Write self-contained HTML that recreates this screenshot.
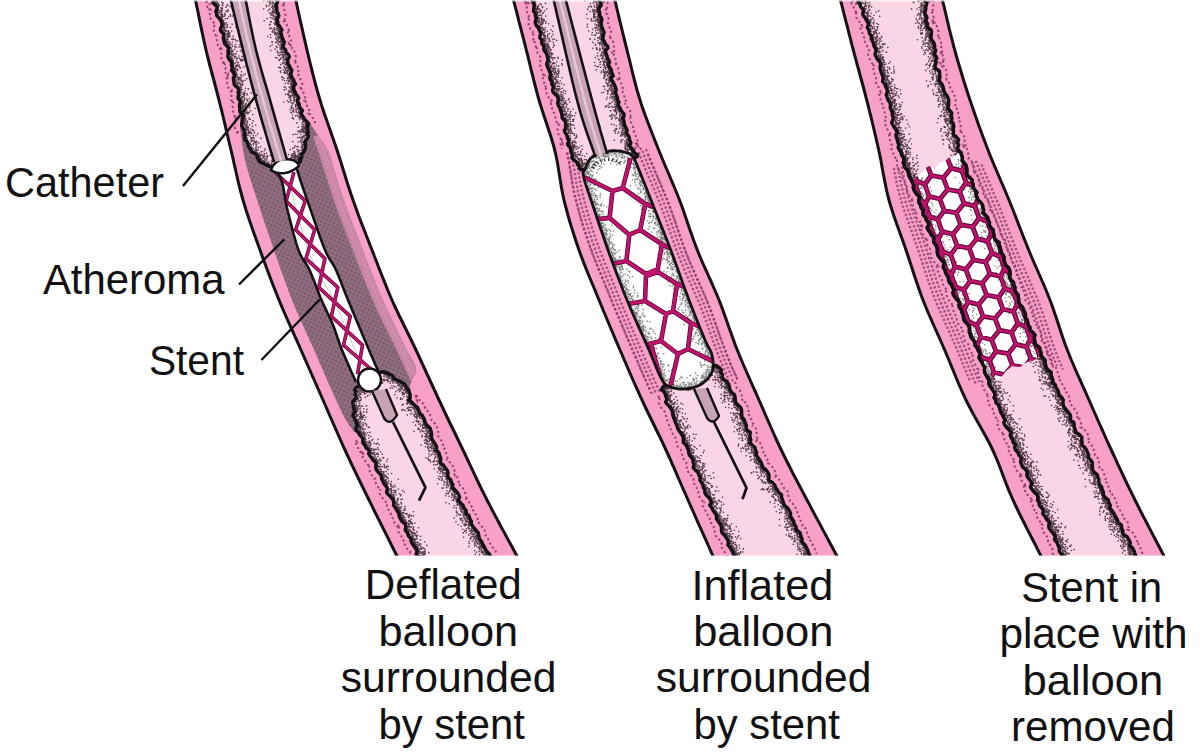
<!DOCTYPE html>
<html><head><meta charset="utf-8"><style>
html,body{margin:0;padding:0;background:#fff;width:1200px;height:754px;overflow:hidden}
svg{display:block}
text{font-family:"Liberation Sans",sans-serif;font-size:42.5px;fill:#111}
</style></head><body>
<svg width="1200" height="754" viewBox="0 0 1200 754">
<defs><clipPath id="tube0"><path d="M194.8,-3.0 194.8,-2.9 194.8,-3.2 194.7,-3.6 194.6,-4.1 194.5,-4.4 194.5,-4.6 194.6,-4.4 194.7,-3.6 195.0,-2.2 195.5,0.0 196.1,3.1 196.9,7.0 197.9,11.5 198.9,16.6 200.0,22.1 201.1,27.7 202.4,33.5 203.6,39.2 204.8,44.8 206.0,50.0 207.2,55.0 208.5,60.0 209.7,65.0 211.1,70.0 212.4,75.0 213.8,80.0 215.1,85.0 216.4,90.0 217.7,95.0 219.0,100.0 220.2,105.0 221.5,110.0 222.7,115.0 223.9,120.0 225.1,125.0 226.2,130.0 227.4,135.0 228.6,140.0 229.8,145.0 231.0,150.0 232.2,155.0 233.3,160.0 234.4,165.0 235.6,170.0 236.7,175.0 237.8,180.0 239.0,185.0 240.3,190.0 241.6,195.0 243.0,200.0 244.5,205.0 246.0,210.0 247.7,215.0 249.3,220.0 251.1,225.0 252.8,230.0 254.6,235.0 256.4,240.0 258.2,245.0 260.0,250.0 261.8,255.0 263.6,260.0 265.5,265.0 267.3,270.0 269.2,275.0 271.1,280.0 273.0,285.0 275.0,290.0 277.0,295.0 279.0,300.0 281.1,305.0 283.2,310.0 285.4,315.0 287.6,320.0 289.8,325.0 292.1,330.0 294.3,335.0 296.6,340.0 298.8,345.0 301.0,350.0 303.2,355.0 305.4,360.0 307.6,365.0 309.8,370.0 312.0,375.0 314.2,380.0 316.4,385.0 318.6,390.0 320.8,395.0 323.0,400.0 325.2,405.0 327.4,410.0 329.5,415.0 331.7,420.0 333.9,425.0 336.1,430.0 338.3,435.0 340.5,440.0 342.7,445.0 345.0,450.0 347.3,455.0 349.6,459.9 351.9,464.8 354.2,469.7 356.6,474.6 359.0,479.5 361.4,484.5 363.9,489.6 366.4,494.7 369.0,500.0 371.7,505.4 374.4,511.0 377.2,516.6 380.1,522.3 383.0,528.1 385.9,533.9 388.8,539.7 391.7,545.5 394.6,551.3 397.5,557.0 L517.5,557.0 514.4,551.3 511.3,545.5 508.1,539.7 505.0,533.9 501.8,528.1 498.7,522.3 495.7,516.6 492.7,511.0 489.8,505.4 487.0,500.0 484.3,494.7 481.8,489.6 479.3,484.5 476.9,479.5 474.6,474.6 472.3,469.7 470.0,464.8 467.7,459.9 465.4,455.0 463.0,450.0 460.6,445.0 458.2,440.0 455.8,435.0 453.4,430.0 450.9,425.0 448.5,420.0 446.1,415.0 443.7,410.0 441.4,405.0 439.0,400.0 436.7,395.0 434.4,390.0 432.1,385.0 429.8,380.0 427.5,375.0 425.2,370.0 422.9,365.0 420.6,360.0 418.3,355.0 416.0,350.0 413.6,345.0 411.2,340.0 408.7,335.0 406.3,330.0 403.8,325.0 401.4,320.0 398.9,315.0 396.6,310.0 394.2,305.0 392.0,300.0 389.8,295.0 387.7,290.0 385.7,285.0 383.7,280.0 381.7,275.0 379.7,270.0 377.8,265.0 375.9,260.0 373.9,255.0 372.0,250.0 370.0,245.0 368.1,240.0 366.1,235.0 364.2,230.0 362.2,225.0 360.3,220.0 358.4,215.0 356.6,210.0 354.8,205.0 353.0,200.0 351.3,195.0 349.6,190.0 348.0,185.0 346.4,180.0 344.9,175.0 343.3,170.0 341.8,165.0 340.2,160.0 338.6,155.0 337.0,150.0 335.3,145.0 333.6,140.0 331.8,135.0 330.1,130.0 328.3,125.0 326.6,120.0 324.8,115.0 323.2,110.0 321.5,105.0 320.0,100.0 318.5,95.0 317.1,90.0 315.7,85.0 314.4,80.0 313.1,75.0 311.9,70.0 310.6,65.0 309.4,60.0 308.2,55.0 307.0,50.0 305.8,44.8 304.5,39.2 303.2,33.5 301.9,27.7 300.6,22.1 299.4,16.6 298.3,11.5 297.3,7.0 296.5,3.1 295.8,0.0 295.3,-2.2 295.0,-3.6 294.8,-4.4 294.7,-4.6 294.7,-4.4 294.8,-4.1 294.9,-3.6 295.0,-3.2 295.0,-2.9 295.0,-3.0Z"/></clipPath>
<clipPath id="tube1"><path d="M512.8,-3.0 512.8,-2.9 512.7,-3.2 512.6,-3.6 512.5,-4.1 512.4,-4.4 512.3,-4.6 512.4,-4.4 512.6,-3.6 512.9,-2.2 513.5,0.0 514.3,3.1 515.3,7.0 516.5,11.5 517.8,16.6 519.1,22.1 520.6,27.7 522.1,33.5 523.6,39.2 525.0,44.8 526.3,50.0 527.6,55.0 528.8,60.0 530.0,65.0 531.2,70.0 532.5,75.0 533.7,80.0 535.0,85.0 536.3,90.0 537.6,95.0 539.0,100.0 540.5,105.0 542.1,110.0 543.7,115.0 545.4,120.0 547.1,125.0 548.7,130.0 550.4,135.0 551.9,140.0 553.4,145.0 554.7,150.0 555.9,155.0 556.9,160.0 557.8,165.0 558.6,170.0 559.4,175.0 560.2,180.0 561.0,185.0 561.9,190.0 562.9,195.0 564.0,200.0 565.2,205.0 566.6,210.0 567.9,215.0 569.3,220.0 570.8,225.0 572.4,230.0 574.0,235.0 575.6,240.0 577.3,245.0 579.0,250.0 580.8,255.0 582.7,260.0 584.6,265.0 586.6,270.0 588.6,275.0 590.7,280.0 592.8,285.0 594.9,290.0 596.9,295.0 599.0,300.0 601.1,305.0 603.1,310.0 605.2,315.0 607.3,320.0 609.4,325.0 611.5,330.0 613.6,335.0 615.7,340.0 617.9,345.0 620.0,350.0 622.2,355.0 624.3,360.0 626.5,365.0 628.6,370.0 630.8,375.0 633.0,380.0 635.2,385.0 637.5,390.0 639.7,395.0 642.0,400.0 644.3,405.0 646.7,410.0 649.1,415.0 651.6,420.0 654.0,425.0 656.4,430.0 658.9,435.0 661.3,440.0 663.7,445.0 666.0,450.0 668.3,455.0 670.5,459.9 672.6,464.8 674.8,469.7 676.9,474.6 679.0,479.5 681.2,484.5 683.4,489.6 685.7,494.7 688.0,500.0 690.4,505.4 692.9,511.0 695.4,516.6 697.9,522.3 700.5,528.1 703.1,533.9 705.7,539.7 708.3,545.5 710.9,551.3 713.5,557.0 L837.5,557.0 834.4,551.3 831.3,545.5 828.2,539.7 825.1,533.9 822.0,528.1 818.9,522.3 815.8,516.6 812.8,511.0 809.9,505.4 807.0,500.0 804.2,494.7 801.5,489.6 798.8,484.5 796.2,479.5 793.6,474.6 791.1,469.7 788.6,464.8 786.1,459.9 783.7,455.0 781.3,450.0 778.9,445.0 776.6,440.0 774.3,435.0 772.1,430.0 769.9,425.0 767.7,420.0 765.5,415.0 763.4,410.0 761.2,405.0 759.0,400.0 756.8,395.0 754.6,390.0 752.3,385.0 750.1,380.0 747.9,375.0 745.7,370.0 743.5,365.0 741.4,360.0 739.3,355.0 737.3,350.0 735.3,345.0 733.5,340.0 731.7,335.0 729.9,330.0 728.1,325.0 726.4,320.0 724.6,315.0 722.8,310.0 721.0,305.0 719.0,300.0 717.0,295.0 714.8,290.0 712.6,285.0 710.4,280.0 708.1,275.0 705.9,270.0 703.6,265.0 701.4,260.0 699.3,255.0 697.3,250.0 695.4,245.0 693.5,240.0 691.8,235.0 690.0,230.0 688.3,225.0 686.6,220.0 684.9,215.0 683.2,210.0 681.4,205.0 679.5,200.0 677.5,195.0 675.5,190.0 673.4,185.0 671.3,180.0 669.2,175.0 667.0,170.0 664.9,165.0 662.8,160.0 660.7,155.0 658.7,150.0 656.7,145.0 654.7,140.0 652.8,135.0 650.8,130.0 648.9,125.0 647.0,120.0 645.1,115.0 643.3,110.0 641.6,105.0 640.0,100.0 638.5,95.0 637.0,90.0 635.7,85.0 634.4,80.0 633.1,75.0 631.9,70.0 630.7,65.0 629.5,60.0 628.2,55.0 627.0,50.0 625.7,44.8 624.3,39.2 622.9,33.5 621.5,27.7 620.1,22.1 618.8,16.6 617.6,11.5 616.5,7.0 615.6,3.1 614.8,0.0 614.2,-2.2 613.9,-3.6 613.7,-4.4 613.6,-4.6 613.6,-4.4 613.7,-4.1 613.7,-3.6 613.8,-3.2 613.8,-2.9 613.8,-3.0Z"/></clipPath>
<clipPath id="tube2"><path d="M839.8,-3.0 839.8,-2.9 839.7,-3.2 839.6,-3.6 839.5,-4.1 839.4,-4.4 839.3,-4.6 839.4,-4.4 839.6,-3.6 839.9,-2.2 840.5,0.0 841.3,3.1 842.3,7.0 843.4,11.5 844.7,16.6 846.1,22.1 847.6,27.7 849.0,33.5 850.5,39.2 851.9,44.8 853.3,50.0 854.6,55.0 856.0,60.0 857.3,65.0 858.7,70.0 860.0,75.0 861.4,80.0 862.8,85.0 864.1,90.0 865.4,95.0 866.7,100.0 868.0,105.0 869.2,110.0 870.5,115.0 871.7,120.0 872.9,125.0 874.1,130.0 875.3,135.0 876.4,140.0 877.6,145.0 878.7,150.0 879.8,155.0 880.8,160.0 881.7,165.0 882.6,170.0 883.5,175.0 884.5,180.0 885.5,185.0 886.5,190.0 887.7,195.0 889.0,200.0 890.4,205.0 892.0,210.0 893.6,215.0 895.3,220.0 897.1,225.0 898.9,230.0 900.7,235.0 902.5,240.0 904.3,245.0 906.0,250.0 907.7,255.0 909.3,260.0 911.0,265.0 912.6,270.0 914.2,275.0 915.9,280.0 917.6,285.0 919.3,290.0 921.1,295.0 923.0,300.0 925.0,305.0 927.0,310.0 929.2,315.0 931.4,320.0 933.6,325.0 935.8,330.0 938.1,335.0 940.3,340.0 942.5,345.0 944.7,350.0 946.8,355.0 948.9,360.0 950.9,365.0 953.0,370.0 955.0,375.0 957.1,380.0 959.2,385.0 961.4,390.0 963.7,395.0 966.0,400.0 968.5,405.0 971.1,410.0 973.8,415.0 976.6,420.0 979.4,425.0 982.2,430.0 985.0,435.0 987.7,440.0 990.3,445.0 992.7,450.0 995.0,455.0 997.0,459.9 999.0,464.8 1000.9,469.7 1002.7,474.6 1004.6,479.5 1006.5,484.5 1008.5,489.6 1010.7,494.7 1013.0,500.0 1015.5,505.4 1018.2,511.0 1020.9,516.6 1023.8,522.3 1026.7,528.1 1029.7,533.9 1032.7,539.7 1035.7,545.5 1038.6,551.3 1041.5,557.0 L1164.5,557.0 1161.5,551.3 1158.5,545.5 1155.5,539.7 1152.4,533.9 1149.4,528.1 1146.4,522.3 1143.4,516.6 1140.5,511.0 1137.7,505.4 1135.0,500.0 1132.4,494.7 1129.9,489.6 1127.4,484.5 1125.0,479.5 1122.7,474.6 1120.4,469.7 1118.1,464.8 1115.9,459.9 1113.6,455.0 1111.3,450.0 1109.0,445.0 1106.7,440.0 1104.5,435.0 1102.3,430.0 1100.0,425.0 1097.8,420.0 1095.6,415.0 1093.4,410.0 1091.2,405.0 1089.0,400.0 1086.8,395.0 1084.6,390.0 1082.3,385.0 1080.1,380.0 1077.8,375.0 1075.6,370.0 1073.5,365.0 1071.3,360.0 1069.3,355.0 1067.3,350.0 1065.4,345.0 1063.6,340.0 1061.9,335.0 1060.3,330.0 1058.6,325.0 1057.0,320.0 1055.3,315.0 1053.6,310.0 1051.9,305.0 1050.0,300.0 1048.0,295.0 1046.0,290.0 1043.9,285.0 1041.7,280.0 1039.5,275.0 1037.3,270.0 1035.1,265.0 1032.9,260.0 1030.8,255.0 1028.7,250.0 1026.7,245.0 1024.7,240.0 1022.7,235.0 1020.8,230.0 1018.8,225.0 1016.9,220.0 1015.0,215.0 1013.0,210.0 1011.0,205.0 1009.0,200.0 1006.9,195.0 1004.8,190.0 1002.7,185.0 1000.5,180.0 998.4,175.0 996.2,170.0 994.1,165.0 992.0,160.0 990.0,155.0 988.0,150.0 986.1,145.0 984.2,140.0 982.3,135.0 980.5,130.0 978.6,125.0 976.9,120.0 975.1,115.0 973.4,110.0 971.7,105.0 970.0,100.0 968.3,95.0 966.7,90.0 965.1,85.0 963.5,80.0 962.0,75.0 960.5,70.0 959.0,65.0 957.5,60.0 956.1,55.0 954.7,50.0 953.3,44.8 951.9,39.2 950.4,33.5 949.0,27.7 947.7,22.1 946.4,16.6 945.2,11.5 944.2,7.0 943.2,3.1 942.5,0.0 942.0,-2.2 941.6,-3.6 941.4,-4.4 941.4,-4.6 941.4,-4.4 941.5,-4.1 941.6,-3.6 941.8,-3.2 941.8,-2.9 941.8,-3.0Z"/></clipPath>
<filter id="bl2" x="-20%" y="-20%" width="140%" height="140%"><feGaussianBlur stdDeviation="2"/></filter>
<filter id="bl3" x="-20%" y="-20%" width="140%" height="140%"><feGaussianBlur stdDeviation="3"/></filter>
<filter id="bl4" x="-20%" y="-20%" width="140%" height="140%"><feGaussianBlur stdDeviation="4"/></filter>
<pattern id="athp" width="4" height="4" patternUnits="userSpaceOnUse" patternTransform="rotate(25)"><rect width="4" height="4" fill="#8f6e80"/><circle cx="1" cy="1" r="0.8" fill="#5c3a4c"/></pattern>
<clipPath id="lum7"><path d="M212.3,-3.0 212.3,-2.8 212.3,-2.7 212.3,-2.6 212.3,-2.6 212.3,-2.6 212.3,-2.4 212.3,-2.1 212.5,-1.7 212.7,-1.0 213.0,0.0 213.4,1.3 214.0,2.9 214.6,4.8 215.3,6.8 216.1,8.9 216.9,11.2 217.7,13.5 218.4,15.7 219.1,17.9 219.7,20.0 220.2,22.0 220.7,24.0 221.2,26.0 221.6,28.0 222.1,30.0 222.5,32.0 222.9,34.0 223.3,36.0 223.8,38.0 224.3,40.0 224.8,42.0 225.4,44.0 226.0,46.0 226.6,48.0 227.2,50.0 227.7,52.0 228.3,54.0 228.9,56.0 229.5,58.0 230.0,60.0 230.5,62.0 231.0,64.0 231.5,66.0 231.9,68.0 232.4,70.0 232.8,72.0 233.3,74.0 233.7,76.0 234.1,78.0 234.6,80.0 235.1,82.0 235.5,84.0 236.0,86.0 236.5,88.0 237.0,90.0 237.5,92.0 238.0,94.0 238.4,96.0 238.8,98.0 239.2,100.0 239.5,102.0 239.9,104.0 240.1,106.0 240.4,108.0 240.7,110.0 240.9,112.0 241.2,114.0 241.4,116.0 241.7,118.0 242.0,120.0 242.3,122.0 242.6,124.1 242.8,126.1 243.1,128.2 243.4,130.2 243.7,132.3 244.1,134.3 244.5,136.3 245.1,138.2 245.7,140.0 246.5,141.8 247.3,143.6 248.3,145.3 249.4,147.0 250.5,148.7 251.6,150.3 252.7,151.8 253.9,153.3 255.0,154.7 256.0,156.0 257.0,157.2 257.9,158.3 258.8,159.3 259.6,160.3 260.5,161.2 261.4,162.0 262.4,162.8 263.5,163.6 264.7,164.3 266.0,165.0 267.5,165.7 269.1,166.3 270.8,166.8 272.6,167.3 274.5,167.8 276.4,168.2 278.3,168.6 280.3,169.1 282.2,169.5 284.0,170.0 L284.0,170.0 285.3,169.3 286.7,168.6 288.2,167.9 289.6,167.2 291.0,166.4 292.4,165.7 293.7,165.0 294.9,164.3 296.0,163.7 297.0,163.0 297.8,162.4 298.5,161.9 299.1,161.4 299.6,161.0 300.1,160.5 300.5,160.0 300.8,159.4 301.2,158.8 301.6,158.0 302.0,157.0 302.4,155.9 302.9,154.5 303.3,153.1 303.7,151.5 304.1,149.9 304.5,148.2 304.9,146.6 305.3,145.0 305.7,143.4 306.0,142.0 306.4,140.7 306.7,139.4 307.1,138.1 307.5,136.9 307.9,135.7 308.2,134.5 308.5,133.4 308.7,132.2 308.8,131.1 308.8,130.0 308.7,129.0 308.5,128.0 308.3,127.2 307.9,126.3 307.5,125.5 307.1,124.6 306.6,123.7 306.1,122.6 305.6,121.4 305.0,120.0 304.4,118.4 303.7,116.6 303.0,114.7 302.2,112.7 301.4,110.6 300.6,108.5 299.8,106.3 299.0,104.2 298.3,102.0 297.7,100.0 297.1,98.0 296.6,96.0 296.1,94.0 295.6,92.0 295.2,90.0 294.7,88.0 294.3,86.0 293.9,84.0 293.5,82.0 293.0,80.0 292.5,78.0 292.1,76.0 291.6,74.0 291.2,72.0 290.8,70.0 290.3,68.0 289.9,66.0 289.4,64.0 288.9,62.0 288.4,60.0 287.9,58.0 287.3,56.0 286.8,54.0 286.2,52.0 285.6,50.0 285.0,48.0 284.4,46.0 283.9,44.0 283.3,42.0 282.8,40.0 282.3,38.0 281.8,36.0 281.3,34.0 280.8,32.0 280.3,30.0 279.8,28.0 279.4,26.0 278.9,24.0 278.5,22.0 278.2,20.0 277.9,17.9 277.6,15.7 277.4,13.5 277.2,11.2 277.0,8.9 276.8,6.8 276.7,4.8 276.5,2.9 276.4,1.3 276.3,0.0 276.2,-1.0 276.1,-1.7 276.0,-2.1 276.0,-2.4 276.0,-2.6 275.9,-2.6 275.9,-2.6 275.9,-2.7 275.8,-2.8 275.8,-3.0Z"/></clipPath>
<clipPath id="lum8"><path d="M369.0,380.0 367.8,380.8 366.5,381.5 365.1,382.3 363.8,383.0 362.4,383.8 361.2,384.5 359.9,385.3 358.8,386.1 357.8,387.0 357.0,388.0 356.3,389.0 355.8,390.0 355.3,391.1 355.0,392.1 354.7,393.2 354.5,394.4 354.3,395.7 354.2,397.0 354.1,398.5 354.0,400.0 353.9,401.7 353.8,403.5 353.8,405.4 353.8,407.4 353.9,409.5 354.0,411.6 354.1,413.7 354.4,415.9 354.6,418.0 355.0,420.0 355.5,422.0 356.0,424.1 356.7,426.3 357.4,428.4 358.1,430.5 358.9,432.6 359.7,434.6 360.5,436.5 361.3,438.3 362.0,440.0 362.7,441.5 363.3,442.7 364.0,443.8 364.6,444.8 365.2,445.8 365.9,446.8 366.6,447.8 367.3,449.0 368.1,450.4 369.0,452.0 369.9,453.8 370.9,455.9 372.0,458.0 373.1,460.3 374.2,462.7 375.3,465.1 376.5,467.6 377.7,470.1 378.8,472.6 380.0,475.0 381.2,477.4 382.3,479.8 383.5,482.3 384.7,484.8 385.9,487.2 387.1,489.8 388.3,492.3 389.5,494.8 390.8,497.4 392.0,500.0 393.3,502.6 394.5,505.2 395.8,507.9 397.1,510.5 398.4,513.2 399.7,515.9 401.0,518.6 402.3,521.4 403.7,524.2 405.0,527.0 406.4,529.9 407.7,532.8 409.1,535.8 410.5,538.8 411.9,541.8 413.4,544.9 414.8,547.9 416.2,551.0 417.6,554.0 419.0,557.0 L490.0,557.0 488.4,554.0 486.8,551.0 485.1,547.9 483.5,544.9 481.9,541.8 480.3,538.8 478.7,535.8 477.1,532.8 475.5,529.9 474.0,527.0 472.5,524.2 471.0,521.4 469.6,518.6 468.2,515.9 466.8,513.2 465.4,510.5 464.0,507.9 462.6,505.2 461.3,502.6 460.0,500.0 458.7,497.4 457.5,494.9 456.2,492.4 455.0,489.9 453.8,487.4 452.6,484.9 451.5,482.4 450.3,480.0 449.2,477.5 448.0,475.0 446.9,472.5 445.8,470.1 444.7,467.7 443.6,465.2 442.5,462.8 441.4,460.4 440.3,457.9 439.2,455.3 438.1,452.7 437.0,450.0 435.8,447.2 434.7,444.2 433.5,441.1 432.4,437.9 431.2,434.7 430.0,431.5 428.8,428.4 427.5,425.4 426.3,422.6 425.0,420.0 423.6,417.6 422.2,415.3 420.7,413.1 419.1,411.0 417.6,409.0 416.0,407.1 414.6,405.2 413.3,403.5 412.0,401.7 411.0,400.0 410.2,398.3 409.5,396.7 409.1,395.2 408.7,393.7 408.4,392.2 408.1,390.9 407.7,389.6 407.3,388.3 406.7,387.1 406.0,386.0 405.1,384.9 404.0,384.0 402.9,383.1 401.7,382.3 400.4,381.5 399.1,380.8 397.7,380.1 396.4,379.4 395.2,378.7 394.0,378.0 392.9,377.3 391.8,376.4 390.7,375.6 389.7,374.8 388.6,374.0 387.6,373.3 386.5,372.7 385.4,372.3 384.2,372.0 383.0,372.0 381.7,372.2 380.4,372.7 379.0,373.4 377.6,374.2 376.2,375.1 374.7,376.1 373.3,377.2 371.8,378.2 370.4,379.1 369.0,380.0Z"/></clipPath>
<clipPath id="lum9"><path d="M531.5,-3.0 531.6,-2.8 531.6,-2.7 531.6,-2.6 531.7,-2.6 531.7,-2.6 531.8,-2.4 531.8,-2.1 532.0,-1.7 532.1,-1.0 532.3,0.0 532.5,1.3 532.8,2.9 533.1,4.8 533.5,6.8 533.8,8.9 534.2,11.2 534.7,13.5 535.1,15.7 535.5,17.9 536.0,20.0 536.5,22.0 537.0,24.0 537.5,26.0 538.1,28.0 538.7,30.0 539.3,32.0 539.9,34.0 540.5,36.0 541.0,38.0 541.6,40.0 542.2,42.0 542.7,44.0 543.3,46.0 543.9,48.0 544.5,50.0 545.0,52.0 545.6,54.0 546.1,56.0 546.6,58.0 547.1,60.0 547.5,62.0 547.9,64.0 548.3,66.0 548.6,68.0 548.9,70.0 549.2,72.0 549.5,74.0 549.9,76.0 550.3,78.0 550.8,80.0 551.3,82.0 551.9,84.0 552.5,86.0 553.2,88.0 553.9,90.0 554.6,92.0 555.3,94.0 556.0,96.0 556.6,98.0 557.3,100.0 558.0,102.0 558.6,104.0 559.3,106.0 560.0,108.0 560.7,110.0 561.4,112.0 562.0,114.0 562.7,116.0 563.3,118.0 563.8,120.0 564.3,122.0 564.7,124.1 565.2,126.3 565.5,128.4 565.9,130.5 566.2,132.6 566.6,134.6 566.9,136.5 567.2,138.3 567.6,140.0 567.9,141.5 568.2,142.8 568.4,144.0 568.6,145.1 568.8,146.1 569.0,147.2 569.4,148.2 569.8,149.3 570.3,150.6 571.0,152.0 571.8,153.7 572.8,155.7 573.8,158.0 574.9,160.4 576.1,162.7 577.4,164.9 578.8,166.8 580.1,168.4 581.6,169.5 583.0,170.0 584.5,169.8 586.1,169.1 587.7,167.9 589.4,166.4 591.2,164.6 593.0,162.6 594.7,160.5 596.5,158.5 598.3,156.6 600.0,155.0 L600.0,155.0 603.6,155.3 607.4,155.8 611.3,156.2 615.3,156.7 619.2,157.2 622.9,157.6 626.4,157.9 629.4,158.1 632.0,158.1 634.0,158.0 635.3,157.7 636.1,157.1 636.4,156.5 636.3,155.7 635.9,154.8 635.3,153.9 634.6,152.9 634.0,151.9 633.4,150.9 633.0,150.0 632.7,149.1 632.4,148.3 632.0,147.5 631.6,146.6 631.1,145.8 630.7,144.8 630.2,143.8 629.7,142.7 629.3,141.4 628.8,140.0 628.4,138.4 627.9,136.6 627.5,134.7 627.1,132.7 626.6,130.6 626.2,128.5 625.7,126.3 625.2,124.2 624.7,122.0 624.2,120.0 623.6,118.0 623.0,116.0 622.3,114.0 621.7,112.0 621.0,110.0 620.3,108.0 619.6,106.0 618.9,104.0 618.3,102.0 617.7,100.0 617.2,98.0 616.6,96.0 616.2,94.0 615.7,92.0 615.2,90.0 614.8,88.0 614.3,86.0 613.9,84.0 613.5,82.0 613.0,80.0 612.5,78.0 612.1,76.0 611.6,74.0 611.1,72.0 610.6,70.0 610.2,68.0 609.7,66.0 609.3,64.0 608.8,62.0 608.4,60.0 608.0,58.0 607.6,56.0 607.2,54.0 606.9,52.0 606.5,50.0 606.1,48.0 605.8,46.0 605.4,44.0 605.1,42.0 604.7,40.0 604.3,38.0 603.9,36.0 603.5,34.0 603.1,32.0 602.7,30.0 602.4,28.0 602.0,26.0 601.6,24.0 601.3,22.0 601.0,20.0 600.7,17.9 600.5,15.7 600.2,13.5 600.0,11.2 599.8,8.9 599.7,6.8 599.5,4.8 599.3,2.9 599.2,1.3 599.1,0.0 599.0,-1.0 598.9,-1.7 598.9,-2.1 598.9,-2.4 598.9,-2.6 598.8,-2.6 598.8,-2.6 598.8,-2.7 598.8,-2.8 598.8,-3.0Z"/></clipPath>
<clipPath id="lum10"><path d="M690.0,389.0 687.3,388.6 684.3,388.1 681.3,387.6 678.2,387.0 675.2,386.4 672.3,386.0 669.7,385.7 667.3,385.5 665.4,385.6 664.0,386.0 663.1,386.7 662.6,387.5 662.5,388.6 662.8,389.8 663.2,391.2 663.9,392.8 664.7,394.5 665.5,396.2 666.3,398.1 667.0,400.0 667.7,402.1 668.5,404.3 669.5,406.7 670.4,409.2 671.5,411.8 672.6,414.5 673.7,417.2 674.8,419.8 675.9,422.5 677.0,425.0 678.1,427.5 679.2,430.0 680.3,432.5 681.4,435.0 682.5,437.5 683.6,440.0 684.7,442.5 685.8,445.0 686.9,447.5 688.0,450.0 689.0,452.5 690.0,455.0 691.0,457.5 692.0,460.0 693.0,462.5 694.0,465.0 695.0,467.5 696.0,470.0 697.0,472.5 698.0,475.0 699.1,477.5 700.1,480.0 701.2,482.4 702.3,484.9 703.4,487.4 704.5,489.9 705.6,492.4 706.7,494.9 707.9,497.4 709.0,500.0 710.2,502.6 711.3,505.2 712.5,507.9 713.6,510.5 714.8,513.2 716.0,515.9 717.2,518.6 718.5,521.4 719.7,524.2 721.0,527.0 722.3,529.9 723.7,532.8 725.1,535.8 726.5,538.8 727.9,541.8 729.3,544.9 730.7,547.9 732.2,551.0 733.6,554.0 735.0,557.0 L811.0,557.0 809.5,554.0 808.0,551.0 806.4,547.9 804.9,544.9 803.4,541.8 801.9,538.8 800.4,535.8 798.9,532.8 797.4,529.9 796.0,527.0 794.6,524.2 793.3,521.4 792.0,518.6 790.8,515.9 789.5,513.2 788.2,510.5 787.0,507.9 785.7,505.2 784.4,502.6 783.0,500.0 781.6,497.4 780.1,494.9 778.6,492.4 777.1,489.9 775.5,487.4 774.0,484.9 772.4,482.4 770.9,480.0 769.4,477.5 768.0,475.0 766.6,472.5 765.2,470.0 763.7,467.5 762.3,465.0 761.0,462.5 759.6,460.0 758.3,457.5 757.0,455.0 755.8,452.5 754.7,450.0 753.6,447.5 752.7,445.0 751.8,442.5 751.0,440.0 750.1,437.5 749.4,435.0 748.6,432.5 747.7,430.0 746.9,427.5 746.0,425.0 745.1,422.5 744.1,420.0 743.2,417.5 742.3,415.0 741.3,412.5 740.4,410.0 739.3,407.5 738.3,405.0 737.2,402.5 736.0,400.0 734.7,397.4 733.4,394.7 731.9,392.0 730.4,389.2 728.9,386.5 727.4,383.8 725.9,381.3 724.5,379.0 723.2,376.9 722.0,375.0 721.0,373.3 720.3,371.7 719.7,370.1 719.1,368.7 718.6,367.5 718.1,366.5 717.4,365.8 716.5,365.5 715.4,365.5 714.0,366.0 712.2,367.0 710.2,368.6 708.0,370.5 705.6,372.9 703.0,375.5 700.4,378.3 697.7,381.1 695.1,383.9 692.5,386.6 690.0,389.0Z"/></clipPath>
<clipPath id="balc"><path d="M583.0,173.0 584.4,170.2 585.7,167.3 586.9,164.4 588.3,161.6 590.0,159.1 592.0,157.0 594.5,155.3 597.5,154.0 600.7,152.9 604.0,152.1 607.1,151.5 610.0,151.0 612.6,150.7 615.1,150.7 617.6,150.8 619.9,151.1 622.0,151.5 624.0,152.0 625.8,152.5 627.4,152.9 628.9,153.4 630.3,154.2 631.6,155.4 633.0,157.0 634.4,159.2 635.7,161.8 636.9,164.8 638.2,168.0 639.6,171.4 641.0,175.0 642.4,178.5 643.8,181.9 645.3,185.5 646.9,189.6 648.7,194.3 651.0,200.0 653.7,206.9 656.9,214.8 660.3,223.4 663.9,232.4 667.4,241.4 670.7,250.0 673.9,258.4 677.0,267.0 680.1,275.6 683.1,284.1 686.1,292.2 689.0,300.0 691.9,307.5 694.8,315.0 697.7,322.2 700.4,328.9 702.9,334.9 705.0,340.0 706.8,343.9 708.3,346.8 709.5,348.9 710.5,350.8 711.3,352.7 712.0,355.0 712.5,357.8 713.0,360.7 713.2,363.6 713.1,366.6 712.8,369.4 712.0,372.0 710.8,374.5 709.1,377.0 707.1,379.3 704.9,381.5 702.5,383.4 700.0,385.0 697.3,386.3 694.3,387.3 691.1,388.0 687.9,388.5 684.8,388.8 682.0,389.0 679.4,389.0 676.8,388.7 674.3,388.2 672.0,387.6 669.9,386.9 668.0,386.0 666.5,385.2 665.3,384.4 664.4,383.6 663.4,382.3 662.4,380.5 661.0,378.0 659.4,374.7 657.7,371.0 655.9,366.6 653.9,361.7 651.6,356.2 649.0,350.0 645.9,342.9 642.3,335.0 638.4,326.4 634.5,317.5 630.6,308.6 627.0,300.0 623.6,291.7 620.4,283.3 617.2,275.0 614.1,266.7 611.0,258.3 608.0,250.0 604.9,241.3 601.8,232.1 598.7,223.0 595.8,214.3 593.2,206.5 591.0,200.0 589.3,195.0 588.0,191.3 587.1,188.4 586.3,186.1 585.6,184.1 585.0,182.0 584.4,180.0 584.0,178.3 583.8,176.9 583.5,175.7 583.3,174.4 583.0,173.0Z"/></clipPath>
<clipPath id="lum12"><path d="M857.5,-3.0 857.6,-2.8 857.6,-2.7 857.6,-2.6 857.6,-2.6 857.6,-2.6 857.6,-2.4 857.7,-2.1 857.9,-1.7 858.1,-1.0 858.5,0.0 859.0,1.3 859.6,2.8 860.2,4.4 860.9,6.3 861.7,8.3 862.6,10.5 863.4,12.7 864.3,15.1 865.1,17.5 866.0,20.0 866.8,22.5 867.7,25.0 868.5,27.6 869.4,30.3 870.3,33.1 871.2,36.1 872.2,39.2 873.1,42.6 874.2,46.1 875.3,50.0 876.5,54.2 877.8,58.7 879.1,63.5 880.5,68.6 881.9,73.8 883.3,79.0 884.7,84.4 886.1,89.7 887.4,94.9 888.7,100.0 889.9,105.0 891.0,110.0 892.0,115.0 893.0,120.0 894.0,125.0 895.0,130.0 896.1,135.0 897.3,140.0 898.6,145.0 900.0,150.0 901.6,155.0 903.3,160.0 905.2,165.0 907.1,170.0 909.1,175.0 911.1,180.0 913.1,185.0 915.1,190.0 917.1,195.0 919.0,200.0 920.9,205.0 922.7,210.0 924.5,215.0 926.3,220.0 928.1,225.0 929.9,230.0 931.7,235.0 933.6,240.0 935.4,245.0 937.3,250.0 939.2,255.0 941.1,260.0 943.1,265.0 945.1,270.0 947.0,275.0 949.0,280.0 951.0,285.0 953.0,290.0 955.0,295.0 957.0,300.0 959.0,305.0 961.0,310.0 963.1,315.0 965.2,320.0 967.2,325.0 969.3,330.0 971.3,335.0 973.3,340.0 975.3,345.0 977.3,350.0 979.2,355.0 981.1,360.0 983.0,365.0 984.8,370.0 986.6,375.0 988.5,380.0 990.3,385.0 992.2,390.0 994.1,395.0 996.0,400.0 998.0,405.0 1000.0,410.0 1002.0,415.0 1004.1,420.0 1006.2,425.0 1008.3,430.0 1010.4,435.0 1012.5,440.0 1014.6,445.0 1016.7,450.0 1018.8,455.0 1020.9,459.9 1022.9,464.8 1025.0,469.7 1027.1,474.6 1029.2,479.5 1031.3,484.5 1033.5,489.6 1035.7,494.7 1038.0,500.0 1040.4,505.4 1042.8,511.0 1045.2,516.6 1047.7,522.3 1050.3,528.1 1052.8,533.9 1055.4,539.7 1057.9,545.5 1060.5,551.3 1063.0,557.0 L1137.0,557.0 1134.0,551.3 1130.9,545.5 1127.7,539.7 1124.6,533.9 1121.4,528.1 1118.4,522.3 1115.3,516.6 1112.4,511.0 1109.6,505.4 1107.0,500.0 1104.5,494.7 1102.3,489.6 1100.1,484.5 1098.1,479.5 1096.1,474.6 1094.2,469.7 1092.2,464.8 1090.2,459.9 1088.2,455.0 1086.0,450.0 1083.7,445.0 1081.4,440.0 1079.0,435.0 1076.6,430.0 1074.1,425.0 1071.7,420.0 1069.2,415.0 1066.8,410.0 1064.4,405.0 1062.0,400.0 1059.7,395.0 1057.3,390.0 1055.0,385.0 1052.7,380.0 1050.4,375.0 1048.1,370.0 1045.9,365.0 1043.7,360.0 1041.5,355.0 1039.3,350.0 1037.2,345.0 1035.1,340.0 1033.0,335.0 1030.9,330.0 1028.9,325.0 1026.9,320.0 1024.9,315.0 1022.9,310.0 1020.9,305.0 1019.0,300.0 1017.1,295.0 1015.3,290.0 1013.5,285.0 1011.7,280.0 1009.9,275.0 1008.2,270.0 1006.4,265.0 1004.5,260.0 1002.7,255.0 1000.7,250.0 998.7,245.0 996.5,240.0 994.4,235.0 992.2,230.0 989.9,225.0 987.7,220.0 985.5,215.0 983.3,210.0 981.1,205.0 979.0,200.0 976.9,195.0 974.8,190.0 972.7,185.0 970.6,180.0 968.5,175.0 966.5,170.0 964.6,165.0 962.7,160.0 960.9,155.0 959.3,150.0 957.8,144.9 956.4,139.6 955.0,134.2 953.8,128.8 952.6,123.4 951.5,118.2 950.4,113.2 949.4,108.4 948.3,104.0 947.3,100.0 946.3,96.4 945.2,93.2 944.2,90.3 943.2,87.7 942.3,85.3 941.4,83.1 940.6,81.0 939.8,79.0 939.1,77.0 938.5,75.0 938.0,73.1 937.6,71.4 937.3,69.9 937.1,68.5 936.9,67.2 936.7,65.9 936.6,64.6 936.4,63.2 936.2,61.7 936.0,60.0 935.7,58.2 935.5,56.3 935.2,54.4 935.0,52.4 934.8,50.3 934.5,48.2 934.2,46.2 933.8,44.1 933.4,42.0 933.0,40.0 932.5,38.0 931.8,36.0 931.1,34.0 930.4,32.0 929.6,30.0 928.9,28.0 928.2,26.0 927.5,24.0 926.9,22.0 926.5,20.0 926.2,17.9 925.9,15.7 925.8,13.5 925.7,11.2 925.6,8.9 925.6,6.8 925.6,4.8 925.6,2.9 925.5,1.3 925.5,0.0 925.4,-1.0 925.4,-1.7 925.4,-2.1 925.4,-2.4 925.3,-2.6 925.3,-2.6 925.3,-2.6 925.3,-2.7 925.3,-2.8 925.3,-3.0Z"/></clipPath>
<clipPath id="st3c"><path d="M913.0,182.0 917.0,176.0 922.0,173.0 925.0,168.0 930.0,166.0 935.0,169.0 939.0,163.0 945.0,161.0 950.0,157.0 955.0,156.0 958.0,153.0 962.0,157.0 970.0,178.0 979.0,200.0 1000.7,250.0 1019.0,300.0 1039.0,350.0 1040.0,356.0 1034.0,360.0 1027.0,362.0 1020.0,367.0 1012.0,366.0 1006.0,371.0 999.0,380.0 993.0,377.0 987.0,373.0 983.0,366.0 977.3,350.0 957.0,300.0 937.3,250.0 919.0,200.0Z"/></clipPath></defs>
<rect width="1200" height="754" fill="#fff"/>
<path d="M194.8,-3.0 194.8,-2.9 194.8,-3.2 194.7,-3.6 194.6,-4.1 194.5,-4.4 194.5,-4.6 194.6,-4.4 194.7,-3.6 195.0,-2.2 195.5,0.0 196.1,3.1 196.9,7.0 197.9,11.5 198.9,16.6 200.0,22.1 201.1,27.7 202.4,33.5 203.6,39.2 204.8,44.8 206.0,50.0 207.2,55.0 208.5,60.0 209.7,65.0 211.1,70.0 212.4,75.0 213.8,80.0 215.1,85.0 216.4,90.0 217.7,95.0 219.0,100.0 220.2,105.0 221.5,110.0 222.7,115.0 223.9,120.0 225.1,125.0 226.2,130.0 227.4,135.0 228.6,140.0 229.8,145.0 231.0,150.0 232.2,155.0 233.3,160.0 234.4,165.0 235.6,170.0 236.7,175.0 237.8,180.0 239.0,185.0 240.3,190.0 241.6,195.0 243.0,200.0 244.5,205.0 246.0,210.0 247.7,215.0 249.3,220.0 251.1,225.0 252.8,230.0 254.6,235.0 256.4,240.0 258.2,245.0 260.0,250.0 261.8,255.0 263.6,260.0 265.5,265.0 267.3,270.0 269.2,275.0 271.1,280.0 273.0,285.0 275.0,290.0 277.0,295.0 279.0,300.0 281.1,305.0 283.2,310.0 285.4,315.0 287.6,320.0 289.8,325.0 292.1,330.0 294.3,335.0 296.6,340.0 298.8,345.0 301.0,350.0 303.2,355.0 305.4,360.0 307.6,365.0 309.8,370.0 312.0,375.0 314.2,380.0 316.4,385.0 318.6,390.0 320.8,395.0 323.0,400.0 325.2,405.0 327.4,410.0 329.5,415.0 331.7,420.0 333.9,425.0 336.1,430.0 338.3,435.0 340.5,440.0 342.7,445.0 345.0,450.0 347.3,455.0 349.6,459.9 351.9,464.8 354.2,469.7 356.6,474.6 359.0,479.5 361.4,484.5 363.9,489.6 366.4,494.7 369.0,500.0 371.7,505.4 374.4,511.0 377.2,516.6 380.1,522.3 383.0,528.1 385.9,533.9 388.8,539.7 391.7,545.5 394.6,551.3 397.5,557.0 L517.5,557.0 514.4,551.3 511.3,545.5 508.1,539.7 505.0,533.9 501.8,528.1 498.7,522.3 495.7,516.6 492.7,511.0 489.8,505.4 487.0,500.0 484.3,494.7 481.8,489.6 479.3,484.5 476.9,479.5 474.6,474.6 472.3,469.7 470.0,464.8 467.7,459.9 465.4,455.0 463.0,450.0 460.6,445.0 458.2,440.0 455.8,435.0 453.4,430.0 450.9,425.0 448.5,420.0 446.1,415.0 443.7,410.0 441.4,405.0 439.0,400.0 436.7,395.0 434.4,390.0 432.1,385.0 429.8,380.0 427.5,375.0 425.2,370.0 422.9,365.0 420.6,360.0 418.3,355.0 416.0,350.0 413.6,345.0 411.2,340.0 408.7,335.0 406.3,330.0 403.8,325.0 401.4,320.0 398.9,315.0 396.6,310.0 394.2,305.0 392.0,300.0 389.8,295.0 387.7,290.0 385.7,285.0 383.7,280.0 381.7,275.0 379.7,270.0 377.8,265.0 375.9,260.0 373.9,255.0 372.0,250.0 370.0,245.0 368.1,240.0 366.1,235.0 364.2,230.0 362.2,225.0 360.3,220.0 358.4,215.0 356.6,210.0 354.8,205.0 353.0,200.0 351.3,195.0 349.6,190.0 348.0,185.0 346.4,180.0 344.9,175.0 343.3,170.0 341.8,165.0 340.2,160.0 338.6,155.0 337.0,150.0 335.3,145.0 333.6,140.0 331.8,135.0 330.1,130.0 328.3,125.0 326.6,120.0 324.8,115.0 323.2,110.0 321.5,105.0 320.0,100.0 318.5,95.0 317.1,90.0 315.7,85.0 314.4,80.0 313.1,75.0 311.9,70.0 310.6,65.0 309.4,60.0 308.2,55.0 307.0,50.0 305.8,44.8 304.5,39.2 303.2,33.5 301.9,27.7 300.6,22.1 299.4,16.6 298.3,11.5 297.3,7.0 296.5,3.1 295.8,0.0 295.3,-2.2 295.0,-3.6 294.8,-4.4 294.7,-4.6 294.7,-4.4 294.8,-4.1 294.9,-3.6 295.0,-3.2 295.0,-2.9 295.0,-3.0Z" fill="#f9a0c9"/>
<path d="M512.8,-3.0 512.8,-2.9 512.7,-3.2 512.6,-3.6 512.5,-4.1 512.4,-4.4 512.3,-4.6 512.4,-4.4 512.6,-3.6 512.9,-2.2 513.5,0.0 514.3,3.1 515.3,7.0 516.5,11.5 517.8,16.6 519.1,22.1 520.6,27.7 522.1,33.5 523.6,39.2 525.0,44.8 526.3,50.0 527.6,55.0 528.8,60.0 530.0,65.0 531.2,70.0 532.5,75.0 533.7,80.0 535.0,85.0 536.3,90.0 537.6,95.0 539.0,100.0 540.5,105.0 542.1,110.0 543.7,115.0 545.4,120.0 547.1,125.0 548.7,130.0 550.4,135.0 551.9,140.0 553.4,145.0 554.7,150.0 555.9,155.0 556.9,160.0 557.8,165.0 558.6,170.0 559.4,175.0 560.2,180.0 561.0,185.0 561.9,190.0 562.9,195.0 564.0,200.0 565.2,205.0 566.6,210.0 567.9,215.0 569.3,220.0 570.8,225.0 572.4,230.0 574.0,235.0 575.6,240.0 577.3,245.0 579.0,250.0 580.8,255.0 582.7,260.0 584.6,265.0 586.6,270.0 588.6,275.0 590.7,280.0 592.8,285.0 594.9,290.0 596.9,295.0 599.0,300.0 601.1,305.0 603.1,310.0 605.2,315.0 607.3,320.0 609.4,325.0 611.5,330.0 613.6,335.0 615.7,340.0 617.9,345.0 620.0,350.0 622.2,355.0 624.3,360.0 626.5,365.0 628.6,370.0 630.8,375.0 633.0,380.0 635.2,385.0 637.5,390.0 639.7,395.0 642.0,400.0 644.3,405.0 646.7,410.0 649.1,415.0 651.6,420.0 654.0,425.0 656.4,430.0 658.9,435.0 661.3,440.0 663.7,445.0 666.0,450.0 668.3,455.0 670.5,459.9 672.6,464.8 674.8,469.7 676.9,474.6 679.0,479.5 681.2,484.5 683.4,489.6 685.7,494.7 688.0,500.0 690.4,505.4 692.9,511.0 695.4,516.6 697.9,522.3 700.5,528.1 703.1,533.9 705.7,539.7 708.3,545.5 710.9,551.3 713.5,557.0 L837.5,557.0 834.4,551.3 831.3,545.5 828.2,539.7 825.1,533.9 822.0,528.1 818.9,522.3 815.8,516.6 812.8,511.0 809.9,505.4 807.0,500.0 804.2,494.7 801.5,489.6 798.8,484.5 796.2,479.5 793.6,474.6 791.1,469.7 788.6,464.8 786.1,459.9 783.7,455.0 781.3,450.0 778.9,445.0 776.6,440.0 774.3,435.0 772.1,430.0 769.9,425.0 767.7,420.0 765.5,415.0 763.4,410.0 761.2,405.0 759.0,400.0 756.8,395.0 754.6,390.0 752.3,385.0 750.1,380.0 747.9,375.0 745.7,370.0 743.5,365.0 741.4,360.0 739.3,355.0 737.3,350.0 735.3,345.0 733.5,340.0 731.7,335.0 729.9,330.0 728.1,325.0 726.4,320.0 724.6,315.0 722.8,310.0 721.0,305.0 719.0,300.0 717.0,295.0 714.8,290.0 712.6,285.0 710.4,280.0 708.1,275.0 705.9,270.0 703.6,265.0 701.4,260.0 699.3,255.0 697.3,250.0 695.4,245.0 693.5,240.0 691.8,235.0 690.0,230.0 688.3,225.0 686.6,220.0 684.9,215.0 683.2,210.0 681.4,205.0 679.5,200.0 677.5,195.0 675.5,190.0 673.4,185.0 671.3,180.0 669.2,175.0 667.0,170.0 664.9,165.0 662.8,160.0 660.7,155.0 658.7,150.0 656.7,145.0 654.7,140.0 652.8,135.0 650.8,130.0 648.9,125.0 647.0,120.0 645.1,115.0 643.3,110.0 641.6,105.0 640.0,100.0 638.5,95.0 637.0,90.0 635.7,85.0 634.4,80.0 633.1,75.0 631.9,70.0 630.7,65.0 629.5,60.0 628.2,55.0 627.0,50.0 625.7,44.8 624.3,39.2 622.9,33.5 621.5,27.7 620.1,22.1 618.8,16.6 617.6,11.5 616.5,7.0 615.6,3.1 614.8,0.0 614.2,-2.2 613.9,-3.6 613.7,-4.4 613.6,-4.6 613.6,-4.4 613.7,-4.1 613.7,-3.6 613.8,-3.2 613.8,-2.9 613.8,-3.0Z" fill="#f9a0c9"/>
<path d="M567.1,152.6 568.2,157.8 569.1,163.0 570.0,168.2 570.8,173.2 571.5,178.2 572.3,183.1 573.2,187.9 574.1,192.6 575.2,197.3 576.4,202.2 577.7,207.0 579.0,211.9 580.4,216.8 581.8,221.7 583.3,226.6 584.9,231.5 586.5,236.4 588.2,241.3 589.8,246.2 591.6,251.0 593.4,255.9 595.3,260.8 597.3,265.7 599.3,270.6 601.3,275.6 603.4,280.6 605.5,285.6 607.6,290.6 609.6,295.6 611.7,300.6 613.7,305.6 615.8,310.6 617.9,315.6 620.0,320.5 622.1,325.5 624.2,330.5 626.3,335.5 628.4,340.5 630.6,345.5 632.7,350.5 634.9,355.4 637.0,360.4 639.2,365.4 641.3,370.4 643.5,375.4 645.7,380.3 647.9,385.3 650.2,390.2 652.4,395.2" fill="none" stroke="#8a3a66" stroke-width="2" stroke-dasharray="2.2 2.6" opacity="0.9"/>
<path d="M567.1,152.6 568.2,157.8 569.1,163.0 570.0,168.2 570.8,173.2 571.5,178.2 572.3,183.1 573.2,187.9 574.1,192.6 575.2,197.3 576.4,202.2 577.7,207.0 579.0,211.9 580.4,216.8 581.8,221.7 583.3,226.6 584.9,231.5 586.5,236.4 588.2,241.3 589.8,246.2 591.6,251.0 593.4,255.9 595.3,260.8 597.3,265.7 599.3,270.6 601.3,275.6 603.4,280.6 605.5,285.6 607.6,290.6 609.6,295.6 611.7,300.6 613.7,305.6 615.8,310.6 617.9,315.6 620.0,320.5 622.1,325.5 624.2,330.5 626.3,335.5 628.4,340.5 630.6,345.5 632.7,350.5 634.9,355.4 637.0,360.4 639.2,365.4 641.3,370.4 643.5,375.4 645.7,380.3 647.9,385.3 650.2,390.2" fill="none" stroke="#8a3a66" stroke-width="2.4" stroke-dasharray="2.4 1.9" opacity="0.75"/>
<path d="M571.0,151.7 572.1,157.1 573.1,162.4 573.9,167.5 574.7,172.6 575.5,177.6 576.3,182.4 577.1,187.1 578.0,191.8 579.1,196.4 580.3,201.2 581.5,206.0 582.9,210.8 584.2,215.7 585.7,220.5 587.2,225.4 588.7,230.2 590.3,235.1 591.9,240.0 593.6,244.9 595.3,249.7 597.1,254.5 599.0,259.3 601.0,264.2 603.0,269.1 605.0,274.1 607.1,279.0 609.2,284.0 611.3,289.1 613.3,294.1 615.4,299.1 617.4,304.1 619.5,309.0 621.6,314.0 623.7,319.0 625.8,324.0 627.9,328.9 630.0,333.9 632.1,338.9 634.2,343.9 636.4,348.9 638.5,353.9 640.7,358.8 642.8,363.8 645.0,368.8 647.2,373.7 649.4,378.7 651.6,383.6 653.8,388.6 656.1,393.5" fill="none" stroke="#8a3a66" stroke-width="2.4" stroke-dasharray="2.4 1.9" opacity="0.75"/>
<path d="M574.9,150.8 576.0,156.3 577.0,161.7 577.9,166.9 578.7,172.0 579.4,176.9 580.2,181.7 581.0,186.4 581.9,191.0 583.0,195.5 584.1,200.2 585.4,205.0 586.7,209.8 588.1,214.6 589.5,219.4 591.0,224.2 592.5,229.0 594.1,233.9 595.7,238.7 597.4,243.5 599.1,248.3 600.9,253.1 602.8,257.9 604.7,262.7 606.7,267.6 608.7,272.5 610.8,277.5 612.9,282.5 615.0,287.5 617.0,292.6 619.1,297.6 621.1,302.5 623.2,307.5 625.3,312.5 627.4,317.4 629.4,322.4 631.5,327.4 633.7,332.4 635.8,337.3 637.9,342.3 640.1,347.3 642.2,352.3 644.4,357.3 646.5,362.2 648.7,367.2 650.9,372.1 653.0,377.1 655.2,382.0 657.5,386.9 659.7,391.8" fill="none" stroke="#8a3a66" stroke-width="2.4" stroke-dasharray="2.4 1.9" opacity="0.75"/>
<path d="M646.0,149.2 648.0,154.3 650.1,159.3 652.2,164.4 654.3,169.5 656.4,174.5 658.6,179.5 660.7,184.5 662.8,189.5 664.9,194.4 666.9,199.3 668.8,204.1 670.6,209.0 672.4,213.9 674.1,218.8 675.8,223.7 677.5,228.7 679.2,233.7 680.9,238.8 682.7,243.9 684.6,249.0 686.6,254.2 688.7,259.4 690.9,264.5 693.1,269.6 695.4,274.7 697.6,279.7 699.9,284.7 702.1,289.7 704.3,294.6 706.3,299.4 708.3,304.3 710.2,309.1 712.0,314.0 713.8,318.9 715.6,323.8 717.3,328.8 719.0,333.8 720.8,338.9 722.7,344.0 724.6,349.1 726.6,354.3 728.7,359.4 730.8,364.5 733.0,369.5 735.2,374.6 737.4,379.6" fill="none" stroke="#8a3a66" stroke-width="2" stroke-dasharray="2.2 2.6" opacity="0.9"/>
<path d="M648.0,154.3 650.1,159.3 652.2,164.4 654.3,169.5 656.4,174.5 658.6,179.5 660.7,184.5 662.8,189.5 664.9,194.4 666.9,199.3 668.8,204.1 670.6,209.0 672.4,213.9 674.1,218.8 675.8,223.7 677.5,228.7 679.2,233.7 680.9,238.8 682.7,243.9 684.6,249.0 686.6,254.2 688.7,259.4 690.9,264.5 693.1,269.6 695.4,274.7 697.6,279.7 699.9,284.7 702.1,289.7 704.3,294.6 706.3,299.4 708.3,304.3 710.2,309.1 712.0,314.0 713.8,318.9 715.6,323.8 717.3,328.8 719.0,333.8 720.8,338.9 722.7,344.0 724.6,349.1 726.6,354.3 728.7,359.4 730.8,364.5 733.0,369.5 735.2,374.6 737.4,379.6" fill="none" stroke="#8a3a66" stroke-width="2.4" stroke-dasharray="2.4 1.9" opacity="0.75"/>
<path d="M642.3,150.7 644.3,155.7 646.4,160.8 648.5,166.0 650.6,171.0 652.8,176.1 654.9,181.1 657.0,186.1 659.1,191.0 661.2,195.9 663.1,200.8 665.0,205.6 666.8,210.4 668.6,215.2 670.3,220.1 672.0,225.0 673.7,230.0 675.4,235.0 677.1,240.1 679.0,245.3 680.9,250.5 682.9,255.7 685.0,260.9 687.2,266.1 689.5,271.3 691.7,276.3 694.0,281.4 696.2,286.4 698.4,291.3 700.6,296.2 702.7,301.0 704.6,305.8 706.5,310.5 708.3,315.4 710.0,320.2 711.8,325.1 713.5,330.1 715.3,335.1 717.1,340.2 718.9,345.4 720.9,350.5 722.9,355.7 725.0,360.9 727.1,366.0 729.3,371.1 731.5,376.2" fill="none" stroke="#8a3a66" stroke-width="2.4" stroke-dasharray="2.4 1.9" opacity="0.75"/>
<path d="M638.6,152.2 640.6,157.2 642.6,162.4 644.8,167.5 646.9,172.6 649.1,177.7 651.2,182.7 653.4,187.6 655.4,192.6 657.5,197.4 659.4,202.2 661.3,207.0 663.1,211.7 664.8,216.5 666.5,221.4 668.2,226.3 669.9,231.3 671.6,236.3 673.4,241.4 675.2,246.6 677.1,251.9 679.2,257.2 681.3,262.5 683.5,267.7 685.8,272.9 688.1,278.0 690.3,283.0 692.6,288.0 694.8,292.9 696.9,297.8 699.0,302.5 700.9,307.2 702.7,312.0 704.5,316.7 706.3,321.6 708.0,326.5 709.7,331.4 711.5,336.5 713.3,341.6 715.2,346.7 717.1,352.0 719.2,357.2 721.3,362.4 723.4,367.6 725.6,372.7 727.8,377.8" fill="none" stroke="#8a3a66" stroke-width="2.4" stroke-dasharray="2.4 1.9" opacity="0.75"/>
<path d="M839.8,-3.0 839.8,-2.9 839.7,-3.2 839.6,-3.6 839.5,-4.1 839.4,-4.4 839.3,-4.6 839.4,-4.4 839.6,-3.6 839.9,-2.2 840.5,0.0 841.3,3.1 842.3,7.0 843.4,11.5 844.7,16.6 846.1,22.1 847.6,27.7 849.0,33.5 850.5,39.2 851.9,44.8 853.3,50.0 854.6,55.0 856.0,60.0 857.3,65.0 858.7,70.0 860.0,75.0 861.4,80.0 862.8,85.0 864.1,90.0 865.4,95.0 866.7,100.0 868.0,105.0 869.2,110.0 870.5,115.0 871.7,120.0 872.9,125.0 874.1,130.0 875.3,135.0 876.4,140.0 877.6,145.0 878.7,150.0 879.8,155.0 880.8,160.0 881.7,165.0 882.6,170.0 883.5,175.0 884.5,180.0 885.5,185.0 886.5,190.0 887.7,195.0 889.0,200.0 890.4,205.0 892.0,210.0 893.6,215.0 895.3,220.0 897.1,225.0 898.9,230.0 900.7,235.0 902.5,240.0 904.3,245.0 906.0,250.0 907.7,255.0 909.3,260.0 911.0,265.0 912.6,270.0 914.2,275.0 915.9,280.0 917.6,285.0 919.3,290.0 921.1,295.0 923.0,300.0 925.0,305.0 927.0,310.0 929.2,315.0 931.4,320.0 933.6,325.0 935.8,330.0 938.1,335.0 940.3,340.0 942.5,345.0 944.7,350.0 946.8,355.0 948.9,360.0 950.9,365.0 953.0,370.0 955.0,375.0 957.1,380.0 959.2,385.0 961.4,390.0 963.7,395.0 966.0,400.0 968.5,405.0 971.1,410.0 973.8,415.0 976.6,420.0 979.4,425.0 982.2,430.0 985.0,435.0 987.7,440.0 990.3,445.0 992.7,450.0 995.0,455.0 997.0,459.9 999.0,464.8 1000.9,469.7 1002.7,474.6 1004.6,479.5 1006.5,484.5 1008.5,489.6 1010.7,494.7 1013.0,500.0 1015.5,505.4 1018.2,511.0 1020.9,516.6 1023.8,522.3 1026.7,528.1 1029.7,533.9 1032.7,539.7 1035.7,545.5 1038.6,551.3 1041.5,557.0 L1164.5,557.0 1161.5,551.3 1158.5,545.5 1155.5,539.7 1152.4,533.9 1149.4,528.1 1146.4,522.3 1143.4,516.6 1140.5,511.0 1137.7,505.4 1135.0,500.0 1132.4,494.7 1129.9,489.6 1127.4,484.5 1125.0,479.5 1122.7,474.6 1120.4,469.7 1118.1,464.8 1115.9,459.9 1113.6,455.0 1111.3,450.0 1109.0,445.0 1106.7,440.0 1104.5,435.0 1102.3,430.0 1100.0,425.0 1097.8,420.0 1095.6,415.0 1093.4,410.0 1091.2,405.0 1089.0,400.0 1086.8,395.0 1084.6,390.0 1082.3,385.0 1080.1,380.0 1077.8,375.0 1075.6,370.0 1073.5,365.0 1071.3,360.0 1069.3,355.0 1067.3,350.0 1065.4,345.0 1063.6,340.0 1061.9,335.0 1060.3,330.0 1058.6,325.0 1057.0,320.0 1055.3,315.0 1053.6,310.0 1051.9,305.0 1050.0,300.0 1048.0,295.0 1046.0,290.0 1043.9,285.0 1041.7,280.0 1039.5,275.0 1037.3,270.0 1035.1,265.0 1032.9,260.0 1030.8,255.0 1028.7,250.0 1026.7,245.0 1024.7,240.0 1022.7,235.0 1020.8,230.0 1018.8,225.0 1016.9,220.0 1015.0,215.0 1013.0,210.0 1011.0,205.0 1009.0,200.0 1006.9,195.0 1004.8,190.0 1002.7,185.0 1000.5,180.0 998.4,175.0 996.2,170.0 994.1,165.0 992.0,160.0 990.0,155.0 988.0,150.0 986.1,145.0 984.2,140.0 982.3,135.0 980.5,130.0 978.6,125.0 976.9,120.0 975.1,115.0 973.4,110.0 971.7,105.0 970.0,100.0 968.3,95.0 966.7,90.0 965.1,85.0 963.5,80.0 962.0,75.0 960.5,70.0 959.0,65.0 957.5,60.0 956.1,55.0 954.7,50.0 953.3,44.8 951.9,39.2 950.4,33.5 949.0,27.7 947.7,22.1 946.4,16.6 945.2,11.5 944.2,7.0 943.2,3.1 942.5,0.0 942.0,-2.2 941.6,-3.6 941.4,-4.4 941.4,-4.6 941.4,-4.4 941.5,-4.1 941.6,-3.6 941.8,-3.2 941.8,-2.9 941.8,-3.0Z" fill="#f9a0c9"/>
<path d="M893.9,167.9 894.8,172.9 895.8,177.8 896.7,182.7 897.8,187.5 898.9,192.3 900.1,197.0 901.5,201.7 902.9,206.5 904.5,211.4 906.2,216.2 907.9,221.1 909.7,226.1 911.5,231.1 913.3,236.1 915.1,241.2 916.9,246.3 918.6,251.4 920.3,256.4 921.9,261.4 923.5,266.4 925.1,271.4 926.8,276.3 928.4,281.3 930.1,286.1 931.9,291.0 933.7,295.8 935.6,300.7 937.7,305.6 939.7,310.4 941.9,315.4 944.1,320.3 946.3,325.3 948.6,330.3 950.8,335.3 953.1,340.4 955.3,345.5 957.4,350.5 959.5,355.6 961.6,360.6 963.6,365.6 965.7,370.6 967.7,375.6 969.8,380.5" fill="none" stroke="#8a3a66" stroke-width="2.4" stroke-dasharray="2.4 1.9" opacity="0.75"/>
<path d="M897.9,167.2 898.8,172.2 899.7,177.1 900.7,181.9 901.7,186.6 902.8,191.3 904.0,195.9 905.3,200.6 906.7,205.3 908.3,210.1 910.0,214.9 911.7,219.8 913.5,224.7 915.3,229.7 917.1,234.8 918.9,239.9 920.7,245.0 922.4,250.1 924.1,255.2 925.7,260.2 927.3,265.2 928.9,270.2 930.6,275.1 932.2,280.0 933.9,284.8 935.6,289.6 937.5,294.4 939.4,299.2 941.3,304.0 943.4,308.9 945.5,313.8 947.7,318.7 950.0,323.7 952.2,328.7 954.5,333.7 956.7,338.8 958.9,343.9 961.1,349.0 963.2,354.1 965.3,359.1 967.3,364.1 969.4,369.1 971.4,374.0 973.5,378.9 975.6,383.7" fill="none" stroke="#8a3a66" stroke-width="2.4" stroke-dasharray="2.4 1.9" opacity="0.75"/>
<path d="M901.8,166.5 902.7,171.4 903.6,176.3 904.6,181.1 905.6,185.7 906.6,190.3 907.8,194.9 909.1,199.4 910.6,204.1 912.1,208.8 913.7,213.6 915.5,218.5 917.2,223.4 919.0,228.4 920.9,233.4 922.7,238.5 924.5,243.7 926.2,248.8 927.9,253.9 929.5,259.0 931.1,264.0 932.7,268.9 934.4,273.8 936.0,278.7 937.7,283.5 939.4,288.2 941.2,293.0 943.1,297.7 945.0,302.5 947.1,307.3 949.2,312.1 951.4,317.1 953.6,322.0 955.9,327.0 958.1,332.1 960.4,337.2 962.6,342.3 964.8,347.5 966.9,352.6 969.0,357.6 971.0,362.6 973.1,367.6 975.1,372.5 977.1,377.3 979.2,382.1" fill="none" stroke="#8a3a66" stroke-width="2.4" stroke-dasharray="2.4 1.9" opacity="0.75"/>
<path d="M981.4,164.4 983.5,169.5 985.7,174.5 987.8,179.5 990.0,184.5 992.1,189.5 994.2,194.5 996.3,199.4 998.4,204.3 1000.3,209.3 1002.3,214.2 1004.2,219.2 1006.2,224.2 1008.1,229.2 1010.0,234.2 1012.0,239.2 1014.0,244.2 1016.0,249.3 1018.1,254.4 1020.2,259.5 1022.4,264.6 1024.6,269.6 1026.8,274.6 1029.0,279.6 1031.1,284.6 1033.3,289.5 1035.4,294.4 1037.4,299.3 1039.3,304.1 1041.1,308.9 1042.8,313.8 1044.4,318.7 1046.1,323.6 1047.7,328.6 1049.3,333.6 1051.0,338.7 1052.8,343.8 1054.6,349.0 1056.6,354.2 1058.6,359.3 1060.7,364.4 1062.9,369.5" fill="none" stroke="#8a3a66" stroke-width="2.4" stroke-dasharray="2.4 1.9" opacity="0.75"/>
<path d="M975.6,160.8 977.7,165.9 979.8,171.0 982.0,176.1 984.2,181.1 986.3,186.1 988.5,191.1 990.6,196.0 992.6,201.0 994.6,205.9 996.6,210.8 998.6,215.7 1000.5,220.6 1002.4,225.6 1004.4,230.6 1006.3,235.6 1008.3,240.6 1010.3,245.7 1012.3,250.8 1014.4,255.9 1016.5,261.0 1018.7,266.1 1020.9,271.2 1023.1,276.2 1025.3,281.2 1027.5,286.2 1029.6,291.1 1031.7,296.0 1033.6,300.8 1035.5,305.6 1037.3,310.3 1039.0,315.1 1040.6,319.9 1042.3,324.8 1043.9,329.8 1045.5,334.8 1047.2,339.9 1049.0,345.1 1050.9,350.3 1052.8,355.6 1054.9,360.8 1057.0,366.0" fill="none" stroke="#8a3a66" stroke-width="2.4" stroke-dasharray="2.4 1.9" opacity="0.75"/>
<path d="M971.9,162.3 974.0,167.5 976.2,172.6 978.3,177.7 980.5,182.7 982.6,187.7 984.8,192.7 986.9,197.6 988.9,202.5 990.9,207.4 992.9,212.2 994.9,217.1 996.8,222.1 998.7,227.0 1000.6,232.0 1002.6,237.1 1004.6,242.1 1006.5,247.2 1008.6,252.3 1010.7,257.4 1012.8,262.6 1015.0,267.7 1017.2,272.8 1019.4,277.9 1021.6,282.8 1023.8,287.8 1025.9,292.7 1028.0,297.5 1029.9,302.3 1031.8,307.0 1033.6,311.7 1035.2,316.4 1036.9,321.2 1038.5,326.1 1040.1,331.0 1041.7,336.1 1043.4,341.2 1045.2,346.4 1047.1,351.7 1049.1,357.1 1051.2,362.3 1053.4,367.5" fill="none" stroke="#8a3a66" stroke-width="2.4" stroke-dasharray="2.4 1.9" opacity="0.75"/>
<path d="M240.0,128.0 240.5,131.2 240.9,134.3 241.3,137.3 241.7,140.4 242.1,143.5 242.5,146.6 243.0,149.8 243.6,153.1 244.2,156.5 245.0,160.0 245.9,163.6 246.9,167.3 247.9,171.1 249.1,174.9 250.2,178.9 251.5,182.9 252.8,187.0 254.2,191.2 255.6,195.6 257.0,200.0 258.5,204.6 260.1,209.4 261.7,214.3 263.4,219.3 265.1,224.4 266.9,229.5 268.7,234.7 270.5,239.8 272.2,245.0 274.0,250.0 275.7,255.0 277.5,260.0 279.2,265.0 280.9,270.0 282.7,275.0 284.5,280.0 286.3,285.0 288.1,290.0 290.0,295.0 292.0,300.0 294.0,305.0 296.1,310.0 298.3,315.0 300.5,320.0 302.8,325.0 305.0,330.0 307.3,335.0 309.5,340.0 311.8,345.0 314.0,350.0 316.3,355.1 318.6,360.5 321.0,365.9 323.4,371.4 325.8,376.9 328.1,382.2 330.3,387.2 332.4,391.9 334.3,396.2 336.0,400.0 337.5,403.3 338.8,406.0 339.9,408.5 341.0,410.5 341.9,412.4 342.7,414.0 343.5,415.5 344.3,417.0 345.1,418.5 346.0,420.0 346.9,421.5 347.7,422.9 348.5,424.2 349.3,425.4 350.1,426.5 350.9,427.6 351.7,428.7 352.4,429.7 353.2,430.8 354.0,432.0 L395.0,420.0 396.6,417.4 398.2,414.8 400.0,412.0 401.7,409.3 403.4,406.6 405.1,403.9 406.6,401.4 408.0,399.0 409.1,396.9 410.0,395.0 410.6,393.4 410.9,392.1 410.9,391.1 410.8,390.2 410.5,389.4 410.3,388.6 410.0,387.9 409.8,387.1 409.8,386.1 410.0,385.0 410.4,383.7 411.1,382.4 411.9,381.0 412.8,379.6 413.7,378.1 414.5,376.6 415.3,375.0 415.9,373.4 416.2,371.7 416.2,370.0 415.9,368.2 415.4,366.3 414.6,364.4 413.7,362.4 412.6,360.3 411.5,358.2 410.3,356.2 409.1,354.1 408.0,352.0 407.0,350.0 406.0,348.0 405.1,346.0 404.1,344.0 403.1,342.0 402.2,340.0 401.2,338.0 400.2,336.0 399.2,334.0 398.3,332.0 397.3,330.0 396.3,328.0 395.3,326.0 394.3,324.0 393.3,322.0 392.4,320.0 391.4,318.0 390.4,316.0 389.4,314.0 388.5,312.0 387.6,310.0 386.6,308.0 385.7,306.0 384.8,304.0 383.9,302.0 383.0,300.0 382.2,298.0 381.3,296.0 380.4,294.0 379.6,292.0 378.7,290.0 377.9,288.0 377.1,286.0 376.3,284.0 375.5,282.0 374.7,280.0 373.9,278.0 373.1,276.0 372.3,274.0 371.5,272.0 370.7,270.0 370.0,268.0 369.2,266.0 368.4,264.0 367.6,262.0 366.9,260.0 366.1,258.0 365.3,256.0 364.5,254.0 363.8,252.0 363.0,250.0 362.2,248.0 361.4,246.0 360.7,244.0 359.9,242.0 359.1,240.0 358.3,238.0 357.5,236.0 356.7,234.0 356.0,232.0 355.2,230.0 354.4,228.0 353.6,226.0 352.9,224.0 352.1,222.0 351.3,220.0 350.6,218.0 349.8,216.0 349.1,214.0 348.3,212.0 347.6,210.0 346.9,208.0 346.1,206.0 345.4,204.0 344.7,202.0 344.0,200.0 343.3,198.0 342.6,196.0 342.0,194.0 341.3,192.0 340.6,190.0 340.0,188.0 339.3,186.0 338.7,184.0 338.1,182.0 337.4,180.0 336.8,178.0 336.2,176.0 335.6,174.0 335.0,172.0 334.3,170.0 333.7,168.0 333.1,165.9 332.5,163.8 332.0,161.8 331.4,159.7 330.8,157.6 330.2,155.6 329.5,153.7 328.8,151.8 328.0,150.0 327.1,148.3 326.2,146.6 325.2,145.1 324.2,143.5 323.2,142.1 322.1,140.6 321.0,139.2 320.0,137.8 319.0,136.4 318.0,135.0 317.1,133.6 316.1,132.3 315.2,131.0 314.3,129.7 313.4,128.4 312.6,127.1 311.7,125.8 310.8,124.6 309.9,123.3 309.0,122.0Z" fill="url(#athp)"/>
<g clip-path="url(#tube0)"><path d="M317.8,135.0 319.6,140.0 321.3,145.0 323.0,150.0 324.6,155.0 326.2,160.0 327.8,165.0 329.3,170.0 330.9,175.0 332.4,180.0 334.0,185.0 335.6,190.0 337.3,195.0 339.0,200.0 340.8,205.0 342.6,210.0 344.4,215.0 346.3,220.0 348.2,225.0 350.2,230.0 352.1,235.0 354.1,240.0 356.0,245.0 358.0,250.0 359.9,255.0 361.9,260.0 363.8,265.0 365.7,270.0 367.7,275.0 369.7,280.0 371.7,285.0 373.7,290.0 375.8,295.0 378.0,300.0 380.2,305.0 382.6,310.0 384.9,315.0 387.4,320.0 389.8,325.0 392.3,330.0 394.7,335.0 397.2,340.0 399.6,345.0 402.0,350.0 404.3,355.0 406.6,360.0 408.9,365.0 411.2,370.0 413.5,375.0 415.8,380.0 418.1,385.0" fill="none" stroke="#f9a0c9" stroke-width="10" opacity="0.5"/><path d="M317.8,135.0 319.6,140.0 321.3,145.0 323.0,150.0 324.6,155.0 326.2,160.0 327.8,165.0 329.3,170.0 330.9,175.0 332.4,180.0 334.0,185.0 335.6,190.0 337.3,195.0 339.0,200.0 340.8,205.0 342.6,210.0 344.4,215.0 346.3,220.0 348.2,225.0 350.2,230.0 352.1,235.0 354.1,240.0 356.0,245.0 358.0,250.0 359.9,255.0 361.9,260.0 363.8,265.0 365.7,270.0 367.7,275.0 369.7,280.0 371.7,285.0 373.7,290.0 375.8,295.0 378.0,300.0 380.2,305.0 382.6,310.0 384.9,315.0 387.4,320.0 389.8,325.0 392.3,330.0 394.7,335.0 397.2,340.0 399.6,345.0 402.0,350.0 404.3,355.0 406.6,360.0 408.9,365.0 411.2,370.0 413.5,375.0 415.8,380.0 418.1,385.0" fill="none" stroke="#f9a0c9" stroke-width="6" opacity="0.3" filter="url(#bl2)"/></g>
<path d="M212.3,-3.0 212.3,-2.8 212.3,-2.7 212.3,-2.6 212.3,-2.6 212.3,-2.6 212.3,-2.4 212.3,-2.1 212.5,-1.7 212.7,-1.0 213.0,0.0 213.4,1.3 214.0,2.9 214.6,4.8 215.3,6.8 216.1,8.9 216.9,11.2 217.7,13.5 218.4,15.7 219.1,17.9 219.7,20.0 220.2,22.0 220.7,24.0 221.2,26.0 221.6,28.0 222.1,30.0 222.5,32.0 222.9,34.0 223.3,36.0 223.8,38.0 224.3,40.0 224.8,42.0 225.4,44.0 226.0,46.0 226.6,48.0 227.2,50.0 227.7,52.0 228.3,54.0 228.9,56.0 229.5,58.0 230.0,60.0 230.5,62.0 231.0,64.0 231.5,66.0 231.9,68.0 232.4,70.0 232.8,72.0 233.3,74.0 233.7,76.0 234.1,78.0 234.6,80.0 235.1,82.0 235.5,84.0 236.0,86.0 236.5,88.0 237.0,90.0 237.5,92.0 238.0,94.0 238.4,96.0 238.8,98.0 239.2,100.0 239.5,102.0 239.9,104.0 240.1,106.0 240.4,108.0 240.7,110.0 240.9,112.0 241.2,114.0 241.4,116.0 241.7,118.0 242.0,120.0 242.3,122.0 242.6,124.1 242.8,126.1 243.1,128.2 243.4,130.2 243.7,132.3 244.1,134.3 244.5,136.3 245.1,138.2 245.7,140.0 246.5,141.8 247.3,143.6 248.3,145.3 249.4,147.0 250.5,148.7 251.6,150.3 252.7,151.8 253.9,153.3 255.0,154.7 256.0,156.0 257.0,157.2 257.9,158.3 258.8,159.3 259.6,160.3 260.5,161.2 261.4,162.0 262.4,162.8 263.5,163.6 264.7,164.3 266.0,165.0 267.5,165.7 269.1,166.3 270.8,166.8 272.6,167.3 274.5,167.8 276.4,168.2 278.3,168.6 280.3,169.1 282.2,169.5 284.0,170.0 L284.0,170.0 285.3,169.3 286.7,168.6 288.2,167.9 289.6,167.2 291.0,166.4 292.4,165.7 293.7,165.0 294.9,164.3 296.0,163.7 297.0,163.0 297.8,162.4 298.5,161.9 299.1,161.4 299.6,161.0 300.1,160.5 300.5,160.0 300.8,159.4 301.2,158.8 301.6,158.0 302.0,157.0 302.4,155.9 302.9,154.5 303.3,153.1 303.7,151.5 304.1,149.9 304.5,148.2 304.9,146.6 305.3,145.0 305.7,143.4 306.0,142.0 306.4,140.7 306.7,139.4 307.1,138.1 307.5,136.9 307.9,135.7 308.2,134.5 308.5,133.4 308.7,132.2 308.8,131.1 308.8,130.0 308.7,129.0 308.5,128.0 308.3,127.2 307.9,126.3 307.5,125.5 307.1,124.6 306.6,123.7 306.1,122.6 305.6,121.4 305.0,120.0 304.4,118.4 303.7,116.6 303.0,114.7 302.2,112.7 301.4,110.6 300.6,108.5 299.8,106.3 299.0,104.2 298.3,102.0 297.7,100.0 297.1,98.0 296.6,96.0 296.1,94.0 295.6,92.0 295.2,90.0 294.7,88.0 294.3,86.0 293.9,84.0 293.5,82.0 293.0,80.0 292.5,78.0 292.1,76.0 291.6,74.0 291.2,72.0 290.8,70.0 290.3,68.0 289.9,66.0 289.4,64.0 288.9,62.0 288.4,60.0 287.9,58.0 287.3,56.0 286.8,54.0 286.2,52.0 285.6,50.0 285.0,48.0 284.4,46.0 283.9,44.0 283.3,42.0 282.8,40.0 282.3,38.0 281.8,36.0 281.3,34.0 280.8,32.0 280.3,30.0 279.8,28.0 279.4,26.0 278.9,24.0 278.5,22.0 278.2,20.0 277.9,17.9 277.6,15.7 277.4,13.5 277.2,11.2 277.0,8.9 276.8,6.8 276.7,4.8 276.5,2.9 276.4,1.3 276.3,0.0 276.2,-1.0 276.1,-1.7 276.0,-2.1 276.0,-2.4 276.0,-2.6 275.9,-2.6 275.9,-2.6 275.9,-2.7 275.8,-2.8 275.8,-3.0Z" fill="#fad5e5"/>
<g clip-path="url(#lum7)"><path d="M217.1 -4.4h.1M216.2 -3.9h.1M213.7 -3.3h.1M213.6 -3.3h.1M213.6 -3.8h.1M214.0 -3.3h.1M217.1 -2.9h.1M216.6 -3.5h.1M214.2 -2.9h.1M214.8 -1.9h.1M214.2 -2.3h.1M217.2 -2.1h.1M216.4 -2.6h.1M216.3 0.9h.1M214.1 -0.8h.1M215.0 -0.5h.1M217.2 2.2h.1M215.3 -0.2h.1M217.4 0.3h.1M213.7 -1.8h.1M215.9 -3.0h.1M217.4 -2.1h.1M216.5 -2.0h.1M214.8 -2.3h.1M216.7 -2.4h.1M223.7 -4.5h.1M217.2 -3.8h.1M217.8 -3.2h.1M215.3 -2.7h.1M213.6 -2.5h.1M214.0 -3.1h.1M213.8 -2.2h.1M213.9 -2.9h.1M213.9 -2.2h.1M216.5 -2.4h.1M219.7 -3.3h.1M214.7 -2.4h.1M214.4 -1.9h.1M214.7 -1.6h.1M216.8 -2.6h.1M215.7 -0.8h.1M224.7 -3.6h.1M216.7 -1.0h.1M217.8 -2.1h.1M221.8 -1.1h.1M216.2 0.2h.1M215.0 1.0h.1M214.6 0.4h.1M215.2 0.3h.1M215.0 2.1h.1M215.4 2.2h.1M215.4 2.9h.1M218.2 1.0h.1M216.1 2.0h.1M222.4 2.7h.1M217.9 3.6h.1M215.9 3.8h.1M217.1 3.6h.1M221.6 1.9h.1M218.5 4.1h.1M218.6 3.9h.1M218.9 5.0h.1M223.0 3.2h.1M217.2 6.5h.1M219.2 5.8h.1M217.7 5.6h.1M222.3 4.9h.1M222.7 5.7h.1M217.7 7.2h.1M218.2 6.4h.1M216.9 7.2h.1M218.0 7.3h.1M226.8 5.8h.1M227.7 4.7h.1M218.0 7.9h.1M217.9 7.9h.1M220.7 7.8h.1M221.3 8.8h.1M218.0 9.7h.1M225.9 7.2h.1M222.3 8.0h.1M218.4 9.8h.1M230.1 6.5h.1M219.9 10.7h.1M222.3 8.9h.1M218.3 10.2h.1M219.1 12.1h.1M222.0 10.5h.1M221.0 10.6h.1M218.6 12.5h.1M228.0 9.9h.1M225.9 11.1h.1M219.5 12.5h.1M219.9 12.4h.1M221.7 11.8h.1M227.3 11.4h.1M221.3 13.6h.1M227.2 11.5h.1M227.7 11.4h.1M221.8 13.4h.1M220.1 14.6h.1M224.9 13.2h.1M221.8 14.9h.1M222.3 14.3h.1M225.0 14.4h.1M222.6 15.3h.1M221.1 16.4h.1M222.3 15.8h.1M224.9 15.4h.1M222.7 16.8h.1M224.3 16.3h.1M222.9 16.7h.1M230.1 14.8h.1M221.6 18.4h.1M230.6 16.1h.1M220.9 18.0h.1M222.4 17.5h.1M221.4 17.9h.1M228.6 17.0h.1M225.3 18.6h.1M221.5 20.0h.1M232.6 16.0h.1M223.6 20.6h.1M227.2 18.6h.1M223.1 20.2h.1M222.5 19.9h.1M222.5 20.6h.1M223.3 20.6h.1M222.8 21.5h.1M223.8 20.5h.1M222.0 22.3h.1M221.9 23.0h.1M222.6 22.0h.1M223.7 22.7h.1M222.6 24.1h.1M224.9 23.2h.1M222.1 23.1h.1M226.0 22.7h.1M222.3 24.2h.1M222.5 25.1h.1M222.5 25.1h.1M224.2 24.1h.1M225.1 24.6h.1M224.9 24.8h.1M222.7 25.2h.1M222.5 25.3h.1M223.6 25.2h.1M227.3 24.4h.1M224.0 25.8h.1M223.5 26.0h.1M227.2 25.8h.1M223.3 26.6h.1M232.1 24.2h.1M225.3 27.6h.1M224.6 27.4h.1M227.0 27.4h.1M224.4 27.8h.1M227.2 27.0h.1M223.1 28.3h.1M223.3 29.0h.1M224.0 28.1h.1M223.4 29.1h.1M230.3 27.4h.1M224.4 29.4h.1M223.8 29.6h.1M224.4 30.1h.1M235.9 27.1h.1M224.3 30.1h.1M223.4 30.6h.1M225.7 30.3h.1M224.2 30.6h.1M223.4 30.5h.1M223.8 30.6h.1M224.9 31.2h.1M226.8 31.1h.1M228.6 30.9h.1M228.2 31.3h.1M225.4 31.2h.1M228.4 32.0h.1M224.1 33.1h.1M231.7 31.2h.1M228.6 32.1h.1M224.4 32.7h.1M229.9 32.9h.1M227.3 33.5h.1M228.2 33.1h.1M224.9 33.0h.1M224.8 35.1h.1M227.2 34.3h.1M227.8 34.2h.1M226.5 33.6h.1M227.0 35.2h.1M228.2 34.4h.1M229.1 34.4h.1M224.7 35.4h.1M229.0 34.4h.1M227.1 36.0h.1M227.1 36.4h.1M229.9 35.7h.1M228.2 35.4h.1M229.7 36.4h.1M227.8 36.4h.1M225.1 37.4h.1M228.9 37.0h.1M227.7 38.0h.1M227.3 37.7h.1M233.0 36.4h.1M238.7 35.9h.1M225.3 38.6h.1M227.5 38.9h.1M226.4 40.0h.1M226.3 39.6h.1M226.0 39.6h.1M231.7 39.1h.1M233.4 38.9h.1M226.8 40.9h.1M227.9 39.5h.1M225.7 40.7h.1M226.5 41.4h.1M227.4 41.7h.1M226.1 42.0h.1M232.2 39.5h.1M235.1 39.5h.1M227.8 42.1h.1M229.3 41.7h.1M228.1 41.9h.1M226.3 42.2h.1M236.0 40.7h.1M227.6 43.4h.1M227.2 43.3h.1M237.5 41.0h.1M232.4 42.2h.1M229.7 44.1h.1M227.1 44.9h.1M229.0 44.4h.1M230.3 43.4h.1M227.1 45.1h.1M228.5 45.0h.1M231.9 44.9h.1M228.2 45.5h.1M228.4 45.4h.1M227.9 46.1h.1M235.6 44.2h.1M228.4 46.9h.1M229.4 45.6h.1M229.0 46.8h.1M228.6 47.1h.1M230.7 47.2h.1M232.5 46.1h.1M229.6 47.1h.1M228.1 48.3h.1M239.7 44.7h.1M230.5 48.1h.1M234.8 46.3h.1M229.0 48.0h.1M239.0 46.9h.1M235.3 47.0h.1M228.5 49.9h.1M236.1 47.3h.1M231.2 48.2h.1M234.7 49.3h.1M240.9 46.7h.1M228.9 50.1h.1M231.2 50.1h.1M232.6 50.9h.1M231.0 51.1h.1M229.1 51.9h.1M230.0 51.9h.1M232.4 50.4h.1M232.8 51.9h.1M229.5 52.0h.1M231.8 52.0h.1M230.8 51.8h.1M230.7 53.3h.1M240.6 50.6h.1M236.9 51.5h.1M230.3 53.1h.1M240.7 50.6h.1M232.2 54.2h.1M231.6 53.8h.1M233.7 54.1h.1M230.5 53.9h.1M231.2 54.2h.1M235.7 54.4h.1M232.4 54.6h.1M242.1 52.0h.1M235.9 53.7h.1M231.0 55.7h.1M232.6 55.7h.1M231.2 56.3h.1M234.3 56.1h.1M230.9 56.4h.1M231.0 57.0h.1M230.8 57.5h.1M238.7 56.0h.1M235.4 57.0h.1M231.7 59.0h.1M235.5 56.9h.1M234.7 57.5h.1M232.5 58.1h.1M231.4 57.9h.1M241.9 56.5h.1M242.7 56.4h.1M232.8 59.7h.1M237.2 58.1h.1M231.3 59.6h.1M232.1 60.4h.1M239.2 58.2h.1M233.4 60.6h.1M236.4 58.9h.1M240.4 59.2h.1M236.6 61.0h.1M233.1 61.1h.1M242.8 59.1h.1M232.8 61.7h.1M232.0 63.0h.1M240.6 60.8h.1M241.8 59.7h.1M232.8 62.5h.1M243.0 60.6h.1M234.1 63.2h.1M241.3 61.1h.1M237.9 62.6h.1M238.3 62.6h.1M235.4 62.7h.1M237.6 63.0h.1M233.2 64.8h.1M233.3 64.0h.1M232.5 64.8h.1M233.9 65.0h.1M233.6 65.0h.1M233.0 65.6h.1M237.0 64.7h.1M233.5 65.4h.1M237.8 66.0h.1M236.6 65.4h.1M239.3 65.0h.1M235.8 65.9h.1M237.5 65.3h.1M233.8 68.1h.1M236.1 66.8h.1M235.0 67.9h.1M235.5 66.9h.1M238.9 66.6h.1M235.7 68.6h.1M239.9 67.8h.1M233.4 68.5h.1M233.7 68.3h.1M246.0 66.0h.1M240.6 68.1h.1M234.7 69.8h.1M243.7 67.0h.1M236.8 69.2h.1M234.4 69.4h.1M234.8 70.6h.1M237.4 69.6h.1M233.8 70.5h.1M237.7 69.5h.1M235.0 70.1h.1M234.1 71.2h.1M235.8 71.4h.1M237.5 70.5h.1M234.7 71.8h.1M235.8 71.1h.1M235.5 72.5h.1M235.7 72.3h.1M241.4 71.8h.1M235.7 72.0h.1M234.6 74.2h.1M236.4 73.7h.1M236.4 73.8h.1M236.5 72.9h.1M234.5 73.8h.1M235.0 74.8h.1M236.3 74.4h.1M235.1 74.4h.1M237.3 74.7h.1M240.7 75.0h.1M235.5 75.1h.1M245.1 74.1h.1M237.1 74.7h.1M243.4 75.0h.1M241.1 75.0h.1M240.4 75.2h.1M237.0 76.7h.1M241.2 75.0h.1M237.8 77.0h.1M235.7 77.3h.1M240.0 77.2h.1M235.5 77.8h.1M241.8 76.8h.1M238.8 78.1h.1M239.0 77.7h.1M237.5 78.4h.1M237.5 78.5h.1M235.9 79.9h.1M238.1 78.9h.1M240.9 78.9h.1M237.8 78.9h.1M237.9 78.8h.1M236.3 80.6h.1M238.4 79.6h.1M239.4 79.4h.1M240.7 80.0h.1M238.7 81.0h.1M246.7 78.8h.1M243.2 80.7h.1M240.9 81.0h.1M237.1 82.1h.1M245.1 80.2h.1M242.0 81.9h.1M236.7 82.5h.1M241.3 81.1h.1M242.5 81.9h.1M239.3 83.6h.1M237.5 83.2h.1M239.1 82.9h.1M236.8 83.3h.1M241.1 84.2h.1M237.7 84.9h.1M237.4 84.6h.1M240.5 83.7h.1M240.3 85.4h.1M237.7 86.2h.1M240.6 84.7h.1M242.7 84.1h.1M242.5 85.4h.1M238.2 86.8h.1M237.7 87.0h.1M238.5 86.6h.1M238.9 86.8h.1M237.7 87.3h.1M241.0 86.8h.1M240.3 87.6h.1M238.1 87.3h.1M237.9 88.5h.1M238.3 88.5h.1M238.8 88.6h.1M241.0 87.6h.1M241.3 87.9h.1M239.1 89.1h.1M238.6 89.8h.1M245.4 88.3h.1M239.9 89.0h.1M241.3 89.9h.1M242.0 89.8h.1M248.2 88.7h.1M239.5 91.0h.1M240.4 91.0h.1M238.9 92.0h.1M238.7 91.8h.1M248.5 89.0h.1M241.4 92.3h.1M244.7 91.0h.1M240.1 92.2h.1M239.2 93.1h.1M239.2 94.1h.1M243.9 92.6h.1M243.9 92.6h.1M239.9 93.1h.1M239.9 93.0h.1M243.6 94.2h.1M243.7 93.5h.1M242.2 94.0h.1M244.8 93.6h.1M251.3 92.9h.1M246.9 93.6h.1M240.6 95.2h.1M244.5 95.2h.1M247.2 95.0h.1M240.8 97.0h.1M243.3 96.2h.1M243.8 96.5h.1M242.1 96.7h.1M242.1 97.6h.1M242.9 96.9h.1M240.9 97.7h.1M240.4 98.2h.1M240.7 99.2h.1M241.6 98.1h.1M240.2 98.2h.1M244.4 98.1h.1M244.5 98.2h.1M242.0 99.9h.1M246.5 99.1h.1M240.7 100.2h.1M249.2 98.7h.1M240.9 100.2h.1M247.3 100.0h.1M244.2 100.6h.1M244.1 99.9h.1M240.8 100.3h.1M242.1 101.5h.1M240.8 101.5h.1M242.0 101.9h.1M242.3 101.3h.1M252.5 99.9h.1M241.0 102.7h.1M243.0 102.8h.1M242.4 102.8h.1M243.6 102.1h.1M247.9 101.2h.1M241.0 103.5h.1M246.2 103.6h.1M241.1 103.8h.1M243.5 103.8h.1M241.8 103.7h.1M242.3 105.2h.1M242.3 104.3h.1M245.5 104.2h.1M241.6 104.9h.1M245.6 105.6h.1M244.8 105.2h.1M243.1 105.5h.1M249.2 104.3h.1M242.3 106.5h.1M249.7 105.8h.1M243.2 107.1h.1M242.4 106.7h.1M244.2 106.8h.1M243.1 107.4h.1M242.3 108.2h.1M245.5 107.6h.1M242.3 107.7h.1M246.9 107.3h.1M249.4 107.6h.1M242.5 108.5h.1M246.1 108.7h.1M242.3 108.4h.1M244.4 109.1h.1M243.2 109.3h.1M255.1 108.5h.1M242.3 110.4h.1M242.2 109.7h.1M246.7 110.2h.1M242.8 110.9h.1M242.3 110.5h.1M243.7 110.1h.1M243.8 111.0h.1M245.7 111.4h.1M242.7 111.9h.1M244.0 111.9h.1M250.6 110.7h.1M245.2 111.8h.1M246.8 112.7h.1M247.6 112.4h.1M249.1 112.2h.1M245.9 112.3h.1M243.6 112.8h.1M247.8 113.4h.1M245.8 113.1h.1M244.3 113.5h.1M245.8 113.3h.1M243.2 114.9h.1M247.8 114.0h.1M244.9 115.1h.1M242.6 114.9h.1M252.7 114.5h.1M243.0 115.9h.1M245.4 115.7h.1M245.2 115.7h.1M244.7 117.1h.1M243.6 116.9h.1M244.6 116.9h.1M243.3 117.3h.1M244.2 116.1h.1M242.9 117.7h.1M244.9 117.8h.1M244.4 117.3h.1M243.8 118.0h.1M244.0 119.0h.1M244.7 118.2h.1M243.6 119.1h.1M249.0 118.1h.1M245.3 118.5h.1M244.8 119.7h.1M249.3 119.3h.1M245.4 119.2h.1M245.9 118.9h.1M250.1 119.5h.1M245.0 120.3h.1M245.3 120.2h.1M243.4 121.1h.1M244.5 120.4h.1M245.5 121.7h.1M247.3 121.1h.1M253.0 120.9h.1M243.8 122.2h.1M244.2 123.2h.1M247.1 121.8h.1M243.7 123.4h.1M247.4 122.1h.1M244.0 122.4h.1M245.2 123.3h.1M252.2 123.2h.1M244.5 124.3h.1M247.2 123.8h.1M249.5 124.7h.1M244.7 125.1h.1M246.6 124.9h.1M246.0 125.1h.1M244.9 125.4h.1M246.4 125.1h.1M246.2 125.3h.1M246.4 125.7h.1M246.9 126.1h.1M246.4 126.8h.1M248.1 126.9h.1M245.8 126.7h.1M255.6 125.0h.1M244.4 128.2h.1M248.5 128.0h.1M245.8 128.4h.1M246.8 127.7h.1M252.3 126.4h.1M246.0 129.3h.1M246.1 128.8h.1M247.1 129.0h.1M245.3 128.9h.1M246.4 128.9h.1M250.8 129.0h.1M247.0 129.4h.1M247.2 130.3h.1M248.4 129.9h.1M246.0 129.6h.1M248.4 130.9h.1M244.9 131.3h.1M252.4 129.9h.1M244.9 130.8h.1M253.9 130.7h.1M248.7 131.8h.1M253.4 130.7h.1M248.3 131.6h.1M249.0 132.0h.1M249.0 132.3h.1M250.1 131.6h.1M245.7 132.4h.1M250.4 132.6h.1M251.4 133.1h.1M248.1 133.2h.1M246.5 133.7h.1M246.6 133.7h.1M249.0 133.8h.1M245.5 134.5h.1M251.3 133.8h.1M254.3 132.9h.1M245.5 134.9h.1M247.9 135.3h.1M246.1 136.0h.1M246.4 135.3h.1M250.0 136.1h.1M257.7 133.7h.1M253.1 135.2h.1M246.3 138.0h.1M247.2 137.8h.1M251.9 137.9h.1M253.4 137.3h.1M247.2 139.6h.1M250.9 137.9h.1M255.8 135.8h.1M247.3 140.7h.1M251.2 140.1h.1M247.7 141.0h.1M251.7 139.0h.1M254.0 138.3h.1M251.1 141.5h.1M251.8 140.7h.1M253.4 140.2h.1M251.8 141.4h.1M254.4 142.4h.1M254.2 142.0h.1M250.2 143.6h.1M260.9 138.4h.1M254.7 141.4h.1M255.4 142.3h.1M250.9 144.8h.1M256.5 141.3h.1M253.5 143.5h.1M251.1 145.2h.1M251.2 145.7h.1M253.2 145.0h.1M256.7 141.7h.1M256.0 143.2h.1M252.6 147.7h.1M256.5 144.9h.1M258.6 142.9h.1M251.7 147.9h.1M256.0 144.5h.1M253.4 149.1h.1M255.8 147.2h.1M253.1 148.9h.1M256.8 147.0h.1M258.6 147.8h.1M254.5 150.6h.1M260.5 146.6h.1M255.8 149.5h.1M256.0 148.9h.1M258.1 149.8h.1M257.1 150.6h.1M256.6 150.6h.1M255.3 152.9h.1M255.8 151.2h.1M256.4 153.7h.1M257.1 153.0h.1M255.6 153.5h.1M259.1 153.1h.1M261.1 151.8h.1M265.3 148.9h.1M262.1 151.8h.1M257.4 154.2h.1M257.8 155.8h.1M260.5 154.9h.1M260.0 155.5h.1M264.3 150.6h.1M260.4 154.3h.1M259.7 156.9h.1M262.0 155.6h.1M261.8 154.9h.1M260.2 155.9h.1M260.0 157.5h.1M260.4 157.7h.1M266.3 153.4h.1M264.2 153.8h.1M264.0 155.1h.1M260.4 159.0h.1M264.5 156.4h.1M263.3 156.5h.1M263.1 157.5h.1M261.8 159.2h.1M262.7 158.3h.1M261.7 159.3h.1M263.7 157.0h.1M262.7 161.3h.1M263.2 160.8h.1M267.3 155.9h.1M262.5 160.7h.1M262.8 161.2h.1M264.3 160.0h.1M266.9 156.9h.1M264.9 158.8h.1M263.3 160.8h.1M265.9 158.3h.1M264.7 161.6h.1M264.3 161.9h.1M267.6 156.9h.1M264.5 162.0h.1M266.0 163.2h.1M265.8 163.3h.1M266.9 159.6h.1M266.2 161.1h.1M267.8 162.7h.1M270.2 155.3h.1M267.5 163.0h.1M266.9 163.8h.1M268.3 164.6h.1M268.1 163.0h.1M268.3 164.7h.1M268.6 161.9h.1M269.8 164.3h.1M269.3 164.5h.1M271.4 160.2h.1M269.2 164.2h.1M271.6 163.2h.1M271.5 164.9h.1M272.7 161.5h.1M271.7 162.5h.1M273.7 164.4h.1M273.3 166.0h.1M273.7 164.8h.1M274.7 159.2h.1M275.8 164.4h.1M274.7 165.4h.1M276.1 160.3h.1M274.8 165.9h.1M277.2 164.4h.1M276.8 164.4h.1M278.1 162.7h.1M278.1 159.9h.1M277.5 162.6h.1M280.8 160.3h.1M279.2 165.1h.1M279.3 164.8h.1M279.2 167.5h.1M278.4 166.5h.1M281.4 161.8h.1M280.9 167.6h.1M280.2 167.0h.1M281.4 164.7h.1M283.0 168.1h.1M283.0 163.8h.1M282.6 167.9h.1M282.8 165.9h.1M284.5 168.4h.1M285.7 161.9h.1M285.4 166.0h.1M284.8 168.3h.1M272.8 -2.0h.1M272.0 -2.4h.1M264.7 -0.5h.1M273.1 -2.8h.1M273.2 -2.6h.1M266.2 -0.1h.1M268.0 -1.5h.1M272.3 -1.4h.1M265.1 -0.5h.1M272.8 -1.9h.1M274.5 -2.2h.1M272.2 -1.7h.1M274.5 -1.5h.1M270.1 0.5h.1M269.8 4.0h.1M275.1 -1.6h.1M274.4 -0.9h.1M274.3 -0.9h.1M274.2 -1.2h.1M273.7 -0.2h.1M273.9 -1.3h.1M271.7 0.1h.1M272.8 0.5h.1M272.7 -1.4h.1M274.1 -2.4h.1M274.3 -2.2h.1M273.0 -1.8h.1M273.7 -2.3h.1M271.5 -1.4h.1M271.0 -1.8h.1M270.4 -1.3h.1M272.1 -1.5h.1M273.8 -2.2h.1M272.3 -1.7h.1M271.6 -2.1h.1M273.4 -1.3h.1M273.9 -1.8h.1M273.7 -1.1h.1M274.2 -2.0h.1M267.6 -0.7h.1M274.7 -1.6h.1M274.6 -1.1h.1M263.6 0.7h.1M274.4 -1.0h.1M273.5 -0.5h.1M268.9 0.8h.1M270.3 0.9h.1M270.0 0.6h.1M269.6 0.9h.1M267.8 1.4h.1M270.0 2.0h.1M272.8 2.2h.1M272.2 1.6h.1M269.8 2.3h.1M273.2 3.1h.1M270.7 3.1h.1M273.6 3.2h.1M273.6 2.9h.1M269.8 3.8h.1M274.7 4.7h.1M274.9 5.0h.1M272.3 4.6h.1M266.4 5.3h.1M268.9 5.7h.1M273.6 6.5h.1M275.5 5.3h.1M272.6 6.1h.1M266.5 6.8h.1M272.8 6.6h.1M271.5 7.0h.1M274.1 7.1h.1M274.1 7.5h.1M271.6 7.2h.1M275.2 6.7h.1M272.7 8.6h.1M263.7 8.8h.1M273.6 8.3h.1M269.7 9.1h.1M274.5 9.7h.1M269.5 9.5h.1M275.4 9.5h.1M268.0 10.7h.1M275.3 10.0h.1M273.3 10.4h.1M272.4 11.7h.1M274.5 12.0h.1M272.3 11.1h.1M274.1 11.8h.1M274.7 11.6h.1M269.5 13.1h.1M272.1 12.4h.1M273.6 12.7h.1M275.0 12.7h.1M273.1 13.8h.1M275.7 13.2h.1M271.0 13.6h.1M275.8 13.2h.1M273.0 15.4h.1M276.0 14.2h.1M271.0 15.1h.1M271.8 15.0h.1M276.1 16.4h.1M273.3 16.0h.1M274.3 16.0h.1M276.3 16.4h.1M273.4 16.8h.1M275.5 16.6h.1M267.1 18.6h.1M275.3 17.6h.1M270.5 17.5h.1M274.3 18.9h.1M275.7 18.1h.1M272.1 18.4h.1M275.4 18.7h.1M275.8 18.9h.1M275.2 19.0h.1M264.1 20.8h.1M273.9 19.1h.1M275.1 20.0h.1M276.6 20.7h.1M275.4 20.1h.1M276.2 20.1h.1M276.0 19.8h.1M276.6 21.6h.1M276.8 21.0h.1M270.7 21.9h.1M275.2 22.0h.1M271.3 21.8h.1M275.8 23.1h.1M276.6 22.9h.1M274.8 22.3h.1M275.2 22.2h.1M269.5 24.9h.1M275.9 23.2h.1M274.2 23.5h.1M270.2 24.2h.1M275.0 23.8h.1M276.1 24.8h.1M274.8 24.6h.1M275.9 24.1h.1M277.1 24.8h.1M277.6 25.4h.1M276.4 25.6h.1M276.6 25.0h.1M276.6 25.2h.1M277.0 26.4h.1M269.8 28.4h.1M270.7 28.3h.1M277.6 26.1h.1M274.5 27.9h.1M276.6 27.9h.1M274.1 27.9h.1M271.8 28.6h.1M278.3 28.8h.1M274.0 29.6h.1M278.4 27.8h.1M277.9 28.1h.1M277.3 28.4h.1M275.2 29.7h.1M272.5 30.9h.1M274.4 30.0h.1M276.9 30.0h.1M272.9 32.1h.1M277.8 30.0h.1M272.4 32.0h.1M278.9 30.0h.1M278.8 30.7h.1M274.4 32.0h.1M275.2 32.2h.1M274.6 32.8h.1M278.1 31.1h.1M270.3 34.8h.1M275.0 33.8h.1M276.1 33.1h.1M279.5 32.6h.1M277.6 32.8h.1M274.7 34.0h.1M275.7 34.7h.1M278.8 33.6h.1M267.7 36.5h.1M277.0 33.7h.1M278.2 34.4h.1M278.7 34.2h.1M275.9 35.6h.1M279.1 34.2h.1M270.7 37.6h.1M279.2 36.1h.1M279.8 35.5h.1M279.0 36.0h.1M277.7 36.3h.1M277.4 37.1h.1M275.6 38.0h.1M280.1 36.2h.1M279.0 36.4h.1M280.2 37.7h.1M278.7 37.4h.1M279.5 37.6h.1M279.2 37.3h.1M276.2 39.1h.1M276.9 40.0h.1M278.1 38.6h.1M278.8 38.8h.1M281.5 39.8h.1M277.8 40.4h.1M271.9 41.9h.1M280.3 39.3h.1M276.6 42.0h.1M280.3 40.3h.1M278.2 41.6h.1M272.4 42.3h.1M276.4 42.1h.1M281.3 41.9h.1M280.5 41.5h.1M279.1 41.9h.1M275.6 42.6h.1M281.8 41.4h.1M278.0 43.9h.1M272.1 45.0h.1M279.7 42.6h.1M281.0 42.7h.1M281.8 43.4h.1M270.2 46.2h.1M282.3 43.3h.1M281.8 43.8h.1M276.1 46.5h.1M280.7 44.6h.1M279.0 45.4h.1M280.8 44.7h.1M277.1 47.5h.1M282.3 45.3h.1M281.0 46.0h.1M281.4 45.4h.1M281.3 47.5h.1M275.1 49.1h.1M270.8 50.5h.1M280.0 47.6h.1M280.3 48.0h.1M280.8 48.7h.1M281.4 48.2h.1M282.3 47.5h.1M283.2 48.8h.1M281.7 48.5h.1M280.1 49.3h.1M280.8 49.1h.1M281.3 49.2h.1M283.6 50.0h.1M281.3 49.7h.1M277.2 51.1h.1M283.8 49.5h.1M283.2 49.6h.1M281.4 50.7h.1M282.0 51.2h.1M284.1 50.3h.1M284.2 50.3h.1M277.6 52.4h.1M284.5 52.0h.1M280.2 52.2h.1M278.6 53.0h.1M284.2 52.1h.1M282.0 52.5h.1M284.7 52.1h.1M283.3 52.2h.1M281.8 52.9h.1M283.9 52.9h.1M282.1 54.7h.1M282.6 54.6h.1M278.1 55.0h.1M280.5 54.5h.1M279.4 55.6h.1M284.1 55.1h.1M275.4 57.5h.1M285.5 54.5h.1M285.3 54.5h.1M277.0 58.1h.1M284.8 55.3h.1M284.0 56.3h.1M282.7 55.7h.1M285.7 54.9h.1M283.3 56.9h.1M282.1 57.3h.1M285.8 56.9h.1M283.6 57.3h.1M280.6 58.4h.1M285.9 57.5h.1M279.4 59.6h.1M286.2 57.0h.1M280.6 59.1h.1M286.2 58.9h.1M285.1 59.2h.1M283.3 58.7h.1M285.2 58.4h.1M278.9 60.5h.1M285.4 59.7h.1M283.9 60.0h.1M285.3 59.1h.1M283.9 59.9h.1M287.0 59.9h.1M283.3 61.0h.1M286.1 60.6h.1M285.0 62.5h.1M287.4 61.4h.1M282.4 63.0h.1M284.2 63.0h.1M286.7 62.9h.1M280.7 64.6h.1M283.7 63.0h.1M282.8 63.8h.1M286.5 63.7h.1M286.0 63.2h.1M286.5 63.4h.1M287.2 64.2h.1M286.6 64.2h.1M288.3 64.7h.1M286.1 64.7h.1M285.2 64.7h.1M287.1 65.3h.1M283.9 66.4h.1M278.7 67.4h.1M279.6 67.5h.1M288.1 65.0h.1M287.2 66.9h.1M286.8 67.2h.1M288.4 66.3h.1M280.6 67.9h.1M288.2 67.1h.1M284.6 67.9h.1M287.0 67.3h.1M285.8 68.4h.1M285.2 67.7h.1M285.8 68.5h.1M283.4 70.0h.1M287.6 68.2h.1M288.4 68.5h.1M280.3 70.9h.1M288.0 69.9h.1M285.7 70.0h.1M285.3 70.0h.1M289.1 69.2h.1M288.2 70.6h.1M286.3 70.7h.1M287.3 70.2h.1M280.5 72.4h.1M286.5 72.3h.1M288.3 71.1h.1M289.1 71.0h.1M284.6 71.9h.1M283.9 72.5h.1M287.1 72.0h.1M286.8 72.8h.1M285.2 73.0h.1M285.7 73.5h.1M284.7 73.2h.1M288.1 73.5h.1M287.8 74.4h.1M289.6 72.8h.1M288.0 73.9h.1M289.6 74.8h.1M290.0 73.8h.1M289.9 73.9h.1M288.0 74.9h.1M289.0 75.2h.1M290.1 75.7h.1M281.7 76.9h.1M290.7 75.6h.1M288.5 77.0h.1M289.5 76.9h.1M288.7 76.5h.1M282.6 77.6h.1M287.5 78.0h.1M284.0 78.3h.1M288.2 77.8h.1M282.4 79.8h.1M287.6 77.7h.1M289.3 78.4h.1M290.6 78.8h.1M287.7 78.9h.1M290.5 78.5h.1M284.4 80.6h.1M286.8 80.8h.1M290.4 79.3h.1M289.4 80.3h.1M288.6 80.9h.1M288.9 81.4h.1M291.1 80.9h.1M290.3 81.0h.1M285.2 83.4h.1M290.7 81.0h.1M291.8 81.9h.1M292.1 81.8h.1M291.5 81.7h.1M288.1 82.7h.1M290.9 83.1h.1M288.0 83.7h.1M292.1 82.0h.1M292.4 83.3h.1M291.6 83.4h.1M292.0 82.8h.1M291.3 84.0h.1M292.2 84.3h.1M292.1 84.6h.1M292.2 84.7h.1M290.2 84.3h.1M284.1 87.0h.1M292.2 86.0h.1M285.4 87.1h.1M291.7 85.1h.1M293.0 86.3h.1M291.3 86.7h.1M291.4 86.0h.1M289.1 87.3h.1M290.4 86.9h.1M286.1 89.1h.1M291.5 87.4h.1M291.6 88.2h.1M291.6 87.5h.1M293.6 88.4h.1M284.3 89.9h.1M290.2 88.8h.1M292.5 88.1h.1M288.5 90.9h.1M293.7 89.5h.1M292.4 89.7h.1M290.9 89.6h.1M289.3 91.7h.1M291.5 90.9h.1M293.1 90.6h.1M289.2 91.2h.1M289.6 91.1h.1M290.2 91.9h.1M290.8 92.1h.1M293.4 91.6h.1M293.3 92.0h.1M292.0 92.0h.1M293.5 92.0h.1M285.3 94.4h.1M291.9 92.9h.1M288.5 93.3h.1M293.9 92.8h.1M288.6 95.2h.1M287.5 94.4h.1M293.1 94.1h.1M288.6 94.2h.1M294.5 94.2h.1M289.2 95.7h.1M292.7 94.3h.1M293.3 95.3h.1M290.8 95.2h.1M290.1 96.1h.1M291.2 96.1h.1M292.5 95.6h.1M293.5 95.5h.1M294.7 96.6h.1M295.1 96.0h.1M290.9 97.2h.1M294.0 96.3h.1M289.0 97.4h.1M294.9 97.4h.1M290.3 98.9h.1M293.9 97.2h.1M293.6 97.7h.1M294.2 99.0h.1M290.1 99.7h.1M294.3 98.9h.1M286.9 100.5h.1M283.7 102.0h.1M294.7 99.2h.1M291.3 100.6h.1M293.7 100.1h.1M288.3 101.9h.1M294.4 100.9h.1M290.2 102.1h.1M294.5 101.5h.1M294.5 100.9h.1M293.1 102.9h.1M294.9 101.4h.1M293.0 102.7h.1M291.9 103.3h.1M297.0 102.9h.1M296.7 102.1h.1M292.4 104.0h.1M297.1 102.7h.1M297.4 103.8h.1M295.7 104.2h.1M291.9 105.8h.1M297.0 103.5h.1M296.7 104.7h.1M296.5 104.7h.1M291.3 106.9h.1M295.4 105.3h.1M291.6 108.4h.1M291.6 107.7h.1M297.4 105.4h.1M295.6 106.4h.1M295.7 107.6h.1M293.1 108.3h.1M290.2 109.8h.1M298.4 106.6h.1M296.1 107.5h.1M298.1 108.5h.1M298.0 108.5h.1M293.6 109.9h.1M297.2 109.0h.1M297.2 109.0h.1M295.8 109.7h.1M292.6 110.9h.1M296.3 109.7h.1M290.9 112.2h.1M296.2 111.6h.1M298.6 110.1h.1M293.6 111.9h.1M291.3 112.8h.1M299.4 109.7h.1M298.5 111.9h.1M299.5 111.9h.1M296.2 112.1h.1M300.2 111.3h.1M299.4 112.2h.1M297.7 113.0h.1M297.8 112.8h.1M292.4 115.0h.1M295.9 115.8h.1M299.2 113.3h.1M299.5 113.9h.1M300.3 113.5h.1M300.7 113.2h.1M297.5 115.2h.1M295.4 116.0h.1M293.1 118.0h.1M292.1 117.8h.1M300.3 114.4h.1M292.8 118.2h.1M299.8 116.4h.1M298.8 116.4h.1M301.4 114.9h.1M301.0 116.0h.1M293.4 119.0h.1M299.4 117.8h.1M301.0 117.2h.1M298.5 117.0h.1M300.9 116.6h.1M302.1 117.6h.1M301.2 117.0h.1M299.7 117.7h.1M300.0 118.4h.1M303.2 118.9h.1M303.0 119.1h.1M302.8 119.1h.1M301.8 119.2h.1M299.5 119.8h.1M302.7 121.3h.1M296.9 123.1h.1M303.2 120.2h.1M296.6 122.7h.1M304.0 122.0h.1M303.9 122.1h.1M302.0 122.7h.1M303.7 122.1h.1M303.5 121.8h.1M302.9 124.6h.1M305.2 123.6h.1M303.0 124.4h.1M302.3 124.6h.1M304.9 124.2h.1M305.4 124.1h.1M303.1 125.1h.1M298.2 127.3h.1M303.3 126.9h.1M301.8 126.7h.1M305.2 125.7h.1M305.9 125.4h.1M305.3 127.0h.1M304.7 127.5h.1M306.6 126.5h.1M304.7 126.8h.1M302.5 128.9h.1M306.2 126.9h.1M306.2 126.7h.1M305.9 127.0h.1M301.8 129.4h.1M304.9 128.7h.1M299.1 130.7h.1M303.6 128.4h.1M303.9 129.1h.1M302.9 129.2h.1M306.9 129.0h.1M303.5 129.6h.1M306.9 128.8h.1M297.8 131.2h.1M301.8 130.1h.1M305.5 129.8h.1M302.1 130.4h.1M306.3 129.9h.1M304.9 130.1h.1M302.0 130.0h.1M301.0 130.0h.1M306.8 130.0h.1M306.6 130.1h.1M303.1 130.7h.1M302.1 131.1h.1M303.4 131.4h.1M301.3 130.6h.1M307.3 131.2h.1M304.2 132.0h.1M302.0 130.7h.1M305.2 131.2h.1M307.0 132.4h.1M305.5 131.9h.1M306.5 132.8h.1M300.7 131.9h.1M306.2 132.4h.1M306.1 133.1h.1M305.2 132.9h.1M303.2 132.7h.1M301.1 132.3h.1M305.8 134.5h.1M305.6 133.5h.1M299.3 132.4h.1M304.2 135.2h.1M304.1 135.2h.1M305.9 135.5h.1M306.1 135.2h.1M306.8 135.0h.1M300.8 134.5h.1M305.0 135.6h.1M303.5 136.1h.1M303.9 135.6h.1M297.2 134.2h.1M302.7 136.6h.1M295.2 134.2h.1M302.2 136.7h.1M304.4 137.3h.1M302.0 137.0h.1M292.9 134.6h.1M299.3 137.3h.1M302.8 138.1h.1M300.7 138.0h.1M301.0 137.9h.1M304.5 140.7h.1M297.6 137.8h.1M302.1 139.6h.1M305.1 140.2h.1M303.6 141.7h.1M303.6 141.4h.1M302.8 141.8h.1M301.1 141.1h.1M300.9 140.6h.1M300.4 141.9h.1M303.8 143.1h.1M298.3 142.0h.1M303.1 142.4h.1M301.8 143.0h.1M303.5 144.3h.1M304.0 144.4h.1M302.3 144.8h.1M292.7 141.6h.1M303.0 145.9h.1M301.8 145.4h.1M302.7 145.9h.1M301.9 146.4h.1M295.0 145.9h.1M297.0 146.6h.1M298.1 146.5h.1M302.7 148.1h.1M301.1 147.5h.1M301.9 149.2h.1M294.2 147.5h.1M301.7 149.5h.1M301.8 149.6h.1M302.7 149.9h.1M292.8 148.4h.1M301.7 150.5h.1M299.7 150.8h.1M298.6 150.1h.1M296.9 149.3h.1M290.3 149.6h.1M298.0 151.9h.1M300.3 152.8h.1M297.5 151.2h.1M300.4 153.4h.1M294.7 152.0h.1M299.1 153.6h.1M293.9 151.3h.1M299.5 154.8h.1M294.8 153.3h.1M298.4 154.3h.1M298.5 154.2h.1M294.9 153.5h.1M297.1 155.3h.1M298.4 156.0h.1M293.2 153.7h.1M295.1 154.3h.1M294.0 153.2h.1M297.5 155.8h.1M300.2 157.5h.1M294.9 154.6h.1M299.8 156.8h.1M300.1 157.5h.1M298.6 157.7h.1M299.7 158.5h.1M299.1 157.0h.1M297.1 156.2h.1M299.3 157.2h.1M295.0 155.3h.1M294.6 155.2h.1M298.9 158.5h.1M298.6 157.9h.1M295.1 155.7h.1M293.9 155.8h.1M297.5 157.2h.1M295.4 155.7h.1M297.5 157.8h.1M295.6 156.8h.1M297.8 158.5h.1M297.0 157.4h.1M293.3 155.4h.1M297.4 159.5h.1M298.6 159.9h.1M298.5 159.7h.1M295.7 157.3h.1M297.9 159.8h.1M297.9 159.3h.1M295.3 156.8h.1M297.3 158.7h.1M295.8 156.9h.1M294.7 157.8h.1M294.4 157.3h.1M292.1 153.9h.1M295.4 157.0h.1M292.7 155.8h.1M295.2 158.4h.1M296.5 159.9h.1M294.5 158.9h.1M296.8 160.0h.1M291.3 155.5h.1M295.5 160.0h.1M296.4 161.4h.1M293.2 157.6h.1M292.3 157.8h.1M292.4 157.2h.1M295.1 162.3h.1M294.3 160.3h.1M295.3 161.5h.1M288.5 154.6h.1M293.0 161.7h.1M293.1 162.0h.1M291.3 157.4h.1M294.6 163.1h.1M292.7 164.1h.1M290.5 159.1h.1M292.6 164.1h.1M292.2 161.3h.1M292.3 162.8h.1M290.4 161.2h.1M290.9 164.0h.1M291.4 162.9h.1M290.7 161.6h.1M291.5 163.9h.1M288.5 161.4h.1M290.1 165.3h.1M290.4 165.2h.1M289.4 163.8h.1M288.7 161.2h.1M288.4 163.8h.1M285.1 158.4h.1M289.2 165.7h.1M288.7 165.2h.1M285.7 163.7h.1M288.0 166.5h.1M281.3 154.9h.1M288.0 166.4h.1M286.7 166.1h.1M281.7 159.0h.1M282.3 159.3h.1M286.4 166.7h.1M284.3 162.8h.1M284.1 167.7h.1M284.5 167.7h.1M284.3 168.0h.1M280.7 161.4h.1M284.4 168.4h.1M282.1 166.8h.1M281.6 166.2h.1M283.8 168.4h.1M282.3 166.3h.1" fill="none" stroke="#3a2430" stroke-width="1.6" stroke-linecap="round" opacity="0.85"/></g>
<path d="M210.3,3.9 210.7,3.9 209.3,3.9 206.2,0.4 205.4,-1.1 207.1,3.2 207.7,3.1 206.3,-0.7 206.3,0.7 206.8,6.1 210.1,9.7 210.6,9.8 210.2,7.2 208.8,10.7 209.9,14.9 210.5,18.8 213.6,22.5 214.7,23.9 215.0,24.2 214.9,24.4 215.1,24.2 214.2,25.7 213.7,31.5 216.2,36.4 217.4,37.0 216.6,35.3 216.4,38.6 217.1,41.5 217.4,43.8 219.2,48.0 221.9,50.8 222.0,50.0 221.3,48.8 221.0,52.3 221.3,53.9 220.9,56.2 222.0,60.8 224.2,64.3 225.4,65.2 224.7,64.1 224.8,67.5 225.6,67.8 224.6,71.0 227.3,75.8 227.6,76.4 227.8,74.8 226.7,76.3 226.7,80.9 227.0,82.7 227.5,86.3 230.3,90.8 232.6,92.7 231.9,90.6 231.2,91.7 231.7,94.1 231.4,94.8 231.3,99.8 233.3,103.6 233.4,102.7 232.9,102.4 232.5,106.7 233.2,108.5 232.7,109.9 234.2,115.8 237.0,118.6 236.5,116.1 235.7,115.8 235.2,119.7 235.2,121.4 234.8,123.4 235.0,128.2 236.9,131.5 237.4,132.8 237.7,132.7 237.2,134.9" fill="none" stroke="#8a3a66" stroke-width="2" stroke-dasharray="2.2 2.6" opacity="0.9"/>
<path d="M277.7,3.8 278.0,3.6 278.4,3.6 275.4,4.3 276.8,4.0 281.5,-3.7 281.8,-3.6 281.6,-4.9 284.6,0.1 283.2,6.3 282.8,5.5 283.5,5.3 283.7,8.6 283.6,9.1 284.6,10.7 285.8,16.2 284.2,20.9 283.9,20.0 284.7,20.8 284.0,21.3 285.0,21.8 286.5,24.3 289.0,30.4 287.3,33.0 288.2,32.1 288.2,34.2 289.0,35.4 289.5,37.1 291.1,40.8 290.4,46.5 289.7,46.3 289.2,43.8 291.9,46.8 291.9,48.7 293.1,49.4 296.0,54.2 295.3,60.9 294.2,61.9 294.7,60.8 294.5,61.1 295.7,62.7 296.4,64.6 298.6,68.2 298.1,73.8 297.7,73.6 298.1,73.7 298.3,74.7 300.0,76.9 300.5,79.1 302.5,84.7 300.0,88.9 300.7,87.8 300.3,87.5 301.6,89.1 301.5,90.4 303.2,91.8 305.5,98.4 304.3,101.3 304.1,99.1 306.0,102.1 305.8,104.3 306.2,104.2 309.3,109.5 308.1,114.2 308.0,112.0 308.6,112.5 310.1,114.7 310.4,115.5 311.6,116.4 313.0,118.0 315.7,123.9 314.9,124.4" fill="none" stroke="#8a3a66" stroke-width="2" stroke-dasharray="2.2 2.6" opacity="0.9"/>
<path d="M211.7,-3.0 212.8,-2.8 212.8,-2.7 212.3,-2.6 211.9,-2.6 212.5,-2.6 212.0,-2.4 212.3,-2.1 212.1,-1.7 213.5,-1.0 213.3,0.0 213.2,1.3 213.0,2.9 215.0,4.8 217.0,6.8 217.0,8.9 215.8,11.2 216.7,13.5 216.8,15.7 218.9,17.9 220.5,20.0 221.6,22.0 221.9,24.0 221.9,26.0 220.8,28.0 220.5,30.0 221.7,32.0 223.7,34.0 223.6,36.0 223.3,38.0 223.9,40.0 224.2,42.0 225.0,44.0 227.0,46.0 228.7,48.0 228.2,50.0 228.0,52.0 228.3,54.0 227.9,56.0 228.4,58.0 229.7,60.0 231.6,62.0 231.7,64.0 231.6,66.0 232.6,68.0 231.5,70.0 233.2,72.0 234.1,74.0 234.7,76.0 233.4,78.0 233.7,80.0 234.0,82.0 234.1,84.0 235.4,86.0 237.8,88.0 238.9,90.0 238.2,92.0 238.7,94.0 238.3,96.0 238.0,98.0 239.4,100.0 240.4,102.0 239.7,104.0 239.5,106.0 240.1,108.0 239.7,110.0 240.1,112.0 242.3,114.0 243.5,116.0 242.3,118.0 242.2,120.0 242.1,122.0 241.8,124.1 241.7,126.1 243.1,128.2 243.9,130.2 244.7,132.3 244.2,134.3 245.0,136.3 244.6,138.2 245.2,140.0 247.4,141.8 247.8,143.6 248.3,145.3 248.9,147.0 249.8,148.7 251.1,150.3 251.7,151.8 254.8,153.3 256.8,154.7 257.9,156.0 257.1,157.2 257.8,158.3 258.6,159.3 259.8,160.3 259.0,161.2 259.8,162.0 261.6,162.8 263.8,163.6 264.8,164.3 266.4,165.0 267.6,165.7 269.1,166.3 271.1,166.8 272.6,167.3 273.8,167.8 276.8,168.2 279.3,168.6 281.2,169.1 281.5,169.5 283.7,170.0" fill="none" stroke="#151215" stroke-width="3.5" stroke-linejoin="round"/>
<path d="M276.0,-3.0 275.1,-2.8 275.3,-2.7 274.8,-2.6 274.6,-2.6 274.6,-2.6 274.6,-2.4 275.1,-2.1 275.1,-1.7 275.5,-1.0 276.6,0.0 277.7,1.3 277.1,2.9 275.8,4.8 276.7,6.8 276.7,8.9 276.9,11.2 278.1,13.5 278.8,15.7 277.8,17.9 276.9,20.0 277.8,22.0 277.6,24.0 279.5,26.0 280.6,28.0 282.0,30.0 280.4,32.0 281.4,34.0 281.5,36.0 282.5,38.0 283.1,40.0 284.3,42.0 283.8,44.0 282.8,46.0 283.6,48.0 285.7,50.0 285.7,52.0 287.8,54.0 289.2,56.0 288.9,58.0 287.4,60.0 287.8,62.0 288.1,64.0 289.6,66.0 290.3,68.0 291.8,70.0 291.3,72.0 290.7,74.0 291.5,76.0 292.1,78.0 293.7,80.0 294.1,82.0 295.5,84.0 293.7,86.0 293.7,88.0 293.8,90.0 295.2,92.0 295.6,94.0 297.6,96.0 298.6,98.0 297.4,100.0 297.8,102.0 299.3,104.2 299.1,106.3 300.6,108.5 302.4,110.6 301.3,112.7 301.5,114.7 303.0,116.6 304.2,118.4 305.0,120.0 306.7,121.4 307.7,122.6 308.7,123.7 307.6,124.6 308.0,125.5 307.9,126.3 307.1,127.2 307.0,128.0 307.8,129.0 307.6,130.0 307.9,131.1 308.0,132.2 307.2,133.4 307.6,134.5 308.5,135.7 308.1,136.9 307.5,138.1 306.6,139.4 305.5,140.7 305.3,142.0 305.6,143.4 305.4,145.0 305.5,146.6 305.2,148.2 304.8,149.9 303.9,151.5 302.8,153.1 301.6,154.5 301.7,155.9 301.7,157.0 301.3,158.0 300.1,158.8 300.8,159.4 300.2,160.0 299.8,160.5 299.7,161.0 300.5,161.4 299.6,161.9 299.0,162.4 298.2,163.0 297.3,163.7 294.8,164.3 293.6,165.0 291.6,165.7 290.6,166.4 288.8,167.2 287.4,167.9 287.3,168.6 285.8,169.3 283.5,170.0" fill="none" stroke="#151215" stroke-width="3.5" stroke-linejoin="round"/>
<path d="M369.0,380.0 367.8,380.8 366.5,381.5 365.1,382.3 363.8,383.0 362.4,383.8 361.2,384.5 359.9,385.3 358.8,386.1 357.8,387.0 357.0,388.0 356.3,389.0 355.8,390.0 355.3,391.1 355.0,392.1 354.7,393.2 354.5,394.4 354.3,395.7 354.2,397.0 354.1,398.5 354.0,400.0 353.9,401.7 353.8,403.5 353.8,405.4 353.8,407.4 353.9,409.5 354.0,411.6 354.1,413.7 354.4,415.9 354.6,418.0 355.0,420.0 355.5,422.0 356.0,424.1 356.7,426.3 357.4,428.4 358.1,430.5 358.9,432.6 359.7,434.6 360.5,436.5 361.3,438.3 362.0,440.0 362.7,441.5 363.3,442.7 364.0,443.8 364.6,444.8 365.2,445.8 365.9,446.8 366.6,447.8 367.3,449.0 368.1,450.4 369.0,452.0 369.9,453.8 370.9,455.9 372.0,458.0 373.1,460.3 374.2,462.7 375.3,465.1 376.5,467.6 377.7,470.1 378.8,472.6 380.0,475.0 381.2,477.4 382.3,479.8 383.5,482.3 384.7,484.8 385.9,487.2 387.1,489.8 388.3,492.3 389.5,494.8 390.8,497.4 392.0,500.0 393.3,502.6 394.5,505.2 395.8,507.9 397.1,510.5 398.4,513.2 399.7,515.9 401.0,518.6 402.3,521.4 403.7,524.2 405.0,527.0 406.4,529.9 407.7,532.8 409.1,535.8 410.5,538.8 411.9,541.8 413.4,544.9 414.8,547.9 416.2,551.0 417.6,554.0 419.0,557.0 L490.0,557.0 488.4,554.0 486.8,551.0 485.1,547.9 483.5,544.9 481.9,541.8 480.3,538.8 478.7,535.8 477.1,532.8 475.5,529.9 474.0,527.0 472.5,524.2 471.0,521.4 469.6,518.6 468.2,515.9 466.8,513.2 465.4,510.5 464.0,507.9 462.6,505.2 461.3,502.6 460.0,500.0 458.7,497.4 457.5,494.9 456.2,492.4 455.0,489.9 453.8,487.4 452.6,484.9 451.5,482.4 450.3,480.0 449.2,477.5 448.0,475.0 446.9,472.5 445.8,470.1 444.7,467.7 443.6,465.2 442.5,462.8 441.4,460.4 440.3,457.9 439.2,455.3 438.1,452.7 437.0,450.0 435.8,447.2 434.7,444.2 433.5,441.1 432.4,437.9 431.2,434.7 430.0,431.5 428.8,428.4 427.5,425.4 426.3,422.6 425.0,420.0 423.6,417.6 422.2,415.3 420.7,413.1 419.1,411.0 417.6,409.0 416.0,407.1 414.6,405.2 413.3,403.5 412.0,401.7 411.0,400.0 410.2,398.3 409.5,396.7 409.1,395.2 408.7,393.7 408.4,392.2 408.1,390.9 407.7,389.6 407.3,388.3 406.7,387.1 406.0,386.0 405.1,384.9 404.0,384.0 402.9,383.1 401.7,382.3 400.4,381.5 399.1,380.8 397.7,380.1 396.4,379.4 395.2,378.7 394.0,378.0 392.9,377.3 391.8,376.4 390.7,375.6 389.7,374.8 388.6,374.0 387.6,373.3 386.5,372.7 385.4,372.3 384.2,372.0 383.0,372.0 381.7,372.2 380.4,372.7 379.0,373.4 377.6,374.2 376.2,375.1 374.7,376.1 373.3,377.2 371.8,378.2 370.4,379.1 369.0,380.0Z" fill="#fad5e5"/>
<g clip-path="url(#lum8)"><path d="M370.5 381.3h.1M371.7 384.2h.1M369.7 381.1h.1M372.2 385.1h.1M370.2 381.8h.1M368.4 382.5h.1M373.5 390.9h.1M372.1 387.7h.1M373.0 388.8h.1M368.8 382.7h.1M368.0 383.1h.1M368.4 384.2h.1M367.2 383.4h.1M368.1 385.6h.1M367.8 384.3h.1M366.2 384.2h.1M366.5 385.8h.1M366.3 385.7h.1M367.7 386.2h.1M365.7 385.8h.1M370.2 394.2h.1M365.4 385.6h.1M366.8 387.3h.1M366.7 390.0h.1M365.0 387.6h.1M364.1 386.7h.1M365.6 388.5h.1M363.9 385.4h.1M362.0 386.0h.1M363.0 388.4h.1M362.2 385.5h.1M362.0 386.1h.1M363.0 387.3h.1M364.2 392.4h.1M360.8 387.5h.1M362.2 387.5h.1M366.1 393.3h.1M360.9 386.2h.1M364.3 392.7h.1M361.0 389.4h.1M363.2 391.8h.1M361.6 388.8h.1M360.7 390.4h.1M364.2 394.1h.1M359.6 388.1h.1M364.5 393.7h.1M359.0 389.1h.1M359.2 389.8h.1M361.5 390.8h.1M361.7 391.8h.1M362.6 392.2h.1M359.2 391.0h.1M361.0 392.1h.1M357.7 390.5h.1M358.4 391.9h.1M357.6 390.8h.1M367.2 396.1h.1M357.6 391.2h.1M358.2 391.4h.1M357.4 391.5h.1M357.7 391.4h.1M357.0 391.6h.1M358.5 391.7h.1M359.2 393.1h.1M360.4 393.6h.1M356.8 392.6h.1M356.1 392.7h.1M356.8 392.5h.1M367.4 396.0h.1M359.4 394.5h.1M367.9 395.6h.1M361.0 394.3h.1M356.8 394.1h.1M359.0 394.6h.1M356.5 394.2h.1M358.4 395.3h.1M356.9 394.3h.1M355.7 394.2h.1M360.0 394.7h.1M359.9 396.9h.1M355.6 395.4h.1M365.2 397.4h.1M356.1 395.7h.1M358.2 395.9h.1M356.5 396.7h.1M355.7 396.7h.1M355.7 397.3h.1M359.7 397.2h.1M361.0 397.9h.1M356.0 399.1h.1M358.3 398.2h.1M355.9 398.8h.1M357.0 398.9h.1M361.0 399.9h.1M358.4 399.9h.1M359.6 400.7h.1M360.8 400.1h.1M358.1 401.4h.1M355.9 401.9h.1M355.5 401.9h.1M356.1 401.5h.1M359.7 403.1h.1M359.7 403.3h.1M356.3 403.7h.1M359.3 403.8h.1M356.4 405.6h.1M356.1 405.0h.1M355.9 405.8h.1M361.3 405.7h.1M366.5 405.9h.1M359.6 405.9h.1M358.4 405.9h.1M355.2 406.4h.1M355.6 406.9h.1M362.6 406.3h.1M357.6 407.4h.1M356.7 407.6h.1M357.7 407.7h.1M355.4 406.9h.1M356.8 407.4h.1M355.9 408.2h.1M357.4 408.6h.1M360.3 408.1h.1M357.2 408.9h.1M355.5 409.4h.1M358.7 409.1h.1M355.2 410.0h.1M363.7 408.7h.1M357.3 409.5h.1M360.1 410.6h.1M357.2 409.9h.1M356.9 409.9h.1M367.0 409.4h.1M356.4 410.8h.1M355.4 411.1h.1M357.9 411.8h.1M355.8 411.1h.1M360.4 411.1h.1M356.6 411.0h.1M355.7 412.3h.1M360.1 412.7h.1M363.7 411.9h.1M366.5 411.9h.1M359.9 413.5h.1M355.8 413.2h.1M366.7 412.2h.1M361.3 412.9h.1M357.8 415.0h.1M356.1 415.1h.1M356.8 414.2h.1M360.3 414.0h.1M356.2 414.5h.1M358.5 414.8h.1M360.7 415.2h.1M363.8 415.3h.1M357.0 416.0h.1M361.6 414.7h.1M357.2 416.4h.1M356.1 416.4h.1M364.2 415.5h.1M359.4 416.7h.1M360.7 415.8h.1M360.5 417.4h.1M361.7 416.5h.1M359.6 417.0h.1M362.3 416.3h.1M362.1 417.5h.1M362.7 418.0h.1M363.4 417.0h.1M365.9 417.3h.1M360.0 418.2h.1M359.0 419.1h.1M357.7 419.8h.1M361.6 419.1h.1M357.0 419.4h.1M357.7 419.9h.1M361.9 419.2h.1M356.5 420.2h.1M361.1 419.3h.1M358.6 420.2h.1M358.0 421.6h.1M364.5 419.8h.1M364.7 420.0h.1M358.0 421.9h.1M360.1 422.3h.1M359.4 422.1h.1M358.9 422.7h.1M360.6 421.4h.1M358.4 422.2h.1M357.8 424.1h.1M357.3 423.9h.1M359.2 423.5h.1M359.0 422.8h.1M359.8 423.4h.1M358.4 424.9h.1M363.0 422.8h.1M365.1 423.2h.1M359.4 424.1h.1M361.9 424.0h.1M359.3 425.7h.1M358.5 425.7h.1M360.2 425.3h.1M358.5 426.2h.1M363.4 424.8h.1M366.4 424.3h.1M363.2 425.7h.1M359.8 426.9h.1M358.8 426.1h.1M366.5 425.8h.1M361.1 427.6h.1M361.2 426.6h.1M362.0 427.2h.1M359.8 428.4h.1M360.7 428.4h.1M360.9 427.8h.1M358.8 428.9h.1M360.1 429.5h.1M361.6 428.8h.1M362.5 429.4h.1M360.0 429.9h.1M363.7 428.8h.1M360.9 431.1h.1M368.2 427.3h.1M369.3 427.4h.1M359.8 430.5h.1M365.1 429.3h.1M363.7 431.4h.1M361.5 431.9h.1M360.8 431.4h.1M360.6 431.8h.1M360.9 432.6h.1M360.6 432.7h.1M361.7 432.6h.1M361.1 432.8h.1M362.6 432.9h.1M362.8 432.9h.1M363.7 432.5h.1M361.3 433.4h.1M365.1 433.0h.1M363.0 434.2h.1M365.1 433.4h.1M361.9 435.3h.1M363.8 433.4h.1M367.6 432.7h.1M370.0 432.4h.1M363.4 435.0h.1M364.4 435.1h.1M366.2 434.7h.1M368.8 435.5h.1M365.4 436.8h.1M364.0 437.8h.1M365.0 436.6h.1M370.7 436.5h.1M363.1 439.3h.1M365.2 438.5h.1M364.8 439.3h.1M364.5 438.9h.1M365.8 439.7h.1M365.4 440.3h.1M368.6 438.3h.1M365.2 440.1h.1M365.4 440.7h.1M365.9 441.8h.1M365.1 442.1h.1M364.3 441.8h.1M364.8 442.4h.1M364.7 441.6h.1M369.2 441.0h.1M372.7 439.2h.1M367.7 442.2h.1M365.6 443.5h.1M370.0 441.9h.1M366.8 442.8h.1M372.0 440.4h.1M368.7 442.9h.1M365.4 443.7h.1M370.0 442.8h.1M366.4 444.6h.1M366.9 444.9h.1M369.9 443.4h.1M367.9 444.7h.1M367.6 445.3h.1M378.2 439.3h.1M370.4 443.4h.1M367.3 445.4h.1M368.4 445.5h.1M370.8 444.5h.1M369.6 446.4h.1M370.2 445.5h.1M374.1 443.2h.1M377.5 443.4h.1M376.0 443.9h.1M368.6 447.8h.1M370.0 447.7h.1M368.6 448.7h.1M369.4 450.1h.1M371.0 449.0h.1M372.0 448.6h.1M371.1 449.4h.1M379.2 444.8h.1M371.4 450.4h.1M377.7 447.8h.1M375.2 449.2h.1M373.7 449.3h.1M373.4 450.5h.1M376.8 449.2h.1M371.8 452.3h.1M371.0 452.7h.1M374.9 449.7h.1M378.7 449.6h.1M373.0 452.9h.1M371.4 453.5h.1M371.2 452.9h.1M371.6 453.5h.1M372.6 454.1h.1M374.7 452.2h.1M373.8 453.5h.1M372.4 454.1h.1M380.4 451.8h.1M373.8 454.5h.1M377.5 453.0h.1M374.2 454.8h.1M374.4 455.0h.1M376.8 453.9h.1M376.0 454.2h.1M373.6 457.4h.1M374.5 456.5h.1M378.3 454.4h.1M375.0 456.0h.1M373.7 458.6h.1M375.8 457.9h.1M377.8 456.5h.1M382.2 454.1h.1M374.2 458.8h.1M376.3 458.5h.1M375.0 460.0h.1M376.4 459.1h.1M375.3 459.8h.1M375.2 459.9h.1M379.6 458.9h.1M377.4 460.2h.1M376.4 459.6h.1M382.8 457.5h.1M376.1 461.7h.1M381.1 460.0h.1M383.5 457.9h.1M379.0 460.5h.1M376.8 461.0h.1M377.9 462.1h.1M377.4 462.8h.1M380.6 461.3h.1M376.6 463.5h.1M377.0 464.5h.1M387.5 459.3h.1M378.9 463.2h.1M377.3 465.4h.1M380.3 464.4h.1M386.7 461.5h.1M378.7 465.7h.1M384.1 464.2h.1M379.1 466.5h.1M379.0 467.1h.1M378.7 467.2h.1M377.6 466.5h.1M380.3 466.8h.1M384.2 465.7h.1M382.1 467.0h.1M382.0 466.8h.1M380.8 469.2h.1M380.0 469.1h.1M378.7 469.5h.1M386.4 466.1h.1M384.2 466.4h.1M384.9 467.6h.1M388.0 466.4h.1M386.3 467.6h.1M380.9 470.7h.1M381.1 470.2h.1M380.4 472.1h.1M380.8 471.2h.1M381.5 471.5h.1M383.8 471.9h.1M381.2 473.2h.1M383.0 471.9h.1M387.9 469.4h.1M381.7 474.3h.1M386.1 471.6h.1M383.4 473.5h.1M383.7 473.1h.1M383.4 472.7h.1M382.7 475.5h.1M382.7 475.6h.1M382.3 474.8h.1M383.7 474.6h.1M383.1 476.7h.1M388.1 474.0h.1M384.7 476.3h.1M385.1 475.1h.1M383.9 477.0h.1M386.2 476.4h.1M384.0 477.5h.1M391.6 473.5h.1M383.3 477.6h.1M387.3 477.3h.1M383.8 478.5h.1M384.0 479.5h.1M386.6 477.3h.1M386.2 479.3h.1M384.5 480.6h.1M388.1 478.6h.1M384.7 480.4h.1M385.9 479.8h.1M384.4 481.5h.1M386.1 480.7h.1M385.0 481.8h.1M388.6 481.0h.1M386.9 482.4h.1M386.8 481.8h.1M385.4 482.9h.1M388.0 483.1h.1M386.6 484.1h.1M388.1 483.5h.1M387.1 484.2h.1M391.2 481.6h.1M386.9 485.5h.1M390.3 483.7h.1M398.3 479.2h.1M390.6 483.9h.1M387.2 486.7h.1M391.0 484.6h.1M390.7 484.7h.1M390.9 484.5h.1M387.4 487.5h.1M392.0 486.4h.1M390.7 486.0h.1M394.3 485.0h.1M387.9 487.7h.1M388.2 489.0h.1M395.2 486.5h.1M389.6 489.1h.1M393.4 487.2h.1M391.3 488.4h.1M391.3 488.9h.1M391.1 489.3h.1M390.0 489.7h.1M391.1 489.5h.1M391.6 490.7h.1M391.2 491.1h.1M390.1 491.5h.1M390.6 491.6h.1M393.5 490.2h.1M398.4 489.0h.1M391.4 492.1h.1M391.8 492.5h.1M395.5 490.4h.1M394.1 490.7h.1M391.7 493.6h.1M395.3 492.4h.1M391.2 493.7h.1M395.7 492.1h.1M394.3 492.7h.1M391.4 495.4h.1M391.6 496.1h.1M393.7 494.6h.1M402.4 490.6h.1M392.0 495.0h.1M396.2 494.8h.1M393.2 495.9h.1M394.1 496.1h.1M399.3 493.7h.1M394.1 497.1h.1M404.2 492.1h.1M392.9 497.7h.1M400.9 494.6h.1M393.9 497.9h.1M393.9 499.4h.1M394.4 498.3h.1M400.6 495.8h.1M394.8 498.8h.1M393.8 498.5h.1M393.7 500.6h.1M398.3 498.4h.1M397.5 499.1h.1M394.1 499.9h.1M397.4 499.1h.1M400.8 499.5h.1M395.2 501.8h.1M397.0 500.6h.1M394.4 501.8h.1M397.7 500.6h.1M395.6 502.8h.1M396.6 502.4h.1M402.3 499.3h.1M396.0 503.3h.1M396.9 503.5h.1M400.9 502.5h.1M396.8 504.5h.1M398.0 504.2h.1M397.1 505.7h.1M401.3 504.0h.1M398.8 504.7h.1M401.2 503.1h.1M399.0 507.0h.1M397.2 507.1h.1M397.4 506.4h.1M397.0 506.7h.1M399.7 507.3h.1M401.4 506.8h.1M398.1 508.4h.1M399.7 507.5h.1M404.9 506.5h.1M399.5 509.5h.1M400.7 508.5h.1M398.7 510.3h.1M399.5 508.8h.1M400.0 510.5h.1M404.8 508.2h.1M400.8 511.0h.1M400.2 510.5h.1M399.5 511.2h.1M401.0 511.6h.1M404.5 510.2h.1M405.2 509.7h.1M403.5 510.1h.1M400.5 512.8h.1M402.3 512.9h.1M400.7 513.3h.1M403.6 512.6h.1M401.2 513.7h.1M400.6 513.9h.1M402.0 514.8h.1M401.2 515.1h.1M403.7 513.5h.1M402.1 515.0h.1M406.1 514.0h.1M402.0 515.8h.1M407.0 513.6h.1M405.7 513.9h.1M403.4 515.9h.1M402.1 517.1h.1M402.0 517.6h.1M413.4 511.8h.1M402.8 517.1h.1M402.4 517.2h.1M409.2 514.6h.1M407.9 515.5h.1M404.7 517.3h.1M403.0 518.2h.1M403.2 516.9h.1M402.8 519.0h.1M402.8 518.4h.1M403.5 518.2h.1M410.9 515.5h.1M409.4 516.4h.1M404.3 519.9h.1M408.5 517.6h.1M403.6 519.1h.1M411.4 516.0h.1M404.0 520.8h.1M405.6 520.2h.1M405.2 519.6h.1M413.5 515.8h.1M404.9 521.6h.1M405.3 520.7h.1M404.9 521.9h.1M405.3 521.1h.1M405.9 520.2h.1M411.0 519.3h.1M405.0 522.2h.1M408.7 520.8h.1M406.0 521.9h.1M405.1 522.9h.1M409.6 520.9h.1M408.8 521.5h.1M410.0 520.6h.1M405.9 523.3h.1M406.8 522.5h.1M406.8 523.2h.1M410.3 521.9h.1M411.0 521.9h.1M408.2 523.3h.1M405.8 524.7h.1M410.7 523.3h.1M411.1 522.9h.1M409.5 524.3h.1M406.1 524.8h.1M406.5 525.9h.1M412.6 523.3h.1M406.4 525.9h.1M408.7 524.8h.1M408.2 525.5h.1M412.2 524.1h.1M415.0 523.0h.1M406.8 527.7h.1M409.3 526.2h.1M407.5 527.4h.1M407.9 528.1h.1M410.3 526.7h.1M408.9 526.9h.1M410.4 527.0h.1M411.5 526.9h.1M413.6 527.0h.1M407.5 529.0h.1M407.6 529.0h.1M408.7 529.7h.1M409.9 529.3h.1M413.1 528.2h.1M408.2 529.9h.1M408.8 531.4h.1M413.6 529.5h.1M408.9 530.5h.1M412.9 529.1h.1M409.8 531.3h.1M418.5 527.8h.1M410.7 531.3h.1M413.8 530.4h.1M410.8 531.0h.1M411.1 532.7h.1M411.9 532.0h.1M411.9 531.7h.1M412.1 532.4h.1M416.9 531.6h.1M409.9 534.4h.1M413.2 533.1h.1M411.6 532.9h.1M414.3 533.0h.1M413.6 533.9h.1M413.5 533.1h.1M412.0 534.2h.1M411.2 536.3h.1M411.9 536.1h.1M411.9 535.8h.1M415.9 533.3h.1M414.7 533.8h.1M415.3 535.2h.1M411.7 536.9h.1M413.4 536.1h.1M411.6 537.1h.1M412.5 537.2h.1M412.7 536.5h.1M413.0 537.8h.1M417.4 535.4h.1M416.1 535.9h.1M411.8 537.6h.1M412.8 538.9h.1M416.7 536.9h.1M412.6 539.1h.1M414.1 538.9h.1M415.2 539.0h.1M412.6 540.2h.1M420.5 536.3h.1M415.5 539.2h.1M413.0 540.7h.1M416.9 538.9h.1M414.4 540.2h.1M414.9 539.8h.1M413.4 540.8h.1M414.2 542.0h.1M414.1 542.4h.1M415.1 541.2h.1M414.6 542.3h.1M413.8 542.5h.1M415.7 542.6h.1M420.3 539.9h.1M414.3 543.4h.1M417.0 542.2h.1M415.1 544.0h.1M415.6 543.9h.1M415.5 543.6h.1M417.6 542.3h.1M415.6 544.6h.1M417.2 544.3h.1M419.0 543.3h.1M416.8 545.0h.1M416.2 545.4h.1M424.6 541.8h.1M420.9 544.0h.1M416.4 546.6h.1M418.9 545.1h.1M417.8 544.7h.1M416.9 547.1h.1M416.5 547.0h.1M419.7 545.1h.1M419.2 545.3h.1M418.0 546.6h.1M417.3 548.6h.1M417.9 547.6h.1M418.0 547.9h.1M420.8 546.5h.1M418.0 547.7h.1M426.8 545.4h.1M422.0 547.7h.1M419.0 548.8h.1M417.8 549.3h.1M421.1 548.0h.1M418.4 550.3h.1M419.3 549.3h.1M418.9 550.1h.1M423.5 548.0h.1M420.7 548.4h.1M418.4 550.9h.1M417.9 550.9h.1M421.7 549.2h.1M423.8 548.4h.1M419.2 551.9h.1M418.2 552.4h.1M419.5 551.2h.1M424.6 549.3h.1M418.4 553.0h.1M418.6 553.0h.1M422.8 551.7h.1M420.8 552.1h.1M420.0 553.5h.1M420.5 553.3h.1M425.1 551.1h.1M423.4 552.9h.1M423.1 552.7h.1M424.4 551.6h.1M421.6 553.0h.1M423.7 553.7h.1M424.6 553.3h.1M422.8 554.6h.1M425.1 553.0h.1M421.1 555.4h.1M421.5 556.1h.1M428.9 552.6h.1M423.9 555.3h.1M425.0 554.1h.1M422.2 555.8h.1M366.9 375.8h.1M368.0 378.0h.1M363.8 372.4h.1M368.1 378.5h.1M368.1 377.4h.1M366.8 373.3h.1M369.9 377.2h.1M369.0 377.8h.1M368.1 376.6h.1M368.4 376.2h.1M367.6 371.4h.1M369.1 374.7h.1M370.4 376.1h.1M370.3 375.6h.1M369.6 375.2h.1M372.0 375.6h.1M372.2 376.4h.1M372.4 376.1h.1M369.0 370.7h.1M372.3 372.5h.1M373.9 375.2h.1M373.5 374.2h.1M374.0 374.9h.1M373.1 373.8h.1M373.2 370.0h.1M373.3 371.7h.1M374.0 371.2h.1M372.2 370.2h.1M376.8 371.9h.1M374.1 367.6h.1M376.5 372.3h.1M375.9 371.8h.1M374.4 368.7h.1M374.0 363.9h.1M374.4 364.5h.1M378.4 372.2h.1M375.2 360.0h.1M379.2 369.4h.1M379.1 369.0h.1M375.3 362.1h.1M381.7 370.8h.1M381.6 370.9h.1M379.6 365.6h.1M380.6 369.5h.1M382.4 367.5h.1M383.2 367.6h.1M383.0 365.3h.1M382.8 369.8h.1M382.6 369.1h.1M384.1 376.2h.1M382.4 383.0h.1M383.9 374.3h.1M382.6 383.0h.1M383.2 379.8h.1M384.8 373.6h.1M384.4 373.9h.1M384.9 374.7h.1M383.7 376.3h.1M386.1 374.5h.1M383.1 379.3h.1M382.0 383.1h.1M385.0 374.4h.1M383.3 380.5h.1M384.3 379.0h.1M384.1 380.1h.1M386.5 375.8h.1M382.0 382.0h.1M384.1 380.6h.1M387.0 375.8h.1M385.9 377.0h.1M384.2 381.0h.1M387.5 375.9h.1M385.9 380.2h.1M387.8 376.5h.1M388.5 376.9h.1M387.9 377.8h.1M388.2 375.9h.1M389.2 376.7h.1M386.5 380.2h.1M387.1 379.4h.1M389.5 377.5h.1M389.3 378.8h.1M389.9 378.4h.1M387.9 382.0h.1M387.7 381.8h.1M388.1 380.6h.1M391.7 379.4h.1M391.5 378.8h.1M391.9 379.5h.1M390.1 381.2h.1M391.6 379.9h.1M392.2 381.8h.1M392.6 379.8h.1M393.2 379.4h.1M390.2 383.3h.1M392.8 381.1h.1M391.8 385.7h.1M393.4 381.0h.1M393.1 383.1h.1M390.2 387.9h.1M394.0 380.9h.1M395.2 382.7h.1M392.3 388.2h.1M395.3 382.8h.1M396.1 381.1h.1M396.8 383.1h.1M397.5 381.4h.1M394.2 386.5h.1M393.9 386.6h.1M397.3 383.3h.1M396.0 387.0h.1M398.8 382.4h.1M397.9 382.5h.1M397.6 383.6h.1M397.8 385.6h.1M399.1 382.6h.1M398.5 384.9h.1M399.2 384.7h.1M398.7 384.1h.1M395.7 391.8h.1M399.4 385.6h.1M400.3 384.0h.1M399.6 385.3h.1M401.7 384.0h.1M401.6 385.5h.1M397.3 390.3h.1M398.9 388.5h.1M400.6 386.3h.1M400.9 388.1h.1M402.5 386.5h.1M399.1 389.5h.1M403.1 385.1h.1M400.5 387.6h.1M404.3 386.1h.1M401.5 388.1h.1M402.5 387.0h.1M403.4 386.0h.1M401.3 389.3h.1M400.4 390.4h.1M401.9 388.9h.1M402.5 388.2h.1M394.7 394.8h.1M405.3 387.7h.1M405.1 388.5h.1M405.6 387.7h.1M399.5 391.6h.1M405.4 389.4h.1M405.1 389.5h.1M404.9 389.6h.1M403.5 390.3h.1M406.7 390.4h.1M406.5 390.0h.1M405.0 390.7h.1M405.2 390.0h.1M402.0 392.3h.1M406.9 391.5h.1M406.0 391.3h.1M406.8 390.9h.1M403.1 392.4h.1M402.6 393.7h.1M406.4 392.7h.1M404.1 393.5h.1M406.4 392.5h.1M405.6 392.4h.1M404.4 394.3h.1M402.8 394.6h.1M402.5 394.7h.1M407.1 393.7h.1M400.6 398.1h.1M406.8 396.1h.1M403.8 396.7h.1M407.0 396.3h.1M396.9 398.0h.1M407.6 397.3h.1M400.5 399.3h.1M402.2 399.1h.1M408.5 397.6h.1M407.2 397.2h.1M408.5 398.7h.1M408.2 399.3h.1M407.0 399.5h.1M406.8 400.2h.1M402.2 405.1h.1M407.3 401.9h.1M408.5 400.9h.1M403.1 404.4h.1M409.9 401.2h.1M406.6 403.5h.1M408.3 403.3h.1M409.2 402.3h.1M406.9 403.2h.1M407.4 403.3h.1M407.0 404.3h.1M409.8 402.6h.1M410.6 402.7h.1M410.7 403.0h.1M410.8 402.7h.1M411.1 404.0h.1M410.1 405.0h.1M410.4 404.0h.1M402.2 409.6h.1M401.9 410.6h.1M403.8 409.8h.1M407.0 408.4h.1M408.3 407.2h.1M412.3 404.8h.1M409.1 407.7h.1M409.6 407.5h.1M408.6 407.6h.1M405.1 410.8h.1M408.7 409.5h.1M411.1 407.3h.1M411.4 407.0h.1M408.2 410.4h.1M412.4 407.6h.1M414.3 407.3h.1M410.8 409.9h.1M414.6 407.3h.1M412.8 408.3h.1M409.4 410.4h.1M413.9 408.1h.1M415.1 408.6h.1M411.1 410.6h.1M415.0 408.6h.1M415.4 409.0h.1M407.2 414.9h.1M414.0 409.6h.1M415.9 409.5h.1M416.6 410.0h.1M414.7 411.2h.1M416.2 410.1h.1M411.8 413.0h.1M410.6 414.3h.1M415.7 412.2h.1M415.3 413.0h.1M415.4 412.3h.1M416.3 410.8h.1M417.7 411.9h.1M418.4 412.2h.1M416.5 413.5h.1M414.9 414.5h.1M413.9 414.6h.1M416.7 414.6h.1M414.4 415.6h.1M417.9 414.0h.1M414.6 416.7h.1M418.4 412.7h.1M415.8 416.8h.1M415.3 417.0h.1M417.6 415.9h.1M416.7 416.1h.1M416.3 417.8h.1M420.0 415.1h.1M418.8 415.9h.1M417.9 416.4h.1M418.9 415.8h.1M420.6 415.6h.1M417.3 418.4h.1M419.5 417.2h.1M419.6 416.6h.1M413.2 422.2h.1M419.9 418.1h.1M422.0 417.6h.1M416.2 420.3h.1M417.7 421.1h.1M420.9 418.8h.1M417.9 421.5h.1M416.3 421.4h.1M419.3 421.5h.1M422.5 419.2h.1M418.9 421.2h.1M418.2 422.5h.1M415.4 425.2h.1M423.7 420.8h.1M422.1 421.2h.1M415.6 425.2h.1M423.2 422.6h.1M423.3 422.4h.1M419.0 424.2h.1M420.4 423.7h.1M424.0 423.9h.1M424.8 423.2h.1M422.1 424.8h.1M423.6 423.3h.1M424.8 423.4h.1M422.6 425.9h.1M423.1 424.8h.1M422.6 425.1h.1M420.4 425.9h.1M418.0 428.1h.1M425.1 424.9h.1M425.2 425.2h.1M424.5 426.0h.1M424.9 426.9h.1M418.7 429.1h.1M417.9 429.2h.1M413.9 431.4h.1M422.6 427.4h.1M419.6 429.7h.1M422.8 428.5h.1M424.2 427.6h.1M426.1 427.0h.1M423.1 428.5h.1M425.2 428.2h.1M426.1 428.0h.1M421.5 430.3h.1M425.8 428.2h.1M426.4 429.8h.1M422.6 431.2h.1M420.5 431.9h.1M427.1 428.5h.1M427.0 428.8h.1M425.1 431.0h.1M427.3 430.8h.1M423.3 431.6h.1M428.1 430.5h.1M428.1 431.3h.1M427.2 431.9h.1M427.1 430.9h.1M427.9 431.6h.1M424.9 433.2h.1M427.6 431.9h.1M428.8 432.1h.1M427.3 432.2h.1M428.2 433.0h.1M426.0 434.4h.1M426.7 433.5h.1M422.1 435.2h.1M427.2 434.9h.1M427.0 435.3h.1M422.1 436.9h.1M429.7 434.5h.1M429.5 433.9h.1M424.8 436.6h.1M429.0 435.9h.1M426.0 436.1h.1M426.3 436.9h.1M426.7 437.3h.1M429.8 436.0h.1M428.6 436.4h.1M428.8 436.8h.1M427.7 437.1h.1M429.7 438.2h.1M424.3 440.2h.1M426.0 439.1h.1M425.6 439.2h.1M430.3 437.1h.1M429.9 438.7h.1M428.5 438.8h.1M427.2 440.2h.1M426.0 440.7h.1M426.9 441.4h.1M430.0 439.8h.1M431.2 439.9h.1M429.7 440.5h.1M430.2 439.7h.1M424.7 442.9h.1M428.0 441.8h.1M425.5 443.2h.1M429.2 441.3h.1M426.9 443.3h.1M432.0 441.2h.1M421.0 445.1h.1M426.8 443.6h.1M431.0 443.2h.1M432.7 443.1h.1M432.3 442.2h.1M429.1 444.1h.1M427.3 444.8h.1M433.0 443.3h.1M427.9 445.1h.1M430.7 444.8h.1M432.6 443.8h.1M425.5 446.7h.1M432.7 445.5h.1M428.5 446.7h.1M432.5 445.3h.1M431.5 445.8h.1M432.2 445.6h.1M431.3 447.0h.1M431.6 447.1h.1M434.1 446.0h.1M429.7 447.2h.1M427.4 447.6h.1M428.5 448.7h.1M430.6 447.4h.1M433.7 446.3h.1M433.7 447.9h.1M434.6 448.2h.1M428.7 450.1h.1M432.7 448.2h.1M431.6 448.6h.1M430.9 450.7h.1M434.7 448.2h.1M433.5 448.7h.1M433.5 449.8h.1M429.3 451.5h.1M435.3 449.3h.1M435.3 449.6h.1M434.4 450.2h.1M432.8 450.7h.1M434.4 450.2h.1M433.8 451.3h.1M434.6 450.4h.1M433.9 451.5h.1M435.4 451.1h.1M429.0 453.8h.1M435.7 451.8h.1M432.2 454.2h.1M435.8 451.4h.1M434.9 452.3h.1M433.3 452.7h.1M429.0 456.3h.1M435.7 453.3h.1M425.9 458.0h.1M431.0 455.1h.1M434.5 454.5h.1M437.2 454.5h.1M435.3 456.1h.1M436.4 454.4h.1M427.8 458.3h.1M435.5 457.5h.1M428.6 460.4h.1M437.3 456.6h.1M438.0 455.7h.1M428.5 459.6h.1M437.9 457.7h.1M435.0 458.1h.1M430.1 460.2h.1M434.7 458.6h.1M433.9 460.6h.1M434.2 461.1h.1M430.6 462.1h.1M438.2 458.8h.1M436.3 461.6h.1M438.1 460.4h.1M433.4 462.0h.1M433.1 461.9h.1M437.3 460.8h.1M438.3 461.3h.1M438.6 461.7h.1M438.2 461.1h.1M440.1 461.2h.1M435.6 464.8h.1M433.7 464.8h.1M441.0 462.4h.1M437.8 463.2h.1M440.6 463.8h.1M440.4 463.2h.1M437.3 464.6h.1M440.6 464.9h.1M439.7 465.1h.1M440.3 465.5h.1M441.6 465.6h.1M439.2 467.1h.1M434.1 469.0h.1M438.1 467.9h.1M440.0 468.6h.1M440.9 467.8h.1M439.3 468.8h.1M441.1 467.4h.1M441.0 467.9h.1M440.8 469.2h.1M442.8 468.7h.1M439.0 469.9h.1M440.0 470.4h.1M442.1 469.4h.1M437.4 472.0h.1M443.0 470.5h.1M443.8 469.3h.1M442.1 470.6h.1M440.8 471.7h.1M444.2 470.2h.1M442.6 470.9h.1M442.3 471.8h.1M443.7 473.1h.1M443.8 472.6h.1M442.5 472.7h.1M440.0 473.5h.1M438.8 476.2h.1M445.6 472.9h.1M442.8 474.8h.1M445.5 473.5h.1M444.2 473.8h.1M438.3 478.5h.1M442.1 476.5h.1M445.6 474.0h.1M440.6 477.1h.1M446.1 476.4h.1M444.2 476.1h.1M445.5 476.0h.1M446.9 476.1h.1M439.4 479.4h.1M447.2 477.2h.1M442.2 479.6h.1M442.2 478.7h.1M447.2 476.3h.1M445.6 478.8h.1M441.5 480.5h.1M446.5 478.0h.1M446.4 479.1h.1M444.0 482.0h.1M437.6 483.8h.1M444.0 481.0h.1M447.3 479.7h.1M447.2 480.9h.1M447.1 481.7h.1M447.0 481.9h.1M447.8 481.0h.1M444.9 482.8h.1M443.8 484.9h.1M447.0 482.9h.1M446.9 482.5h.1M449.4 481.7h.1M449.1 481.4h.1M447.1 484.1h.1M446.4 485.3h.1M447.1 484.1h.1M447.6 484.1h.1M449.2 483.0h.1M442.0 488.0h.1M450.0 484.7h.1M450.7 484.1h.1M448.4 485.4h.1M443.2 488.0h.1M446.5 487.7h.1M451.8 485.9h.1M446.2 487.4h.1M451.0 485.3h.1M447.9 486.7h.1M452.0 486.4h.1M450.4 487.1h.1M452.0 486.4h.1M451.1 486.9h.1M451.2 488.0h.1M447.0 491.0h.1M450.3 488.4h.1M452.1 488.7h.1M450.6 488.5h.1M452.9 489.3h.1M450.5 490.0h.1M452.1 489.9h.1M449.8 491.0h.1M450.1 490.5h.1M448.2 493.6h.1M446.1 493.6h.1M449.0 492.3h.1M452.4 490.7h.1M447.7 493.8h.1M445.5 495.7h.1M451.9 493.2h.1M453.6 491.9h.1M454.3 492.1h.1M453.7 491.6h.1M451.9 494.5h.1M449.1 496.2h.1M454.4 493.3h.1M454.4 492.9h.1M454.6 495.2h.1M452.1 495.4h.1M455.0 494.6h.1M453.1 494.8h.1M455.5 494.4h.1M451.5 497.5h.1M453.5 496.8h.1M455.3 496.5h.1M454.7 496.1h.1M454.0 497.0h.1M454.6 498.1h.1M454.0 498.8h.1M445.8 502.6h.1M456.3 497.1h.1M455.0 497.3h.1M453.6 499.9h.1M456.0 499.1h.1M453.7 500.5h.1M452.3 500.3h.1M449.2 503.7h.1M456.6 499.4h.1M456.3 500.3h.1M456.9 499.4h.1M455.9 499.8h.1M457.5 501.2h.1M456.4 501.6h.1M458.2 500.3h.1M456.5 502.4h.1M458.5 502.7h.1M457.6 503.3h.1M459.4 501.5h.1M458.8 502.1h.1M457.9 502.5h.1M457.7 505.0h.1M457.0 504.9h.1M454.5 505.8h.1M460.4 503.7h.1M457.8 504.5h.1M459.5 505.4h.1M460.1 505.4h.1M459.3 505.0h.1M453.6 507.8h.1M461.0 505.7h.1M456.2 507.9h.1M460.0 506.9h.1M462.1 507.7h.1M461.0 508.1h.1M460.4 508.6h.1M460.0 507.9h.1M461.7 507.4h.1M456.3 511.9h.1M456.4 511.3h.1M460.8 509.5h.1M462.4 508.3h.1M461.4 511.0h.1M457.5 513.5h.1M460.5 510.7h.1M456.9 512.8h.1M462.5 509.8h.1M462.3 512.1h.1M463.9 511.5h.1M461.7 512.1h.1M458.8 514.5h.1M456.4 515.8h.1M462.7 512.7h.1M460.6 514.6h.1M464.3 512.2h.1M454.0 518.1h.1M463.3 513.9h.1M460.1 515.1h.1M464.4 513.9h.1M465.2 513.0h.1M465.0 513.3h.1M465.1 514.6h.1M464.6 513.7h.1M465.2 513.4h.1M464.4 515.1h.1M466.1 514.7h.1M463.5 515.5h.1M463.4 516.0h.1M465.1 515.7h.1M466.0 515.3h.1M465.7 516.2h.1M455.9 521.8h.1M460.0 518.5h.1M461.8 518.4h.1M464.0 517.6h.1M466.1 516.5h.1M464.2 518.1h.1M460.6 519.2h.1M466.5 517.6h.1M460.9 520.3h.1M462.8 520.4h.1M465.0 518.9h.1M465.2 520.1h.1M465.5 519.1h.1M467.3 518.8h.1M467.6 518.0h.1M465.9 520.3h.1M458.0 524.8h.1M467.7 519.7h.1M462.3 522.3h.1M465.6 521.5h.1M466.1 521.4h.1M467.1 521.4h.1M468.3 521.8h.1M464.0 523.9h.1M466.2 522.5h.1M468.6 521.5h.1M465.4 524.4h.1M468.4 522.4h.1M464.4 525.4h.1M461.0 526.3h.1M469.8 522.2h.1M466.8 524.6h.1M468.7 524.0h.1M469.8 523.0h.1M465.6 525.6h.1M470.0 523.9h.1M470.9 524.0h.1M468.5 525.7h.1M468.6 525.6h.1M469.0 524.9h.1M462.6 529.3h.1M471.4 524.6h.1M470.8 525.2h.1M469.2 525.9h.1M471.4 525.3h.1M468.2 527.8h.1M468.6 527.4h.1M471.8 525.7h.1M466.3 528.8h.1M465.0 530.6h.1M472.0 527.1h.1M464.4 531.3h.1M469.3 528.7h.1M472.1 526.7h.1M472.6 528.2h.1M468.8 529.1h.1M472.8 527.7h.1M463.2 532.9h.1M466.1 530.6h.1M472.0 528.8h.1M471.2 529.1h.1M470.1 530.5h.1M466.1 532.8h.1M473.4 529.0h.1M471.6 530.2h.1M469.9 531.2h.1M471.7 531.2h.1M471.1 532.5h.1M472.4 531.2h.1M472.8 531.6h.1M473.4 530.5h.1M472.4 531.7h.1M463.5 537.2h.1M470.2 533.7h.1M474.7 531.6h.1M468.7 535.1h.1M472.4 534.0h.1M472.0 534.3h.1M475.0 532.9h.1M474.9 532.4h.1M473.9 534.8h.1M473.8 534.4h.1M473.2 534.2h.1M474.4 533.6h.1M476.2 535.0h.1M475.7 535.2h.1M473.3 536.3h.1M472.1 536.4h.1M470.9 537.4h.1M476.1 535.8h.1M475.4 535.7h.1M470.5 539.1h.1M475.0 536.5h.1M470.1 538.5h.1M475.2 537.6h.1M476.5 536.6h.1M474.0 538.1h.1M469.0 541.5h.1M475.6 538.2h.1M476.5 537.6h.1M476.2 539.0h.1M473.5 539.6h.1M477.3 538.4h.1M472.3 541.2h.1M469.2 543.6h.1M477.1 539.1h.1M475.7 540.0h.1M477.7 539.5h.1M474.5 542.1h.1M475.6 540.7h.1M479.2 539.9h.1M477.7 540.1h.1M476.3 541.6h.1M477.3 542.0h.1M479.3 540.9h.1M468.9 546.6h.1M475.0 543.5h.1M474.9 544.6h.1M477.2 543.2h.1M479.6 541.5h.1M479.2 542.4h.1M475.3 543.7h.1M480.5 542.3h.1M480.8 543.0h.1M479.3 543.0h.1M474.7 545.7h.1M477.6 544.0h.1M479.1 543.9h.1M479.1 544.1h.1M480.9 543.7h.1M476.2 546.0h.1M481.4 544.0h.1M481.8 544.6h.1M481.3 544.4h.1M480.3 545.6h.1M480.0 545.3h.1M481.7 546.5h.1M481.6 545.4h.1M479.8 546.6h.1M478.1 547.1h.1M474.6 550.7h.1M481.1 547.2h.1M480.4 547.5h.1M479.4 548.2h.1M479.0 548.3h.1M479.6 549.8h.1M481.5 548.0h.1M483.0 547.3h.1M482.7 547.5h.1M476.4 552.2h.1M483.0 548.6h.1M483.7 548.9h.1M481.2 549.7h.1M478.9 551.5h.1M481.2 551.2h.1M484.2 549.5h.1M475.3 554.3h.1M481.2 550.8h.1M483.6 551.2h.1M482.7 551.5h.1M484.2 550.5h.1M481.5 552.5h.1M475.5 556.3h.1M479.7 554.1h.1M485.5 552.3h.1M479.2 555.2h.1M482.6 553.1h.1M483.8 552.1h.1M486.0 553.1h.1M483.7 554.4h.1M485.2 553.2h.1M485.4 553.4h.1M485.6 553.1h.1M486.5 553.7h.1M484.6 555.1h.1M485.9 553.6h.1M485.8 554.5h.1M486.0 554.1h.1M483.4 556.6h.1M486.9 554.7h.1M478.3 559.2h.1M484.7 555.8h.1M484.8 555.3h.1M486.4 556.1h.1M487.5 556.4h.1M482.0 558.5h.1M485.0 557.2h.1M486.9 555.4h.1M485.5 557.5h.1M488.1 556.2h.1M485.1 558.5h.1M485.0 558.4h.1M487.0 559.1h.1M489.0 558.0h.1M486.7 558.4h.1M487.0 558.0h.1" fill="none" stroke="#3a2430" stroke-width="1.6" stroke-linecap="round" opacity="0.85"/></g>
<path d="M355.8,441.1 356.6,441.4 355.8,440.2 356.0,441.5 356.2,445.1 358.4,448.3 358.7,448.7 359.4,449.8 359.5,449.6 360.7,452.4 363.6,454.5 362.8,453.0 362.2,450.9 361.9,455.5 364.4,460.0 366.0,462.1 368.1,465.0 369.7,466.0 368.9,465.0 368.9,468.6 370.6,473.6 373.5,477.3 375.1,478.5 374.5,478.9 375.7,482.6 377.3,485.6 379.1,488.7 380.6,490.4 380.4,489.5 379.8,493.9 383.3,499.4 385.9,502.1 387.1,503.4 387.0,503.1 386.9,507.4 389.8,511.7 391.0,514.1 392.3,515.8 392.4,517.7 394.0,521.9 396.9,526.1 399.5,528.1 398.9,526.9 398.5,531.8 401.4,536.1 402.3,539.3 404.8,541.8 404.6,544.0 407.3,548.8 409.6,551.8 410.1,551.8 409.3,555.8" fill="none" stroke="#8a3a66" stroke-width="2" stroke-dasharray="2.2 2.6" opacity="0.9"/>
<path d="M417.2,395.0 416.8,396.8 416.9,400.5 415.4,398.0 415.7,396.3 418.1,398.7 419.0,399.9 422.3,402.2 424.6,406.3 425.5,408.6 425.2,408.9 427.5,410.8 429.6,414.3 431.3,417.8 431.5,419.9 432.2,420.8 435.9,424.5 437.9,429.9 438.6,434.3 438.2,436.2 439.0,437.3 441.5,440.6 443.6,446.1 442.9,447.5 444.9,449.1 446.2,453.1 447.4,456.4 447.6,460.7 446.4,459.3 448.4,460.4 450.6,463.5 453.1,466.5 454.8,471.7 454.6,474.4 454.2,473.6 456.9,476.3 457.9,479.9 459.7,483.6 458.7,484.6 460.0,485.0 462.9,488.2 465.0,492.0 466.5,498.0 465.2,499.2 465.3,497.9 468.7,501.2 469.9,504.3 472.5,507.8 472.2,509.8 474.8,511.9 476.3,515.9 478.1,519.7 477.9,521.9 478.8,522.7 481.1,525.4 484.4,529.6 485.6,534.4 485.7,535.7 487.7,538.1 489.4,541.8 490.8,544.6 492.0,546.7 495.1,550.1 497.0,554.5" fill="none" stroke="#8a3a66" stroke-width="2" stroke-dasharray="2.2 2.6" opacity="0.9"/>
<path d="M368.6,380.0 367.5,380.8 366.5,381.5 365.5,382.3 364.3,383.0 362.2,383.8 361.8,384.5 360.4,385.3 359.3,386.1 357.3,387.0 355.9,388.0 355.2,389.0 354.8,390.0 355.6,391.1 355.6,392.1 355.5,393.2 354.9,394.4 355.9,395.7 356.1,397.0 355.8,398.5 354.4,400.0 352.9,401.7 352.9,403.5 353.6,405.4 353.4,407.4 354.0,409.5 355.2,411.6 353.5,413.7 353.0,415.9 354.6,418.0 355.0,420.0 356.4,422.0 356.6,424.1 357.7,426.3 355.8,428.4 356.3,430.5 358.6,432.6 359.6,434.6 361.1,436.5 362.9,438.3 362.8,440.0 363.0,441.5 362.8,442.7 363.8,443.8 364.6,444.8 365.1,445.8 365.9,446.8 366.0,447.8 367.9,449.0 369.2,450.4 369.1,452.0 368.7,453.8 370.1,455.9 371.7,458.0 373.3,460.3 375.9,462.7 375.9,465.1 375.8,467.6 376.7,470.1 378.6,472.6 381.1,475.0 381.4,477.4 382.1,479.8 383.4,482.3 384.8,484.8 386.9,487.2 387.4,489.8 386.6,492.3 388.6,494.8 391.1,497.4 393.2,500.0 393.9,502.6 393.6,505.2 395.6,507.9 397.0,510.5 398.8,513.2 399.2,515.9 400.2,518.6 402.1,521.4 405.3,524.2 405.9,527.0 405.2,529.9 407.5,532.8 408.4,535.8 411.1,538.8 411.2,541.8 413.1,544.9 415.4,547.9 417.1,551.0 416.1,554.0 418.7,557.0" fill="none" stroke="#151215" stroke-width="3.5" stroke-linejoin="round"/>
<path d="M369.5,380.0 370.2,379.1 370.8,378.2 373.3,377.2 374.8,376.1 376.5,375.1 377.8,374.2 378.7,373.4 380.4,372.7 380.7,372.2 381.9,372.0 382.9,372.0 385.1,372.3 386.7,372.7 388.0,373.3 389.2,374.0 390.9,374.8 392.2,375.6 392.5,376.4 393.6,377.3 393.6,378.0 394.0,378.7 395.5,379.4 397.1,380.1 399.2,380.8 400.7,381.5 401.3,382.3 403.2,383.1 404.4,384.0 405.3,384.9 405.6,386.0 406.1,387.1 406.4,388.3 408.5,389.6 408.6,390.9 409.1,392.2 409.8,393.7 410.2,395.2 409.8,396.7 410.2,398.3 408.7,400.0 411.2,401.7 412.9,403.5 414.5,405.2 417.2,407.1 418.2,409.0 418.9,411.0 419.6,413.1 422.1,415.3 423.4,417.6 424.6,420.0 425.1,422.6 426.9,425.4 430.1,428.4 431.1,431.5 431.6,434.7 431.4,437.9 433.1,441.1 435.4,444.2 436.7,447.2 436.3,450.0 438.9,452.7 439.5,455.3 440.6,457.9 440.6,460.4 440.3,462.8 443.4,465.2 445.0,467.7 447.1,470.1 447.9,472.5 447.6,475.0 448.3,477.5 450.9,480.0 451.4,482.4 452.9,484.9 452.3,487.4 455.0,489.9 457.2,492.4 458.7,494.9 459.5,497.4 458.2,500.0 460.1,502.6 463.0,505.2 463.8,507.9 466.1,510.5 466.1,513.2 469.0,515.9 469.8,518.6 471.3,521.4 471.3,524.2 473.3,527.0 475.7,529.9 478.2,532.8 478.8,535.8 479.4,538.8 481.7,541.8 483.1,544.9 484.7,547.9 486.4,551.0 489.3,554.0 490.5,557.0" fill="none" stroke="#151215" stroke-width="3.5" stroke-linejoin="round"/>
<path d="M274.0,168.0 274.8,169.3 275.6,170.6 276.5,171.8 277.3,173.0 278.2,174.2 279.0,175.5 279.8,176.9 280.6,178.4 281.3,180.1 282.0,182.0 282.6,184.0 283.1,186.2 283.5,188.4 283.9,190.8 284.3,193.2 284.7,195.9 285.1,198.6 285.6,201.6 286.3,204.7 287.0,208.0 287.9,211.7 288.9,215.7 290.0,220.1 291.2,224.7 292.4,229.4 293.6,234.0 294.9,238.5 296.1,242.8 297.3,246.6 298.5,250.0 299.6,252.8 300.7,255.2 301.8,257.3 302.9,259.1 304.0,260.8 305.1,262.3 306.1,264.0 307.2,265.7 308.4,267.7 309.5,270.0 310.7,272.6 311.8,275.4 313.0,278.4 314.3,281.5 315.5,284.7 316.7,287.9 317.9,291.1 319.1,294.2 320.3,297.2 321.5,300.0 322.7,302.7 323.9,305.3 325.1,307.9 326.3,310.4 327.4,312.8 328.6,315.2 329.7,317.7 330.9,320.1 332.0,322.5 333.0,325.0 334.0,327.5 334.9,329.9 335.7,332.3 336.5,334.7 337.3,337.1 338.2,339.5 339.0,342.0 339.9,344.6 340.9,347.2 342.0,350.0 343.2,352.9 344.5,356.0 345.8,359.1 347.2,362.3 348.7,365.6 350.2,368.9 351.6,372.2 353.1,375.5 354.6,378.8 356.0,382.0 L380.0,375.0 378.9,372.6 378.0,370.4 377.0,368.3 376.1,366.2 375.1,364.1 374.1,361.8 373.0,359.3 371.8,356.6 370.5,353.5 369.0,350.0 367.3,345.9 365.3,341.3 363.2,336.2 360.9,330.8 358.6,325.3 356.2,319.8 354.0,314.3 351.8,309.1 349.8,304.3 348.0,300.0 346.4,296.1 345.0,292.6 343.7,289.2 342.5,286.1 341.4,283.1 340.3,280.3 339.2,277.6 338.2,275.0 337.1,272.5 336.0,270.0 334.9,267.7 333.8,265.7 332.8,264.0 331.7,262.3 330.7,260.8 329.6,259.1 328.6,257.3 327.4,255.2 326.3,252.8 325.0,250.0 323.6,246.6 322.2,242.8 320.6,238.5 319.0,234.0 317.4,229.4 315.8,224.7 314.2,220.1 312.7,215.7 311.3,211.7 310.0,208.0 308.8,204.7 307.8,201.6 306.7,198.7 305.8,196.0 304.9,193.4 304.0,190.9 303.2,188.6 302.4,186.3 301.7,184.1 301.0,182.0 300.3,180.0 299.7,178.2 299.2,176.5 298.7,174.9 298.2,173.4 297.8,171.9 297.4,170.5 296.9,169.0 296.5,167.6 296.0,166.0Z" fill="#fff"/>
<path d="M288.0,180.0 288.8,182.7 289.5,185.4 290.3,188.0 291.0,190.5 291.8,193.1 292.5,195.8 293.3,198.6 294.1,201.5 295.0,204.6 296.0,208.0 297.0,211.7 298.1,215.7 299.2,219.9 300.4,224.4 301.6,228.9 302.9,233.4 304.1,237.8 305.4,242.1 306.7,246.2 308.0,250.0 309.3,253.5 310.7,256.9 312.1,260.2 313.6,263.3 315.0,266.4 316.4,269.3 317.9,272.1 319.3,274.8 320.7,277.5 322.0,280.0 323.2,282.3 324.4,284.2 325.5,285.8 326.5,287.3 327.6,288.8 328.6,290.3 329.8,292.1 331.1,294.2 332.4,296.8 334.0,300.0 335.8,303.9 337.8,308.5 340.0,313.7 342.2,319.2 344.6,324.9 346.9,330.6 349.2,336.1 351.3,341.3 353.3,346.0 355.0,350.0 356.5,353.3 357.8,356.2 359.0,358.7 360.1,360.8 361.1,362.8 362.1,364.5 363.0,366.3 364.0,368.0 364.9,369.9 366.0,372.0" fill="none" stroke="#999" stroke-width="1" opacity="0.6"/>
<path d="M294.0,172.0 286.2,200.9 314.7,229.7 305.9,258.6 337.8,287.4 331.3,316.3 362.5,345.1 357.5,374.0" fill="none" stroke="#5e0636" stroke-width="3.6" stroke-linejoin="round"/>
<path d="M275.0,172.0 305.2,200.9 295.7,229.7 324.9,258.6 318.8,287.4 350.3,316.3 343.5,345.1 376.5,374.0" fill="none" stroke="#5e0636" stroke-width="3.6" stroke-linejoin="round"/>
<path d="M294.0,172.0 286.2,200.9 314.7,229.7 305.9,258.6 337.8,287.4 331.3,316.3 362.5,345.1 357.5,374.0" fill="none" stroke="#c0136f" stroke-width="2.2" stroke-linejoin="round"/>
<path d="M275.0,172.0 305.2,200.9 295.7,229.7 324.9,258.6 318.8,287.4 350.3,316.3 343.5,345.1 376.5,374.0" fill="none" stroke="#c0136f" stroke-width="2.2" stroke-linejoin="round"/>
<path d="M274.0,168.0 274.8,169.3 275.6,170.6 276.5,171.8 277.3,173.0 278.2,174.2 279.0,175.5 279.8,176.9 280.6,178.4 281.3,180.1 282.0,182.0 282.6,184.0 283.1,186.2 283.5,188.4 283.9,190.8 284.3,193.2 284.7,195.9 285.1,198.6 285.6,201.6 286.3,204.7 287.0,208.0 287.9,211.7 288.9,215.7 290.0,220.1 291.2,224.7 292.4,229.4 293.6,234.0 294.9,238.5 296.1,242.8 297.3,246.6 298.5,250.0 299.6,252.8 300.7,255.2 301.8,257.3 302.9,259.1 304.0,260.8 305.1,262.3 306.1,264.0 307.2,265.7 308.4,267.7 309.5,270.0 310.7,272.6 311.8,275.4 313.0,278.4 314.3,281.5 315.5,284.7 316.7,287.9 317.9,291.1 319.1,294.2 320.3,297.2 321.5,300.0 322.7,302.7 323.9,305.3 325.1,307.9 326.3,310.4 327.4,312.8 328.6,315.2 329.7,317.7 330.9,320.1 332.0,322.5 333.0,325.0 334.0,327.5 334.9,329.9 335.7,332.3 336.5,334.7 337.3,337.1 338.2,339.5 339.0,342.0 339.9,344.6 340.9,347.2 342.0,350.0 343.2,352.9 344.5,356.0 345.8,359.1 347.2,362.3 348.7,365.6 350.2,368.9 351.6,372.2 353.1,375.5 354.6,378.8 356.0,382.0" fill="none" stroke="#151215" stroke-width="2.6"/>
<path d="M296.0,166.0 296.5,167.6 296.9,169.0 297.4,170.5 297.8,171.9 298.2,173.4 298.7,174.9 299.2,176.5 299.7,178.2 300.3,180.0 301.0,182.0 301.7,184.1 302.4,186.3 303.2,188.6 304.0,190.9 304.9,193.4 305.8,196.0 306.7,198.7 307.8,201.6 308.8,204.7 310.0,208.0 311.3,211.7 312.7,215.7 314.2,220.1 315.8,224.7 317.4,229.4 319.0,234.0 320.6,238.5 322.2,242.8 323.6,246.6 325.0,250.0 326.3,252.8 327.4,255.2 328.6,257.3 329.6,259.1 330.7,260.8 331.7,262.3 332.8,264.0 333.8,265.7 334.9,267.7 336.0,270.0 337.1,272.5 338.2,275.0 339.2,277.6 340.3,280.3 341.4,283.1 342.5,286.1 343.7,289.2 345.0,292.6 346.4,296.1 348.0,300.0 349.8,304.3 351.8,309.1 354.0,314.3 356.2,319.8 358.6,325.3 360.9,330.8 363.2,336.2 365.3,341.3 367.3,345.9 369.0,350.0 370.5,353.5 371.8,356.6 373.0,359.3 374.1,361.8 375.1,364.1 376.1,366.2 377.0,368.3 378.0,370.4 378.9,372.6 380.0,375.0" fill="none" stroke="#151215" stroke-width="2.6"/>
<path d="M271,170 Q274,160 285,159 Q297,159 299,166 Q292,172 285,173 Q276,174 271,170Z" fill="#fff" stroke="#151215" stroke-width="2.4"/>
<circle cx="369.5" cy="380" r="11.5" fill="#fff" stroke="#151215" stroke-width="2.4"/>
<path d="M230.0,-3.0 231.3,2.3 232.6,7.6 233.9,13.0 235.2,18.3 236.5,23.7 237.8,29.0 239.1,34.3 240.4,39.6 241.7,44.8 243.0,50.0 244.3,55.1 245.5,60.0 246.7,64.8 248.0,69.6 249.2,74.4 250.4,79.3 251.7,84.2 253.1,89.3 254.5,94.5 256.0,100.0 257.6,105.7 259.3,111.6 261.0,117.7 262.8,123.9 264.7,130.2 266.6,136.6 268.4,143.0 270.3,149.4 272.2,155.7 274.0,162.0 L287.0,160.0 285.3,154.0 283.6,147.8 281.8,141.7 280.1,135.5 278.3,129.4 276.6,123.3 274.9,117.3 273.2,111.4 271.6,105.6 270.0,100.0 268.5,94.6 267.0,89.4 265.5,84.4 264.0,79.4 262.6,74.6 261.2,69.7 259.9,64.9 258.6,60.0 257.3,55.1 256.0,50.0 254.8,44.8 253.6,39.6 252.5,34.3 251.4,29.0 250.3,23.7 249.3,18.3 248.2,13.0 247.2,7.6 246.1,2.3 245.0,-3.0Z" fill="#c8a2b5"/>
<path d="M238.0,-3.0 239.2,2.3 240.4,7.6 241.6,13.0 242.8,18.3 243.9,23.7 245.1,29.0 246.3,34.3 247.5,39.6 248.8,44.8 250.0,50.0 251.2,55.1 252.5,60.0 253.7,64.9 254.9,69.7 256.1,74.5 257.4,79.4 258.7,84.3 260.1,89.3 261.5,94.6 263.0,100.0 264.6,105.7 266.3,111.5 268.0,117.5 269.8,123.6 271.7,129.8 273.6,136.1 275.4,142.4 277.3,148.6 279.2,154.9 281.0,161.0" fill="none" stroke="#e2c8d5" stroke-width="2.5"/>
<path d="M230.0,-3.0 231.3,2.3 232.6,7.6 233.9,13.0 235.2,18.3 236.5,23.7 237.8,29.0 239.1,34.3 240.4,39.6 241.7,44.8 243.0,50.0 244.3,55.1 245.5,60.0 246.7,64.8 248.0,69.6 249.2,74.4 250.4,79.3 251.7,84.2 253.1,89.3 254.5,94.5 256.0,100.0 257.6,105.7 259.3,111.6 261.0,117.7 262.8,123.9 264.7,130.2 266.6,136.6 268.4,143.0 270.3,149.4 272.2,155.7 274.0,162.0" fill="none" stroke="#151215" stroke-width="2.6"/>
<path d="M245.0,-3.0 246.1,2.3 247.2,7.6 248.2,13.0 249.3,18.3 250.3,23.7 251.4,29.0 252.5,34.3 253.6,39.6 254.8,44.8 256.0,50.0 257.3,55.1 258.6,60.0 259.9,64.9 261.2,69.7 262.6,74.6 264.0,79.4 265.5,84.4 267.0,89.4 268.5,94.6 270.0,100.0 271.6,105.6 273.2,111.4 274.9,117.3 276.6,123.3 278.3,129.4 280.1,135.5 281.8,141.7 283.6,147.8 285.3,154.0 287.0,160.0" fill="none" stroke="#151215" stroke-width="2.6"/>
<path d="M372,391 L384,418 Q390,427 397,415 L386,389" fill="#c8a2b5" stroke="#151215" stroke-width="2.4"/>
<path d="M393,422 L425.4,487.5 L419,500.6" fill="none" stroke="#151215" stroke-width="2.8"/>
<path d="M531.5,-3.0 531.6,-2.8 531.6,-2.7 531.6,-2.6 531.7,-2.6 531.7,-2.6 531.8,-2.4 531.8,-2.1 532.0,-1.7 532.1,-1.0 532.3,0.0 532.5,1.3 532.8,2.9 533.1,4.8 533.5,6.8 533.8,8.9 534.2,11.2 534.7,13.5 535.1,15.7 535.5,17.9 536.0,20.0 536.5,22.0 537.0,24.0 537.5,26.0 538.1,28.0 538.7,30.0 539.3,32.0 539.9,34.0 540.5,36.0 541.0,38.0 541.6,40.0 542.2,42.0 542.7,44.0 543.3,46.0 543.9,48.0 544.5,50.0 545.0,52.0 545.6,54.0 546.1,56.0 546.6,58.0 547.1,60.0 547.5,62.0 547.9,64.0 548.3,66.0 548.6,68.0 548.9,70.0 549.2,72.0 549.5,74.0 549.9,76.0 550.3,78.0 550.8,80.0 551.3,82.0 551.9,84.0 552.5,86.0 553.2,88.0 553.9,90.0 554.6,92.0 555.3,94.0 556.0,96.0 556.6,98.0 557.3,100.0 558.0,102.0 558.6,104.0 559.3,106.0 560.0,108.0 560.7,110.0 561.4,112.0 562.0,114.0 562.7,116.0 563.3,118.0 563.8,120.0 564.3,122.0 564.7,124.1 565.2,126.3 565.5,128.4 565.9,130.5 566.2,132.6 566.6,134.6 566.9,136.5 567.2,138.3 567.6,140.0 567.9,141.5 568.2,142.8 568.4,144.0 568.6,145.1 568.8,146.1 569.0,147.2 569.4,148.2 569.8,149.3 570.3,150.6 571.0,152.0 571.8,153.7 572.8,155.7 573.8,158.0 574.9,160.4 576.1,162.7 577.4,164.9 578.8,166.8 580.1,168.4 581.6,169.5 583.0,170.0 584.5,169.8 586.1,169.1 587.7,167.9 589.4,166.4 591.2,164.6 593.0,162.6 594.7,160.5 596.5,158.5 598.3,156.6 600.0,155.0 L600.0,155.0 603.6,155.3 607.4,155.8 611.3,156.2 615.3,156.7 619.2,157.2 622.9,157.6 626.4,157.9 629.4,158.1 632.0,158.1 634.0,158.0 635.3,157.7 636.1,157.1 636.4,156.5 636.3,155.7 635.9,154.8 635.3,153.9 634.6,152.9 634.0,151.9 633.4,150.9 633.0,150.0 632.7,149.1 632.4,148.3 632.0,147.5 631.6,146.6 631.1,145.8 630.7,144.8 630.2,143.8 629.7,142.7 629.3,141.4 628.8,140.0 628.4,138.4 627.9,136.6 627.5,134.7 627.1,132.7 626.6,130.6 626.2,128.5 625.7,126.3 625.2,124.2 624.7,122.0 624.2,120.0 623.6,118.0 623.0,116.0 622.3,114.0 621.7,112.0 621.0,110.0 620.3,108.0 619.6,106.0 618.9,104.0 618.3,102.0 617.7,100.0 617.2,98.0 616.6,96.0 616.2,94.0 615.7,92.0 615.2,90.0 614.8,88.0 614.3,86.0 613.9,84.0 613.5,82.0 613.0,80.0 612.5,78.0 612.1,76.0 611.6,74.0 611.1,72.0 610.6,70.0 610.2,68.0 609.7,66.0 609.3,64.0 608.8,62.0 608.4,60.0 608.0,58.0 607.6,56.0 607.2,54.0 606.9,52.0 606.5,50.0 606.1,48.0 605.8,46.0 605.4,44.0 605.1,42.0 604.7,40.0 604.3,38.0 603.9,36.0 603.5,34.0 603.1,32.0 602.7,30.0 602.4,28.0 602.0,26.0 601.6,24.0 601.3,22.0 601.0,20.0 600.7,17.9 600.5,15.7 600.2,13.5 600.0,11.2 599.8,8.9 599.7,6.8 599.5,4.8 599.3,2.9 599.2,1.3 599.1,0.0 599.0,-1.0 598.9,-1.7 598.9,-2.1 598.9,-2.4 598.9,-2.6 598.8,-2.6 598.8,-2.6 598.8,-2.7 598.8,-2.8 598.8,-3.0Z" fill="#fad5e5"/>
<g clip-path="url(#lum9)"><path d="M535.3 -4.7h.1M533.1 -3.4h.1M535.1 -3.9h.1M534.0 -3.2h.1M538.7 -4.7h.1M534.0 -3.4h.1M533.1 -2.9h.1M533.8 -3.2h.1M534.2 -4.2h.1M533.4 -4.1h.1M532.4 -3.6h.1M533.6 -3.9h.1M532.9 -3.3h.1M533.7 -3.8h.1M532.7 -3.3h.1M533.3 -2.9h.1M534.0 -3.0h.1M537.1 -4.3h.1M535.3 -4.1h.1M539.2 -4.4h.1M536.0 -3.5h.1M534.2 -3.6h.1M535.8 -3.6h.1M534.0 -2.7h.1M532.9 -3.0h.1M535.0 -3.4h.1M538.1 -2.7h.1M534.5 -2.2h.1M536.5 -2.8h.1M535.2 -1.8h.1M537.1 -1.5h.1M537.3 -2.4h.1M537.8 -2.1h.1M536.8 -0.5h.1M538.8 -1.0h.1M533.7 -0.3h.1M534.6 -0.3h.1M535.3 -0.6h.1M541.5 -0.6h.1M534.8 0.5h.1M534.2 1.4h.1M542.6 -0.9h.1M535.4 1.3h.1M535.2 2.0h.1M535.0 2.5h.1M534.0 2.4h.1M534.8 4.0h.1M535.7 3.8h.1M534.7 4.0h.1M540.1 4.0h.1M541.1 4.6h.1M535.8 5.7h.1M534.7 5.0h.1M545.4 3.4h.1M534.8 6.1h.1M538.3 5.5h.1M538.6 6.1h.1M535.6 6.4h.1M535.6 6.9h.1M538.2 6.5h.1M542.6 6.7h.1M537.4 7.3h.1M537.3 7.5h.1M537.5 6.9h.1M535.1 8.8h.1M542.3 7.7h.1M535.9 8.6h.1M538.2 8.3h.1M537.2 8.4h.1M537.9 9.7h.1M539.2 8.7h.1M536.3 9.4h.1M536.8 9.6h.1M540.1 10.0h.1M539.8 10.7h.1M536.1 11.0h.1M546.7 8.8h.1M536.9 11.4h.1M541.4 11.0h.1M537.2 11.8h.1M540.3 11.7h.1M544.5 10.8h.1M535.8 12.9h.1M537.2 12.6h.1M538.0 12.4h.1M539.6 12.4h.1M537.4 13.5h.1M542.6 13.4h.1M543.5 12.7h.1M537.2 14.4h.1M540.0 14.8h.1M536.4 15.2h.1M538.3 15.7h.1M536.8 15.5h.1M541.4 16.0h.1M541.3 15.2h.1M537.4 15.8h.1M539.2 15.5h.1M545.7 16.1h.1M538.0 18.0h.1M537.2 17.1h.1M538.5 17.7h.1M537.2 17.9h.1M538.3 17.8h.1M537.4 18.9h.1M539.5 18.5h.1M537.7 18.3h.1M541.3 18.3h.1M541.6 18.1h.1M539.3 18.9h.1M542.3 18.8h.1M537.6 20.8h.1M541.4 19.1h.1M543.9 19.6h.1M539.0 20.4h.1M541.2 20.3h.1M542.8 20.4h.1M537.8 21.7h.1M539.5 21.1h.1M539.3 20.9h.1M539.0 21.7h.1M544.3 20.6h.1M540.5 22.3h.1M543.2 21.2h.1M538.7 23.1h.1M541.2 22.0h.1M541.1 22.8h.1M545.9 21.8h.1M543.1 22.5h.1M542.9 22.0h.1M539.0 24.0h.1M542.7 23.8h.1M542.2 23.4h.1M540.8 24.4h.1M542.1 24.2h.1M538.8 25.8h.1M541.2 24.5h.1M540.6 25.4h.1M545.6 23.2h.1M539.5 27.0h.1M548.6 23.8h.1M539.7 26.0h.1M539.8 26.3h.1M542.2 27.4h.1M541.2 27.3h.1M539.2 27.6h.1M539.2 27.2h.1M540.8 28.3h.1M542.0 27.4h.1M540.0 28.8h.1M541.2 27.7h.1M541.8 27.9h.1M540.4 29.0h.1M542.8 29.4h.1M544.9 27.7h.1M542.5 28.7h.1M553.0 26.1h.1M543.0 28.4h.1M541.8 30.3h.1M540.4 30.5h.1M541.9 30.2h.1M545.1 29.6h.1M544.6 30.0h.1M543.6 30.1h.1M541.1 31.1h.1M542.0 31.5h.1M540.6 32.1h.1M551.0 29.8h.1M547.2 31.3h.1M542.9 32.5h.1M540.9 32.9h.1M541.4 33.0h.1M543.6 33.0h.1M544.9 32.1h.1M544.1 33.3h.1M552.6 31.6h.1M543.3 34.0h.1M543.4 33.6h.1M541.5 34.3h.1M543.3 35.6h.1M544.6 35.3h.1M549.5 33.6h.1M543.6 34.8h.1M547.8 34.4h.1M545.3 35.5h.1M543.8 36.2h.1M553.0 34.6h.1M545.0 36.5h.1M547.6 36.1h.1M547.3 36.7h.1M545.1 37.5h.1M544.5 37.6h.1M543.3 39.0h.1M544.0 37.8h.1M544.3 37.6h.1M543.6 39.6h.1M551.6 36.6h.1M547.1 38.5h.1M545.0 38.9h.1M542.7 39.5h.1M544.6 40.7h.1M548.9 39.4h.1M545.4 40.0h.1M549.3 38.4h.1M545.6 41.0h.1M554.3 39.1h.1M545.1 41.2h.1M543.8 41.9h.1M545.7 40.6h.1M544.3 42.4h.1M544.0 42.3h.1M549.0 40.9h.1M552.6 39.5h.1M550.3 41.3h.1M547.9 43.0h.1M556.7 40.4h.1M544.1 43.6h.1M544.6 43.0h.1M547.0 43.4h.1M545.2 43.8h.1M553.3 42.4h.1M546.5 44.6h.1M545.4 45.0h.1M547.9 44.8h.1M547.1 45.3h.1M547.0 44.7h.1M548.4 45.1h.1M545.4 46.8h.1M546.8 46.5h.1M548.7 46.1h.1M547.8 45.9h.1M546.3 46.8h.1M553.7 44.6h.1M554.1 45.6h.1M548.9 47.1h.1M548.4 47.0h.1M545.7 48.9h.1M547.3 47.6h.1M548.1 47.6h.1M546.5 48.8h.1M548.7 48.0h.1M547.7 49.0h.1M547.2 49.6h.1M553.0 47.3h.1M549.8 48.1h.1M545.7 49.9h.1M550.2 49.2h.1M551.0 49.7h.1M546.6 51.0h.1M547.8 49.9h.1M548.7 50.7h.1M546.4 51.8h.1M550.6 50.7h.1M548.1 51.6h.1M546.5 52.7h.1M548.9 51.7h.1M548.9 51.4h.1M546.7 53.2h.1M550.5 52.7h.1M549.5 53.4h.1M550.4 53.2h.1M550.9 53.1h.1M547.3 53.9h.1M552.6 53.8h.1M551.9 53.3h.1M549.7 54.3h.1M547.2 54.7h.1M548.8 55.4h.1M551.9 54.4h.1M551.4 55.1h.1M548.9 55.3h.1M548.6 56.2h.1M549.3 56.4h.1M548.3 57.1h.1M550.0 56.4h.1M549.5 57.4h.1M548.3 58.2h.1M550.9 56.9h.1M547.8 57.4h.1M549.3 57.5h.1M549.2 58.5h.1M552.1 57.8h.1M552.9 57.7h.1M548.4 58.8h.1M557.9 57.4h.1M554.9 57.9h.1M551.8 58.3h.1M554.4 58.3h.1M550.1 60.1h.1M552.7 60.0h.1M548.6 60.4h.1M557.9 58.5h.1M549.7 60.6h.1M549.1 61.3h.1M549.4 61.6h.1M549.9 61.7h.1M548.9 62.3h.1M550.1 62.1h.1M550.9 62.2h.1M553.6 62.5h.1M562.3 60.1h.1M552.5 63.6h.1M556.7 62.0h.1M549.8 64.1h.1M553.4 63.3h.1M549.4 63.9h.1M554.8 63.6h.1M549.3 65.1h.1M552.7 64.0h.1M561.7 63.6h.1M550.4 66.2h.1M551.4 65.4h.1M550.8 65.8h.1M556.4 65.6h.1M551.6 66.9h.1M562.2 65.1h.1M554.0 66.5h.1M558.6 65.9h.1M549.8 67.8h.1M551.2 67.0h.1M551.1 68.1h.1M549.8 67.6h.1M553.9 68.2h.1M550.3 69.2h.1M555.0 68.0h.1M552.9 68.7h.1M552.3 68.4h.1M554.8 68.9h.1M555.4 68.8h.1M554.0 69.0h.1M558.3 69.1h.1M551.8 70.5h.1M553.4 69.7h.1M553.1 70.9h.1M550.5 71.2h.1M553.3 70.9h.1M555.3 70.9h.1M550.9 72.2h.1M557.9 70.9h.1M551.3 71.7h.1M552.9 71.2h.1M554.2 72.8h.1M559.0 71.0h.1M555.8 71.8h.1M553.8 72.3h.1M554.7 72.9h.1M556.1 72.8h.1M554.5 73.7h.1M551.8 73.0h.1M558.7 72.4h.1M558.7 73.2h.1M552.7 74.7h.1M557.2 73.5h.1M552.5 75.4h.1M557.6 73.9h.1M556.6 74.8h.1M554.7 74.8h.1M553.0 76.4h.1M552.1 76.3h.1M558.1 75.5h.1M553.4 76.5h.1M553.1 77.5h.1M552.2 77.6h.1M552.8 77.2h.1M556.2 76.5h.1M556.3 77.0h.1M558.2 77.2h.1M554.8 78.2h.1M554.6 78.5h.1M551.9 79.3h.1M555.1 77.8h.1M555.0 78.3h.1M555.3 78.7h.1M555.0 79.3h.1M552.6 80.0h.1M553.2 79.1h.1M553.3 80.4h.1M561.9 77.7h.1M553.4 80.2h.1M555.7 79.6h.1M556.0 79.2h.1M556.8 80.0h.1M552.7 81.8h.1M552.9 82.1h.1M556.4 80.1h.1M553.0 82.4h.1M560.2 81.0h.1M557.7 81.4h.1M555.8 81.8h.1M556.5 81.6h.1M554.3 83.2h.1M557.1 83.0h.1M554.5 83.1h.1M554.7 82.8h.1M554.1 84.4h.1M554.6 84.4h.1M558.3 82.6h.1M555.6 83.6h.1M554.4 85.1h.1M554.9 85.0h.1M561.5 83.6h.1M559.0 83.8h.1M555.7 84.6h.1M554.3 86.4h.1M554.9 86.8h.1M555.2 86.2h.1M554.3 86.8h.1M558.8 86.4h.1M555.3 87.0h.1M557.3 86.1h.1M563.9 84.7h.1M555.0 88.6h.1M559.6 86.5h.1M555.1 88.7h.1M557.0 88.2h.1M556.7 88.6h.1M557.7 88.8h.1M557.2 89.3h.1M559.3 88.6h.1M556.0 89.3h.1M557.7 88.8h.1M557.2 89.5h.1M561.9 88.4h.1M560.0 89.3h.1M558.8 89.9h.1M556.4 91.6h.1M556.4 90.8h.1M556.1 91.1h.1M558.3 90.6h.1M558.5 91.4h.1M556.2 92.0h.1M556.6 92.3h.1M556.7 92.3h.1M556.7 92.7h.1M556.8 94.0h.1M556.8 93.7h.1M561.2 91.9h.1M563.8 90.6h.1M560.9 92.6h.1M558.7 93.9h.1M563.1 92.2h.1M557.6 93.7h.1M557.4 93.9h.1M565.7 91.3h.1M561.1 94.2h.1M557.4 95.3h.1M558.4 95.7h.1M559.1 95.5h.1M565.1 93.5h.1M562.8 94.9h.1M558.7 96.6h.1M559.5 96.5h.1M560.4 96.2h.1M561.9 96.5h.1M561.2 95.9h.1M561.9 96.6h.1M558.4 96.9h.1M558.0 97.6h.1M560.1 98.6h.1M562.6 97.0h.1M558.8 98.3h.1M561.4 98.0h.1M558.6 99.8h.1M562.5 98.5h.1M564.1 98.1h.1M561.9 98.9h.1M559.1 100.0h.1M559.5 100.6h.1M560.2 100.7h.1M559.9 100.2h.1M561.3 100.3h.1M560.2 100.7h.1M569.2 98.7h.1M563.8 100.1h.1M559.1 101.2h.1M562.5 100.0h.1M562.6 100.3h.1M565.8 100.8h.1M561.5 102.0h.1M568.4 99.7h.1M559.8 103.1h.1M563.3 102.0h.1M564.6 102.2h.1M560.6 103.9h.1M565.6 102.7h.1M566.2 103.1h.1M564.0 102.7h.1M561.8 104.3h.1M562.4 104.5h.1M562.5 104.4h.1M564.8 103.8h.1M569.7 101.9h.1M563.9 104.6h.1M563.6 105.8h.1M561.5 106.3h.1M567.0 104.6h.1M561.7 106.1h.1M563.4 106.9h.1M562.9 106.4h.1M561.7 107.9h.1M563.1 106.7h.1M563.0 106.4h.1M566.2 106.6h.1M562.6 107.7h.1M562.8 108.2h.1M566.3 107.0h.1M564.5 108.1h.1M562.4 109.6h.1M562.5 109.9h.1M561.9 109.0h.1M565.0 109.8h.1M562.6 110.3h.1M563.9 110.4h.1M567.5 109.1h.1M562.9 110.3h.1M564.0 111.3h.1M562.7 111.8h.1M564.7 111.0h.1M568.7 109.1h.1M567.8 111.3h.1M564.6 111.6h.1M567.9 111.2h.1M565.8 112.0h.1M572.9 109.0h.1M564.4 113.8h.1M564.6 113.7h.1M566.4 113.2h.1M570.7 111.6h.1M566.7 114.0h.1M565.5 114.5h.1M564.4 114.4h.1M563.9 114.1h.1M564.5 113.8h.1M565.7 115.5h.1M566.6 115.0h.1M564.1 115.4h.1M563.8 115.2h.1M570.2 113.3h.1M568.1 116.0h.1M570.4 115.4h.1M575.7 113.1h.1M569.0 114.9h.1M570.8 115.4h.1M572.2 115.7h.1M567.5 116.7h.1M566.0 117.1h.1M569.2 117.9h.1M564.9 118.0h.1M574.4 115.7h.1M570.5 117.0h.1M565.4 117.9h.1M565.0 119.1h.1M566.3 119.8h.1M569.7 118.2h.1M566.7 119.1h.1M566.7 120.4h.1M566.1 120.4h.1M570.0 119.6h.1M565.4 120.5h.1M568.1 119.7h.1M567.0 121.0h.1M572.6 119.6h.1M573.7 119.4h.1M568.3 121.2h.1M573.2 121.0h.1M565.8 122.4h.1M573.1 121.4h.1M570.6 121.6h.1M569.0 123.8h.1M566.5 123.6h.1M570.2 123.5h.1M568.2 123.8h.1M567.6 124.9h.1M567.3 124.4h.1M567.3 125.0h.1M570.6 124.6h.1M572.1 124.7h.1M570.8 125.2h.1M568.3 125.1h.1M567.3 126.2h.1M568.6 126.1h.1M566.5 127.0h.1M569.1 126.1h.1M573.7 125.4h.1M569.6 126.3h.1M567.9 127.6h.1M570.6 127.6h.1M567.1 128.7h.1M567.1 127.8h.1M567.9 127.8h.1M567.3 129.3h.1M570.3 128.4h.1M568.4 128.9h.1M574.7 128.3h.1M568.7 130.4h.1M569.1 129.8h.1M570.6 129.1h.1M570.8 129.9h.1M567.5 130.1h.1M569.9 130.7h.1M570.1 130.7h.1M568.8 131.6h.1M571.5 131.2h.1M568.7 131.1h.1M569.1 132.3h.1M568.1 132.3h.1M568.6 132.7h.1M569.1 132.6h.1M570.5 133.4h.1M571.9 133.1h.1M570.6 133.0h.1M568.2 133.7h.1M571.2 133.0h.1M570.4 133.7h.1M573.0 133.7h.1M574.3 133.5h.1M576.5 135.0h.1M570.1 135.9h.1M568.3 136.7h.1M574.4 135.3h.1M568.5 138.0h.1M569.5 138.0h.1M570.0 137.9h.1M576.4 136.4h.1M575.1 138.4h.1M570.7 138.8h.1M569.0 139.1h.1M576.6 137.5h.1M570.1 139.4h.1M572.8 140.7h.1M569.4 140.9h.1M569.4 140.9h.1M569.8 140.5h.1M574.3 142.1h.1M574.9 141.0h.1M572.6 142.4h.1M572.9 142.1h.1M571.4 142.6h.1M572.0 143.3h.1M570.3 143.9h.1M576.0 142.8h.1M569.6 143.7h.1M574.6 142.4h.1M572.4 144.1h.1M569.9 145.1h.1M570.4 144.9h.1M572.4 144.6h.1M574.9 145.2h.1M570.7 146.0h.1M571.7 145.7h.1M574.1 144.8h.1M572.4 146.5h.1M570.9 147.1h.1M571.7 146.9h.1M570.6 146.2h.1M573.2 145.7h.1M575.0 146.6h.1M574.3 146.1h.1M570.7 147.9h.1M570.9 148.0h.1M573.4 147.4h.1M576.8 146.6h.1M571.8 148.0h.1M575.0 147.5h.1M574.2 147.6h.1M573.1 148.6h.1M581.4 145.8h.1M579.1 147.2h.1M573.1 148.9h.1M573.6 149.1h.1M573.1 149.7h.1M572.7 150.9h.1M577.7 148.4h.1M576.1 149.2h.1M573.8 150.6h.1M582.3 149.3h.1M573.2 152.4h.1M574.9 152.6h.1M575.7 152.5h.1M574.3 153.7h.1M573.6 154.0h.1M577.8 151.9h.1M574.1 154.0h.1M580.9 151.0h.1M574.9 155.2h.1M575.6 154.4h.1M580.6 151.9h.1M576.0 154.9h.1M577.7 154.6h.1M577.6 154.8h.1M580.2 153.7h.1M578.7 154.5h.1M575.3 157.1h.1M575.9 156.4h.1M579.7 155.3h.1M577.1 156.7h.1M574.9 157.0h.1M582.1 155.5h.1M586.7 153.7h.1M577.1 157.7h.1M577.4 158.1h.1M577.6 157.9h.1M578.5 158.9h.1M578.3 158.8h.1M578.0 159.4h.1M578.7 158.5h.1M584.9 156.3h.1M581.2 158.2h.1M580.5 158.7h.1M579.7 159.8h.1M579.4 160.6h.1M578.4 161.5h.1M581.3 159.4h.1M577.3 161.7h.1M582.4 160.8h.1M579.3 162.4h.1M578.4 163.0h.1M580.9 161.0h.1M581.0 160.8h.1M586.3 159.5h.1M579.3 164.0h.1M581.3 162.3h.1M582.2 162.2h.1M581.7 161.8h.1M581.1 164.4h.1M580.1 164.0h.1M579.9 164.6h.1M579.4 164.6h.1M582.3 163.9h.1M583.1 163.2h.1M581.4 164.4h.1M580.0 166.4h.1M580.9 164.9h.1M582.2 164.7h.1M582.1 165.9h.1M585.3 163.0h.1M586.8 160.8h.1M580.2 166.4h.1M582.2 166.5h.1M581.6 166.9h.1M581.9 165.8h.1M584.2 163.3h.1M585.0 163.4h.1M582.2 167.5h.1M584.1 164.6h.1M583.4 165.8h.1M582.3 167.3h.1M584.6 163.9h.1M582.9 168.2h.1M583.3 168.2h.1M583.2 163.4h.1M584.4 159.6h.1M584.9 173.1h.1M585.6 171.9h.1M585.6 172.0h.1M587.1 177.1h.1M584.9 171.5h.1M586.6 171.3h.1M588.0 172.5h.1M586.8 171.1h.1M588.0 173.5h.1M589.7 174.8h.1M589.2 172.1h.1M588.0 169.7h.1M589.1 172.0h.1M588.4 170.2h.1M592.7 176.9h.1M590.0 170.5h.1M589.4 169.8h.1M589.8 171.4h.1M588.7 169.3h.1M588.9 169.3h.1M594.7 173.7h.1M592.6 172.3h.1M594.8 173.2h.1M591.8 170.2h.1M591.3 170.2h.1M593.7 170.2h.1M595.9 173.0h.1M597.4 174.8h.1M590.3 167.3h.1M591.5 167.4h.1M594.2 169.8h.1M596.2 171.0h.1M591.6 166.6h.1M599.9 173.4h.1M592.6 165.7h.1M595.1 168.1h.1M598.6 171.9h.1M592.2 165.5h.1M594.6 165.2h.1M594.0 165.0h.1M595.0 166.6h.1M599.3 170.4h.1M593.7 165.5h.1M594.8 164.8h.1M596.2 165.7h.1M596.1 165.1h.1M593.5 163.8h.1M598.8 167.1h.1M596.5 163.4h.1M596.1 162.8h.1M595.3 162.2h.1M595.0 162.4h.1M602.2 167.3h.1M604.4 168.3h.1M596.7 161.8h.1M602.2 167.5h.1M597.2 162.3h.1M598.0 161.7h.1M596.8 161.0h.1M601.9 165.5h.1M602.9 165.5h.1M597.1 159.7h.1M602.5 163.2h.1M606.0 167.5h.1M604.7 166.1h.1M599.0 160.1h.1M598.8 159.6h.1M598.6 159.1h.1M598.9 158.9h.1M599.0 159.6h.1M603.7 163.7h.1M600.8 159.9h.1M600.8 160.0h.1M600.9 159.0h.1M600.9 159.7h.1M604.2 161.7h.1M608.7 166.1h.1M601.8 158.8h.1M603.5 161.0h.1M600.6 157.4h.1M601.4 157.3h.1M602.4 156.8h.1M601.1 156.1h.1M603.4 158.0h.1M586.8 -1.2h.1M594.6 -2.8h.1M593.9 -2.2h.1M593.5 -2.3h.1M596.0 -2.8h.1M597.3 -2.5h.1M596.9 -2.8h.1M596.3 -2.7h.1M595.0 -2.2h.1M595.8 -2.3h.1M591.6 -1.8h.1M595.1 -2.4h.1M597.3 -2.7h.1M597.5 -2.5h.1M594.6 -2.4h.1M592.6 -1.7h.1M594.2 -2.0h.1M597.2 -2.3h.1M596.6 -2.0h.1M596.0 -2.5h.1M597.6 -1.9h.1M597.2 -2.7h.1M595.8 -2.3h.1M593.6 -1.6h.1M584.5 -1.2h.1M597.3 -2.7h.1M597.6 -2.7h.1M597.3 -2.5h.1M589.8 -1.4h.1M595.8 -2.6h.1M597.4 -2.6h.1M595.2 -1.4h.1M597.7 -2.3h.1M595.8 -1.7h.1M593.0 -1.3h.1M595.6 -2.0h.1M588.3 -0.6h.1M594.6 -1.1h.1M595.4 -1.4h.1M593.9 -1.1h.1M584.7 0.8h.1M594.9 -0.8h.1M597.1 -0.9h.1M595.8 -0.8h.1M594.8 -0.1h.1M594.1 0.7h.1M597.1 -0.1h.1M597.8 0.1h.1M594.8 1.8h.1M597.8 0.9h.1M595.5 2.1h.1M593.6 1.7h.1M596.9 1.1h.1M596.3 2.7h.1M597.0 3.4h.1M592.9 3.3h.1M590.3 3.5h.1M590.4 5.7h.1M598.0 4.6h.1M596.5 5.0h.1M598.2 5.4h.1M598.3 6.0h.1M588.7 6.9h.1M591.4 6.9h.1M594.4 5.6h.1M597.1 6.1h.1M598.2 7.3h.1M594.5 7.0h.1M596.2 7.5h.1M597.9 7.1h.1M597.5 7.4h.1M596.8 8.1h.1M597.1 7.9h.1M587.6 9.4h.1M594.8 9.9h.1M596.7 9.7h.1M592.9 9.3h.1M597.1 9.4h.1M598.0 8.8h.1M590.2 11.5h.1M592.6 10.7h.1M593.8 10.8h.1M596.7 10.4h.1M598.2 9.9h.1M595.0 11.3h.1M597.9 11.8h.1M593.4 12.3h.1M593.4 11.4h.1M596.5 11.9h.1M596.6 12.8h.1M598.9 12.1h.1M594.1 13.1h.1M596.8 12.7h.1M596.2 12.5h.1M593.7 14.0h.1M593.8 14.5h.1M594.9 14.4h.1M586.8 14.2h.1M593.8 15.6h.1M598.8 14.9h.1M598.9 15.0h.1M597.7 14.7h.1M598.1 15.2h.1M594.4 16.0h.1M593.5 16.6h.1M594.1 16.6h.1M595.0 16.3h.1M598.2 16.9h.1M593.7 18.0h.1M587.4 18.6h.1M596.9 17.1h.1M595.1 17.6h.1M597.8 18.0h.1M599.4 18.4h.1M597.5 18.2h.1M599.3 18.1h.1M591.3 18.8h.1M595.8 19.7h.1M598.7 19.5h.1M596.6 20.1h.1M597.1 19.3h.1M591.2 20.4h.1M599.2 19.9h.1M592.1 21.2h.1M594.0 20.6h.1M597.5 20.2h.1M598.2 21.3h.1M599.1 21.0h.1M595.8 21.6h.1M599.5 21.1h.1M597.9 22.1h.1M587.4 24.4h.1M597.9 22.4h.1M599.1 21.9h.1M597.9 22.7h.1M599.7 22.2h.1M598.8 23.6h.1M594.8 24.0h.1M598.5 23.0h.1M599.5 23.5h.1M587.3 26.9h.1M598.8 24.5h.1M596.4 24.7h.1M598.9 24.7h.1M598.1 24.5h.1M598.3 25.4h.1M600.0 25.4h.1M596.3 26.0h.1M598.2 25.8h.1M598.8 26.1h.1M597.9 27.0h.1M599.1 26.4h.1M599.3 26.2h.1M595.3 27.7h.1M599.7 26.5h.1M596.3 28.1h.1M592.6 29.3h.1M599.8 27.0h.1M595.0 27.9h.1M596.8 28.5h.1M600.9 28.7h.1M598.6 28.7h.1M588.6 31.0h.1M600.3 28.6h.1M600.0 29.2h.1M600.0 29.2h.1M600.7 29.8h.1M599.7 29.6h.1M595.5 30.6h.1M592.2 32.5h.1M600.2 30.9h.1M597.8 30.4h.1M599.9 30.8h.1M596.3 32.7h.1M600.4 32.0h.1M601.8 31.6h.1M599.8 32.1h.1M598.5 33.3h.1M601.0 32.1h.1M596.8 33.3h.1M591.9 35.0h.1M600.9 33.4h.1M594.5 35.1h.1M600.5 33.8h.1M600.7 34.7h.1M601.7 33.8h.1M595.5 35.2h.1M602.1 33.8h.1M602.0 34.0h.1M601.4 35.5h.1M601.1 35.6h.1M602.2 35.5h.1M602.7 35.7h.1M601.7 35.5h.1M601.7 36.6h.1M597.5 37.7h.1M589.8 38.7h.1M599.9 36.6h.1M590.1 39.2h.1M598.0 38.0h.1M599.7 37.6h.1M598.5 38.1h.1M603.0 37.8h.1M594.6 39.4h.1M601.4 38.8h.1M603.1 38.8h.1M601.3 39.7h.1M600.0 39.4h.1M600.9 40.0h.1M597.9 40.5h.1M601.7 40.6h.1M603.4 40.6h.1M603.2 40.4h.1M602.3 40.0h.1M592.8 42.4h.1M600.8 42.2h.1M603.4 41.1h.1M602.8 41.5h.1M602.0 42.0h.1M602.7 41.1h.1M601.9 42.4h.1M599.1 42.7h.1M599.3 42.7h.1M598.0 42.8h.1M595.3 44.2h.1M595.4 45.2h.1M602.9 43.8h.1M600.9 43.5h.1M599.9 43.9h.1M599.7 44.7h.1M602.3 44.8h.1M602.5 44.2h.1M601.7 45.2h.1M602.2 46.2h.1M604.4 45.4h.1M603.8 45.0h.1M592.6 48.2h.1M596.5 47.9h.1M604.4 46.7h.1M604.4 47.8h.1M602.2 47.7h.1M604.1 47.3h.1M599.7 48.2h.1M596.6 49.3h.1M600.2 49.2h.1M597.3 49.4h.1M602.8 49.0h.1M603.9 48.2h.1M602.6 49.1h.1M600.0 50.0h.1M604.1 49.2h.1M604.7 49.7h.1M599.6 50.8h.1M603.5 51.1h.1M605.3 50.0h.1M604.7 49.9h.1M604.2 50.6h.1M605.1 50.7h.1M605.1 51.3h.1M604.0 51.5h.1M605.1 51.1h.1M602.9 51.2h.1M603.1 52.1h.1M602.1 52.4h.1M605.0 51.7h.1M602.9 52.3h.1M604.4 52.0h.1M597.6 53.3h.1M603.8 53.7h.1M604.5 53.9h.1M601.7 53.5h.1M601.5 53.6h.1M603.7 54.8h.1M601.3 54.9h.1M605.8 54.2h.1M597.4 55.9h.1M602.7 55.2h.1M595.3 57.6h.1M600.3 55.9h.1M605.2 55.7h.1M603.2 56.2h.1M605.8 56.5h.1M606.0 56.3h.1M605.3 56.3h.1M602.7 57.1h.1M602.9 56.4h.1M598.3 59.0h.1M603.0 58.4h.1M601.8 58.3h.1M606.4 56.7h.1M602.2 58.5h.1M604.8 59.0h.1M601.8 58.8h.1M606.0 58.0h.1M601.9 58.9h.1M599.0 59.7h.1M606.6 59.8h.1M606.9 59.2h.1M605.2 59.0h.1M606.3 60.0h.1M600.0 62.2h.1M600.4 61.9h.1M604.3 60.9h.1M602.8 61.3h.1M594.4 62.5h.1M605.5 62.1h.1M606.2 61.4h.1M604.5 62.4h.1M606.5 61.9h.1M603.8 62.5h.1M600.0 64.4h.1M603.5 63.6h.1M604.1 63.1h.1M606.9 62.4h.1M607.7 63.1h.1M607.0 63.9h.1M607.2 63.7h.1M607.1 63.2h.1M595.1 65.6h.1M603.0 64.9h.1M604.1 64.9h.1M597.0 66.5h.1M604.1 64.6h.1M598.3 66.6h.1M608.2 65.6h.1M606.6 65.3h.1M600.6 67.2h.1M606.7 65.1h.1M604.5 65.6h.1M607.9 66.7h.1M607.6 67.1h.1M607.5 66.9h.1M603.9 67.5h.1M605.2 66.6h.1M606.0 67.5h.1M608.4 67.1h.1M596.2 69.9h.1M607.6 67.6h.1M608.7 67.6h.1M609.0 68.8h.1M603.3 69.9h.1M608.3 69.0h.1M605.3 68.6h.1M601.5 71.2h.1M605.6 69.5h.1M608.5 69.8h.1M609.1 68.9h.1M609.0 69.4h.1M607.4 71.1h.1M601.0 72.8h.1M608.7 70.3h.1M603.9 71.4h.1M606.2 71.8h.1M605.1 72.1h.1M607.8 72.0h.1M603.4 72.3h.1M609.0 71.1h.1M605.6 73.7h.1M609.0 72.5h.1M609.9 72.1h.1M606.7 72.8h.1M604.3 73.3h.1M609.3 73.7h.1M608.3 73.2h.1M609.8 73.5h.1M604.2 74.9h.1M605.2 75.9h.1M607.3 75.1h.1M609.7 74.1h.1M610.0 73.9h.1M608.6 74.4h.1M609.7 76.0h.1M604.3 76.4h.1M607.4 75.7h.1M610.3 75.0h.1M610.9 76.7h.1M604.0 78.4h.1M610.5 75.8h.1M604.0 77.7h.1M609.5 76.9h.1M610.5 77.0h.1M606.9 78.8h.1M610.9 77.0h.1M608.5 77.6h.1M608.8 77.8h.1M609.5 79.1h.1M610.9 78.4h.1M605.6 79.7h.1M610.0 79.1h.1M606.2 80.1h.1M609.6 80.2h.1M608.2 80.1h.1M609.2 80.3h.1M610.0 79.2h.1M611.6 80.9h.1M609.1 81.3h.1M609.7 80.8h.1M611.0 80.9h.1M609.9 80.6h.1M609.7 81.7h.1M605.9 82.6h.1M611.3 81.4h.1M607.0 83.3h.1M608.8 82.8h.1M611.9 82.7h.1M607.1 83.7h.1M608.9 82.6h.1M607.1 84.6h.1M608.9 83.7h.1M612.4 83.7h.1M612.4 83.0h.1M608.6 85.6h.1M603.3 86.1h.1M611.6 84.0h.1M611.2 84.1h.1M610.5 85.3h.1M604.3 86.8h.1M607.7 86.1h.1M611.8 85.1h.1M610.2 85.6h.1M612.2 86.0h.1M610.6 86.7h.1M611.1 86.6h.1M612.4 86.0h.1M609.3 88.3h.1M610.8 87.5h.1M604.8 89.2h.1M611.2 87.5h.1M611.9 88.2h.1M613.2 88.5h.1M612.4 88.2h.1M612.3 88.4h.1M610.0 89.0h.1M607.0 90.7h.1M608.3 90.4h.1M612.9 90.0h.1M610.3 90.3h.1M611.3 90.1h.1M601.8 92.8h.1M612.9 91.0h.1M607.9 92.1h.1M612.0 90.6h.1M603.6 92.2h.1M613.0 91.5h.1M612.6 91.6h.1M614.1 91.1h.1M611.7 91.3h.1M612.1 92.3h.1M607.6 93.9h.1M614.3 91.8h.1M611.6 93.4h.1M613.0 92.2h.1M612.4 93.4h.1M611.9 94.0h.1M610.5 94.8h.1M614.6 93.7h.1M613.4 93.5h.1M612.8 94.3h.1M612.6 94.4h.1M614.8 93.8h.1M613.3 94.6h.1M607.1 97.3h.1M612.6 96.5h.1M611.1 96.2h.1M610.0 97.9h.1M614.1 96.2h.1M612.0 97.7h.1M614.6 97.1h.1M612.7 96.6h.1M606.5 99.3h.1M614.7 97.1h.1M614.8 97.2h.1M613.8 97.5h.1M614.9 98.5h.1M615.2 98.0h.1M615.5 97.8h.1M612.0 98.8h.1M613.8 99.4h.1M614.5 99.7h.1M614.8 99.2h.1M615.6 99.1h.1M615.4 99.3h.1M615.9 99.6h.1M612.5 101.5h.1M612.0 102.0h.1M614.4 100.6h.1M616.5 100.6h.1M616.4 101.1h.1M609.2 103.6h.1M610.5 103.6h.1M615.8 101.3h.1M609.2 103.2h.1M615.0 102.9h.1M606.4 106.1h.1M608.2 105.3h.1M616.1 102.1h.1M614.9 104.6h.1M606.5 106.5h.1M605.3 106.9h.1M616.7 103.3h.1M616.3 104.8h.1M611.9 106.6h.1M609.9 106.7h.1M616.9 104.7h.1M608.5 107.5h.1M615.8 106.7h.1M615.3 106.7h.1M612.5 107.2h.1M614.2 106.9h.1M616.1 106.1h.1M616.9 107.1h.1M615.8 107.7h.1M617.5 106.7h.1M617.5 107.1h.1M618.3 107.1h.1M615.8 108.7h.1M617.2 107.4h.1M615.8 108.5h.1M616.8 107.8h.1M613.4 110.2h.1M614.9 109.9h.1M618.2 108.4h.1M615.5 110.1h.1M610.5 110.9h.1M618.7 109.5h.1M615.3 111.4h.1M616.3 110.0h.1M617.7 109.5h.1M618.4 109.9h.1M618.9 111.2h.1M616.5 111.7h.1M618.4 110.6h.1M614.8 111.5h.1M616.4 112.2h.1M620.2 111.8h.1M619.4 111.5h.1M616.7 112.8h.1M619.1 112.0h.1M611.8 114.2h.1M613.6 115.0h.1M611.7 115.8h.1M609.7 115.8h.1M616.6 113.4h.1M610.8 116.5h.1M619.8 114.3h.1M616.0 114.9h.1M621.0 113.9h.1M619.7 114.6h.1M614.5 116.6h.1M614.7 116.6h.1M619.5 114.7h.1M611.4 119.3h.1M612.2 117.9h.1M619.7 116.4h.1M620.8 115.1h.1M617.3 118.1h.1M621.7 116.7h.1M616.3 117.7h.1M621.7 117.0h.1M621.5 117.8h.1M621.5 117.5h.1M621.5 117.1h.1M619.9 118.1h.1M615.5 118.8h.1M619.6 118.8h.1M621.2 119.3h.1M618.9 119.6h.1M619.2 119.0h.1M618.7 120.1h.1M621.2 119.4h.1M619.2 120.8h.1M622.0 119.2h.1M620.3 119.7h.1M622.9 120.3h.1M622.2 120.2h.1M620.1 121.7h.1M620.9 121.0h.1M611.4 124.3h.1M622.8 122.0h.1M620.2 122.6h.1M622.8 121.8h.1M623.1 122.3h.1M621.7 123.0h.1M613.9 124.7h.1M620.5 123.0h.1M621.8 122.5h.1M619.4 124.8h.1M619.8 124.3h.1M621.9 123.5h.1M623.0 124.2h.1M621.4 125.0h.1M622.8 124.6h.1M622.2 125.4h.1M616.3 126.0h.1M621.9 124.6h.1M621.9 125.4h.1M622.1 125.9h.1M624.2 125.1h.1M621.9 126.0h.1M622.9 125.3h.1M624.2 126.8h.1M623.7 126.8h.1M620.1 127.0h.1M622.2 127.3h.1M616.7 128.5h.1M624.0 128.2h.1M619.8 128.7h.1M615.5 129.1h.1M616.4 129.3h.1M622.1 128.6h.1M624.9 128.2h.1M613.9 130.7h.1M623.0 128.7h.1M615.5 130.7h.1M623.0 130.0h.1M622.2 130.7h.1M622.3 130.5h.1M624.0 130.6h.1M625.1 129.4h.1M618.8 132.0h.1M615.3 132.9h.1M622.5 131.7h.1M622.2 132.0h.1M617.8 133.3h.1M621.5 132.4h.1M622.1 132.4h.1M621.8 132.6h.1M621.1 134.2h.1M625.8 132.9h.1M625.6 133.6h.1M625.6 133.2h.1M623.1 133.1h.1M622.7 134.4h.1M625.5 133.9h.1M625.9 133.7h.1M623.7 134.4h.1M621.0 134.6h.1M622.2 135.7h.1M625.4 134.7h.1M624.7 135.2h.1M620.7 135.9h.1M625.8 136.6h.1M614.3 140.3h.1M625.4 137.0h.1M624.5 137.1h.1M622.8 139.7h.1M620.9 140.9h.1M626.5 139.1h.1M626.7 139.4h.1M621.6 140.0h.1M627.4 140.4h.1M627.4 140.4h.1M621.1 142.4h.1M626.5 140.3h.1M624.8 141.2h.1M626.0 142.5h.1M626.4 142.0h.1M626.5 142.4h.1M627.3 141.9h.1M625.7 143.2h.1M628.5 143.2h.1M627.0 143.2h.1M626.5 144.1h.1M627.3 143.9h.1M625.1 143.9h.1M626.1 145.7h.1M628.2 144.5h.1M624.9 146.0h.1M626.5 145.1h.1M629.7 145.6h.1M624.6 148.4h.1M620.4 150.0h.1M627.4 146.1h.1M625.6 147.1h.1M627.2 148.0h.1M625.1 148.3h.1M629.4 146.8h.1M629.8 146.9h.1M621.7 150.7h.1M625.7 149.4h.1M627.2 149.0h.1M623.0 151.3h.1M627.0 149.0h.1M627.0 149.6h.1M630.6 148.2h.1M630.3 148.9h.1M630.3 148.8h.1M629.4 148.3h.1M627.9 149.7h.1M629.9 148.9h.1M629.0 149.8h.1M630.1 149.5h.1M627.6 150.7h.1M625.4 151.2h.1M630.5 149.3h.1M621.4 153.3h.1M631.7 151.0h.1M631.9 150.7h.1M626.5 152.3h.1M624.5 153.5h.1M631.5 151.3h.1M629.8 152.8h.1M631.7 151.8h.1M631.9 151.4h.1M628.6 152.9h.1M626.3 156.4h.1M625.1 158.2h.1M622.7 158.8h.1M629.2 154.3h.1M622.2 159.7h.1M633.2 153.6h.1M625.6 159.5h.1M632.7 154.7h.1M633.6 153.6h.1M626.8 159.6h.1M631.3 156.7h.1M633.9 154.8h.1M627.5 159.0h.1M633.1 155.6h.1M633.9 155.5h.1M634.3 155.1h.1M630.6 158.3h.1M631.2 157.7h.1M633.6 156.9h.1M634.1 156.1h.1M632.4 156.5h.1M634.2 156.6h.1M631.4 155.7h.1M632.9 156.1h.1M631.9 156.4h.1M632.1 156.5h.1M635.3 156.1h.1M633.8 154.3h.1M633.9 154.6h.1M634.0 155.9h.1M628.8 150.1h.1M635.0 156.3h.1M633.9 154.0h.1M634.2 153.5h.1M633.4 153.4h.1M634.5 155.9h.1M633.3 153.4h.1M633.1 151.9h.1M633.3 152.4h.1M633.1 154.0h.1M633.2 153.7h.1M631.9 153.1h.1M632.0 154.8h.1M631.8 155.7h.1M632.0 149.4h.1M631.8 153.2h.1M631.3 161.2h.1M630.7 160.9h.1M630.1 162.9h.1M630.5 163.2h.1M630.3 160.9h.1M629.4 161.7h.1M629.2 163.5h.1M629.9 159.8h.1M627.7 160.1h.1M628.4 162.0h.1M628.6 160.9h.1M628.7 160.3h.1M627.2 172.7h.1M626.0 172.5h.1M626.9 159.5h.1M626.6 162.0h.1M627.3 161.3h.1M627.2 159.2h.1M625.7 160.0h.1M625.8 160.5h.1M625.4 163.6h.1M626.2 162.2h.1M625.3 159.4h.1M624.6 160.3h.1M625.1 159.0h.1M625.3 161.6h.1M625.1 163.3h.1M623.5 166.5h.1M624.3 159.3h.1M624.3 159.8h.1M623.3 160.2h.1M623.9 160.6h.1M622.3 159.1h.1M623.0 160.2h.1M622.4 159.5h.1M621.6 172.4h.1M622.4 163.2h.1M621.7 160.2h.1M621.4 164.4h.1M621.1 160.4h.1M621.0 158.7h.1M620.6 159.3h.1M619.0 165.1h.1M619.9 158.5h.1M620.7 159.4h.1M620.4 161.8h.1M619.3 159.6h.1M618.5 160.9h.1M618.8 158.5h.1M619.1 158.9h.1M619.5 159.1h.1M616.2 166.8h.1M617.2 162.9h.1M617.5 162.0h.1M617.4 160.5h.1M617.6 160.2h.1M615.5 162.8h.1M616.8 159.4h.1M616.3 159.0h.1M615.6 163.2h.1M615.5 159.3h.1M615.1 160.3h.1M613.8 165.1h.1M614.5 160.6h.1M614.6 162.6h.1M613.4 163.5h.1M613.8 158.3h.1M614.0 160.7h.1M612.7 165.0h.1M611.6 165.8h.1M613.0 158.4h.1M613.1 160.1h.1M610.5 167.7h.1M610.8 168.4h.1M612.4 160.1h.1M611.8 159.5h.1M611.2 161.3h.1M610.0 170.2h.1M610.5 161.6h.1M611.1 158.3h.1M611.3 159.4h.1M611.5 159.3h.1M609.6 160.1h.1M610.0 159.9h.1M609.0 162.1h.1M609.9 157.7h.1M608.1 157.1h.1M608.1 157.3h.1M608.4 157.9h.1M607.5 161.5h.1M606.8 161.5h.1M607.2 157.6h.1M606.6 167.0h.1M606.7 161.3h.1M606.4 164.6h.1M605.7 157.2h.1M606.4 158.1h.1M605.5 157.4h.1M605.4 157.4h.1M604.5 156.9h.1M604.3 159.4h.1M604.0 166.0h.1M602.7 157.5h.1M603.0 161.1h.1M602.9 157.4h.1M602.5 159.4h.1M602.2 161.1h.1M601.4 162.8h.1M602.7 156.8h.1M602.6 156.8h.1M601.4 161.6h.1M600.5 166.3h.1M601.0 157.2h.1M600.7 157.4h.1M600.1 162.7h.1M600.8 157.7h.1M600.0 158.9h.1M598.9 162.8h.1M599.8 161.6h.1M599.5 157.1h.1" fill="none" stroke="#3a2430" stroke-width="1.6" stroke-linecap="round" opacity="0.85"/></g>
<path d="M526.9,3.4 523.3,-3.0 529.7,4.3 525.1,1.3 524.7,1.4 526.8,3.3 524.4,-1.8 524.8,2.0 526.6,4.1 526.2,3.3 526.5,5.4 527.4,6.4 527.1,6.0 526.8,8.2 527.0,13.6 528.9,15.9 528.4,17.2 529.4,18.8 529.0,18.2 528.3,21.6 528.9,26.3 531.2,30.3 532.8,31.7 532.7,32.5 533.7,34.6 533.8,33.5 533.1,34.6 533.7,41.2 535.5,42.7 534.7,42.3 536.1,47.6 537.6,48.8 536.9,47.5 537.2,52.4 539.8,56.2 540.4,56.8 540.3,57.6 540.9,59.4 541.0,59.5 540.7,60.1 539.8,63.8 540.7,68.2 541.7,70.6 542.4,72.5 543.3,74.8 543.8,74.9 543.4,74.5 542.9,78.7 544.5,83.5 545.4,84.0 545.0,85.5 546.5,88.6 546.5,87.3 545.6,89.5 547.1,95.6 550.0,98.9 551.6,100.3 551.5,100.4 551.6,99.6 550.9,100.7 551.0,105.4 552.4,109.2 553.6,110.9 553.7,112.1 554.6,114.4 555.0,115.5 555.2,116.8 556.0,121.0 558.6,124.4 559.1,124.5 558.6,124.3 558.7,125.8 558.6,126.4 557.5,130.0 558.8,135.7 560.4,138.0 560.5,138.2 561.0,141.1 562.5,143.0 562.1,139.8 562.1,139.3 560.5,143.7 562.1,148.7" fill="none" stroke="#8a3a66" stroke-width="2" stroke-dasharray="2.2 2.6" opacity="0.9"/>
<path d="M601.5,3.4 602.8,2.4 599.2,4.3 604.6,1.4 605.4,-4.2 606.0,-1.4 606.1,-1.4 606.8,0.1 608.1,5.2 606.1,10.4 605.5,10.3 606.0,9.5 606.7,12.8 606.2,13.3 607.6,14.7 608.9,20.6 608.0,23.1 608.2,23.2 608.3,24.4 608.7,25.5 609.3,26.8 611.2,31.2 610.3,35.5 610.1,37.9 609.3,37.7 609.7,36.7 610.9,39.1 610.9,39.8 613.3,42.1 614.5,50.7 611.7,53.7 612.5,51.4 612.7,51.5 613.7,53.9 614.0,55.6 614.6,56.6 616.6,62.7 615.1,64.8 615.5,63.0 616.1,64.6 618.0,67.7 618.2,70.1 619.0,71.3 619.6,78.4 617.6,80.5 617.8,76.9 618.9,78.2 620.5,81.1 621.3,83.5 622.3,85.7 623.2,90.3 622.5,92.3 622.7,92.0 623.2,93.5 624.4,96.7 624.1,97.7 625.7,100.5 625.3,104.5 625.1,103.3 626.1,104.6 627.0,106.8 627.6,107.7 630.1,110.8 630.9,118.0 629.7,118.7 630.4,117.7 631.1,121.2 631.0,122.4 631.5,123.2 632.7,125.5 634.1,131.5 632.9,132.2 633.0,130.4 635.3,133.7 636.0,137.0 636.3,137.9 636.5,138.6 637.7,141.2 636.5,147.6 635.2,148.7 636.1,144.1 635.2,142.1 635.2,142.0 637.2,143.7 639.0,147.5 638.2,146.2 639.2,147.1 639.3,147.9 639.2,147.5 640.0,148.2 642.7,150.2" fill="none" stroke="#8a3a66" stroke-width="2" stroke-dasharray="2.2 2.6" opacity="0.9"/>
<path d="M531.4,-3.0 530.0,-2.8 530.4,-2.7 530.3,-2.6 530.4,-2.6 530.9,-2.6 530.5,-2.4 531.2,-2.1 531.4,-1.7 531.2,-1.0 532.2,0.0 532.9,1.3 533.1,2.9 534.2,4.8 534.0,6.8 533.8,8.9 533.6,11.2 535.4,13.5 535.3,15.7 536.4,17.9 535.8,20.0 535.3,22.0 535.6,24.0 536.7,26.0 538.7,28.0 539.2,30.0 540.3,32.0 540.8,34.0 539.9,36.0 540.0,38.0 542.0,40.0 541.7,42.0 542.1,44.0 544.0,46.0 543.9,48.0 543.8,50.0 545.4,52.0 546.8,54.0 547.2,56.0 547.7,58.0 548.0,60.0 547.4,62.0 546.8,64.0 547.3,66.0 548.1,68.0 549.0,70.0 549.7,72.0 550.7,74.0 550.2,76.0 549.8,78.0 550.6,80.0 552.1,82.0 551.8,84.0 553.0,86.0 553.4,88.0 552.6,90.0 553.1,92.0 554.9,94.0 557.1,96.0 558.0,98.0 558.6,100.0 557.8,102.0 557.9,104.0 558.6,106.0 560.0,108.0 560.4,110.0 561.2,112.0 561.9,114.0 562.1,116.0 562.3,118.0 564.1,120.0 565.6,122.0 565.6,124.1 565.7,126.3 565.4,128.4 564.5,130.5 565.1,132.6 566.5,134.6 567.3,136.5 567.4,138.3 568.8,140.0 568.9,141.5 568.1,142.8 567.5,144.0 568.0,145.1 568.8,146.1 569.7,147.2 570.3,148.2 570.8,149.3 570.8,150.6 570.9,152.0 571.9,153.7 572.5,155.7 571.9,158.0 574.8,160.4 577.0,162.7 578.0,164.9 579.4,166.8 579.5,168.4 580.7,169.5 582.5,170.0 583.8,169.8 585.6,169.1 588.2,167.9 589.4,166.4 591.3,164.6 592.2,162.6 595.9,160.5 597.7,158.5 598.6,156.6 600.3,155.0" fill="none" stroke="#151215" stroke-width="3.5" stroke-linejoin="round"/>
<path d="M598.6,-3.0 598.1,-2.8 598.2,-2.7 598.3,-2.6 598.3,-2.6 597.7,-2.6 598.8,-2.4 598.5,-2.1 598.3,-1.7 599.2,-1.0 599.2,0.0 599.7,1.3 600.4,2.9 601.2,4.8 600.1,6.8 598.6,8.9 599.2,11.2 599.7,13.5 599.7,15.7 601.4,17.9 601.9,20.0 601.1,22.0 601.3,24.0 601.5,26.0 602.2,28.0 603.1,30.0 604.2,32.0 603.5,34.0 603.3,36.0 602.4,38.0 603.5,40.0 604.5,42.0 605.3,44.0 607.5,46.0 608.0,48.0 605.8,50.0 605.5,52.0 606.2,54.0 607.0,56.0 607.4,58.0 608.5,60.0 609.6,62.0 608.1,64.0 609.2,66.0 610.0,68.0 611.4,70.0 611.4,72.0 612.5,74.0 613.1,76.0 611.0,78.0 611.5,80.0 613.0,82.0 614.1,84.0 614.8,86.0 615.6,88.0 616.2,90.0 615.5,92.0 616.0,94.0 616.7,96.0 617.5,98.0 617.5,100.0 618.9,102.0 618.3,104.0 618.6,106.0 620.0,108.0 620.8,110.0 622.1,112.0 623.9,114.0 624.1,116.0 622.7,118.0 623.7,120.0 624.1,122.0 624.3,124.2 625.2,126.3 626.4,128.5 627.2,130.6 625.9,132.7 627.5,134.7 629.0,136.6 629.2,138.4 629.6,140.0 630.1,141.4 630.8,142.7 630.6,143.8 629.4,144.8 629.3,145.8 629.9,146.6 630.8,147.5 631.9,148.3 632.2,149.1 632.3,150.0 633.4,150.9 633.6,151.9 634.8,152.9 636.0,153.9 637.5,154.8 637.6,155.7 637.1,156.5 636.4,157.1 634.6,157.7 633.1,158.0 632.1,158.1 629.2,158.1 626.7,157.9 623.0,157.6 618.3,157.2 616.0,156.7 612.4,156.2 606.4,155.8 602.4,155.3 599.6,155.0" fill="none" stroke="#151215" stroke-width="3.5" stroke-linejoin="round"/>
<path d="M690.0,389.0 687.3,388.6 684.3,388.1 681.3,387.6 678.2,387.0 675.2,386.4 672.3,386.0 669.7,385.7 667.3,385.5 665.4,385.6 664.0,386.0 663.1,386.7 662.6,387.5 662.5,388.6 662.8,389.8 663.2,391.2 663.9,392.8 664.7,394.5 665.5,396.2 666.3,398.1 667.0,400.0 667.7,402.1 668.5,404.3 669.5,406.7 670.4,409.2 671.5,411.8 672.6,414.5 673.7,417.2 674.8,419.8 675.9,422.5 677.0,425.0 678.1,427.5 679.2,430.0 680.3,432.5 681.4,435.0 682.5,437.5 683.6,440.0 684.7,442.5 685.8,445.0 686.9,447.5 688.0,450.0 689.0,452.5 690.0,455.0 691.0,457.5 692.0,460.0 693.0,462.5 694.0,465.0 695.0,467.5 696.0,470.0 697.0,472.5 698.0,475.0 699.1,477.5 700.1,480.0 701.2,482.4 702.3,484.9 703.4,487.4 704.5,489.9 705.6,492.4 706.7,494.9 707.9,497.4 709.0,500.0 710.2,502.6 711.3,505.2 712.5,507.9 713.6,510.5 714.8,513.2 716.0,515.9 717.2,518.6 718.5,521.4 719.7,524.2 721.0,527.0 722.3,529.9 723.7,532.8 725.1,535.8 726.5,538.8 727.9,541.8 729.3,544.9 730.7,547.9 732.2,551.0 733.6,554.0 735.0,557.0 L811.0,557.0 809.5,554.0 808.0,551.0 806.4,547.9 804.9,544.9 803.4,541.8 801.9,538.8 800.4,535.8 798.9,532.8 797.4,529.9 796.0,527.0 794.6,524.2 793.3,521.4 792.0,518.6 790.8,515.9 789.5,513.2 788.2,510.5 787.0,507.9 785.7,505.2 784.4,502.6 783.0,500.0 781.6,497.4 780.1,494.9 778.6,492.4 777.1,489.9 775.5,487.4 774.0,484.9 772.4,482.4 770.9,480.0 769.4,477.5 768.0,475.0 766.6,472.5 765.2,470.0 763.7,467.5 762.3,465.0 761.0,462.5 759.6,460.0 758.3,457.5 757.0,455.0 755.8,452.5 754.7,450.0 753.6,447.5 752.7,445.0 751.8,442.5 751.0,440.0 750.1,437.5 749.4,435.0 748.6,432.5 747.7,430.0 746.9,427.5 746.0,425.0 745.1,422.5 744.1,420.0 743.2,417.5 742.3,415.0 741.3,412.5 740.4,410.0 739.3,407.5 738.3,405.0 737.2,402.5 736.0,400.0 734.7,397.4 733.4,394.7 731.9,392.0 730.4,389.2 728.9,386.5 727.4,383.8 725.9,381.3 724.5,379.0 723.2,376.9 722.0,375.0 721.0,373.3 720.3,371.7 719.7,370.1 719.1,368.7 718.6,367.5 718.1,366.5 717.4,365.8 716.5,365.5 715.4,365.5 714.0,366.0 712.2,367.0 710.2,368.6 708.0,370.5 705.6,372.9 703.0,375.5 700.4,378.3 697.7,381.1 695.1,383.9 692.5,386.6 690.0,389.0Z" fill="#fad5e5"/>
<g clip-path="url(#lum10)"><path d="M689.7 387.1h.1M690.6 386.6h.1M690.4 387.6h.1M690.9 382.3h.1M689.4 384.0h.1M689.7 381.2h.1M689.2 387.1h.1M690.1 382.0h.1M688.7 386.9h.1M688.1 383.7h.1M688.5 384.4h.1M687.2 385.5h.1M688.1 384.4h.1M687.4 383.9h.1M686.6 381.0h.1M686.0 386.2h.1M686.4 386.0h.1M687.1 381.5h.1M687.5 378.5h.1M685.4 385.2h.1M685.3 379.9h.1M685.0 384.6h.1M686.9 374.5h.1M685.2 385.7h.1M683.8 384.1h.1M684.5 380.3h.1M683.4 386.3h.1M684.9 379.5h.1M683.7 384.8h.1M682.7 382.4h.1M682.4 386.1h.1M683.5 384.2h.1M682.9 386.0h.1M683.7 382.5h.1M681.9 381.3h.1M683.1 380.0h.1M681.9 383.5h.1M681.9 383.5h.1M680.8 382.2h.1M681.1 382.1h.1M682.9 375.0h.1M680.7 383.1h.1M681.8 382.6h.1M679.7 385.2h.1M679.8 383.8h.1M679.7 382.7h.1M679.3 381.5h.1M679.3 382.5h.1M678.5 385.6h.1M678.7 385.7h.1M678.0 384.9h.1M677.8 384.1h.1M677.2 385.0h.1M677.5 385.0h.1M676.5 385.0h.1M678.2 378.9h.1M677.1 384.8h.1M677.4 379.0h.1M675.5 384.6h.1M676.1 380.6h.1M676.0 385.1h.1M675.0 384.4h.1M673.8 384.8h.1M673.6 384.2h.1M675.0 376.1h.1M674.5 379.6h.1M675.1 378.7h.1M673.1 380.6h.1M673.3 379.3h.1M673.0 380.4h.1M673.6 381.5h.1M671.2 380.2h.1M671.3 381.0h.1M672.0 381.1h.1M671.2 383.6h.1M671.8 379.6h.1M670.3 383.1h.1M669.9 382.5h.1M669.3 384.0h.1M669.5 384.4h.1M669.4 382.9h.1M669.0 380.2h.1M668.7 378.2h.1M668.5 382.3h.1M669.0 380.3h.1M668.4 383.6h.1M667.4 387.3h.1M667.3 387.1h.1M667.6 388.5h.1M667.1 391.7h.1M667.2 387.0h.1M666.1 387.7h.1M666.1 388.2h.1M666.0 387.4h.1M665.6 389.3h.1M666.5 391.9h.1M665.5 387.9h.1M667.8 393.4h.1M665.1 388.0h.1M666.4 392.5h.1M669.0 391.9h.1M664.4 387.4h.1M664.7 387.5h.1M664.5 387.6h.1M664.3 387.4h.1M666.1 389.0h.1M663.8 388.1h.1M666.7 388.1h.1M671.4 390.4h.1M664.0 388.5h.1M664.6 387.9h.1M668.2 388.5h.1M664.4 387.9h.1M666.8 388.1h.1M665.3 388.9h.1M668.2 388.7h.1M667.0 389.3h.1M666.2 389.1h.1M664.1 389.3h.1M665.2 389.1h.1M668.1 388.8h.1M665.4 390.5h.1M664.4 390.6h.1M670.0 388.9h.1M665.8 389.8h.1M665.2 392.1h.1M667.7 391.4h.1M665.9 392.3h.1M668.2 391.3h.1M669.3 392.1h.1M666.7 393.3h.1M671.2 391.5h.1M667.0 393.9h.1M668.4 393.4h.1M668.2 395.6h.1M668.8 395.0h.1M668.3 395.0h.1M667.2 395.3h.1M668.5 395.2h.1M670.4 395.2h.1M673.8 393.1h.1M669.1 396.2h.1M671.6 394.5h.1M669.3 395.5h.1M668.4 397.7h.1M668.0 397.1h.1M670.2 396.8h.1M670.8 396.0h.1M668.6 396.5h.1M668.8 397.9h.1M669.9 397.4h.1M668.9 397.7h.1M668.5 398.4h.1M668.9 397.7h.1M669.9 398.7h.1M668.2 399.3h.1M670.2 399.1h.1M669.1 399.1h.1M676.0 396.9h.1M673.9 399.3h.1M669.6 400.7h.1M670.1 400.1h.1M668.5 400.3h.1M669.3 400.0h.1M670.3 401.5h.1M670.1 401.3h.1M669.7 401.9h.1M671.3 400.9h.1M671.6 402.2h.1M671.5 402.0h.1M670.3 401.9h.1M670.3 403.0h.1M672.1 401.1h.1M672.3 403.5h.1M677.4 400.4h.1M675.4 402.3h.1M674.5 402.6h.1M674.1 403.9h.1M674.5 403.8h.1M671.6 404.9h.1M673.4 404.4h.1M677.3 404.0h.1M674.4 404.3h.1M671.1 405.8h.1M673.9 404.4h.1M671.7 407.0h.1M673.8 406.7h.1M680.8 403.3h.1M671.5 407.8h.1M674.2 406.8h.1M672.9 407.8h.1M673.5 407.7h.1M678.3 406.6h.1M672.5 409.0h.1M682.5 404.3h.1M676.5 408.1h.1M675.5 409.0h.1M673.5 409.5h.1M672.2 409.6h.1M677.3 407.7h.1M676.7 409.4h.1M673.0 411.4h.1M673.5 410.6h.1M674.7 410.5h.1M680.1 408.6h.1M676.0 411.0h.1M674.4 412.3h.1M682.5 409.0h.1M674.2 412.9h.1M678.3 410.2h.1M678.3 411.7h.1M679.6 411.8h.1M678.7 412.0h.1M674.4 413.1h.1M676.5 412.2h.1M674.7 415.1h.1M676.7 413.9h.1M675.1 415.2h.1M674.7 414.7h.1M682.2 413.1h.1M677.6 415.4h.1M674.8 416.4h.1M678.1 414.7h.1M677.0 417.9h.1M675.7 417.4h.1M677.4 416.9h.1M676.7 417.6h.1M685.3 413.8h.1M682.3 416.6h.1M676.0 419.0h.1M676.7 418.8h.1M677.3 419.0h.1M677.2 420.8h.1M683.5 418.1h.1M677.2 420.6h.1M676.8 420.8h.1M677.5 420.7h.1M681.5 420.7h.1M684.5 419.0h.1M680.1 420.5h.1M680.7 420.0h.1M678.9 420.7h.1M679.3 422.2h.1M687.3 418.9h.1M680.1 422.2h.1M678.5 423.5h.1M679.5 424.5h.1M686.3 421.6h.1M678.6 423.9h.1M678.2 424.0h.1M680.6 424.7h.1M682.7 423.4h.1M683.1 424.5h.1M679.8 425.2h.1M683.0 423.7h.1M680.0 426.6h.1M679.7 426.9h.1M681.0 426.8h.1M683.7 425.7h.1M681.4 427.8h.1M680.0 427.9h.1M688.3 425.1h.1M680.3 428.0h.1M681.5 427.7h.1M687.2 426.4h.1M685.3 427.6h.1M682.7 428.6h.1M685.0 427.1h.1M684.8 429.3h.1M686.0 428.1h.1M687.8 427.9h.1M690.3 426.6h.1M682.0 431.8h.1M684.9 430.3h.1M681.8 432.3h.1M681.8 432.3h.1M682.3 431.9h.1M683.1 432.4h.1M684.3 431.9h.1M684.4 431.9h.1M682.4 433.3h.1M683.1 433.3h.1M686.8 433.1h.1M684.1 434.1h.1M684.0 434.5h.1M683.4 433.5h.1M682.5 434.6h.1M684.7 434.9h.1M684.4 434.8h.1M685.7 434.8h.1M683.3 436.1h.1M684.0 435.3h.1M685.3 436.3h.1M685.3 436.2h.1M684.1 437.4h.1M685.3 436.0h.1M689.3 435.9h.1M684.6 438.2h.1M685.1 437.4h.1M693.2 434.1h.1M685.7 438.6h.1M687.4 437.9h.1M689.4 437.5h.1M685.7 439.4h.1M696.0 434.4h.1M685.3 440.7h.1M686.9 440.6h.1M687.9 440.2h.1M685.8 440.4h.1M685.1 440.2h.1M686.6 441.6h.1M694.1 438.0h.1M686.0 442.2h.1M689.6 439.9h.1M694.7 438.6h.1M689.1 442.3h.1M686.9 443.2h.1M687.8 442.4h.1M687.4 442.3h.1M692.0 441.1h.1M687.0 444.5h.1M687.8 444.8h.1M688.2 444.0h.1M688.1 444.5h.1M688.5 445.7h.1M689.2 445.5h.1M688.6 444.8h.1M689.3 444.4h.1M690.7 445.5h.1M688.7 446.8h.1M690.0 446.2h.1M691.5 445.0h.1M693.9 446.3h.1M689.0 447.9h.1M690.0 448.2h.1M690.4 447.8h.1M688.7 447.6h.1M691.2 449.1h.1M694.9 447.3h.1M700.0 445.5h.1M690.2 450.7h.1M691.8 449.4h.1M689.9 450.6h.1M692.8 449.3h.1M694.2 450.6h.1M691.8 450.9h.1M696.7 448.8h.1M690.8 451.4h.1M691.0 453.2h.1M693.6 452.4h.1M691.0 453.4h.1M691.7 452.7h.1M691.3 453.5h.1M693.4 453.1h.1M692.7 453.4h.1M691.6 454.8h.1M691.1 454.4h.1M691.7 455.6h.1M704.0 450.6h.1M693.1 455.9h.1M696.0 455.9h.1M693.4 455.9h.1M693.8 456.7h.1M703.3 452.6h.1M693.9 456.2h.1M701.0 455.6h.1M692.5 457.7h.1M693.8 457.4h.1M697.7 456.8h.1M695.5 457.8h.1M694.7 458.9h.1M694.1 459.7h.1M697.7 457.5h.1M693.9 459.0h.1M694.9 459.1h.1M693.8 460.4h.1M695.4 460.7h.1M695.8 460.3h.1M699.5 458.5h.1M697.8 461.3h.1M695.4 462.2h.1M696.5 461.6h.1M697.6 460.8h.1M695.7 462.9h.1M700.2 460.7h.1M699.5 460.9h.1M696.0 462.7h.1M698.8 461.7h.1M696.7 464.0h.1M696.9 464.3h.1M696.2 463.7h.1M695.9 463.9h.1M700.7 462.6h.1M703.3 463.4h.1M696.6 466.0h.1M696.0 466.3h.1M697.1 465.8h.1M704.9 464.0h.1M698.8 465.6h.1M697.2 467.2h.1M702.7 464.1h.1M697.7 467.5h.1M703.2 465.2h.1M699.9 466.9h.1M698.9 467.9h.1M697.3 469.9h.1M702.1 466.9h.1M698.0 469.5h.1M703.9 466.9h.1M704.2 466.1h.1M702.7 468.4h.1M700.4 469.6h.1M702.0 468.9h.1M699.0 470.6h.1M702.1 470.1h.1M700.2 470.8h.1M699.4 471.4h.1M698.3 471.7h.1M699.4 471.3h.1M704.8 470.5h.1M698.9 472.6h.1M705.9 470.6h.1M703.2 471.9h.1M699.4 474.3h.1M703.8 472.0h.1M700.8 473.3h.1M699.9 474.3h.1M702.8 473.6h.1M699.7 475.3h.1M699.5 475.2h.1M700.1 475.6h.1M701.8 475.4h.1M701.6 474.4h.1M704.6 474.8h.1M701.5 476.4h.1M701.9 476.0h.1M707.9 475.8h.1M713.3 472.7h.1M704.4 476.3h.1M700.8 477.5h.1M702.2 478.0h.1M703.4 478.6h.1M701.9 479.1h.1M709.9 475.7h.1M705.3 477.2h.1M703.5 479.5h.1M705.2 478.8h.1M703.6 479.5h.1M703.7 480.5h.1M704.8 479.4h.1M705.2 480.4h.1M703.1 481.7h.1M711.2 478.5h.1M704.4 480.8h.1M705.0 480.2h.1M713.9 477.8h.1M703.6 482.8h.1M706.2 482.3h.1M703.0 482.6h.1M703.4 484.2h.1M707.4 482.5h.1M703.8 483.7h.1M708.1 482.3h.1M708.6 483.4h.1M705.6 485.4h.1M704.3 485.8h.1M706.0 484.8h.1M705.6 486.2h.1M704.9 487.2h.1M710.1 483.8h.1M704.9 486.4h.1M711.3 485.6h.1M707.6 487.6h.1M706.1 487.4h.1M706.1 487.8h.1M708.0 488.9h.1M712.5 486.4h.1M712.1 486.4h.1M707.9 488.6h.1M706.4 489.1h.1M708.2 489.3h.1M709.3 488.7h.1M707.9 489.3h.1M708.5 489.0h.1M711.6 487.5h.1M716.8 487.1h.1M707.3 491.8h.1M707.8 491.8h.1M708.7 490.7h.1M709.5 490.2h.1M708.0 492.4h.1M707.8 492.8h.1M709.3 492.4h.1M710.0 492.1h.1M710.4 491.7h.1M708.6 493.4h.1M715.9 491.3h.1M709.7 494.0h.1M710.7 493.6h.1M715.3 490.8h.1M718.6 491.0h.1M709.6 494.5h.1M710.2 495.4h.1M710.3 495.2h.1M713.3 495.0h.1M710.3 496.9h.1M714.4 494.8h.1M709.2 497.0h.1M712.6 494.8h.1M710.3 497.4h.1M710.0 497.9h.1M709.7 498.5h.1M711.2 497.2h.1M713.2 498.4h.1M712.1 498.9h.1M713.0 498.6h.1M714.5 497.9h.1M710.1 499.3h.1M711.5 501.0h.1M711.9 499.8h.1M714.5 498.7h.1M712.1 500.1h.1M715.0 500.9h.1M722.6 497.3h.1M713.1 501.3h.1M712.8 501.9h.1M713.9 501.2h.1M719.0 500.2h.1M715.9 502.1h.1M714.2 502.8h.1M712.7 502.6h.1M718.2 500.7h.1M713.2 503.9h.1M719.8 501.2h.1M713.0 504.5h.1M716.6 503.0h.1M712.7 505.0h.1M721.4 502.3h.1M717.6 503.5h.1M714.3 505.8h.1M716.9 504.6h.1M716.6 503.8h.1M714.4 506.8h.1M715.6 505.9h.1M715.2 506.2h.1M714.8 506.6h.1M714.1 507.5h.1M721.5 505.4h.1M723.7 504.3h.1M716.6 507.7h.1M716.1 508.5h.1M717.0 508.8h.1M721.1 507.8h.1M714.8 510.1h.1M719.4 508.0h.1M715.9 511.1h.1M716.2 511.4h.1M720.3 509.0h.1M720.4 509.2h.1M720.9 510.7h.1M716.9 512.2h.1M720.8 510.2h.1M720.9 511.0h.1M717.5 513.3h.1M718.1 513.7h.1M719.8 512.4h.1M720.4 512.7h.1M719.6 514.5h.1M723.4 512.2h.1M719.3 514.7h.1M717.1 515.3h.1M720.2 516.1h.1M718.2 516.8h.1M718.6 515.8h.1M719.6 515.5h.1M719.6 515.5h.1M719.1 517.7h.1M721.4 517.0h.1M718.9 518.3h.1M719.6 517.0h.1M720.3 518.6h.1M720.1 518.8h.1M727.8 515.4h.1M718.9 518.9h.1M719.9 519.8h.1M719.4 519.4h.1M721.2 519.7h.1M721.0 519.8h.1M722.9 518.5h.1M723.9 518.9h.1M725.0 519.0h.1M719.8 521.4h.1M719.7 521.0h.1M719.9 521.1h.1M725.9 518.8h.1M727.5 518.3h.1M722.6 520.5h.1M724.6 519.5h.1M722.2 520.5h.1M721.3 522.1h.1M724.1 520.6h.1M721.2 523.0h.1M723.6 520.8h.1M727.1 520.1h.1M723.1 522.1h.1M720.6 523.2h.1M722.9 522.8h.1M726.5 520.5h.1M722.9 524.4h.1M726.0 521.9h.1M724.0 522.9h.1M722.0 524.0h.1M722.1 524.0h.1M724.6 524.3h.1M725.8 523.4h.1M721.8 525.6h.1M722.8 524.7h.1M725.2 525.4h.1M722.3 526.5h.1M726.2 525.1h.1M726.5 523.9h.1M727.3 525.2h.1M731.4 524.0h.1M726.8 524.9h.1M725.7 525.5h.1M724.2 526.2h.1M723.5 526.4h.1M724.0 528.3h.1M724.1 528.0h.1M729.6 525.6h.1M728.8 526.3h.1M723.7 527.7h.1M724.9 529.3h.1M723.6 528.9h.1M729.7 525.9h.1M729.7 526.1h.1M728.0 526.8h.1M726.7 529.5h.1M724.1 530.5h.1M730.1 527.5h.1M724.9 530.3h.1M725.6 529.2h.1M730.0 528.7h.1M724.1 530.8h.1M726.7 529.6h.1M727.3 529.5h.1M729.0 528.5h.1M726.9 531.3h.1M730.8 529.2h.1M736.3 526.7h.1M724.8 532.0h.1M725.7 533.6h.1M730.3 531.3h.1M725.5 533.4h.1M727.3 533.2h.1M734.2 530.3h.1M731.3 531.3h.1M728.8 533.2h.1M726.9 533.4h.1M727.7 534.1h.1M727.3 534.5h.1M726.6 535.2h.1M726.5 534.7h.1M730.5 534.1h.1M732.9 533.9h.1M728.1 536.0h.1M729.9 534.8h.1M730.7 536.2h.1M728.9 535.9h.1M727.2 537.5h.1M729.3 536.7h.1M738.7 531.5h.1M727.4 537.8h.1M727.7 537.9h.1M729.3 537.1h.1M731.5 536.8h.1M732.7 537.5h.1M732.2 537.1h.1M731.0 538.3h.1M728.9 538.7h.1M728.1 539.4h.1M729.0 539.6h.1M735.5 536.8h.1M738.9 535.7h.1M731.4 538.9h.1M729.7 541.0h.1M729.8 540.5h.1M729.9 541.2h.1M737.8 537.1h.1M730.6 541.6h.1M736.5 539.0h.1M731.7 541.4h.1M730.0 541.9h.1M731.1 541.0h.1M732.8 541.7h.1M730.2 543.3h.1M730.2 542.5h.1M740.8 538.5h.1M735.4 542.5h.1M733.4 542.3h.1M731.4 543.7h.1M732.3 543.5h.1M730.9 543.7h.1M731.1 544.9h.1M731.1 545.7h.1M731.7 545.0h.1M733.4 543.5h.1M732.3 546.1h.1M735.6 544.5h.1M732.8 545.7h.1M734.9 544.6h.1M736.3 545.2h.1M732.2 546.8h.1M733.0 546.9h.1M731.9 547.1h.1M732.4 547.2h.1M732.4 548.2h.1M736.9 546.7h.1M734.1 548.1h.1M739.2 545.3h.1M736.4 547.2h.1M736.1 547.5h.1M733.5 549.2h.1M734.2 548.2h.1M733.4 549.5h.1M736.1 548.4h.1M734.7 549.9h.1M734.0 549.6h.1M735.9 551.1h.1M734.3 550.6h.1M737.2 550.1h.1M739.4 548.3h.1M735.1 551.6h.1M734.5 551.7h.1M735.8 551.2h.1M734.1 552.0h.1M736.2 553.2h.1M734.8 553.3h.1M743.3 548.9h.1M735.2 553.2h.1M735.9 552.3h.1M738.0 553.0h.1M737.8 553.2h.1M737.8 553.0h.1M740.7 551.9h.1M736.1 554.2h.1M736.9 554.9h.1M739.3 553.4h.1M742.7 552.1h.1M737.4 554.7h.1M740.1 553.0h.1M736.1 556.4h.1M736.4 556.0h.1M737.8 556.2h.1M739.1 554.8h.1M689.1 388.2h.1M686.4 384.8h.1M680.2 379.9h.1M687.2 386.4h.1M687.9 386.4h.1M686.7 383.4h.1M687.8 385.1h.1M689.6 387.2h.1M689.7 386.6h.1M688.9 384.0h.1M685.9 381.8h.1M689.7 385.3h.1M689.8 384.7h.1M686.3 381.3h.1M684.0 378.4h.1M690.9 384.9h.1M690.1 384.7h.1M681.9 376.7h.1M691.3 385.6h.1M690.8 383.4h.1M692.3 384.2h.1M688.6 381.5h.1M689.9 381.7h.1M691.1 383.9h.1M691.6 383.1h.1M692.5 382.8h.1M692.8 383.4h.1M689.4 380.4h.1M693.1 383.5h.1M687.9 377.2h.1M692.3 381.3h.1M689.0 378.4h.1M693.4 382.5h.1M689.9 378.5h.1M694.2 380.9h.1M692.1 379.1h.1M694.0 381.9h.1M691.7 376.6h.1M691.1 376.2h.1M692.8 377.7h.1M688.9 373.8h.1M690.3 376.1h.1M696.6 379.4h.1M695.1 377.9h.1M695.4 379.7h.1M696.7 379.5h.1M692.4 376.2h.1M690.3 372.7h.1M697.1 378.8h.1M696.0 377.7h.1M694.1 376.5h.1M693.4 375.6h.1M695.3 374.9h.1M694.4 374.6h.1M697.5 377.3h.1M693.4 374.0h.1M692.1 370.1h.1M692.7 371.2h.1M697.7 376.1h.1M698.7 377.0h.1M699.0 376.7h.1M697.1 372.7h.1M698.5 374.6h.1M698.4 374.7h.1M699.1 375.6h.1M699.8 374.1h.1M698.8 372.4h.1M699.4 373.0h.1M700.4 374.6h.1M700.3 373.4h.1M702.2 374.2h.1M700.3 373.2h.1M701.6 373.4h.1M701.7 372.3h.1M700.9 371.7h.1M702.3 373.9h.1M699.9 371.6h.1M700.2 369.7h.1M703.4 373.1h.1M702.9 371.8h.1M701.0 369.6h.1M695.9 365.0h.1M703.7 370.8h.1M704.1 371.6h.1M704.1 371.2h.1M697.1 364.7h.1M701.8 367.6h.1M704.9 370.3h.1M704.6 370.3h.1M703.1 368.6h.1M705.6 369.9h.1M700.9 364.3h.1M705.9 370.6h.1M705.9 369.5h.1M703.1 367.7h.1M702.9 365.3h.1M702.8 365.4h.1M700.3 362.9h.1M705.8 368.5h.1M703.2 364.9h.1M707.2 368.0h.1M708.0 368.7h.1M700.5 360.6h.1M706.5 367.2h.1M707.2 367.4h.1M706.1 365.0h.1M707.5 367.6h.1M705.5 365.5h.1M704.1 364.0h.1M708.2 365.4h.1M706.2 363.3h.1M708.4 367.1h.1M708.8 367.6h.1M707.1 364.3h.1M709.9 365.3h.1M707.5 362.0h.1M710.9 366.5h.1M709.6 365.1h.1M710.0 366.1h.1M708.8 362.7h.1M706.2 359.0h.1M708.2 360.9h.1M709.3 363.3h.1M708.7 361.2h.1M711.9 363.6h.1M711.9 364.7h.1M711.6 365.0h.1M711.9 365.2h.1M713.8 364.3h.1M712.1 361.5h.1M713.0 363.9h.1M710.1 356.9h.1M713.0 362.4h.1M715.4 364.1h.1M714.8 364.0h.1M715.6 364.0h.1M714.0 356.4h.1M716.4 369.4h.1M715.0 371.1h.1M714.8 377.2h.1M716.6 366.8h.1M715.1 368.3h.1M716.8 367.2h.1M713.6 371.1h.1M716.2 367.2h.1M716.3 367.7h.1M716.9 367.0h.1M714.2 369.3h.1M716.8 367.3h.1M716.4 368.2h.1M713.9 369.7h.1M717.4 368.1h.1M717.0 367.9h.1M709.0 371.8h.1M717.7 368.7h.1M712.1 372.0h.1M716.9 369.4h.1M716.7 369.9h.1M716.8 369.6h.1M718.1 370.9h.1M714.8 371.4h.1M716.8 371.7h.1M715.6 371.9h.1M705.9 375.0h.1M711.6 375.5h.1M712.4 375.2h.1M717.9 373.0h.1M718.1 372.6h.1M716.0 373.8h.1M717.5 375.3h.1M719.7 374.1h.1M719.7 374.2h.1M714.9 376.3h.1M718.7 377.6h.1M715.4 379.2h.1M719.4 375.9h.1M717.3 377.4h.1M715.3 379.9h.1M719.5 377.7h.1M720.1 377.1h.1M716.1 380.0h.1M718.9 377.7h.1M721.6 377.6h.1M721.2 378.1h.1M722.2 378.1h.1M720.9 378.9h.1M722.2 377.8h.1M721.4 379.6h.1M721.5 379.0h.1M715.4 383.3h.1M720.7 379.8h.1M718.1 381.8h.1M721.6 380.1h.1M721.5 380.2h.1M720.0 381.5h.1M722.1 380.0h.1M722.4 379.9h.1M721.6 382.0h.1M714.7 386.5h.1M723.7 381.3h.1M724.5 381.3h.1M719.8 383.0h.1M720.4 385.0h.1M722.0 383.2h.1M721.6 383.9h.1M724.1 381.8h.1M724.4 384.1h.1M725.5 383.8h.1M718.7 387.0h.1M721.8 385.7h.1M726.0 384.3h.1M726.1 385.0h.1M722.0 386.6h.1M723.0 386.4h.1M724.2 386.9h.1M725.5 385.9h.1M726.3 385.8h.1M721.3 388.1h.1M724.0 386.8h.1M727.4 386.5h.1M726.7 386.2h.1M724.9 387.2h.1M724.6 387.7h.1M726.6 386.8h.1M726.7 388.1h.1M724.8 388.9h.1M727.6 387.0h.1M725.8 387.6h.1M728.0 388.3h.1M727.5 388.5h.1M726.6 388.6h.1M726.3 388.8h.1M728.6 389.4h.1M728.4 389.5h.1M724.4 392.0h.1M726.7 390.4h.1M724.1 392.0h.1M725.0 392.1h.1M728.1 391.0h.1M721.0 394.2h.1M721.4 394.6h.1M728.7 391.1h.1M726.2 392.7h.1M728.8 390.8h.1M724.4 393.3h.1M729.3 391.1h.1M729.8 392.4h.1M727.8 393.0h.1M728.1 392.2h.1M724.7 395.3h.1M726.1 395.6h.1M721.0 398.4h.1M723.8 395.9h.1M724.5 396.8h.1M729.3 394.0h.1M729.6 395.1h.1M727.4 395.5h.1M730.0 393.8h.1M729.7 395.6h.1M730.2 395.4h.1M730.1 395.3h.1M729.9 395.9h.1M724.7 398.3h.1M731.6 395.4h.1M732.0 395.8h.1M724.5 399.6h.1M731.3 395.3h.1M727.6 397.8h.1M728.5 399.0h.1M728.1 399.2h.1M723.4 400.5h.1M729.8 398.4h.1M732.3 397.9h.1M722.3 402.6h.1M724.8 401.9h.1M732.2 398.9h.1M728.5 401.0h.1M733.3 398.4h.1M733.5 397.8h.1M733.5 398.1h.1M732.8 400.4h.1M733.3 400.4h.1M733.7 399.0h.1M732.1 400.3h.1M734.1 400.6h.1M733.2 401.8h.1M731.2 401.9h.1M733.5 401.6h.1M732.1 401.4h.1M733.4 402.4h.1M734.2 402.1h.1M728.8 404.4h.1M735.0 401.5h.1M733.6 402.5h.1M734.9 403.1h.1M733.6 404.5h.1M735.4 403.7h.1M734.8 404.2h.1M725.7 407.3h.1M735.0 405.0h.1M728.9 407.7h.1M733.9 405.4h.1M736.7 404.6h.1M736.5 404.8h.1M736.3 406.1h.1M734.0 407.2h.1M731.8 408.5h.1M736.6 405.4h.1M735.9 407.1h.1M735.2 407.6h.1M737.6 407.2h.1M735.8 407.9h.1M738.0 408.5h.1M736.3 408.9h.1M738.0 408.0h.1M736.7 408.9h.1M737.4 409.8h.1M736.5 409.9h.1M738.3 408.8h.1M730.8 413.1h.1M738.4 410.5h.1M739.0 410.3h.1M738.1 410.7h.1M733.2 412.9h.1M735.0 413.8h.1M734.0 413.8h.1M733.9 413.5h.1M735.5 413.6h.1M737.0 412.9h.1M738.1 413.9h.1M733.9 415.2h.1M737.4 413.9h.1M739.7 413.4h.1M740.4 413.4h.1M736.1 415.9h.1M739.5 414.6h.1M731.7 417.8h.1M739.4 415.3h.1M736.8 417.5h.1M735.8 417.3h.1M737.2 416.6h.1M740.3 416.3h.1M734.9 418.3h.1M740.1 417.1h.1M732.9 420.3h.1M732.0 419.8h.1M740.0 417.8h.1M734.7 420.4h.1M737.7 419.0h.1M739.8 418.1h.1M740.1 418.3h.1M740.4 418.8h.1M733.3 422.3h.1M741.2 419.6h.1M741.7 419.9h.1M737.3 421.3h.1M742.0 421.1h.1M742.9 421.1h.1M742.4 420.3h.1M738.4 422.7h.1M742.6 421.1h.1M740.7 422.3h.1M740.0 423.1h.1M737.6 424.4h.1M736.9 424.3h.1M739.2 423.7h.1M734.6 427.0h.1M743.1 422.9h.1M740.7 424.2h.1M742.1 423.6h.1M743.1 423.1h.1M740.1 425.3h.1M743.6 424.4h.1M739.3 425.8h.1M739.8 425.5h.1M744.3 426.1h.1M742.0 425.9h.1M742.7 426.2h.1M744.4 425.4h.1M736.7 429.6h.1M737.6 429.2h.1M740.5 427.9h.1M742.5 428.0h.1M739.2 428.3h.1M734.2 431.7h.1M739.1 429.8h.1M743.0 428.5h.1M737.5 431.2h.1M745.3 429.6h.1M739.8 431.6h.1M741.8 430.1h.1M744.0 429.6h.1M743.7 430.2h.1M745.3 430.5h.1M744.7 430.8h.1M745.8 430.3h.1M744.4 431.6h.1M746.0 431.2h.1M739.7 434.3h.1M738.4 434.0h.1M743.5 432.6h.1M746.3 431.6h.1M747.2 433.4h.1M741.5 434.2h.1M746.5 432.5h.1M745.0 434.3h.1M746.9 433.1h.1M744.8 435.3h.1M747.6 434.8h.1M742.4 435.3h.1M747.9 434.5h.1M739.2 438.4h.1M745.6 435.6h.1M745.9 435.9h.1M746.2 435.8h.1M741.7 437.3h.1M742.4 438.6h.1M747.3 437.5h.1M746.6 436.8h.1M742.0 440.4h.1M747.7 438.5h.1M742.7 440.5h.1M748.3 438.0h.1M745.4 438.9h.1M747.6 439.8h.1M747.6 439.4h.1M747.7 440.0h.1M748.8 439.3h.1M748.7 439.9h.1M738.5 444.4h.1M749.0 440.9h.1M747.3 440.7h.1M749.3 440.0h.1M738.3 446.1h.1M747.6 442.7h.1M747.0 443.1h.1M748.7 442.3h.1M749.6 443.2h.1M749.5 443.4h.1M750.4 442.7h.1M747.6 444.3h.1M745.4 444.6h.1M742.4 447.5h.1M745.6 445.6h.1M749.2 444.6h.1M744.9 446.7h.1M750.7 444.9h.1M748.8 446.4h.1M741.0 448.8h.1M743.6 448.6h.1M750.1 445.5h.1M747.2 446.4h.1M750.8 447.8h.1M745.8 449.2h.1M748.6 448.2h.1M747.0 449.0h.1M741.1 451.5h.1M751.4 447.9h.1M748.8 448.9h.1M745.8 451.3h.1M747.0 449.9h.1M751.3 450.4h.1M752.2 449.1h.1M751.5 449.7h.1M751.6 449.6h.1M752.9 449.5h.1M752.5 451.5h.1M748.7 452.7h.1M752.2 451.6h.1M751.7 451.2h.1M751.7 452.3h.1M746.1 455.8h.1M753.6 451.6h.1M750.6 453.4h.1M752.4 452.4h.1M754.4 452.6h.1M753.6 452.9h.1M753.7 453.1h.1M753.4 453.8h.1M749.8 457.0h.1M750.8 456.6h.1M755.3 454.1h.1M755.0 454.7h.1M753.9 454.9h.1M754.7 455.7h.1M754.4 456.1h.1M755.4 456.1h.1M753.9 455.9h.1M750.4 460.6h.1M754.2 458.4h.1M756.4 456.5h.1M751.6 459.5h.1M756.1 456.7h.1M753.9 459.6h.1M754.6 459.4h.1M756.3 458.6h.1M757.3 458.3h.1M756.1 460.4h.1M754.4 461.5h.1M756.8 460.2h.1M756.6 460.3h.1M755.7 460.6h.1M756.3 461.6h.1M758.5 461.0h.1M757.7 460.6h.1M758.2 461.1h.1M754.6 462.4h.1M756.8 462.5h.1M758.4 462.9h.1M758.1 462.7h.1M756.1 463.4h.1M756.3 463.7h.1M758.6 463.4h.1M758.1 464.4h.1M757.4 463.7h.1M758.2 464.6h.1M759.6 465.0h.1M756.0 466.7h.1M760.0 464.6h.1M760.5 466.0h.1M756.5 468.4h.1M758.3 466.8h.1M759.0 467.2h.1M751.0 473.0h.1M751.5 472.9h.1M760.5 467.2h.1M753.6 471.9h.1M759.0 467.8h.1M762.4 468.2h.1M760.5 468.9h.1M760.6 469.9h.1M756.4 472.1h.1M761.6 470.9h.1M762.4 469.3h.1M757.2 472.2h.1M761.5 471.1h.1M760.4 470.3h.1M760.3 472.2h.1M762.2 471.7h.1M763.3 470.5h.1M762.9 471.2h.1M757.6 475.3h.1M762.6 472.6h.1M764.5 471.7h.1M761.2 474.1h.1M763.9 472.7h.1M761.6 474.7h.1M761.0 476.3h.1M759.1 477.0h.1M765.3 473.7h.1M757.9 478.7h.1M766.4 474.8h.1M759.1 477.8h.1M764.5 475.8h.1M766.8 475.5h.1M766.7 476.4h.1M764.1 476.9h.1M760.9 479.7h.1M767.0 477.5h.1M767.0 477.5h.1M762.4 480.4h.1M768.0 478.3h.1M762.1 481.5h.1M761.7 481.7h.1M766.5 479.4h.1M767.7 480.0h.1M764.9 482.3h.1M764.2 482.0h.1M763.2 483.3h.1M765.7 482.6h.1M765.7 483.0h.1M765.5 483.4h.1M768.4 481.2h.1M767.5 481.5h.1M770.3 482.7h.1M768.2 483.1h.1M769.9 482.0h.1M768.9 482.4h.1M763.2 488.7h.1M762.5 488.9h.1M761.2 489.6h.1M769.6 483.7h.1M764.0 490.1h.1M770.5 485.6h.1M768.5 487.1h.1M766.5 489.3h.1M767.6 488.8h.1M772.4 486.3h.1M768.2 488.7h.1M770.9 486.5h.1M770.5 489.2h.1M773.8 487.1h.1M767.6 490.1h.1M773.8 487.2h.1M772.8 487.4h.1M772.1 488.9h.1M768.4 492.3h.1M772.9 489.4h.1M774.2 488.6h.1M769.6 491.4h.1M772.2 491.7h.1M773.3 490.7h.1M773.5 490.5h.1M774.1 489.6h.1M774.7 491.0h.1M774.8 491.3h.1M775.5 490.8h.1M774.6 491.2h.1M774.4 490.9h.1M772.9 494.8h.1M775.2 492.5h.1M773.6 494.3h.1M774.6 493.3h.1M776.3 491.8h.1M776.2 494.1h.1M771.8 496.1h.1M775.0 494.0h.1M776.4 493.8h.1M773.4 497.4h.1M772.7 497.0h.1M775.9 495.2h.1M773.8 497.2h.1M777.8 495.2h.1M778.5 496.2h.1M778.0 496.6h.1M778.3 496.4h.1M777.8 496.4h.1M778.0 496.3h.1M778.5 497.6h.1M774.7 499.7h.1M770.1 501.9h.1M775.6 499.0h.1M779.1 498.8h.1M778.6 499.5h.1M775.5 500.7h.1M776.0 500.7h.1M774.5 503.2h.1M779.2 500.9h.1M778.2 500.3h.1M780.0 501.8h.1M780.9 500.5h.1M779.9 501.9h.1M779.8 502.2h.1M780.8 502.9h.1M782.1 502.7h.1M778.2 504.8h.1M781.1 502.7h.1M780.1 502.7h.1M774.7 507.0h.1M782.0 503.8h.1M781.5 503.8h.1M782.6 503.3h.1M784.0 505.0h.1M780.6 506.1h.1M782.8 505.3h.1M782.8 505.5h.1M782.2 506.8h.1M783.5 505.7h.1M784.0 506.6h.1M781.6 507.6h.1M783.5 508.0h.1M782.0 509.0h.1M776.2 511.7h.1M779.4 509.5h.1M785.7 508.4h.1M785.0 508.9h.1M784.9 509.4h.1M785.7 508.9h.1M781.3 512.4h.1M785.7 510.1h.1M786.0 509.7h.1M786.1 509.5h.1M779.5 513.1h.1M786.0 511.6h.1M785.9 512.2h.1M786.9 510.8h.1M786.4 511.4h.1M785.4 511.4h.1M785.1 513.4h.1M785.4 513.1h.1M787.5 512.2h.1M786.4 513.4h.1M787.9 513.7h.1M787.9 514.3h.1M787.9 514.0h.1M786.2 515.0h.1M779.4 519.5h.1M788.5 515.4h.1M786.5 515.7h.1M788.9 515.1h.1M784.8 516.8h.1M785.6 518.7h.1M787.4 518.0h.1M787.9 517.1h.1M789.6 516.3h.1M785.1 518.9h.1M786.8 518.2h.1M787.8 518.8h.1M789.4 517.0h.1M787.9 518.5h.1M788.5 517.9h.1M789.8 518.3h.1M789.7 519.1h.1M787.4 519.7h.1M790.4 518.7h.1M789.6 519.1h.1M784.7 521.6h.1M790.5 519.8h.1M787.2 520.8h.1M790.3 520.0h.1M788.0 521.5h.1M779.5 525.5h.1M790.2 520.2h.1M791.2 520.0h.1M790.3 521.4h.1M786.6 523.8h.1M790.4 521.3h.1M791.0 521.8h.1M789.8 522.1h.1M789.4 522.6h.1M788.5 523.3h.1M786.0 524.9h.1M788.5 523.9h.1M784.7 527.0h.1M791.8 523.5h.1M791.4 523.8h.1M790.0 524.2h.1M792.2 522.6h.1M786.7 527.3h.1M791.7 524.4h.1M790.4 525.3h.1M793.1 524.4h.1M792.8 523.4h.1M790.3 526.3h.1M791.4 525.7h.1M788.0 527.2h.1M788.9 527.0h.1M786.3 527.6h.1M793.9 525.7h.1M791.9 526.2h.1M793.3 525.6h.1M786.9 529.2h.1M792.3 526.6h.1M794.5 527.2h.1M791.7 528.2h.1M786.8 529.8h.1M794.1 526.4h.1M793.7 526.5h.1M792.1 529.2h.1M792.9 529.1h.1M787.9 530.5h.1M791.5 529.8h.1M793.5 528.9h.1M794.2 528.6h.1M795.3 528.9h.1M793.1 529.5h.1M791.3 530.3h.1M795.0 529.5h.1M786.2 534.8h.1M795.4 530.3h.1M795.9 529.7h.1M793.7 530.1h.1M794.1 531.9h.1M794.8 531.7h.1M788.9 533.7h.1M795.3 530.3h.1M794.7 530.6h.1M794.6 532.2h.1M788.6 535.9h.1M795.4 532.1h.1M796.3 531.1h.1M791.1 533.7h.1M796.4 532.4h.1M796.7 533.2h.1M796.5 533.0h.1M796.7 533.3h.1M790.1 536.0h.1M790.5 537.0h.1M797.3 533.0h.1M792.1 536.8h.1M796.3 534.6h.1M790.1 536.9h.1M794.6 535.8h.1M798.0 534.2h.1M797.3 534.9h.1M796.8 534.9h.1M796.9 534.6h.1M797.9 536.3h.1M792.2 538.6h.1M797.7 536.1h.1M791.9 539.2h.1M799.4 536.9h.1M798.2 536.7h.1M794.5 538.4h.1M794.9 537.9h.1M797.3 536.6h.1M794.5 540.3h.1M799.3 537.3h.1M794.8 540.1h.1M797.8 537.8h.1M799.1 537.5h.1M793.8 541.8h.1M797.7 539.7h.1M797.0 539.4h.1M800.2 538.4h.1M799.8 539.6h.1M799.9 540.0h.1M795.3 541.5h.1M799.3 540.3h.1M800.8 540.9h.1M799.6 541.7h.1M800.8 541.0h.1M793.4 544.4h.1M800.6 540.5h.1M801.1 541.6h.1M800.3 542.1h.1M797.4 542.9h.1M800.7 541.3h.1M797.5 545.1h.1M802.0 543.2h.1M802.1 542.0h.1M799.2 544.1h.1M800.8 544.1h.1M801.6 543.9h.1M802.6 543.8h.1M802.3 543.7h.1M797.7 546.8h.1M797.8 546.5h.1M802.4 544.6h.1M799.9 546.7h.1M802.6 544.8h.1M804.0 545.8h.1M802.5 545.6h.1M798.3 548.5h.1M799.0 548.3h.1M799.3 548.9h.1M803.5 547.0h.1M802.6 547.6h.1M797.9 550.0h.1M804.1 546.6h.1M803.5 547.4h.1M800.8 549.1h.1M804.4 548.1h.1M803.9 548.1h.1M801.4 549.3h.1M799.7 551.1h.1M804.2 549.0h.1M805.4 548.7h.1M800.8 551.3h.1M797.1 554.3h.1M804.1 550.9h.1M803.4 550.8h.1M802.9 550.5h.1M801.4 553.0h.1M805.3 551.7h.1M805.9 550.3h.1M805.3 551.7h.1M801.2 554.0h.1M801.5 553.6h.1M804.2 553.4h.1M803.8 552.7h.1M806.3 552.2h.1M805.4 553.0h.1M803.3 554.9h.1M803.6 553.8h.1M805.9 553.2h.1M806.0 554.3h.1M804.7 555.0h.1M806.7 554.1h.1M805.1 554.3h.1M806.5 553.9h.1M807.3 554.9h.1M804.6 556.1h.1M798.4 559.0h.1M807.4 555.3h.1M804.9 556.0h.1M807.6 556.6h.1M801.1 559.0h.1M805.2 557.0h.1M806.4 557.3h.1M808.0 557.0h.1M806.8 557.6h.1M806.9 557.5h.1M808.7 557.0h.1M809.7 557.9h.1M809.3 557.6h.1M807.8 558.4h.1" fill="none" stroke="#3a2430" stroke-width="1.6" stroke-linecap="round" opacity="0.85"/></g>
<path d="M658.6,396.3 658.5,396.4 658.9,396.9 659.0,398.4 659.8,399.8 659.8,398.4 658.7,403.0 662.0,408.9 664.3,411.2 665.2,412.5 665.7,413.7 666.0,415.8 666.8,419.4 668.1,422.4 669.1,425.2 670.3,427.4 670.8,429.8 672.6,433.7 674.8,436.5 675.9,438.4 676.5,439.3 676.3,440.0 677.2,446.0 680.7,449.3 680.8,450.3 681.7,452.0 681.9,453.9 683.3,458.5 686.0,461.6 686.3,462.1 686.4,463.9 687.1,465.1 686.5,469.3 690.3,474.8 692.2,476.5 692.5,478.0 693.5,479.0 693.1,481.4 695.4,486.1 696.5,487.4 696.8,489.9 698.3,491.9 698.0,493.9 700.6,499.2 703.4,502.0 704.2,503.1 704.4,501.7 702.8,505.8 705.8,511.5 707.1,514.1 709.2,517.1 709.9,517.5 709.6,520.5 712.7,525.5 714.3,527.7 714.7,528.4 714.5,530.4 716.0,536.4 719.7,540.2 720.9,542.3 721.6,542.7 721.1,546.9 724.7,551.9 725.8,554.1 727.3,557.2" fill="none" stroke="#8a3a66" stroke-width="2" stroke-dasharray="2.2 2.6" opacity="0.9"/>
<path d="M685.4,383.4 687.8,381.7 689.4,379.1 734.5,380.3 736.0,384.8 736.4,386.8 736.6,387.5 740.1,390.7 742.0,396.3 742.2,399.5 741.6,399.1 742.8,399.9 746.5,403.5 748.4,408.8 748.6,412.4 748.5,414.2 748.3,414.0 750.5,416.6 751.5,420.0 753.1,423.5 753.0,426.8 752.1,425.5 756.2,428.8 756.8,435.1 757.0,436.1 757.8,440.5 756.6,440.8 757.0,440.0 760.8,443.7 762.0,447.7 763.6,451.7 762.8,453.4 763.5,453.4 765.5,456.2 767.4,459.5 768.7,462.8 768.2,463.1 770.8,464.9 773.9,468.9 775.9,473.6 775.9,477.6 774.8,476.1 776.8,477.2 780.4,481.0 781.7,483.9 783.4,486.3 783.9,487.9 787.5,491.3 788.4,496.0 789.1,497.7 790.0,500.3 789.9,501.0 792.5,503.1 795.1,506.9 797.4,511.7 797.1,514.0 798.0,515.0 800.2,518.7 800.8,521.5 802.6,524.6 802.1,525.8 805.8,528.7 807.3,533.7 808.9,537.4 808.2,538.7 810.6,540.6 812.8,544.8 814.5,548.3 815.5,551.4 816.7,553.9" fill="none" stroke="#8a3a66" stroke-width="2" stroke-dasharray="2.2 2.6" opacity="0.9"/>
<path d="M689.6,389.0 685.3,388.6 684.7,388.1 682.1,387.6 680.0,387.0 674.6,386.4 671.4,386.0 669.4,385.7 666.9,385.5 665.8,385.6 664.3,386.0 663.2,386.7 662.6,387.5 661.9,388.6 661.4,389.8 663.5,391.2 664.5,392.8 665.4,394.5 665.7,396.2 666.6,398.1 666.7,400.0 665.6,402.1 667.3,404.3 669.7,406.7 671.3,409.2 672.4,411.8 672.8,414.5 673.5,417.2 674.6,419.8 675.5,422.5 676.8,425.0 677.4,427.5 678.6,430.0 680.5,432.5 682.0,435.0 683.3,437.5 683.3,440.0 683.3,442.5 686.2,445.0 687.2,447.5 688.4,450.0 688.7,452.5 689.4,455.0 691.6,457.5 693.0,460.0 693.2,462.5 694.1,465.0 693.3,467.5 695.4,470.0 698.0,472.5 698.8,475.0 700.4,477.5 699.9,480.0 701.4,482.4 703.0,484.9 703.3,487.4 705.0,489.9 704.8,492.4 706.1,494.9 708.8,497.4 710.5,500.0 711.4,502.6 709.8,505.2 711.8,507.9 713.1,510.5 715.0,513.2 716.8,515.9 716.3,518.6 718.3,521.4 720.3,524.2 721.6,527.0 721.5,529.9 722.0,532.8 725.0,535.8 727.0,538.8 728.6,541.8 727.8,544.9 730.5,547.9 732.1,551.0 733.5,554.0 735.2,557.0" fill="none" stroke="#151215" stroke-width="3.5" stroke-linejoin="round"/>
<path d="M689.6,389.0 692.8,386.6 694.5,383.9 697.9,381.1 701.2,378.3 703.3,375.5 704.7,372.9 708.2,370.5 710.2,368.6 712.0,367.0 714.6,366.0 715.3,365.5 716.0,365.5 716.8,365.8 717.5,366.5 719.1,367.5 720.2,368.7 721.3,370.1 720.5,371.7 721.4,373.3 722.6,375.0 722.0,376.9 723.1,379.0 726.2,381.3 728.5,383.8 729.2,386.5 729.8,389.2 731.2,392.0 734.4,394.7 735.1,397.4 735.3,400.0 735.5,402.5 738.0,405.0 740.8,407.5 741.5,410.0 741.6,412.5 741.6,415.0 742.2,417.5 744.4,420.0 744.9,422.5 746.3,425.0 746.0,427.5 746.8,430.0 750.3,432.5 749.8,435.0 750.1,437.5 750.8,440.0 749.8,442.5 752.1,445.0 754.9,447.5 755.4,450.0 756.7,452.5 756.0,455.0 757.9,457.5 759.6,460.0 761.1,462.5 762.0,465.0 762.7,467.5 766.0,470.0 767.9,472.5 769.0,475.0 768.9,477.5 768.9,480.0 772.2,482.4 774.6,484.9 775.6,487.4 777.4,489.9 778.5,492.4 781.5,494.9 781.5,497.4 782.5,500.0 783.4,502.6 784.3,505.2 787.3,507.9 789.2,510.5 790.6,513.2 790.3,515.9 792.0,518.6 793.7,521.4 794.3,524.2 796.0,527.0 796.4,529.9 800.2,532.8 800.7,535.8 802.0,538.8 801.9,541.8 805.0,544.9 806.5,547.9 808.0,551.0 809.0,554.0 810.5,557.0" fill="none" stroke="#151215" stroke-width="3.5" stroke-linejoin="round"/>
<path d="M583.0,173.0 584.4,170.2 585.7,167.3 586.9,164.4 588.3,161.6 590.0,159.1 592.0,157.0 594.5,155.3 597.5,154.0 600.7,152.9 604.0,152.1 607.1,151.5 610.0,151.0 612.6,150.7 615.1,150.7 617.6,150.8 619.9,151.1 622.0,151.5 624.0,152.0 625.8,152.5 627.4,152.9 628.9,153.4 630.3,154.2 631.6,155.4 633.0,157.0 634.4,159.2 635.7,161.8 636.9,164.8 638.2,168.0 639.6,171.4 641.0,175.0 642.4,178.5 643.8,181.9 645.3,185.5 646.9,189.6 648.7,194.3 651.0,200.0 653.7,206.9 656.9,214.8 660.3,223.4 663.9,232.4 667.4,241.4 670.7,250.0 673.9,258.4 677.0,267.0 680.1,275.6 683.1,284.1 686.1,292.2 689.0,300.0 691.9,307.5 694.8,315.0 697.7,322.2 700.4,328.9 702.9,334.9 705.0,340.0 706.8,343.9 708.3,346.8 709.5,348.9 710.5,350.8 711.3,352.7 712.0,355.0 712.5,357.8 713.0,360.7 713.2,363.6 713.1,366.6 712.8,369.4 712.0,372.0 710.8,374.5 709.1,377.0 707.1,379.3 704.9,381.5 702.5,383.4 700.0,385.0 697.3,386.3 694.3,387.3 691.1,388.0 687.9,388.5 684.8,388.8 682.0,389.0 679.4,389.0 676.8,388.7 674.3,388.2 672.0,387.6 669.9,386.9 668.0,386.0 666.5,385.2 665.3,384.4 664.4,383.6 663.4,382.3 662.4,380.5 661.0,378.0 659.4,374.7 657.7,371.0 655.9,366.6 653.9,361.7 651.6,356.2 649.0,350.0 645.9,342.9 642.3,335.0 638.4,326.4 634.5,317.5 630.6,308.6 627.0,300.0 623.6,291.7 620.4,283.3 617.2,275.0 614.1,266.7 611.0,258.3 608.0,250.0 604.9,241.3 601.8,232.1 598.7,223.0 595.8,214.3 593.2,206.5 591.0,200.0 589.3,195.0 588.0,191.3 587.1,188.4 586.3,186.1 585.6,184.1 585.0,182.0 584.4,180.0 584.0,178.3 583.8,176.9 583.5,175.7 583.3,174.4 583.0,173.0Z" fill="#fff"/>
<g clip-path="url(#balc)"><path d="M583.0,173.0 584.4,170.2 585.7,167.3 586.9,164.4 588.3,161.6 590.0,159.1 592.0,157.0 594.5,155.3 597.5,154.0 600.7,152.9 604.0,152.1 607.1,151.5 610.0,151.0 612.6,150.7 615.1,150.7 617.6,150.8 619.9,151.1 622.0,151.5 624.0,152.0 625.8,152.5 627.4,152.9 628.9,153.4 630.3,154.2 631.6,155.4 633.0,157.0 634.4,159.2 635.7,161.8 636.9,164.8 638.2,168.0 639.6,171.4 641.0,175.0 642.4,178.5 643.8,181.9 645.3,185.5 646.9,189.6 648.7,194.3 651.0,200.0 653.7,206.9 656.9,214.8 660.3,223.4 663.9,232.4 667.4,241.4 670.7,250.0 673.9,258.4 677.0,267.0 680.1,275.6 683.1,284.1 686.1,292.2 689.0,300.0 691.9,307.5 694.8,315.0 697.7,322.2 700.4,328.9 702.9,334.9 705.0,340.0 706.8,343.9 708.3,346.8 709.5,348.9 710.5,350.8 711.3,352.7 712.0,355.0 712.5,357.8 713.0,360.7 713.2,363.6 713.1,366.6 712.8,369.4 712.0,372.0 710.8,374.5 709.1,377.0 707.1,379.3 704.9,381.5 702.5,383.4 700.0,385.0 697.3,386.3 694.3,387.3 691.1,388.0 687.9,388.5 684.8,388.8 682.0,389.0 679.4,389.0 676.8,388.7 674.3,388.2 672.0,387.6 669.9,386.9 668.0,386.0 666.5,385.2 665.3,384.4 664.4,383.6 663.4,382.3 662.4,380.5 661.0,378.0 659.4,374.7 657.7,371.0 655.9,366.6 653.9,361.7 651.6,356.2 649.0,350.0 645.9,342.9 642.3,335.0 638.4,326.4 634.5,317.5 630.6,308.6 627.0,300.0 623.6,291.7 620.4,283.3 617.2,275.0 614.1,266.7 611.0,258.3 608.0,250.0 604.9,241.3 601.8,232.1 598.7,223.0 595.8,214.3 593.2,206.5 591.0,200.0 589.3,195.0 588.0,191.3 587.1,188.4 586.3,186.1 585.6,184.1 585.0,182.0 584.4,180.0 584.0,178.3 583.8,176.9 583.5,175.7 583.3,174.4 583.0,173.0Z" fill="none" stroke="#4a4a4a" stroke-width="10" opacity="0.18" filter="url(#bl3)"/><path d="M592.0 177.3h.1M589.5 176.6h.1M595.3 179.1h.1M591.9 176.1h.1M587.7 174.0h.1M590.8 175.1h.1M586.1 172.3h.1M590.3 173.9h.1M588.4 172.1h.1M587.3 171.8h.1M585.6 170.2h.1M589.6 171.8h.1M586.5 170.1h.1M592.1 171.3h.1M586.8 168.9h.1M591.0 170.3h.1M586.8 167.7h.1M589.9 168.5h.1M587.5 168.7h.1M588.0 167.4h.1M588.0 166.7h.1M589.2 166.8h.1M587.7 165.4h.1M593.4 168.6h.1M589.2 165.2h.1M597.8 169.7h.1M588.7 164.6h.1M593.0 166.5h.1M589.3 163.6h.1M592.5 165.2h.1M593.2 164.3h.1M589.6 161.9h.1M599.8 168.6h.1M598.9 166.1h.1M594.5 164.0h.1M591.4 162.3h.1M595.4 162.8h.1M591.9 161.2h.1M593.4 161.1h.1M595.0 162.1h.1M593.7 161.1h.1M600.2 166.3h.1M596.1 162.1h.1M594.1 157.3h.1M593.4 158.3h.1M597.3 162.0h.1M601.6 167.3h.1M595.7 157.0h.1M595.4 156.2h.1M596.1 156.1h.1M596.4 158.0h.1M597.5 155.3h.1M598.0 156.9h.1M599.9 158.8h.1M599.2 157.3h.1M598.7 157.8h.1M600.4 160.5h.1M601.4 164.1h.1M602.4 160.2h.1M601.9 159.3h.1M601.2 156.0h.1M601.1 156.1h.1M603.8 164.1h.1M602.8 156.3h.1M602.8 155.6h.1M601.8 155.1h.1M603.9 155.0h.1M603.0 153.9h.1M604.3 156.2h.1M605.7 157.3h.1M604.3 155.2h.1M604.5 156.6h.1M605.4 155.6h.1M605.8 152.8h.1M607.0 156.3h.1M608.7 157.1h.1M607.5 153.6h.1M607.8 156.2h.1M610.6 163.7h.1M609.2 154.5h.1M608.2 152.3h.1M611.7 160.9h.1M610.5 153.3h.1M612.0 155.2h.1M612.0 152.4h.1M613.0 152.1h.1M613.8 159.3h.1M614.3 161.7h.1M614.0 152.2h.1M614.3 153.3h.1M614.7 154.0h.1M615.5 153.0h.1M616.7 151.9h.1M615.9 156.2h.1M616.5 151.9h.1M616.6 155.2h.1M616.7 164.7h.1M617.5 157.8h.1M617.4 162.4h.1M619.2 155.7h.1M619.1 153.5h.1M620.2 153.0h.1M621.4 154.7h.1M621.2 157.3h.1M618.9 163.3h.1M622.2 156.9h.1M622.7 153.3h.1M619.9 164.4h.1M622.8 154.8h.1M621.9 158.0h.1M624.2 156.8h.1M624.6 156.7h.1M623.9 157.9h.1M625.2 160.3h.1M627.6 154.1h.1M624.8 161.7h.1M627.5 157.3h.1M627.6 158.7h.1M628.3 158.4h.1M624.6 162.1h.1M623.8 163.1h.1M627.6 160.5h.1M627.9 160.3h.1M629.1 160.2h.1M630.2 158.8h.1M629.8 160.4h.1M628.3 161.2h.1M632.7 159.0h.1M633.6 160.2h.1M630.5 160.8h.1M633.3 159.9h.1M631.0 162.5h.1M630.4 162.2h.1M634.2 161.1h.1M632.9 163.5h.1M631.5 163.3h.1M634.1 163.7h.1M633.3 163.7h.1M633.7 164.8h.1M633.9 165.3h.1M630.0 167.4h.1M630.7 167.6h.1M633.5 167.6h.1M635.0 167.4h.1M635.6 166.7h.1M634.9 168.3h.1M636.2 167.5h.1M633.9 169.1h.1M627.3 173.7h.1M635.4 170.7h.1M638.3 171.0h.1M627.9 174.9h.1M635.1 172.3h.1M632.4 174.8h.1M635.2 173.2h.1M634.6 173.3h.1M635.6 174.8h.1M637.4 174.0h.1M633.7 175.4h.1M635.9 176.2h.1M639.3 173.8h.1M639.4 175.7h.1M638.7 176.2h.1M637.6 178.3h.1M632.3 180.0h.1M635.5 179.2h.1M634.7 179.8h.1M637.4 178.9h.1M638.0 178.4h.1M634.7 182.3h.1M639.7 180.4h.1M640.5 180.8h.1M641.5 181.7h.1M630.6 185.8h.1M639.6 182.8h.1M639.8 183.9h.1M641.1 182.4h.1M636.0 185.3h.1M640.8 184.5h.1M642.9 183.2h.1M640.3 186.1h.1M642.1 185.7h.1M638.2 188.5h.1M637.8 188.0h.1M644.7 187.0h.1M644.0 187.2h.1M638.5 188.8h.1M643.1 188.2h.1M640.2 189.7h.1M643.7 189.2h.1M643.2 189.5h.1M640.7 192.5h.1M641.1 191.6h.1M645.8 190.3h.1M645.8 191.2h.1M638.1 193.9h.1M646.8 192.4h.1M644.7 193.0h.1M646.9 192.3h.1M645.4 193.1h.1M644.4 193.7h.1M647.1 193.2h.1M646.7 193.7h.1M640.0 196.9h.1M646.4 195.8h.1M638.6 198.8h.1M646.0 195.6h.1M645.0 197.0h.1M647.8 195.4h.1M647.0 197.0h.1M645.7 197.8h.1M645.4 199.1h.1M643.4 199.9h.1M648.3 197.6h.1M639.5 202.6h.1M645.6 200.1h.1M648.0 199.1h.1M648.8 200.3h.1M648.2 200.0h.1M648.9 201.3h.1M649.0 200.8h.1M640.7 205.6h.1M647.7 202.3h.1M648.3 202.1h.1M649.4 203.2h.1M650.5 202.9h.1M649.2 203.5h.1M643.0 206.4h.1M647.9 205.0h.1M642.4 208.5h.1M650.7 204.6h.1M651.6 205.6h.1M641.5 209.5h.1M651.1 205.4h.1M652.0 206.2h.1M648.7 207.3h.1M649.6 207.4h.1M651.9 207.6h.1M652.0 207.7h.1M650.9 208.5h.1M651.7 208.4h.1M652.6 208.6h.1M648.7 210.7h.1M641.9 213.6h.1M653.7 210.5h.1M652.7 211.4h.1M653.7 211.0h.1M649.2 213.6h.1M654.0 212.3h.1M653.5 212.4h.1M648.5 216.3h.1M650.6 214.5h.1M644.3 218.8h.1M650.4 216.6h.1M650.0 217.0h.1M653.3 216.4h.1M653.0 216.1h.1M656.2 216.6h.1M655.9 216.2h.1M653.5 218.0h.1M656.3 217.4h.1M647.1 220.8h.1M652.5 220.4h.1M656.4 218.6h.1M655.7 218.5h.1M656.0 219.5h.1M649.6 222.0h.1M651.4 222.5h.1M648.7 223.3h.1M655.4 222.6h.1M657.4 220.8h.1M657.4 222.8h.1M654.7 223.1h.1M655.1 223.4h.1M655.1 224.0h.1M649.4 226.5h.1M657.2 225.3h.1M657.4 224.6h.1M658.1 224.2h.1M648.2 228.9h.1M653.8 227.7h.1M659.0 226.8h.1M653.9 228.5h.1M659.6 226.6h.1M651.6 232.0h.1M660.4 227.9h.1M660.7 228.6h.1M660.3 228.8h.1M656.8 232.0h.1M659.3 230.4h.1M660.7 229.7h.1M658.6 231.6h.1M658.7 232.1h.1M660.5 233.0h.1M657.0 234.2h.1M660.9 232.0h.1M660.3 233.6h.1M661.9 232.6h.1M661.5 233.4h.1M659.3 236.0h.1M662.2 234.0h.1M662.3 235.3h.1M661.6 235.3h.1M657.5 237.5h.1M660.5 237.3h.1M653.2 239.8h.1M656.1 238.9h.1M663.1 237.4h.1M661.8 237.4h.1M662.7 238.1h.1M660.0 239.6h.1M660.8 238.9h.1M661.8 238.9h.1M662.1 240.6h.1M664.6 238.5h.1M663.3 239.0h.1M657.9 242.2h.1M664.7 239.8h.1M665.7 240.8h.1M662.8 241.6h.1M661.8 243.9h.1M661.3 243.5h.1M662.3 244.8h.1M661.8 244.8h.1M664.4 243.0h.1M665.8 244.5h.1M663.7 245.5h.1M659.0 247.1h.1M661.9 246.9h.1M664.0 245.5h.1M664.8 246.2h.1M661.4 247.5h.1M665.9 246.8h.1M665.7 247.4h.1M666.3 247.1h.1M665.7 247.7h.1M664.5 249.2h.1M665.8 248.6h.1M667.0 248.7h.1M667.6 249.1h.1M667.5 248.9h.1M666.9 250.5h.1M663.0 251.3h.1M667.3 251.8h.1M658.6 254.9h.1M658.3 254.7h.1M664.6 253.1h.1M666.6 252.3h.1M667.0 252.3h.1M664.2 254.2h.1M667.5 253.4h.1M668.9 252.7h.1M669.2 254.0h.1M667.2 254.8h.1M659.9 257.8h.1M670.4 254.5h.1M663.4 258.2h.1M669.0 255.9h.1M669.2 257.3h.1M667.0 257.3h.1M665.0 259.1h.1M662.5 260.1h.1M672.2 257.2h.1M667.4 259.1h.1M672.5 258.1h.1M666.5 259.9h.1M666.4 260.0h.1M668.1 260.8h.1M672.4 259.2h.1M669.1 261.4h.1M672.3 260.7h.1M667.7 262.8h.1M672.1 261.1h.1M671.1 263.3h.1M673.1 262.6h.1M673.7 262.3h.1M671.2 263.2h.1M670.0 263.9h.1M674.6 264.0h.1M669.7 265.0h.1M672.7 264.5h.1M668.2 267.6h.1M671.1 266.4h.1M667.2 268.3h.1M667.3 268.2h.1M672.3 267.8h.1M675.0 266.2h.1M673.9 267.0h.1M663.9 271.3h.1M670.7 268.8h.1M666.9 272.0h.1M673.3 269.5h.1M672.1 269.4h.1M676.7 269.6h.1M676.4 269.4h.1M676.8 270.3h.1M676.4 270.4h.1M676.3 271.5h.1M676.9 271.8h.1M672.8 274.0h.1M677.6 272.5h.1M677.9 273.3h.1M672.1 274.7h.1M673.7 275.6h.1M671.4 277.1h.1M671.6 277.9h.1M676.6 276.4h.1M678.5 275.6h.1M677.0 276.6h.1M678.7 275.8h.1M677.5 277.3h.1M668.3 281.6h.1M673.5 279.4h.1M676.2 278.8h.1M678.1 278.3h.1M679.5 278.5h.1M673.9 281.6h.1M675.7 281.3h.1M679.4 279.4h.1M674.6 281.8h.1M678.7 280.3h.1M679.9 281.9h.1M669.8 285.8h.1M678.8 281.5h.1M676.2 284.0h.1M673.4 284.9h.1M672.1 286.2h.1M675.4 286.1h.1M681.3 283.8h.1M681.3 283.3h.1M678.0 286.5h.1M679.4 286.0h.1M680.7 284.5h.1M680.8 285.9h.1M673.9 288.7h.1M682.2 286.4h.1M678.9 287.9h.1M678.3 288.9h.1M677.8 289.2h.1M681.6 289.3h.1M683.2 288.8h.1M681.4 290.9h.1M677.1 292.2h.1M674.5 294.8h.1M673.5 294.0h.1M683.3 290.7h.1M684.4 291.8h.1M676.0 294.6h.1M677.3 294.8h.1M684.0 293.2h.1M680.6 293.6h.1M682.6 295.0h.1M682.6 294.2h.1M684.0 294.6h.1M684.5 295.7h.1M679.8 296.4h.1M683.6 297.1h.1M686.1 295.5h.1M680.0 299.4h.1M683.4 297.8h.1M682.3 298.8h.1M682.8 300.5h.1M685.9 298.6h.1M687.4 298.9h.1M685.4 300.6h.1M686.1 300.6h.1M687.3 300.2h.1M681.5 303.1h.1M687.7 302.2h.1M685.1 302.3h.1M681.5 303.7h.1M688.4 303.0h.1M681.0 305.0h.1M685.8 304.2h.1M679.5 307.1h.1M687.6 303.5h.1M677.9 308.7h.1M685.5 306.0h.1M689.3 304.3h.1M678.6 309.4h.1M690.0 305.6h.1M687.8 306.3h.1M688.9 306.5h.1M688.8 306.8h.1M688.3 306.7h.1M688.1 307.2h.1M682.0 310.2h.1M689.8 306.7h.1M690.7 307.8h.1M685.6 310.3h.1M682.8 312.3h.1M689.2 309.3h.1M683.5 312.8h.1M690.8 310.7h.1M690.0 311.8h.1M692.0 311.0h.1M690.1 312.9h.1M691.6 312.2h.1M691.1 312.7h.1M685.9 315.4h.1M689.6 314.3h.1M681.7 317.8h.1M689.0 315.6h.1M687.6 317.1h.1M683.4 318.3h.1M691.8 315.1h.1M686.6 318.4h.1M692.8 316.2h.1M687.8 318.2h.1M686.3 319.5h.1M693.4 316.2h.1M692.9 318.1h.1M693.9 317.7h.1M689.0 319.2h.1M691.1 320.1h.1M693.7 318.8h.1M694.1 320.0h.1M695.1 319.8h.1M683.8 324.4h.1M694.8 320.4h.1M694.6 321.1h.1M694.0 321.9h.1M691.8 324.0h.1M696.2 322.6h.1M694.6 322.8h.1M695.8 324.2h.1M694.6 325.0h.1M696.2 324.5h.1M694.1 326.1h.1M697.6 325.0h.1M694.6 325.3h.1M691.4 327.7h.1M696.1 326.8h.1M693.0 328.6h.1M692.8 329.5h.1M698.6 328.0h.1M698.3 327.5h.1M697.1 329.4h.1M698.0 329.0h.1M697.0 329.7h.1M690.2 333.0h.1M697.6 329.6h.1M698.5 329.1h.1M695.3 332.7h.1M695.2 332.8h.1M698.7 331.3h.1M696.5 332.7h.1M699.4 333.0h.1M695.3 334.5h.1M700.7 333.8h.1M693.9 336.3h.1M698.0 335.5h.1M700.6 335.2h.1M700.2 334.4h.1M693.1 338.5h.1M692.3 339.2h.1M693.0 339.1h.1M701.9 336.6h.1M702.3 336.9h.1M701.1 336.6h.1M691.8 341.3h.1M701.0 338.1h.1M700.0 339.0h.1M698.6 340.1h.1M700.7 339.0h.1M698.8 340.9h.1M695.9 342.5h.1M702.7 341.2h.1M697.9 343.3h.1M698.8 344.1h.1M702.9 342.7h.1M701.5 343.4h.1M704.1 342.4h.1M701.6 344.6h.1M705.1 343.0h.1M704.9 343.4h.1M705.2 344.8h.1M706.2 345.9h.1M704.9 346.3h.1M705.1 346.6h.1M702.6 348.8h.1M702.1 348.2h.1M706.5 347.2h.1M706.6 348.2h.1M699.5 351.7h.1M698.7 353.2h.1M707.8 349.1h.1M707.0 349.5h.1M707.3 350.7h.1M701.0 353.9h.1M705.6 351.0h.1M706.9 351.0h.1M705.6 352.1h.1M705.2 353.4h.1M699.1 356.0h.1M709.6 352.6h.1M708.4 352.3h.1M708.6 353.3h.1M705.1 355.2h.1M708.7 353.0h.1M709.2 354.9h.1M707.9 354.6h.1M705.8 357.1h.1M709.8 355.1h.1M707.2 355.8h.1M710.4 357.0h.1M708.1 356.9h.1M704.7 359.4h.1M710.2 357.8h.1M710.0 358.2h.1M710.3 359.0h.1M704.7 360.9h.1M707.8 360.0h.1M709.8 360.4h.1M710.8 360.9h.1M710.1 361.1h.1M700.1 362.8h.1M701.1 364.6h.1M704.6 364.6h.1M704.5 364.6h.1M703.4 365.3h.1M710.3 366.7h.1M700.7 365.8h.1M707.0 365.8h.1M708.0 367.4h.1M711.4 367.2h.1M711.0 369.6h.1M709.0 370.1h.1M707.7 369.5h.1M701.4 367.3h.1M706.9 370.6h.1M706.8 370.1h.1M709.3 371.7h.1M708.9 372.2h.1M709.6 372.2h.1M705.6 372.1h.1M706.7 372.6h.1M708.6 373.8h.1M709.1 375.1h.1M708.4 374.0h.1M708.2 375.0h.1M706.1 374.2h.1M703.9 373.8h.1M706.9 377.2h.1M705.5 377.0h.1M705.7 376.1h.1M703.1 376.3h.1M702.4 375.7h.1M703.6 376.1h.1M704.5 378.1h.1M702.9 377.1h.1M702.0 375.2h.1M704.7 379.8h.1M703.9 378.8h.1M701.7 377.3h.1M702.1 377.6h.1M701.3 378.1h.1M703.2 381.2h.1M702.7 380.5h.1M701.7 381.6h.1M695.5 373.1h.1M700.9 382.0h.1M697.5 375.5h.1M700.4 382.0h.1M700.7 382.3h.1M699.6 383.7h.1M699.2 384.2h.1M696.3 378.5h.1M696.9 381.0h.1M696.1 378.8h.1M696.4 384.9h.1M693.8 379.1h.1M696.1 382.9h.1M694.1 381.0h.1M695.6 384.7h.1M693.1 378.8h.1M694.5 383.2h.1M694.8 386.0h.1M693.2 380.2h.1M693.7 385.8h.1M694.2 385.9h.1M690.2 375.5h.1M693.3 385.9h.1M691.6 382.7h.1M691.4 386.4h.1M691.6 384.5h.1M690.0 383.5h.1M691.0 386.5h.1M689.5 384.7h.1M689.1 384.2h.1M689.5 384.5h.1M688.7 386.2h.1M688.1 382.6h.1M687.3 386.9h.1M686.9 377.9h.1M686.8 387.5h.1M686.1 384.7h.1M685.7 387.4h.1M685.7 385.3h.1M684.1 382.4h.1M684.9 387.8h.1M684.5 386.3h.1M682.3 377.6h.1M683.7 384.3h.1M682.6 382.4h.1M682.0 387.4h.1M682.2 387.2h.1M681.5 387.1h.1M680.3 384.0h.1M680.9 377.0h.1M681.0 385.9h.1M679.6 386.2h.1M679.8 379.1h.1M678.2 387.4h.1M678.0 386.5h.1M677.3 381.3h.1M677.0 385.3h.1M676.5 386.9h.1M676.6 385.4h.1M676.0 386.9h.1M675.5 380.9h.1M673.4 386.8h.1M673.8 384.6h.1M674.1 385.4h.1M672.8 384.0h.1M672.3 386.6h.1M673.6 380.0h.1M671.3 385.9h.1M672.0 383.0h.1M672.0 381.8h.1M669.8 385.7h.1M670.8 382.9h.1M668.1 384.7h.1M670.4 381.1h.1M668.3 382.6h.1M669.7 379.6h.1M671.4 376.0h.1M669.1 379.6h.1M666.9 380.8h.1M667.5 380.3h.1M670.3 378.6h.1M670.0 378.5h.1M665.0 381.9h.1M665.0 381.2h.1M666.2 380.3h.1M663.8 380.4h.1M663.4 379.4h.1M665.2 379.4h.1M663.7 378.4h.1M664.1 377.6h.1M665.5 375.7h.1M662.2 377.4h.1M663.4 377.1h.1M663.9 374.7h.1M663.4 375.0h.1M662.2 374.2h.1M668.8 370.9h.1M671.4 370.6h.1M664.0 372.8h.1M661.3 373.5h.1M661.6 372.9h.1M661.1 372.5h.1M660.1 373.5h.1M661.6 370.9h.1M664.4 369.9h.1M659.2 371.5h.1M659.3 371.9h.1M661.9 369.8h.1M659.2 370.2h.1M668.3 365.8h.1M660.8 368.4h.1M668.4 365.0h.1M662.4 366.5h.1M662.8 367.0h.1M659.9 367.8h.1M663.8 364.6h.1M658.3 366.9h.1M660.5 364.7h.1M661.1 364.3h.1M663.0 364.3h.1M660.5 363.1h.1M658.2 364.2h.1M656.6 365.5h.1M661.4 361.6h.1M656.4 362.9h.1M656.8 363.3h.1M660.3 360.7h.1M656.8 361.1h.1M655.6 361.6h.1M655.8 359.2h.1M659.4 358.4h.1M659.1 357.9h.1M655.1 359.2h.1M654.1 358.7h.1M656.3 357.4h.1M663.7 353.7h.1M657.1 356.2h.1M656.4 355.3h.1M654.7 356.1h.1M653.5 355.1h.1M657.7 353.6h.1M658.4 353.3h.1M653.7 354.2h.1M652.6 354.0h.1M652.2 353.5h.1M652.0 353.7h.1M652.3 353.5h.1M651.4 352.6h.1M651.5 351.6h.1M654.1 349.9h.1M661.1 347.2h.1M653.7 348.7h.1M651.5 349.9h.1M656.3 348.7h.1M651.2 349.6h.1M654.4 348.1h.1M649.7 348.8h.1M649.9 348.4h.1M650.7 347.1h.1M652.2 346.1h.1M649.2 347.0h.1M648.9 346.3h.1M649.0 345.8h.1M649.6 346.6h.1M650.4 344.2h.1M651.5 344.2h.1M656.9 342.1h.1M654.3 342.0h.1M651.0 342.8h.1M648.2 344.8h.1M648.2 343.3h.1M659.0 338.2h.1M648.3 342.5h.1M646.7 342.2h.1M651.6 338.8h.1M646.8 340.7h.1M655.6 338.0h.1M648.1 340.0h.1M645.8 340.0h.1M650.9 336.9h.1M646.9 338.9h.1M655.1 333.7h.1M648.2 337.3h.1M645.9 337.0h.1M647.1 336.5h.1M649.6 334.1h.1M653.6 331.8h.1M645.3 335.3h.1M648.4 333.5h.1M644.5 335.7h.1M645.4 334.6h.1M648.1 332.2h.1M652.5 329.8h.1M643.1 334.3h.1M643.1 333.6h.1M642.9 333.4h.1M646.1 331.4h.1M642.2 332.2h.1M649.8 329.3h.1M650.6 328.3h.1M642.0 331.4h.1M643.3 331.0h.1M642.7 329.6h.1M643.5 329.9h.1M644.7 329.9h.1M641.7 329.2h.1M643.3 328.2h.1M643.2 329.4h.1M645.2 327.0h.1M643.3 327.2h.1M641.8 327.7h.1M643.3 326.8h.1M641.5 327.1h.1M642.9 325.6h.1M643.3 325.6h.1M640.7 326.8h.1M639.6 326.3h.1M650.0 321.7h.1M639.5 324.7h.1M647.3 321.2h.1M639.1 325.3h.1M641.6 322.8h.1M640.3 323.8h.1M639.4 323.1h.1M642.8 321.1h.1M638.7 321.7h.1M637.6 321.6h.1M640.5 320.9h.1M638.8 320.5h.1M639.7 320.2h.1M639.1 320.2h.1M644.9 316.4h.1M636.8 319.5h.1M644.0 315.8h.1M640.3 317.8h.1M640.5 317.0h.1M642.1 314.7h.1M635.9 318.3h.1M639.0 316.9h.1M643.0 313.3h.1M637.2 315.8h.1M635.6 315.2h.1M635.5 316.2h.1M636.5 313.6h.1M635.6 314.3h.1M635.8 314.7h.1M636.2 312.6h.1M643.3 309.5h.1M637.4 313.2h.1M635.2 312.9h.1M638.1 310.8h.1M633.6 312.7h.1M633.9 312.5h.1M633.9 312.3h.1M633.2 310.6h.1M637.9 308.8h.1M634.2 310.7h.1M632.7 310.1h.1M635.7 308.5h.1M635.7 309.1h.1M636.3 306.7h.1M641.8 305.1h.1M638.0 306.9h.1M638.1 305.8h.1M638.8 304.9h.1M638.6 304.9h.1M638.1 304.4h.1M637.6 304.8h.1M631.1 306.3h.1M641.3 301.4h.1M631.0 305.0h.1M630.6 304.9h.1M637.2 303.0h.1M631.9 303.3h.1M630.0 304.0h.1M630.0 303.7h.1M630.2 303.2h.1M630.5 303.7h.1M629.1 302.1h.1M633.0 301.1h.1M630.6 302.0h.1M629.5 301.1h.1M632.8 299.4h.1M632.2 299.5h.1M637.7 296.5h.1M632.2 299.1h.1M637.8 295.6h.1M629.8 298.3h.1M630.8 298.7h.1M631.4 296.7h.1M627.6 298.2h.1M632.5 296.0h.1M628.4 296.6h.1M637.5 293.0h.1M630.3 295.3h.1M630.1 294.5h.1M628.8 294.7h.1M634.3 292.7h.1M628.9 294.3h.1M630.4 293.2h.1M627.6 294.2h.1M634.8 290.2h.1M627.6 292.0h.1M626.1 293.3h.1M626.1 292.2h.1M625.1 292.2h.1M625.2 291.1h.1M628.9 290.2h.1M633.5 287.7h.1M626.1 289.4h.1M626.1 289.2h.1M627.4 289.6h.1M633.2 286.0h.1M626.1 288.0h.1M626.2 288.9h.1M624.4 287.3h.1M624.2 287.3h.1M625.2 286.1h.1M623.5 286.4h.1M623.5 286.7h.1M623.1 286.3h.1M626.1 285.0h.1M628.2 282.6h.1M622.7 284.6h.1M623.1 285.3h.1M624.6 283.2h.1M622.2 283.4h.1M628.3 280.5h.1M625.9 281.5h.1M632.8 276.8h.1M625.7 280.2h.1M629.7 277.4h.1M622.3 280.6h.1M620.4 279.6h.1M620.2 279.5h.1M627.8 275.4h.1M620.2 278.4h.1M620.4 277.2h.1M622.0 276.7h.1M625.3 274.1h.1M620.3 276.6h.1M623.3 275.0h.1M629.2 271.7h.1M619.9 275.0h.1M628.9 271.2h.1M618.8 274.6h.1M620.7 272.4h.1M617.7 273.3h.1M621.0 272.2h.1M626.9 269.2h.1M623.0 269.4h.1M620.9 269.8h.1M622.4 268.3h.1M619.7 269.5h.1M619.8 269.1h.1M619.4 267.8h.1M622.2 266.8h.1M616.4 268.8h.1M621.7 266.6h.1M620.1 267.4h.1M620.4 266.3h.1M621.9 265.3h.1M618.1 266.3h.1M616.6 266.4h.1M615.2 266.5h.1M620.5 264.3h.1M620.3 264.3h.1M617.4 263.9h.1M622.2 262.8h.1M617.0 263.8h.1M623.2 260.6h.1M614.5 264.3h.1M614.8 263.1h.1M616.0 262.4h.1M615.1 263.0h.1M614.5 262.1h.1M616.3 260.9h.1M616.1 260.6h.1M613.6 260.8h.1M613.4 260.7h.1M618.4 259.5h.1M614.7 259.8h.1M615.5 259.3h.1M620.0 257.9h.1M619.6 256.5h.1M613.1 259.4h.1M614.7 258.3h.1M613.7 257.3h.1M612.6 258.4h.1M613.1 255.8h.1M612.1 257.3h.1M611.9 256.1h.1M612.7 254.9h.1M617.1 252.3h.1M615.1 253.2h.1M614.9 253.9h.1M619.4 250.2h.1M613.3 252.7h.1M611.9 253.6h.1M611.7 252.6h.1M615.4 250.4h.1M611.6 251.2h.1M614.3 249.5h.1M613.3 249.1h.1M609.3 250.6h.1M609.4 250.1h.1M609.1 249.2h.1M610.0 249.8h.1M612.5 247.6h.1M611.1 248.5h.1M609.1 247.2h.1M612.8 246.7h.1M614.2 245.1h.1M608.1 246.5h.1M612.4 244.6h.1M608.6 245.6h.1M612.7 244.2h.1M609.1 244.3h.1M607.7 244.9h.1M610.1 243.0h.1M611.5 242.6h.1M609.6 242.7h.1M609.5 241.7h.1M606.8 243.3h.1M607.6 242.6h.1M608.6 240.7h.1M606.3 240.7h.1M609.1 240.3h.1M608.7 239.4h.1M607.2 239.2h.1M609.3 238.8h.1M609.2 237.7h.1M605.5 238.5h.1M606.9 238.9h.1M610.3 236.6h.1M612.4 235.2h.1M605.2 237.5h.1M606.1 236.8h.1M606.2 236.2h.1M607.0 234.6h.1M610.1 234.0h.1M604.2 235.4h.1M605.3 234.1h.1M606.2 234.2h.1M604.4 234.3h.1M613.3 231.1h.1M610.6 231.0h.1M606.2 233.0h.1M603.1 232.5h.1M604.6 232.9h.1M609.3 229.5h.1M606.5 231.1h.1M607.5 230.5h.1M603.4 230.8h.1M605.7 229.9h.1M604.4 230.1h.1M602.1 229.8h.1M605.9 228.4h.1M611.8 225.5h.1M602.9 228.0h.1M604.1 227.2h.1M601.8 227.4h.1M602.0 227.3h.1M605.4 225.1h.1M602.6 226.1h.1M603.4 225.4h.1M601.2 225.9h.1M600.7 225.5h.1M602.8 223.4h.1M601.2 224.2h.1M601.2 222.7h.1M601.7 223.3h.1M603.0 223.0h.1M600.1 222.7h.1M605.4 220.2h.1M599.8 222.3h.1M602.5 220.1h.1M603.4 219.8h.1M604.6 220.3h.1M599.6 220.7h.1M598.9 220.3h.1M598.9 220.3h.1M603.3 218.1h.1M602.0 218.9h.1M600.7 219.2h.1M607.1 215.8h.1M600.2 218.6h.1M601.3 217.6h.1M602.9 216.5h.1M598.5 216.2h.1M599.7 216.7h.1M599.8 214.6h.1M599.6 215.5h.1M603.0 214.2h.1M598.4 214.8h.1M597.5 214.6h.1M596.9 213.5h.1M603.1 211.5h.1M601.6 211.2h.1M596.4 213.0h.1M601.2 211.7h.1M596.3 212.4h.1M596.5 212.5h.1M597.6 211.5h.1M606.6 207.0h.1M598.5 210.6h.1M599.5 210.4h.1M597.1 209.0h.1M599.4 208.5h.1M597.3 208.2h.1M595.7 209.3h.1M595.4 208.6h.1M604.0 205.5h.1M595.8 208.0h.1M601.2 205.8h.1M600.9 204.7h.1M600.3 205.2h.1M598.2 204.8h.1M595.9 205.4h.1M601.7 203.5h.1M595.9 203.8h.1M595.4 204.8h.1M595.3 203.5h.1M597.1 203.4h.1M595.5 201.8h.1M593.6 203.1h.1M594.1 202.5h.1M594.7 201.8h.1M593.2 201.8h.1M593.2 201.9h.1M593.9 200.4h.1M600.0 197.6h.1M597.5 199.5h.1M594.6 199.2h.1M596.7 197.7h.1M592.2 197.9h.1M600.1 195.6h.1M592.0 199.0h.1M596.9 195.7h.1M595.1 196.4h.1M600.3 193.6h.1M593.5 195.2h.1M595.6 195.2h.1M591.7 195.4h.1M590.8 195.7h.1M591.8 193.9h.1M594.0 193.3h.1M590.5 193.5h.1M590.0 193.3h.1M590.2 193.6h.1M591.7 191.7h.1M596.0 190.0h.1M592.1 190.8h.1M598.5 187.4h.1M594.6 188.7h.1M592.3 190.4h.1M589.3 189.7h.1M590.7 188.8h.1M588.9 188.8h.1M592.8 188.1h.1M591.3 188.5h.1M599.0 184.9h.1M589.8 187.5h.1M594.5 185.1h.1M593.6 184.8h.1M587.8 187.0h.1M588.0 185.7h.1M587.3 186.0h.1M590.4 185.1h.1M589.7 184.1h.1M591.7 182.8h.1M596.7 180.1h.1M587.4 183.1h.1M587.6 182.0h.1M590.7 181.9h.1M587.8 182.2h.1M590.8 180.6h.1M594.2 179.2h.1M590.0 180.8h.1M587.7 179.6h.1M588.3 180.4h.1M588.1 180.4h.1M590.8 178.4h.1M587.7 179.0h.1M586.8 178.1h.1M589.3 176.6h.1M585.4 178.3h.1M592.8 175.6h.1M592.5 175.4h.1M596.7 172.7h.1M588.3 174.2h.1M588.3 173.7h.1M585.0 174.1h.1M585.7 174.5h.1M587.1 172.5h.1M586.3 172.8h.1" fill="none" stroke="#505050" stroke-width="1.5" stroke-linecap="round" opacity="0.75"/></g>
<path d="M591.1,167.2L594.9,168.2M593.2,164.2L596.5,165.9M596.2,161.7L598.9,163.9M599.9,159.7L601.8,162.4M604.1,158.5L605.1,161.4M608.6,158.0L608.7,161.0M613.1,158.3L612.2,161.3M617.4,159.4L615.6,162.1M621.2,161.3L618.6,163.6" stroke="#333" stroke-width="1.3" fill="none"/>
<g clip-path="url(#balc)"><path d="M612.5,191.0 622.7,188.0 645.3,204.0 640.2,230.0 629.3,234.7 609.6,218.0Z M629.3,234.7 640.2,230.0 662.0,244.2 657.7,269.0 646.0,274.0 626.4,261.0Z M646.0,276.0 658.0,272.0 677.0,284.0 673.0,311.0 666.0,314.0 645.0,301.0Z M666.0,314.0 673.0,311.0 691.0,323.0 688.0,349.0 678.0,354.0 661.0,341.0Z M622.7,188.0 630.0,160.0 M612.5,191.0 586.0,178.0 M609.6,218.0 592.0,219.5 M645.3,204.0 655.0,207.0 M626.4,261.0 607.0,265.0 M663.0,245.0 673.0,249.0 M645.0,301.0 628.0,304.0 M677.0,284.0 688.0,288.0 M661.0,341.0 645.0,345.0 M691.0,323.0 703.0,328.0 M688.0,349.0 712.0,361.0 M678.0,354.0 671.0,384.0 M651.0,344.0 662.0,384.0" fill="none" stroke="#5e0636" stroke-width="4.6" stroke-linejoin="round" stroke-linecap="round"/><path d="M612.5,191.0 622.7,188.0 645.3,204.0 640.2,230.0 629.3,234.7 609.6,218.0Z M629.3,234.7 640.2,230.0 662.0,244.2 657.7,269.0 646.0,274.0 626.4,261.0Z M646.0,276.0 658.0,272.0 677.0,284.0 673.0,311.0 666.0,314.0 645.0,301.0Z M666.0,314.0 673.0,311.0 691.0,323.0 688.0,349.0 678.0,354.0 661.0,341.0Z M622.7,188.0 630.0,160.0 M612.5,191.0 586.0,178.0 M609.6,218.0 592.0,219.5 M645.3,204.0 655.0,207.0 M626.4,261.0 607.0,265.0 M663.0,245.0 673.0,249.0 M645.0,301.0 628.0,304.0 M677.0,284.0 688.0,288.0 M661.0,341.0 645.0,345.0 M691.0,323.0 703.0,328.0 M688.0,349.0 712.0,361.0 M678.0,354.0 671.0,384.0 M651.0,344.0 662.0,384.0" fill="none" stroke="#c0136f" stroke-width="3" stroke-linejoin="round" stroke-linecap="round"/></g>
<path d="M583.0,173.0 584.4,170.2 585.7,167.3 586.9,164.4 588.3,161.6 590.0,159.1 592.0,157.0 594.5,155.3 597.5,154.0 600.7,152.9 604.0,152.1 607.1,151.5 610.0,151.0 612.6,150.7 615.1,150.7 617.6,150.8 619.9,151.1 622.0,151.5 624.0,152.0 625.8,152.5 627.4,152.9 628.9,153.4 630.3,154.2 631.6,155.4 633.0,157.0 634.4,159.2 635.7,161.8 636.9,164.8 638.2,168.0 639.6,171.4 641.0,175.0 642.4,178.5 643.8,181.9 645.3,185.5 646.9,189.6 648.7,194.3 651.0,200.0 653.7,206.9 656.9,214.8 660.3,223.4 663.9,232.4 667.4,241.4 670.7,250.0 673.9,258.4 677.0,267.0 680.1,275.6 683.1,284.1 686.1,292.2 689.0,300.0 691.9,307.5 694.8,315.0 697.7,322.2 700.4,328.9 702.9,334.9 705.0,340.0 706.8,343.9 708.3,346.8 709.5,348.9 710.5,350.8 711.3,352.7 712.0,355.0 712.5,357.8 713.0,360.7 713.2,363.6 713.1,366.6 712.8,369.4 712.0,372.0 710.8,374.5 709.1,377.0 707.1,379.3 704.9,381.5 702.5,383.4 700.0,385.0 697.3,386.3 694.3,387.3 691.1,388.0 687.9,388.5 684.8,388.8 682.0,389.0 679.4,389.0 676.8,388.7 674.3,388.2 672.0,387.6 669.9,386.9 668.0,386.0 666.5,385.2 665.3,384.4 664.4,383.6 663.4,382.3 662.4,380.5 661.0,378.0 659.4,374.7 657.7,371.0 655.9,366.6 653.9,361.7 651.6,356.2 649.0,350.0 645.9,342.9 642.3,335.0 638.4,326.4 634.5,317.5 630.6,308.6 627.0,300.0 623.6,291.7 620.4,283.3 617.2,275.0 614.1,266.7 611.0,258.3 608.0,250.0 604.9,241.3 601.8,232.1 598.7,223.0 595.8,214.3 593.2,206.5 591.0,200.0 589.3,195.0 588.0,191.3 587.1,188.4 586.3,186.1 585.6,184.1 585.0,182.0 584.4,180.0 584.0,178.3 583.8,176.9 583.5,175.7 583.3,174.4 583.0,173.0Z" fill="none" stroke="#151215" stroke-width="2.8"/>
<path d="M553.0,-3.0 555.4,7.5 557.9,18.4 560.5,29.6 563.0,40.7 565.5,51.8 568.0,62.6 570.4,73.0 572.7,82.8 574.9,91.8 577.0,100.0 579.0,107.3 580.9,114.1 582.8,120.3 584.6,125.9 586.3,131.1 587.9,135.7 589.4,139.9 590.8,143.7 592.0,147.0 593.0,150.0 593.8,152.4 594.4,154.0 594.9,155.0 595.1,155.6 595.3,155.8 595.4,155.7 595.5,155.6 595.6,155.5 595.8,155.6 596.0,156.0 L607.0,152.0 607.0,152.0 607.0,152.4 607.1,152.9 607.2,153.5 607.3,154.0 607.3,154.3 607.3,154.1 607.0,153.5 606.6,152.1 606.0,150.0 605.2,147.2 604.2,143.9 603.2,140.2 602.0,136.0 600.6,131.3 599.2,126.1 597.6,120.4 595.8,114.2 594.0,107.4 592.0,100.0 589.8,91.8 587.4,82.8 584.9,73.0 582.1,62.6 579.3,51.8 576.4,40.7 573.5,29.6 570.6,18.4 567.8,7.5 565.0,-3.0Z" fill="#c8a2b5"/>
<path d="M559.0,-3.0 561.6,7.5 564.3,18.4 567.0,29.6 569.7,40.7 572.4,51.8 575.1,62.6 577.6,73.0 580.1,82.8 582.4,91.8 584.5,100.0 586.5,107.4 588.4,114.1 590.2,120.3 591.9,126.0 593.5,131.2 594.9,135.9 596.3,140.1 597.5,143.8 598.6,147.1 599.5,150.0 600.2,152.3 600.7,153.7 601.1,154.6 601.2,154.9 601.3,154.9 601.3,154.6 601.3,154.2 601.3,153.9 601.4,153.8 601.5,154.0" fill="none" stroke="#e2c8d5" stroke-width="2.5"/>
<path d="M553.0,-3.0 555.4,7.5 557.9,18.4 560.5,29.6 563.0,40.7 565.5,51.8 568.0,62.6 570.4,73.0 572.7,82.8 574.9,91.8 577.0,100.0 579.0,107.3 580.9,114.1 582.8,120.3 584.6,125.9 586.3,131.1 587.9,135.7 589.4,139.9 590.8,143.7 592.0,147.0 593.0,150.0 593.8,152.4 594.4,154.0 594.9,155.0 595.1,155.6 595.3,155.8 595.4,155.7 595.5,155.6 595.6,155.5 595.8,155.6 596.0,156.0" fill="none" stroke="#151215" stroke-width="2.6"/>
<path d="M565.0,-3.0 567.8,7.5 570.6,18.4 573.5,29.6 576.4,40.7 579.3,51.8 582.1,62.6 584.9,73.0 587.4,82.8 589.8,91.8 592.0,100.0 594.0,107.4 595.8,114.2 597.6,120.4 599.2,126.1 600.6,131.3 602.0,136.0 603.2,140.2 604.2,143.9 605.2,147.2 606.0,150.0 606.6,152.1 607.0,153.5 607.3,154.1 607.3,154.3 607.3,154.0 607.2,153.5 607.1,152.9 607.0,152.4 607.0,152.0 607.0,152.0" fill="none" stroke="#151215" stroke-width="2.6"/>
<path d="M694,389 L707,418 Q713,426 719,416 L707,388" fill="#c8a2b5" stroke="#151215" stroke-width="2.4"/>
<path d="M714,422 L746.5,488 L742.5,499" fill="none" stroke="#151215" stroke-width="2.8"/>
<path d="M857.5,-3.0 857.6,-2.8 857.6,-2.7 857.6,-2.6 857.6,-2.6 857.6,-2.6 857.6,-2.4 857.7,-2.1 857.9,-1.7 858.1,-1.0 858.5,0.0 859.0,1.3 859.6,2.8 860.2,4.4 860.9,6.3 861.7,8.3 862.6,10.5 863.4,12.7 864.3,15.1 865.1,17.5 866.0,20.0 866.8,22.5 867.7,25.0 868.5,27.6 869.4,30.3 870.3,33.1 871.2,36.1 872.2,39.2 873.1,42.6 874.2,46.1 875.3,50.0 876.5,54.2 877.8,58.7 879.1,63.5 880.5,68.6 881.9,73.8 883.3,79.0 884.7,84.4 886.1,89.7 887.4,94.9 888.7,100.0 889.9,105.0 891.0,110.0 892.0,115.0 893.0,120.0 894.0,125.0 895.0,130.0 896.1,135.0 897.3,140.0 898.6,145.0 900.0,150.0 901.6,155.0 903.3,160.0 905.2,165.0 907.1,170.0 909.1,175.0 911.1,180.0 913.1,185.0 915.1,190.0 917.1,195.0 919.0,200.0 920.9,205.0 922.7,210.0 924.5,215.0 926.3,220.0 928.1,225.0 929.9,230.0 931.7,235.0 933.6,240.0 935.4,245.0 937.3,250.0 939.2,255.0 941.1,260.0 943.1,265.0 945.1,270.0 947.0,275.0 949.0,280.0 951.0,285.0 953.0,290.0 955.0,295.0 957.0,300.0 959.0,305.0 961.0,310.0 963.1,315.0 965.2,320.0 967.2,325.0 969.3,330.0 971.3,335.0 973.3,340.0 975.3,345.0 977.3,350.0 979.2,355.0 981.1,360.0 983.0,365.0 984.8,370.0 986.6,375.0 988.5,380.0 990.3,385.0 992.2,390.0 994.1,395.0 996.0,400.0 998.0,405.0 1000.0,410.0 1002.0,415.0 1004.1,420.0 1006.2,425.0 1008.3,430.0 1010.4,435.0 1012.5,440.0 1014.6,445.0 1016.7,450.0 1018.8,455.0 1020.9,459.9 1022.9,464.8 1025.0,469.7 1027.1,474.6 1029.2,479.5 1031.3,484.5 1033.5,489.6 1035.7,494.7 1038.0,500.0 1040.4,505.4 1042.8,511.0 1045.2,516.6 1047.7,522.3 1050.3,528.1 1052.8,533.9 1055.4,539.7 1057.9,545.5 1060.5,551.3 1063.0,557.0 L1137.0,557.0 1134.0,551.3 1130.9,545.5 1127.7,539.7 1124.6,533.9 1121.4,528.1 1118.4,522.3 1115.3,516.6 1112.4,511.0 1109.6,505.4 1107.0,500.0 1104.5,494.7 1102.3,489.6 1100.1,484.5 1098.1,479.5 1096.1,474.6 1094.2,469.7 1092.2,464.8 1090.2,459.9 1088.2,455.0 1086.0,450.0 1083.7,445.0 1081.4,440.0 1079.0,435.0 1076.6,430.0 1074.1,425.0 1071.7,420.0 1069.2,415.0 1066.8,410.0 1064.4,405.0 1062.0,400.0 1059.7,395.0 1057.3,390.0 1055.0,385.0 1052.7,380.0 1050.4,375.0 1048.1,370.0 1045.9,365.0 1043.7,360.0 1041.5,355.0 1039.3,350.0 1037.2,345.0 1035.1,340.0 1033.0,335.0 1030.9,330.0 1028.9,325.0 1026.9,320.0 1024.9,315.0 1022.9,310.0 1020.9,305.0 1019.0,300.0 1017.1,295.0 1015.3,290.0 1013.5,285.0 1011.7,280.0 1009.9,275.0 1008.2,270.0 1006.4,265.0 1004.5,260.0 1002.7,255.0 1000.7,250.0 998.7,245.0 996.5,240.0 994.4,235.0 992.2,230.0 989.9,225.0 987.7,220.0 985.5,215.0 983.3,210.0 981.1,205.0 979.0,200.0 976.9,195.0 974.8,190.0 972.7,185.0 970.6,180.0 968.5,175.0 966.5,170.0 964.6,165.0 962.7,160.0 960.9,155.0 959.3,150.0 957.8,144.9 956.4,139.6 955.0,134.2 953.8,128.8 952.6,123.4 951.5,118.2 950.4,113.2 949.4,108.4 948.3,104.0 947.3,100.0 946.3,96.4 945.2,93.2 944.2,90.3 943.2,87.7 942.3,85.3 941.4,83.1 940.6,81.0 939.8,79.0 939.1,77.0 938.5,75.0 938.0,73.1 937.6,71.4 937.3,69.9 937.1,68.5 936.9,67.2 936.7,65.9 936.6,64.6 936.4,63.2 936.2,61.7 936.0,60.0 935.7,58.2 935.5,56.3 935.2,54.4 935.0,52.4 934.8,50.3 934.5,48.2 934.2,46.2 933.8,44.1 933.4,42.0 933.0,40.0 932.5,38.0 931.8,36.0 931.1,34.0 930.4,32.0 929.6,30.0 928.9,28.0 928.2,26.0 927.5,24.0 926.9,22.0 926.5,20.0 926.2,17.9 925.9,15.7 925.8,13.5 925.7,11.2 925.6,8.9 925.6,6.8 925.6,4.8 925.6,2.9 925.5,1.3 925.5,0.0 925.4,-1.0 925.4,-1.7 925.4,-2.1 925.4,-2.4 925.3,-2.6 925.3,-2.6 925.3,-2.6 925.3,-2.7 925.3,-2.8 925.3,-3.0Z" fill="#fad5e5"/>
<g clip-path="url(#lum12)"><path d="M858.6 -3.7h.1M860.7 -3.5h.1M859.6 -3.3h.1M860.6 -4.2h.1M860.4 -3.9h.1M863.7 -4.1h.1M860.6 -3.6h.1M859.3 -3.3h.1M859.8 -3.2h.1M861.6 -3.5h.1M861.8 -2.9h.1M859.7 -3.3h.1M863.2 -2.1h.1M863.2 -1.8h.1M865.4 -1.9h.1M868.7 -0.5h.1M860.6 -2.1h.1M860.7 -2.2h.1M863.7 -2.2h.1M858.9 -2.8h.1M860.2 -2.8h.1M864.7 -4.2h.1M863.0 -3.5h.1M862.7 -3.3h.1M859.0 -2.7h.1M860.3 -3.2h.1M865.0 -5.0h.1M861.3 -3.2h.1M862.3 -3.1h.1M859.1 -2.7h.1M863.9 -4.5h.1M859.6 -2.5h.1M863.8 -3.5h.1M865.3 -4.9h.1M859.4 -2.0h.1M860.3 -2.8h.1M861.3 -1.5h.1M863.1 -2.7h.1M860.1 -1.3h.1M861.2 -1.5h.1M860.8 -2.1h.1M864.2 -2.0h.1M859.6 -0.9h.1M861.1 -0.7h.1M861.0 -1.1h.1M865.6 -1.5h.1M871.5 -3.0h.1M863.1 -0.2h.1M864.1 -1.3h.1M864.8 0.8h.1M866.6 0.0h.1M861.8 1.4h.1M861.8 1.7h.1M862.0 1.9h.1M863.5 3.4h.1M861.9 3.2h.1M865.4 2.8h.1M865.8 2.0h.1M867.8 3.2h.1M865.6 4.3h.1M869.6 2.3h.1M865.1 4.4h.1M864.5 6.7h.1M864.6 6.2h.1M865.8 5.3h.1M865.6 6.2h.1M866.5 6.0h.1M863.9 7.5h.1M869.8 5.1h.1M868.5 5.8h.1M864.6 8.3h.1M863.5 9.2h.1M865.9 8.4h.1M863.6 8.8h.1M869.3 6.3h.1M868.6 7.8h.1M865.6 9.2h.1M865.4 8.8h.1M871.6 7.1h.1M864.3 10.9h.1M864.6 10.7h.1M869.1 9.6h.1M864.3 11.4h.1M864.0 10.6h.1M867.9 11.5h.1M864.9 12.6h.1M866.1 12.2h.1M869.7 10.3h.1M867.7 11.0h.1M868.0 11.8h.1M867.1 12.4h.1M866.7 13.0h.1M866.0 12.9h.1M871.0 13.3h.1M867.5 13.8h.1M867.0 14.3h.1M868.2 13.1h.1M867.2 15.6h.1M878.6 10.9h.1M875.9 12.1h.1M868.2 14.8h.1M869.9 15.9h.1M866.7 17.3h.1M868.2 15.9h.1M868.1 17.0h.1M867.8 17.5h.1M866.8 18.0h.1M874.1 15.2h.1M870.5 16.5h.1M872.1 18.4h.1M868.1 18.8h.1M873.0 18.0h.1M868.2 19.5h.1M879.7 16.4h.1M870.9 19.5h.1M869.9 20.4h.1M867.9 20.5h.1M869.4 20.0h.1M873.9 20.3h.1M870.7 21.4h.1M869.2 22.0h.1M868.8 22.4h.1M870.6 22.8h.1M870.5 22.9h.1M868.7 23.3h.1M870.3 23.2h.1M868.8 23.7h.1M869.9 24.1h.1M869.5 24.8h.1M873.0 23.0h.1M872.9 23.0h.1M873.9 22.4h.1M876.7 23.5h.1M869.8 26.1h.1M873.4 24.0h.1M869.6 25.4h.1M871.1 25.4h.1M871.9 26.6h.1M873.9 26.5h.1M878.4 24.5h.1M871.2 26.3h.1M872.3 28.0h.1M870.5 28.5h.1M877.4 26.7h.1M877.0 26.8h.1M872.3 27.9h.1M872.3 28.8h.1M877.5 28.0h.1M874.1 28.4h.1M870.8 30.0h.1M875.1 29.9h.1M877.1 29.9h.1M871.1 31.3h.1M875.8 30.9h.1M874.0 32.6h.1M873.0 31.8h.1M874.1 31.5h.1M874.0 32.4h.1M875.8 32.4h.1M875.3 32.7h.1M873.5 33.0h.1M873.7 32.5h.1M876.3 32.5h.1M876.6 33.3h.1M874.6 33.4h.1M872.3 35.1h.1M873.3 34.7h.1M879.2 33.1h.1M872.9 35.5h.1M872.5 35.1h.1M874.0 34.7h.1M872.8 36.9h.1M877.0 34.9h.1M872.7 36.4h.1M877.5 34.8h.1M873.3 36.9h.1M873.2 37.3h.1M874.7 37.3h.1M874.9 37.6h.1M877.5 36.7h.1M876.6 36.5h.1M881.5 36.3h.1M876.6 38.2h.1M877.6 37.1h.1M873.4 38.6h.1M875.8 37.9h.1M874.0 39.5h.1M875.7 38.9h.1M879.7 38.3h.1M881.6 37.3h.1M880.2 39.1h.1M877.6 40.6h.1M875.8 40.0h.1M878.1 39.6h.1M877.7 40.6h.1M874.8 42.6h.1M875.7 41.5h.1M876.7 41.2h.1M877.2 41.0h.1M879.6 41.2h.1M875.6 43.0h.1M876.4 42.4h.1M877.0 42.3h.1M881.3 41.1h.1M879.4 43.4h.1M876.3 44.3h.1M878.1 44.2h.1M875.5 44.5h.1M875.9 43.9h.1M876.4 45.9h.1M875.9 45.2h.1M876.6 46.0h.1M883.0 43.9h.1M876.6 45.9h.1M884.3 44.2h.1M882.5 44.2h.1M884.9 43.8h.1M882.8 44.8h.1M875.7 46.6h.1M879.9 46.1h.1M877.8 47.8h.1M880.4 46.4h.1M877.1 47.9h.1M878.4 48.2h.1M882.7 47.1h.1M879.3 48.2h.1M880.9 47.1h.1M880.8 48.1h.1M879.2 48.8h.1M877.7 48.9h.1M881.0 48.1h.1M878.2 50.8h.1M877.4 50.0h.1M887.8 47.6h.1M878.0 50.8h.1M879.4 51.2h.1M877.2 52.3h.1M879.2 51.3h.1M882.8 50.3h.1M877.2 52.0h.1M882.5 50.9h.1M877.8 52.3h.1M880.3 52.0h.1M878.7 54.2h.1M879.4 52.7h.1M878.1 55.0h.1M886.0 52.2h.1M880.7 54.6h.1M880.8 54.7h.1M886.3 52.2h.1M878.9 56.0h.1M881.6 54.7h.1M880.0 56.1h.1M879.0 56.6h.1M882.5 56.5h.1M880.5 56.9h.1M879.7 57.0h.1M879.7 58.5h.1M881.5 58.2h.1M880.3 57.9h.1M883.4 57.5h.1M882.2 58.1h.1M880.9 59.7h.1M881.9 59.1h.1M879.3 59.6h.1M881.8 59.4h.1M880.3 59.4h.1M883.7 59.7h.1M880.3 60.3h.1M882.5 59.4h.1M883.2 60.2h.1M880.8 62.3h.1M884.0 61.4h.1M880.9 61.2h.1M884.0 61.3h.1M880.8 62.9h.1M883.5 62.9h.1M881.8 62.4h.1M884.4 62.4h.1M890.1 61.8h.1M881.9 63.8h.1M880.8 64.0h.1M882.0 63.6h.1M882.6 64.5h.1M882.3 65.1h.1M883.9 64.8h.1M885.9 64.1h.1M888.9 63.5h.1M882.0 66.1h.1M884.5 64.9h.1M883.9 64.8h.1M882.2 66.1h.1M884.3 67.0h.1M881.3 66.7h.1M882.6 67.3h.1M882.9 66.7h.1M887.6 67.1h.1M884.3 67.4h.1M883.2 67.3h.1M883.4 67.2h.1M882.0 69.3h.1M883.6 69.0h.1M889.4 67.8h.1M883.5 68.9h.1M893.6 66.7h.1M882.9 70.7h.1M884.7 69.3h.1M889.4 68.8h.1M883.4 70.1h.1M883.9 70.3h.1M883.4 70.6h.1M883.3 71.2h.1M887.4 70.0h.1M889.6 69.3h.1M885.0 70.6h.1M884.9 71.7h.1M893.9 69.3h.1M883.0 72.8h.1M887.3 71.0h.1M883.6 73.1h.1M884.0 73.2h.1M887.4 72.4h.1M885.1 73.3h.1M884.4 72.6h.1M883.7 74.6h.1M883.6 74.8h.1M885.3 74.1h.1M888.4 73.3h.1M894.1 71.4h.1M894.2 72.9h.1M884.2 75.5h.1M884.5 75.3h.1M891.4 73.1h.1M887.0 75.4h.1M885.9 76.6h.1M887.7 76.1h.1M889.2 75.7h.1M885.1 76.0h.1M888.4 76.4h.1M884.9 77.2h.1M885.2 77.3h.1M887.1 77.5h.1M886.9 77.5h.1M886.9 77.6h.1M887.1 77.8h.1M884.4 78.6h.1M884.7 78.7h.1M886.6 77.7h.1M886.2 79.6h.1M885.1 79.6h.1M887.4 78.7h.1M885.1 79.3h.1M891.6 78.2h.1M888.0 80.0h.1M886.4 80.5h.1M885.8 81.2h.1M887.1 80.0h.1M891.9 79.6h.1M893.3 79.9h.1M886.6 81.0h.1M889.0 81.0h.1M893.3 80.0h.1M889.9 82.4h.1M887.5 83.1h.1M888.6 81.9h.1M892.0 81.6h.1M886.6 82.7h.1M890.6 83.1h.1M886.7 83.4h.1M888.6 83.3h.1M887.0 84.3h.1M890.3 83.7h.1M891.1 83.4h.1M889.2 84.5h.1M888.0 85.2h.1M887.4 86.3h.1M888.0 85.6h.1M888.9 85.3h.1M886.8 85.9h.1M888.0 85.6h.1M894.4 84.8h.1M891.4 86.3h.1M891.9 86.3h.1M888.3 86.6h.1M889.0 87.7h.1M890.1 87.0h.1M887.5 88.3h.1M890.2 87.8h.1M887.3 88.6h.1M887.2 89.0h.1M891.0 88.7h.1M894.7 87.9h.1M894.9 87.0h.1M891.3 89.2h.1M896.3 88.6h.1M892.9 89.6h.1M888.8 90.6h.1M890.6 90.1h.1M888.1 91.9h.1M891.2 90.2h.1M890.2 90.7h.1M897.8 88.7h.1M888.0 92.0h.1M891.7 91.1h.1M894.6 90.7h.1M889.0 92.4h.1M894.5 91.0h.1M888.4 92.6h.1M896.7 91.8h.1M891.8 93.1h.1M889.8 93.4h.1M900.6 90.0h.1M888.9 94.9h.1M893.0 93.1h.1M893.0 93.9h.1M890.9 93.6h.1M896.3 93.6h.1M894.9 93.7h.1M890.3 95.6h.1M893.0 94.2h.1M895.0 95.8h.1M895.5 95.2h.1M890.4 96.2h.1M896.0 95.5h.1M900.8 93.9h.1M893.6 96.2h.1M892.7 96.3h.1M890.7 97.4h.1M898.3 95.9h.1M891.8 97.8h.1M889.6 98.6h.1M890.7 98.5h.1M892.8 97.8h.1M891.2 99.3h.1M891.9 98.9h.1M890.9 99.0h.1M899.0 97.8h.1M890.3 100.9h.1M895.5 99.9h.1M894.1 99.3h.1M894.0 99.7h.1M894.2 100.8h.1M891.2 102.0h.1M892.9 100.9h.1M892.4 101.4h.1M895.1 101.8h.1M893.3 102.3h.1M892.1 102.9h.1M891.0 103.5h.1M892.1 104.0h.1M894.4 103.1h.1M894.2 103.5h.1M893.3 102.8h.1M894.7 104.0h.1M902.1 102.6h.1M896.5 103.7h.1M891.5 104.2h.1M892.0 105.8h.1M899.2 104.1h.1M896.3 104.5h.1M893.0 105.5h.1M891.9 105.9h.1M901.0 105.0h.1M895.9 105.7h.1M894.5 106.3h.1M895.0 105.7h.1M893.8 107.4h.1M894.0 107.1h.1M894.5 107.6h.1M899.6 106.5h.1M895.5 106.3h.1M899.3 107.0h.1M894.1 108.1h.1M897.2 108.0h.1M900.8 106.6h.1M895.2 108.7h.1M894.8 108.9h.1M892.8 109.0h.1M895.3 108.6h.1M896.8 109.6h.1M899.0 109.9h.1M896.3 109.6h.1M900.1 109.2h.1M893.5 110.3h.1M899.1 110.1h.1M894.9 110.8h.1M893.1 111.6h.1M894.3 111.2h.1M892.8 112.2h.1M892.8 112.6h.1M893.9 112.8h.1M894.1 112.0h.1M895.3 112.8h.1M898.6 112.1h.1M894.1 113.8h.1M897.4 112.8h.1M894.7 112.9h.1M895.4 113.2h.1M894.1 114.3h.1M894.5 114.6h.1M895.8 114.5h.1M895.0 114.3h.1M901.6 113.9h.1M898.6 115.1h.1M899.9 114.7h.1M900.6 114.1h.1M897.4 114.5h.1M895.5 116.5h.1M894.6 116.7h.1M897.1 115.5h.1M893.9 117.2h.1M893.7 116.7h.1M895.1 117.8h.1M895.5 116.9h.1M896.5 117.0h.1M895.0 118.0h.1M894.6 118.0h.1M897.5 117.7h.1M901.6 116.9h.1M894.9 119.0h.1M904.0 116.2h.1M896.7 118.7h.1M902.4 117.6h.1M899.7 118.6h.1M895.3 120.1h.1M900.7 118.8h.1M894.9 120.7h.1M903.0 119.1h.1M901.0 119.2h.1M897.0 120.1h.1M895.9 121.5h.1M899.5 120.5h.1M895.8 121.8h.1M902.7 119.8h.1M898.5 120.6h.1M895.5 123.2h.1M906.6 120.0h.1M896.9 122.7h.1M900.5 122.1h.1M895.2 122.5h.1M896.0 123.4h.1M896.6 123.9h.1M899.4 122.7h.1M897.7 123.0h.1M898.6 123.4h.1M898.9 123.4h.1M896.5 124.2h.1M897.6 124.2h.1M896.0 124.2h.1M899.0 124.1h.1M895.5 125.5h.1M896.1 125.7h.1M895.8 125.2h.1M895.6 125.7h.1M899.0 126.2h.1M898.4 125.8h.1M908.0 124.3h.1M895.7 127.0h.1M898.0 127.7h.1M899.2 127.4h.1M897.1 127.9h.1M897.5 127.8h.1M896.4 129.1h.1M900.1 128.1h.1M897.6 128.4h.1M901.1 127.9h.1M896.1 128.5h.1M909.4 126.8h.1M896.6 129.7h.1M898.2 129.3h.1M905.6 128.1h.1M897.7 129.6h.1M899.1 130.5h.1M897.0 130.4h.1M898.1 130.6h.1M898.4 129.7h.1M897.6 131.1h.1M897.1 131.1h.1M896.7 131.8h.1M898.9 131.4h.1M898.1 131.9h.1M900.8 130.4h.1M902.9 131.0h.1M897.2 132.3h.1M898.9 132.7h.1M897.8 132.7h.1M899.3 132.9h.1M898.9 133.1h.1M899.0 132.8h.1M900.2 133.3h.1M899.8 134.3h.1M901.5 133.2h.1M897.4 134.7h.1M900.2 134.1h.1M901.0 133.4h.1M898.1 134.4h.1M904.2 134.5h.1M901.2 135.3h.1M903.0 134.2h.1M899.2 135.7h.1M909.1 134.3h.1M901.5 135.3h.1M909.1 134.1h.1M899.5 136.0h.1M899.4 135.8h.1M901.3 137.4h.1M904.3 136.5h.1M898.4 137.9h.1M898.9 137.3h.1M903.4 137.1h.1M902.5 138.2h.1M899.6 138.0h.1M901.6 137.5h.1M900.2 139.7h.1M900.9 138.5h.1M901.2 138.8h.1M898.9 139.1h.1M899.5 140.8h.1M900.2 140.0h.1M898.9 140.4h.1M901.0 139.9h.1M903.7 139.4h.1M900.4 141.7h.1M904.6 140.0h.1M910.5 138.8h.1M902.6 141.0h.1M906.1 140.1h.1M900.7 142.2h.1M901.0 141.9h.1M900.0 142.2h.1M902.2 141.3h.1M899.9 144.0h.1M901.2 143.6h.1M902.1 142.4h.1M909.5 140.8h.1M908.3 142.3h.1M905.0 143.0h.1M900.9 143.8h.1M900.7 145.0h.1M900.3 145.8h.1M902.7 144.5h.1M905.6 144.2h.1M901.6 145.1h.1M907.3 144.9h.1M902.8 145.5h.1M900.4 146.3h.1M903.1 145.7h.1M911.6 144.0h.1M904.4 146.5h.1M907.1 145.3h.1M906.0 146.4h.1M903.3 147.2h.1M902.3 148.7h.1M901.9 148.4h.1M900.8 148.3h.1M901.8 148.9h.1M901.5 148.9h.1M904.3 149.0h.1M908.3 147.0h.1M902.5 149.4h.1M907.3 148.0h.1M906.9 148.7h.1M902.1 150.9h.1M902.2 150.5h.1M909.4 148.4h.1M906.4 150.8h.1M906.3 150.6h.1M902.0 152.1h.1M910.5 148.8h.1M902.1 151.5h.1M906.3 151.4h.1M905.5 152.1h.1M903.0 152.8h.1M905.6 151.2h.1M902.7 153.7h.1M902.4 153.1h.1M906.8 152.4h.1M908.2 151.2h.1M903.8 154.8h.1M910.3 152.3h.1M908.8 153.0h.1M905.6 154.2h.1M903.1 155.0h.1M905.7 155.2h.1M906.7 154.7h.1M906.9 154.1h.1M908.4 153.9h.1M903.5 155.1h.1M904.0 156.5h.1M903.9 156.8h.1M910.4 154.6h.1M904.6 156.4h.1M904.4 157.8h.1M905.6 156.6h.1M904.8 156.9h.1M906.3 157.2h.1M909.8 157.0h.1M904.5 158.7h.1M907.3 157.6h.1M904.7 158.9h.1M906.6 157.8h.1M907.4 158.2h.1M908.3 158.6h.1M917.0 155.4h.1M906.9 159.1h.1M906.2 159.6h.1M913.0 157.8h.1M905.3 160.2h.1M905.8 159.6h.1M905.1 161.0h.1M907.8 159.0h.1M905.7 161.1h.1M907.5 160.6h.1M906.8 161.1h.1M912.7 159.6h.1M905.7 162.9h.1M916.6 158.3h.1M906.7 162.2h.1M909.9 162.6h.1M905.9 163.5h.1M908.4 163.1h.1M906.4 164.0h.1M907.1 162.6h.1M907.4 163.5h.1M907.6 164.0h.1M910.0 163.7h.1M909.2 163.9h.1M907.0 163.9h.1M908.7 165.1h.1M907.0 165.9h.1M907.7 165.1h.1M907.1 165.9h.1M912.9 162.6h.1M909.1 165.9h.1M917.6 162.4h.1M907.4 166.3h.1M909.6 164.9h.1M915.9 163.5h.1M909.1 166.8h.1M916.4 163.7h.1M913.1 165.9h.1M908.6 167.7h.1M914.4 165.1h.1M908.3 168.2h.1M909.5 168.5h.1M910.6 167.7h.1M908.2 168.3h.1M914.1 165.6h.1M909.4 169.1h.1M918.0 166.1h.1M912.2 168.0h.1M910.4 168.8h.1M909.8 169.5h.1M910.0 169.9h.1M909.1 169.8h.1M911.2 169.0h.1M913.3 169.7h.1M910.1 171.4h.1M910.3 170.9h.1M914.2 169.0h.1M914.5 169.3h.1M910.0 171.9h.1M910.1 171.9h.1M912.2 171.8h.1M909.9 172.3h.1M917.8 169.3h.1M909.7 173.3h.1M916.4 170.8h.1M915.9 171.2h.1M909.8 173.2h.1M910.2 173.3h.1M910.4 174.9h.1M910.4 175.0h.1M913.6 173.0h.1M911.5 173.7h.1M911.8 173.9h.1M916.6 173.6h.1M914.1 174.6h.1M914.0 174.6h.1M911.0 175.3h.1M915.3 174.2h.1M913.1 175.4h.1M913.3 175.6h.1M911.4 176.6h.1M913.9 175.6h.1M914.2 177.1h.1M914.2 176.1h.1M914.8 175.5h.1M911.6 176.9h.1M912.3 177.7h.1M913.3 177.4h.1M915.1 177.0h.1M912.3 177.8h.1M919.5 175.7h.1M913.2 177.6h.1M914.8 178.4h.1M918.0 177.3h.1M913.8 179.5h.1M920.6 175.8h.1M925.1 174.8h.1M914.0 180.4h.1M913.1 179.9h.1M913.5 179.9h.1M914.1 180.4h.1M915.7 178.6h.1M918.0 179.2h.1M923.6 177.4h.1M916.1 180.0h.1M919.2 178.5h.1M918.9 179.2h.1M913.5 182.5h.1M915.5 181.5h.1M914.2 182.3h.1M915.3 181.4h.1M914.1 181.8h.1M914.6 183.5h.1M915.2 182.5h.1M914.7 183.5h.1M915.2 183.1h.1M916.4 184.1h.1M915.3 184.7h.1M915.2 184.4h.1M921.9 181.6h.1M919.8 183.7h.1M917.7 183.8h.1M915.7 184.9h.1M915.6 185.5h.1M915.5 185.9h.1M921.7 183.2h.1M915.3 186.8h.1M916.1 185.8h.1M915.8 187.3h.1M918.6 185.6h.1M917.2 186.4h.1M915.7 187.8h.1M926.1 183.8h.1M917.9 188.0h.1M918.8 187.9h.1M917.9 188.2h.1M918.1 188.9h.1M922.7 187.5h.1M924.4 185.7h.1M918.0 189.7h.1M917.7 190.6h.1M919.4 189.3h.1M917.2 190.0h.1M917.2 191.5h.1M920.2 190.6h.1M919.8 190.8h.1M917.8 191.7h.1M920.3 190.9h.1M923.2 190.7h.1M921.6 190.7h.1M918.0 191.9h.1M918.7 193.3h.1M922.9 192.1h.1M922.3 191.6h.1M922.4 192.3h.1M920.8 193.5h.1M918.2 194.3h.1M924.7 192.0h.1M926.9 191.6h.1M920.4 193.8h.1M919.1 195.4h.1M920.9 195.0h.1M922.9 194.5h.1M926.3 193.1h.1M923.0 194.9h.1M919.0 196.7h.1M919.2 195.9h.1M919.5 196.0h.1M924.0 195.9h.1M921.0 196.8h.1M921.4 196.6h.1M926.6 194.7h.1M921.7 197.9h.1M924.8 196.6h.1M923.3 196.9h.1M923.4 196.8h.1M921.0 198.6h.1M921.4 199.2h.1M921.2 198.8h.1M923.4 197.9h.1M920.3 199.7h.1M921.5 198.8h.1M923.9 198.8h.1M925.4 198.8h.1M929.3 196.8h.1M921.8 199.6h.1M922.8 200.7h.1M925.6 200.4h.1M923.7 200.5h.1M926.4 199.7h.1M924.1 201.8h.1M921.7 202.5h.1M924.4 201.5h.1M925.5 201.6h.1M931.3 199.4h.1M926.0 202.2h.1M924.1 202.6h.1M923.2 202.8h.1M923.2 202.6h.1M927.2 201.6h.1M933.3 201.0h.1M922.3 204.5h.1M925.5 203.8h.1M923.9 204.2h.1M922.9 204.1h.1M923.2 204.8h.1M922.3 205.2h.1M929.4 203.5h.1M923.6 205.1h.1M923.4 205.7h.1M925.7 206.1h.1M928.7 204.5h.1M923.1 206.3h.1M926.4 206.6h.1M925.3 207.1h.1M923.9 207.9h.1M933.1 204.1h.1M923.4 208.3h.1M926.8 207.8h.1M924.6 208.4h.1M931.6 206.0h.1M930.8 207.0h.1M924.7 209.1h.1M925.6 209.5h.1M923.9 209.7h.1M925.7 209.9h.1M928.9 208.6h.1M927.9 208.7h.1M925.5 209.9h.1M924.7 210.4h.1M925.8 211.5h.1M926.2 211.2h.1M928.7 210.5h.1M930.6 209.6h.1M926.9 210.5h.1M925.1 212.0h.1M926.8 212.4h.1M934.3 209.4h.1M934.0 209.0h.1M927.5 211.4h.1M925.9 213.4h.1M925.4 213.1h.1M926.7 213.1h.1M925.5 213.9h.1M926.8 214.0h.1M931.1 212.0h.1M927.6 213.4h.1M930.3 213.2h.1M926.4 215.0h.1M926.6 215.3h.1M935.1 212.0h.1M928.0 214.9h.1M927.6 215.7h.1M936.0 213.4h.1M928.6 215.6h.1M929.3 215.4h.1M927.9 216.3h.1M927.6 217.9h.1M927.3 217.3h.1M928.5 216.9h.1M930.7 216.4h.1M932.9 215.0h.1M931.1 216.9h.1M929.7 217.0h.1M933.7 216.1h.1M930.7 217.4h.1M929.9 217.3h.1M934.9 216.9h.1M935.6 216.1h.1M927.4 219.0h.1M929.6 218.3h.1M929.9 218.2h.1M936.1 217.9h.1M928.0 220.6h.1M937.0 216.9h.1M936.7 217.8h.1M929.5 220.6h.1M928.5 220.9h.1M935.8 219.1h.1M930.1 221.4h.1M930.8 220.9h.1M929.5 222.1h.1M930.1 222.0h.1M932.1 221.0h.1M931.5 221.5h.1M929.4 223.5h.1M930.0 223.5h.1M930.0 223.4h.1M930.8 223.0h.1M933.8 223.3h.1M929.2 224.1h.1M931.8 224.0h.1M933.8 223.2h.1M930.7 224.1h.1M933.1 223.7h.1M932.1 224.6h.1M932.0 225.2h.1M933.9 224.2h.1M931.9 225.0h.1M931.8 225.5h.1M939.3 223.1h.1M933.0 226.0h.1M931.8 225.8h.1M930.1 226.5h.1M934.3 226.2h.1M931.5 227.6h.1M934.8 225.6h.1M937.2 225.0h.1M933.4 227.7h.1M934.5 227.0h.1M938.5 225.2h.1M930.9 228.8h.1M931.6 229.2h.1M932.5 229.1h.1M931.6 229.6h.1M934.2 228.1h.1M931.7 231.1h.1M933.3 230.0h.1M936.5 229.2h.1M935.7 229.5h.1M940.7 227.8h.1M933.2 231.2h.1M936.1 230.2h.1M931.9 231.3h.1M933.6 231.2h.1M934.9 230.7h.1M936.8 230.6h.1M936.7 231.4h.1M936.0 230.9h.1M941.0 229.2h.1M935.0 231.4h.1M935.7 232.9h.1M938.8 230.7h.1M940.6 231.2h.1M933.5 233.6h.1M933.7 234.8h.1M934.4 234.0h.1M932.8 234.2h.1M942.8 230.7h.1M942.2 230.8h.1M936.8 233.7h.1M936.4 234.4h.1M934.5 235.3h.1M933.7 235.1h.1M933.6 235.7h.1M934.6 236.7h.1M933.7 236.8h.1M938.5 235.2h.1M939.9 235.8h.1M935.3 236.9h.1M935.3 237.4h.1M934.4 237.8h.1M936.2 236.7h.1M935.8 238.0h.1M934.6 238.2h.1M937.0 237.5h.1M934.5 238.5h.1M936.3 237.6h.1M941.8 236.6h.1M934.7 239.2h.1M936.7 239.0h.1M936.8 239.2h.1M942.2 237.6h.1M935.9 240.6h.1M944.8 237.4h.1M937.7 240.9h.1M939.3 240.3h.1M939.0 239.9h.1M937.6 240.7h.1M935.6 241.1h.1M938.0 242.3h.1M943.1 240.0h.1M939.1 241.7h.1M948.7 237.9h.1M937.8 241.3h.1M937.2 242.8h.1M942.9 241.2h.1M938.9 242.0h.1M937.3 243.7h.1M936.6 243.3h.1M937.1 244.7h.1M938.6 243.5h.1M941.9 242.5h.1M939.9 242.9h.1M936.5 244.4h.1M938.5 244.5h.1M941.7 243.5h.1M942.2 243.7h.1M942.4 243.0h.1M947.0 243.3h.1M937.2 246.3h.1M945.7 243.5h.1M939.2 246.0h.1M937.6 246.5h.1M937.7 247.7h.1M939.4 246.8h.1M940.3 246.9h.1M938.4 247.5h.1M940.5 247.8h.1M940.2 247.4h.1M939.8 247.7h.1M942.3 246.6h.1M938.4 248.1h.1M938.7 249.3h.1M939.6 249.6h.1M942.4 248.2h.1M940.3 248.5h.1M940.2 249.5h.1M944.2 248.6h.1M942.9 248.4h.1M945.6 248.5h.1M943.1 249.4h.1M941.7 249.0h.1M942.1 250.3h.1M939.3 251.7h.1M941.4 250.5h.1M942.4 250.5h.1M951.0 248.6h.1M946.2 249.5h.1M943.8 250.6h.1M946.3 249.5h.1M941.1 252.0h.1M947.9 250.1h.1M940.7 252.9h.1M940.9 253.3h.1M940.1 253.7h.1M943.8 252.9h.1M944.2 252.9h.1M940.6 254.0h.1M941.5 254.4h.1M951.4 249.7h.1M947.3 253.0h.1M941.8 255.6h.1M945.9 253.4h.1M942.4 255.2h.1M942.5 255.4h.1M946.9 253.8h.1M943.0 255.7h.1M942.7 255.7h.1M946.9 254.0h.1M941.2 255.9h.1M949.8 254.5h.1M942.3 257.1h.1M948.2 254.5h.1M944.1 256.5h.1M944.2 257.0h.1M942.5 258.3h.1M942.0 258.0h.1M944.7 257.8h.1M944.4 257.0h.1M948.3 256.7h.1M946.7 257.2h.1M946.5 257.9h.1M942.4 259.3h.1M944.1 259.9h.1M944.4 259.2h.1M942.6 260.3h.1M947.2 258.7h.1M947.0 260.0h.1M943.1 261.4h.1M945.3 261.2h.1M955.3 256.2h.1M943.4 262.1h.1M945.1 262.2h.1M944.8 261.5h.1M946.4 261.4h.1M947.9 261.9h.1M944.5 263.7h.1M945.8 263.0h.1M944.0 263.2h.1M946.7 262.6h.1M947.5 263.5h.1M944.2 264.3h.1M947.7 262.6h.1M950.1 262.3h.1M945.8 263.9h.1M946.6 265.0h.1M945.9 265.0h.1M952.1 263.0h.1M953.2 262.2h.1M946.2 264.5h.1M949.3 265.0h.1M949.0 264.3h.1M945.4 266.4h.1M945.9 265.9h.1M952.5 263.4h.1M946.3 267.0h.1M949.2 265.5h.1M948.6 266.4h.1M949.0 266.3h.1M945.5 267.6h.1M949.6 267.0h.1M948.7 267.5h.1M956.2 264.7h.1M949.2 267.3h.1M949.4 268.1h.1M947.3 268.8h.1M947.1 269.1h.1M946.5 269.2h.1M947.5 268.5h.1M949.8 269.9h.1M950.7 269.2h.1M947.9 270.5h.1M951.6 268.3h.1M947.3 270.2h.1M948.8 270.4h.1M950.2 270.8h.1M955.1 268.4h.1M952.3 270.0h.1M947.1 271.6h.1M947.6 273.0h.1M955.5 269.0h.1M949.1 272.1h.1M949.3 271.3h.1M949.8 272.2h.1M948.8 273.4h.1M956.9 270.2h.1M954.5 271.3h.1M951.0 272.1h.1M953.4 272.3h.1M954.0 271.9h.1M948.3 274.1h.1M951.3 273.5h.1M948.6 274.9h.1M952.5 273.9h.1M949.4 275.3h.1M950.8 274.9h.1M951.8 275.5h.1M950.3 275.9h.1M953.5 274.6h.1M951.0 275.2h.1M950.0 276.4h.1M950.8 277.1h.1M954.9 276.0h.1M949.3 277.0h.1M951.0 276.3h.1M951.9 276.4h.1M952.3 278.0h.1M950.6 278.0h.1M953.1 277.7h.1M953.0 277.6h.1M956.7 277.1h.1M950.7 279.6h.1M950.6 279.8h.1M954.2 278.4h.1M951.7 278.6h.1M952.8 279.4h.1M950.8 280.1h.1M951.1 280.9h.1M952.0 280.2h.1M951.9 279.4h.1M950.9 281.1h.1M958.7 278.2h.1M953.7 280.3h.1M952.2 280.5h.1M951.1 281.9h.1M951.7 282.8h.1M957.4 280.6h.1M953.5 281.1h.1M956.1 281.1h.1M951.9 283.6h.1M951.6 283.1h.1M954.0 283.2h.1M958.0 281.3h.1M952.9 284.4h.1M954.5 283.4h.1M954.0 284.1h.1M953.1 284.7h.1M955.2 285.0h.1M954.8 284.1h.1M955.3 284.0h.1M957.5 283.1h.1M955.0 284.3h.1M957.4 284.6h.1M955.4 285.8h.1M953.9 286.2h.1M955.1 285.2h.1M957.0 286.6h.1M956.4 286.8h.1M956.2 286.3h.1M955.6 287.0h.1M958.6 285.5h.1M954.4 288.3h.1M954.1 288.1h.1M954.0 288.6h.1M954.3 287.9h.1M953.7 288.4h.1M956.5 288.6h.1M955.1 289.6h.1M958.3 287.7h.1M957.1 288.8h.1M957.3 287.8h.1M955.9 290.6h.1M957.2 289.1h.1M957.4 289.5h.1M959.6 288.8h.1M958.2 288.8h.1M955.9 290.9h.1M956.6 290.5h.1M958.7 290.4h.1M957.5 290.4h.1M955.8 291.6h.1M956.8 292.4h.1M957.7 291.2h.1M955.7 292.9h.1M966.0 288.8h.1M960.7 290.4h.1M956.0 293.6h.1M958.4 292.8h.1M957.8 292.4h.1M962.4 291.1h.1M956.8 292.7h.1M957.5 294.0h.1M962.3 292.2h.1M956.8 294.7h.1M957.5 293.5h.1M956.5 294.1h.1M958.1 294.4h.1M961.1 294.1h.1M956.6 295.3h.1M959.8 294.2h.1M957.0 295.9h.1M967.4 292.2h.1M959.2 295.6h.1M957.5 296.8h.1M960.2 296.3h.1M958.6 297.5h.1M959.7 297.2h.1M962.0 295.4h.1M962.8 296.3h.1M959.6 297.5h.1M961.7 296.5h.1M962.2 296.4h.1M957.9 298.6h.1M965.8 297.0h.1M963.0 297.6h.1M965.2 296.5h.1M960.7 298.2h.1M965.8 297.1h.1M960.3 299.3h.1M969.5 296.5h.1M958.9 299.8h.1M961.1 299.7h.1M963.7 299.5h.1M960.2 300.6h.1M960.4 300.9h.1M959.8 301.5h.1M961.3 300.8h.1M959.7 302.9h.1M964.7 300.3h.1M960.1 301.7h.1M965.7 300.5h.1M960.3 303.9h.1M964.4 301.1h.1M960.4 303.8h.1M961.0 302.9h.1M959.9 302.9h.1M964.5 302.7h.1M961.8 304.3h.1M960.8 304.1h.1M965.0 302.7h.1M962.7 304.6h.1M962.3 304.5h.1M965.6 303.0h.1M963.1 304.3h.1M961.0 305.5h.1M962.9 305.5h.1M961.8 305.8h.1M966.3 304.5h.1M961.9 306.4h.1M963.7 304.8h.1M961.5 307.2h.1M969.3 304.2h.1M964.9 306.1h.1M963.8 305.9h.1M967.3 305.0h.1M963.1 307.8h.1M961.7 308.3h.1M961.9 308.4h.1M963.1 307.7h.1M964.7 307.5h.1M964.9 308.1h.1M965.2 308.4h.1M962.5 310.0h.1M962.7 309.5h.1M964.1 309.1h.1M964.5 309.3h.1M963.1 310.5h.1M963.4 310.2h.1M965.1 310.0h.1M963.6 310.7h.1M966.2 309.6h.1M971.8 307.5h.1M965.8 310.3h.1M964.1 311.7h.1M967.0 310.6h.1M966.1 311.7h.1M965.4 311.3h.1M970.8 309.1h.1M965.5 312.4h.1M965.1 312.7h.1M971.3 310.3h.1M964.1 313.9h.1M967.6 312.1h.1M964.3 314.1h.1M969.9 312.5h.1M966.5 313.1h.1M975.6 309.5h.1M969.3 312.3h.1M967.2 314.6h.1M966.3 314.3h.1M972.9 312.7h.1M971.8 313.0h.1M966.0 316.0h.1M965.4 316.8h.1M966.0 315.8h.1M967.5 315.7h.1M969.2 315.4h.1M973.0 314.6h.1M976.6 313.0h.1M965.7 317.4h.1M973.4 314.6h.1M967.7 316.7h.1M966.7 318.1h.1M966.7 317.6h.1M966.0 318.5h.1M967.4 317.3h.1M966.5 319.7h.1M967.9 318.9h.1M970.1 317.7h.1M970.5 317.5h.1M968.3 319.9h.1M971.9 318.5h.1M966.9 320.0h.1M968.5 319.9h.1M969.6 318.8h.1M968.5 320.7h.1M967.9 321.4h.1M967.0 321.1h.1M979.6 316.4h.1M969.3 322.1h.1M967.7 322.4h.1M973.7 320.5h.1M972.9 320.4h.1M975.5 320.5h.1M968.3 323.4h.1M968.2 322.9h.1M968.0 323.5h.1M968.1 323.2h.1M980.0 319.2h.1M974.5 321.9h.1M972.7 322.7h.1M969.3 324.0h.1M975.1 322.6h.1M978.8 322.0h.1M968.7 325.5h.1M969.4 325.2h.1M980.8 321.4h.1M969.6 326.3h.1M973.6 324.5h.1M972.8 325.3h.1M978.7 323.4h.1M971.5 326.7h.1M970.1 328.0h.1M970.6 327.3h.1M974.8 326.6h.1M980.5 324.5h.1M970.3 327.8h.1M976.4 325.8h.1M972.6 327.1h.1M973.2 327.3h.1M979.3 325.5h.1M976.2 326.8h.1M979.9 325.9h.1M971.3 329.6h.1M979.6 326.1h.1M971.6 330.3h.1M972.1 329.6h.1M974.8 328.5h.1M971.4 330.8h.1M970.9 330.1h.1M972.7 331.1h.1M972.6 330.7h.1M976.8 328.7h.1M972.4 330.4h.1M980.1 329.3h.1M976.5 330.5h.1M974.4 331.5h.1M971.8 333.0h.1M972.1 332.3h.1M973.0 333.0h.1M977.0 331.5h.1M976.6 331.9h.1M977.2 331.5h.1M976.0 332.4h.1M981.0 330.9h.1M976.1 332.6h.1M977.4 332.0h.1M975.0 333.5h.1M978.0 332.6h.1M977.0 333.6h.1M975.4 334.7h.1M981.1 332.3h.1M973.9 335.6h.1M974.9 336.2h.1M983.1 332.5h.1M973.5 336.3h.1M973.6 336.8h.1M973.9 335.9h.1M977.0 335.7h.1M973.7 337.5h.1M979.9 334.9h.1M981.2 334.3h.1M975.7 337.0h.1M978.8 336.8h.1M984.3 334.7h.1M976.7 336.9h.1M982.4 335.8h.1M979.8 336.9h.1M979.9 337.8h.1M975.5 338.5h.1M974.6 339.6h.1M979.5 339.2h.1M980.1 338.1h.1M975.3 341.0h.1M978.4 340.8h.1M976.4 340.9h.1M977.8 341.0h.1M975.5 341.6h.1M977.7 340.4h.1M978.4 341.0h.1M980.0 340.8h.1M977.1 341.8h.1M979.0 340.8h.1M976.1 343.2h.1M976.1 343.0h.1M976.8 342.8h.1M978.8 342.1h.1M977.7 343.2h.1M976.9 344.1h.1M976.8 344.2h.1M981.2 342.0h.1M976.8 344.4h.1M979.0 344.4h.1M978.5 345.1h.1M976.7 345.2h.1M979.4 344.0h.1M977.5 346.2h.1M980.0 345.2h.1M979.6 345.1h.1M980.7 345.1h.1M978.0 346.9h.1M978.2 347.7h.1M978.8 346.7h.1M977.8 347.3h.1M981.1 346.8h.1M990.3 343.6h.1M978.5 347.8h.1M978.9 347.9h.1M980.9 347.2h.1M981.5 348.6h.1M980.2 349.1h.1M978.6 349.4h.1M980.4 348.7h.1M983.3 347.8h.1M984.4 348.9h.1M980.3 350.5h.1M980.3 350.4h.1M985.1 347.8h.1M983.6 350.4h.1M980.0 351.9h.1M979.1 351.0h.1M981.7 350.2h.1M980.5 351.1h.1M980.2 352.8h.1M983.7 351.4h.1M988.7 349.5h.1M981.7 351.2h.1M987.5 349.3h.1M981.7 353.1h.1M981.8 352.4h.1M981.5 352.9h.1M989.9 350.2h.1M986.1 350.6h.1M980.5 354.5h.1M988.6 351.3h.1M983.0 353.3h.1M992.6 349.7h.1M981.1 354.6h.1M984.1 354.1h.1M986.5 353.4h.1M983.2 354.4h.1M982.0 354.4h.1M982.7 355.6h.1M981.5 355.9h.1M984.1 355.5h.1M983.7 356.0h.1M982.9 355.9h.1M981.7 358.0h.1M986.9 355.6h.1M985.9 356.5h.1M982.9 357.6h.1M985.2 356.8h.1M987.0 356.2h.1M982.3 358.1h.1M985.7 357.7h.1M984.2 359.1h.1M982.5 359.6h.1M984.5 358.9h.1M983.9 359.1h.1M982.5 358.9h.1M991.3 358.0h.1M983.4 360.0h.1M988.1 359.1h.1M991.5 357.3h.1M984.0 360.9h.1M983.3 361.1h.1M983.1 361.5h.1M987.9 360.6h.1M984.3 362.4h.1M983.8 361.8h.1M990.9 360.2h.1M983.8 363.6h.1M984.3 363.2h.1M984.2 364.0h.1M988.1 362.2h.1M986.4 363.0h.1M988.8 363.4h.1M984.4 364.4h.1M987.8 363.5h.1M984.2 364.7h.1M988.2 363.0h.1M986.8 364.4h.1M987.1 364.1h.1M986.2 365.3h.1M985.3 365.0h.1M991.4 364.4h.1M988.5 365.1h.1M986.1 366.3h.1M985.8 365.8h.1M997.1 363.4h.1M985.8 367.5h.1M991.2 365.1h.1M995.7 363.7h.1M987.3 366.4h.1M994.4 365.4h.1M988.1 367.7h.1M992.6 366.3h.1M988.0 367.3h.1M989.4 368.3h.1M989.1 368.7h.1M986.6 369.4h.1M990.9 368.3h.1M989.6 369.8h.1M990.5 369.7h.1M988.2 370.5h.1M988.6 369.9h.1M988.5 370.8h.1M988.0 371.4h.1M987.2 371.5h.1M987.2 371.0h.1M989.7 370.5h.1M991.7 371.1h.1M990.9 371.0h.1M990.0 371.3h.1M988.7 371.7h.1M987.8 372.9h.1M988.4 373.8h.1M998.5 370.1h.1M988.4 373.2h.1M990.7 372.8h.1M990.8 373.3h.1M993.4 373.0h.1M990.5 373.3h.1M990.1 374.1h.1M995.9 371.6h.1M994.2 373.9h.1M988.3 375.4h.1M990.2 374.5h.1M994.2 372.8h.1M995.2 373.0h.1M990.7 376.2h.1M989.5 376.2h.1M998.7 373.5h.1M994.4 374.8h.1M994.1 374.1h.1M993.7 375.4h.1M989.0 377.9h.1M989.4 376.8h.1M989.3 377.6h.1M992.7 375.6h.1M996.4 375.7h.1M992.6 377.9h.1M992.2 377.3h.1M989.5 378.6h.1M998.0 375.1h.1M993.8 378.1h.1M994.6 377.4h.1M991.7 378.4h.1M992.3 378.0h.1M990.3 378.8h.1M991.8 379.3h.1M990.8 380.8h.1M990.7 380.6h.1M994.3 378.7h.1M993.5 379.3h.1M991.7 381.1h.1M994.4 379.7h.1M992.5 381.1h.1M990.8 380.8h.1M990.9 381.4h.1M990.8 382.5h.1M990.9 382.2h.1M991.6 382.3h.1M993.3 382.1h.1M995.2 382.2h.1M996.0 381.5h.1M991.6 382.9h.1M991.3 384.1h.1M994.2 383.2h.1M998.5 381.6h.1M998.9 382.1h.1M994.5 383.6h.1M991.8 385.0h.1M1001.0 382.2h.1M991.7 385.3h.1M993.6 384.6h.1M993.8 385.8h.1M992.3 386.6h.1M995.2 385.4h.1M996.8 385.5h.1M996.2 386.6h.1M998.7 385.2h.1M992.7 387.4h.1M992.9 387.0h.1M992.9 387.0h.1M999.0 386.2h.1M993.1 388.8h.1M995.0 387.6h.1M1000.6 385.3h.1M993.3 388.9h.1M993.3 389.3h.1M996.6 388.6h.1M996.7 388.5h.1M998.5 388.1h.1M996.0 388.6h.1M997.1 388.9h.1M993.9 391.0h.1M996.1 390.1h.1M999.3 388.0h.1M1000.4 387.9h.1M996.0 391.3h.1M994.9 391.3h.1M996.0 390.5h.1M994.4 391.8h.1M998.6 389.3h.1M998.1 390.8h.1M1003.5 389.4h.1M995.1 392.9h.1M997.0 391.9h.1M998.4 391.0h.1M1000.8 391.5h.1M995.1 393.6h.1M999.2 391.5h.1M1001.4 391.3h.1M996.2 393.1h.1M1001.1 392.0h.1M998.0 394.1h.1M999.9 392.4h.1M995.9 394.9h.1M995.1 394.1h.1M995.6 395.3h.1M1004.2 391.9h.1M997.5 394.6h.1M1000.3 393.1h.1M1007.3 392.7h.1M1002.8 393.8h.1M1005.5 393.2h.1M996.5 396.2h.1M998.1 395.3h.1M996.7 397.6h.1M1001.2 396.2h.1M1002.2 395.6h.1M996.8 397.6h.1M997.4 398.1h.1M997.1 398.6h.1M999.4 398.1h.1M997.7 398.0h.1M997.5 398.8h.1M997.4 400.0h.1M1002.9 397.3h.1M998.1 399.3h.1M1009.6 396.1h.1M997.4 400.1h.1M999.4 399.5h.1M998.5 400.2h.1M1003.3 399.0h.1M998.5 400.8h.1M1001.3 400.8h.1M998.5 401.1h.1M1000.2 400.2h.1M1002.3 400.5h.1M1000.0 401.9h.1M1000.1 401.9h.1M999.4 402.1h.1M1000.6 403.2h.1M1000.5 403.0h.1M998.8 403.7h.1M998.9 403.3h.1M1008.2 399.7h.1M1001.0 403.7h.1M999.9 403.9h.1M999.6 404.4h.1M1000.9 403.8h.1M1000.6 404.7h.1M1001.9 404.3h.1M999.6 405.6h.1M1001.4 404.6h.1M1010.0 402.0h.1M1005.3 404.9h.1M1000.7 406.6h.1M1004.1 404.8h.1M1001.9 407.1h.1M1007.0 404.6h.1M1000.9 407.3h.1M1004.0 405.7h.1M1000.4 406.9h.1M1004.5 407.6h.1M1001.3 407.9h.1M1004.5 407.2h.1M1001.7 407.6h.1M1003.2 408.4h.1M1003.9 408.5h.1M1004.4 407.7h.1M1003.5 409.0h.1M1001.7 409.6h.1M1002.5 410.5h.1M1004.1 409.5h.1M1007.1 408.0h.1M1004.4 409.9h.1M1013.3 405.6h.1M1003.5 409.2h.1M1002.5 411.6h.1M1005.3 410.3h.1M1003.6 410.4h.1M1007.3 409.7h.1M1003.0 412.8h.1M1006.4 411.5h.1M1002.8 412.9h.1M1003.8 411.4h.1M1006.9 410.8h.1M1005.3 413.1h.1M1003.7 412.6h.1M1003.5 413.6h.1M1006.4 413.3h.1M1004.1 413.9h.1M1005.7 413.1h.1M1005.1 414.6h.1M1004.9 415.0h.1M1005.3 414.2h.1M1004.4 415.6h.1M1013.4 411.0h.1M1005.6 416.0h.1M1004.2 417.1h.1M1007.0 415.5h.1M1006.1 415.3h.1M1004.7 418.0h.1M1008.9 415.1h.1M1009.5 415.2h.1M1008.1 415.5h.1M1011.3 414.6h.1M1005.0 418.4h.1M1007.2 417.0h.1M1008.0 417.2h.1M1010.3 415.9h.1M1007.5 417.3h.1M1007.0 418.3h.1M1006.1 419.5h.1M1010.1 418.0h.1M1010.4 417.3h.1M1005.2 419.0h.1M1011.6 417.9h.1M1012.1 418.2h.1M1009.1 419.5h.1M1006.5 420.4h.1M1011.6 419.5h.1M1007.1 421.3h.1M1010.6 419.8h.1M1006.9 420.6h.1M1008.2 421.0h.1M1012.1 420.2h.1M1007.7 422.0h.1M1013.5 419.3h.1M1007.4 422.7h.1M1019.5 418.7h.1M1010.1 422.4h.1M1009.7 422.9h.1M1008.0 423.4h.1M1010.8 421.8h.1M1014.4 421.8h.1M1013.6 422.0h.1M1008.6 423.9h.1M1008.8 423.6h.1M1008.6 423.9h.1M1015.6 422.7h.1M1007.7 425.2h.1M1010.0 424.5h.1M1013.0 423.3h.1M1009.0 425.1h.1M1008.7 426.9h.1M1009.6 425.5h.1M1009.4 425.5h.1M1009.1 426.7h.1M1009.0 426.7h.1M1016.3 423.8h.1M1010.6 427.3h.1M1009.9 427.4h.1M1011.3 426.6h.1M1017.8 424.1h.1M1010.6 428.0h.1M1014.2 426.1h.1M1009.7 427.8h.1M1009.7 428.9h.1M1009.6 428.9h.1M1012.9 428.4h.1M1011.7 428.3h.1M1010.3 428.8h.1M1011.8 427.9h.1M1011.7 430.3h.1M1017.2 427.5h.1M1010.0 430.5h.1M1011.2 430.3h.1M1012.8 429.7h.1M1011.0 431.0h.1M1012.7 430.4h.1M1021.5 427.0h.1M1013.4 429.9h.1M1014.5 429.1h.1M1011.2 432.8h.1M1011.6 431.9h.1M1012.2 431.7h.1M1019.5 428.7h.1M1020.1 429.7h.1M1011.8 433.0h.1M1013.9 432.8h.1M1017.2 431.4h.1M1014.0 433.8h.1M1012.1 434.2h.1M1015.2 432.3h.1M1013.5 433.6h.1M1016.5 433.7h.1M1019.0 432.8h.1M1012.2 435.4h.1M1011.9 435.1h.1M1016.9 434.0h.1M1017.1 435.1h.1M1016.0 435.3h.1M1015.7 435.7h.1M1012.6 436.3h.1M1021.9 433.4h.1M1013.4 437.3h.1M1013.9 437.7h.1M1016.8 436.2h.1M1016.1 437.6h.1M1015.5 437.4h.1M1013.7 437.9h.1M1017.9 436.7h.1M1014.3 439.7h.1M1015.0 438.8h.1M1024.7 434.7h.1M1014.8 439.6h.1M1017.3 438.6h.1M1015.2 440.1h.1M1019.2 438.9h.1M1024.6 436.5h.1M1020.5 438.0h.1M1018.2 440.4h.1M1015.9 440.4h.1M1015.4 441.7h.1M1021.1 438.5h.1M1015.2 441.5h.1M1022.4 438.9h.1M1018.3 441.7h.1M1015.3 442.5h.1M1015.2 442.5h.1M1015.1 442.5h.1M1016.8 442.4h.1M1022.9 440.5h.1M1018.9 442.0h.1M1024.0 439.9h.1M1019.9 442.7h.1M1017.5 443.5h.1M1016.7 443.9h.1M1017.2 444.2h.1M1017.4 444.4h.1M1020.2 443.5h.1M1022.5 443.1h.1M1019.9 444.3h.1M1019.2 444.6h.1M1020.5 445.3h.1M1017.5 446.0h.1M1023.4 444.2h.1M1017.4 446.2h.1M1018.8 445.7h.1M1023.2 444.6h.1M1023.7 445.3h.1M1017.4 447.9h.1M1017.8 446.7h.1M1020.3 447.0h.1M1020.4 447.5h.1M1018.2 448.8h.1M1019.3 447.3h.1M1019.1 449.5h.1M1017.8 449.3h.1M1020.8 447.8h.1M1018.0 449.8h.1M1018.2 449.0h.1M1020.2 449.2h.1M1022.8 448.0h.1M1021.7 449.2h.1M1019.0 449.9h.1M1026.9 447.2h.1M1023.3 449.1h.1M1019.4 451.5h.1M1021.5 450.6h.1M1018.9 451.2h.1M1020.2 451.5h.1M1020.0 452.3h.1M1020.2 452.3h.1M1020.2 451.4h.1M1019.0 451.9h.1M1022.3 452.7h.1M1022.0 452.0h.1M1020.3 453.0h.1M1022.4 452.7h.1M1025.5 451.9h.1M1022.9 453.5h.1M1024.0 453.1h.1M1023.8 452.5h.1M1026.4 452.1h.1M1021.9 454.6h.1M1026.4 452.9h.1M1023.8 454.5h.1M1021.8 454.9h.1M1022.4 454.3h.1M1021.0 456.4h.1M1022.0 455.5h.1M1024.6 455.3h.1M1024.7 455.2h.1M1021.3 456.1h.1M1024.6 455.5h.1M1027.1 454.9h.1M1023.2 457.0h.1M1022.6 457.3h.1M1025.3 455.9h.1M1023.2 458.0h.1M1022.3 458.4h.1M1022.1 458.7h.1M1030.8 454.3h.1M1023.0 458.1h.1M1023.9 458.6h.1M1022.5 459.7h.1M1025.5 458.2h.1M1027.7 456.5h.1M1023.2 459.1h.1M1024.7 459.2h.1M1022.7 460.4h.1M1022.9 460.5h.1M1028.9 457.2h.1M1025.7 459.9h.1M1023.9 461.5h.1M1027.5 458.9h.1M1023.5 460.9h.1M1024.5 460.2h.1M1024.4 461.7h.1M1023.7 461.8h.1M1024.3 462.4h.1M1025.6 460.8h.1M1030.6 459.0h.1M1028.3 461.7h.1M1024.2 463.6h.1M1024.3 463.2h.1M1027.5 462.9h.1M1027.5 462.9h.1M1032.5 461.0h.1M1025.8 463.9h.1M1027.7 462.4h.1M1025.1 465.1h.1M1027.0 464.2h.1M1030.2 463.1h.1M1031.8 461.7h.1M1031.2 462.9h.1M1031.7 463.1h.1M1033.7 462.0h.1M1030.7 464.4h.1M1028.0 464.9h.1M1026.6 467.0h.1M1027.0 466.6h.1M1025.7 467.7h.1M1037.1 461.9h.1M1029.9 465.4h.1M1031.5 465.7h.1M1028.9 467.0h.1M1025.8 468.2h.1M1029.8 466.0h.1M1027.6 467.5h.1M1027.1 468.7h.1M1028.7 467.7h.1M1031.2 466.4h.1M1026.8 469.3h.1M1033.9 467.3h.1M1031.6 467.6h.1M1036.1 466.4h.1M1028.2 469.8h.1M1027.6 470.1h.1M1034.0 468.5h.1M1029.1 470.6h.1M1029.3 470.7h.1M1026.9 470.6h.1M1030.8 469.5h.1M1031.3 471.1h.1M1029.5 471.6h.1M1029.1 471.4h.1M1029.9 471.5h.1M1028.5 471.0h.1M1036.8 469.1h.1M1028.2 472.4h.1M1028.7 472.8h.1M1029.0 472.5h.1M1029.5 473.1h.1M1034.0 471.0h.1M1030.6 473.1h.1M1036.3 470.5h.1M1031.7 472.6h.1M1038.5 470.9h.1M1029.2 475.4h.1M1028.7 474.4h.1M1030.2 474.6h.1M1031.6 473.3h.1M1033.0 474.5h.1M1030.2 475.0h.1M1029.3 475.5h.1M1031.3 475.3h.1M1031.7 475.2h.1M1032.5 476.2h.1M1030.8 476.0h.1M1037.4 473.1h.1M1032.9 475.4h.1M1031.5 476.7h.1M1038.2 474.9h.1M1034.8 475.4h.1M1031.0 477.0h.1M1032.2 478.7h.1M1040.5 474.9h.1M1032.9 478.4h.1M1030.3 478.4h.1M1037.3 477.4h.1M1033.3 478.8h.1M1035.4 478.6h.1M1033.1 478.7h.1M1032.3 479.1h.1M1033.7 479.8h.1M1031.6 481.4h.1M1034.9 479.7h.1M1032.6 481.0h.1M1033.2 480.0h.1M1035.1 480.7h.1M1032.0 481.8h.1M1033.4 480.6h.1M1031.7 482.0h.1M1033.0 483.0h.1M1033.2 482.3h.1M1033.6 482.6h.1M1035.2 482.1h.1M1033.4 484.0h.1M1038.3 481.8h.1M1033.1 483.2h.1M1033.7 483.4h.1M1036.6 483.3h.1M1033.4 485.4h.1M1033.6 484.2h.1M1033.1 484.3h.1M1035.7 483.1h.1M1034.6 485.9h.1M1033.9 486.1h.1M1039.0 483.3h.1M1034.1 486.1h.1M1037.1 486.0h.1M1036.7 485.8h.1M1035.1 486.7h.1M1038.2 485.6h.1M1035.7 487.0h.1M1037.0 486.3h.1M1034.9 488.4h.1M1035.8 487.9h.1M1042.0 486.5h.1M1040.0 486.5h.1M1036.7 488.4h.1M1038.9 487.8h.1M1036.7 488.5h.1M1036.3 489.8h.1M1035.0 490.0h.1M1037.2 489.2h.1M1037.7 489.6h.1M1035.5 490.7h.1M1041.2 489.0h.1M1038.1 490.3h.1M1036.2 490.8h.1M1037.5 490.1h.1M1038.8 491.1h.1M1038.7 491.4h.1M1042.2 489.6h.1M1037.9 491.2h.1M1037.5 492.1h.1M1037.8 492.2h.1M1040.1 492.2h.1M1040.2 491.6h.1M1038.7 492.0h.1M1038.8 492.4h.1M1037.3 493.4h.1M1039.7 493.3h.1M1037.5 494.0h.1M1038.7 492.9h.1M1037.4 494.3h.1M1040.2 493.9h.1M1039.7 494.0h.1M1039.6 493.9h.1M1038.1 494.5h.1M1039.7 494.4h.1M1041.1 494.8h.1M1046.4 492.4h.1M1038.2 496.1h.1M1039.1 496.2h.1M1042.4 494.9h.1M1041.5 495.5h.1M1038.7 497.7h.1M1047.6 493.2h.1M1038.3 497.0h.1M1043.1 496.8h.1M1039.6 497.5h.1M1039.2 497.9h.1M1039.6 498.1h.1M1042.5 496.8h.1M1039.3 499.8h.1M1041.1 499.0h.1M1038.9 499.0h.1M1049.3 495.1h.1M1046.5 497.4h.1M1048.3 496.3h.1M1041.2 500.3h.1M1047.7 497.6h.1M1039.9 500.8h.1M1044.1 499.5h.1M1042.2 500.3h.1M1040.2 501.7h.1M1043.5 500.7h.1M1040.5 502.0h.1M1041.6 502.3h.1M1044.7 500.7h.1M1040.5 502.5h.1M1044.1 500.7h.1M1043.4 502.3h.1M1045.8 501.9h.1M1042.8 503.4h.1M1041.3 503.4h.1M1047.8 500.5h.1M1047.0 502.7h.1M1042.4 504.9h.1M1046.7 503.3h.1M1045.7 502.5h.1M1044.4 504.2h.1M1042.5 505.0h.1M1041.9 505.8h.1M1042.0 506.0h.1M1042.3 506.3h.1M1045.5 504.9h.1M1053.4 502.0h.1M1043.1 505.9h.1M1043.1 506.1h.1M1045.6 505.1h.1M1046.6 506.5h.1M1047.4 505.2h.1M1050.6 503.7h.1M1042.9 507.9h.1M1052.5 504.9h.1M1044.0 508.6h.1M1043.6 508.4h.1M1045.1 507.6h.1M1043.4 508.8h.1M1043.5 509.3h.1M1049.8 506.8h.1M1044.1 509.8h.1M1044.0 509.4h.1M1044.7 509.8h.1M1046.1 509.6h.1M1051.5 507.4h.1M1044.2 510.7h.1M1047.4 508.8h.1M1046.6 510.1h.1M1044.9 511.5h.1M1048.7 510.0h.1M1044.4 511.6h.1M1046.1 510.0h.1M1045.7 512.4h.1M1047.7 511.3h.1M1046.5 512.0h.1M1046.5 511.2h.1M1046.9 512.2h.1M1048.1 511.6h.1M1049.8 510.8h.1M1049.5 511.3h.1M1048.4 512.3h.1M1048.8 513.3h.1M1057.6 509.5h.1M1052.8 511.2h.1M1048.2 512.5h.1M1046.8 514.7h.1M1047.3 514.0h.1M1047.4 514.7h.1M1049.4 514.1h.1M1049.0 513.7h.1M1048.4 515.1h.1M1055.3 512.5h.1M1048.5 515.0h.1M1047.0 516.1h.1M1052.3 515.2h.1M1047.7 517.0h.1M1047.7 517.2h.1M1048.6 515.7h.1M1047.7 516.4h.1M1047.3 517.6h.1M1052.1 516.0h.1M1047.9 517.5h.1M1051.2 516.6h.1M1047.9 518.1h.1M1049.3 518.6h.1M1048.7 518.5h.1M1049.6 518.1h.1M1051.7 517.6h.1M1049.4 519.1h.1M1048.6 519.4h.1M1051.5 518.0h.1M1049.2 518.9h.1M1049.2 519.9h.1M1048.9 521.0h.1M1051.5 520.0h.1M1049.0 521.2h.1M1053.4 518.5h.1M1058.0 517.9h.1M1049.1 521.4h.1M1050.3 521.2h.1M1051.4 521.1h.1M1050.2 521.6h.1M1053.3 521.5h.1M1054.6 520.6h.1M1049.3 522.2h.1M1049.3 522.1h.1M1049.9 522.4h.1M1052.3 522.8h.1M1051.3 523.4h.1M1056.0 520.5h.1M1053.7 521.9h.1M1050.8 524.5h.1M1051.9 524.5h.1M1050.8 524.7h.1M1053.9 523.5h.1M1053.1 522.9h.1M1050.9 526.1h.1M1050.6 525.1h.1M1052.6 525.2h.1M1054.6 524.3h.1M1053.1 524.4h.1M1052.6 526.0h.1M1051.8 525.9h.1M1055.3 524.2h.1M1052.9 525.9h.1M1052.3 527.7h.1M1061.2 523.6h.1M1058.5 525.0h.1M1051.4 527.2h.1M1052.6 526.5h.1M1055.0 527.6h.1M1054.7 527.4h.1M1056.6 526.8h.1M1061.7 523.6h.1M1054.6 526.9h.1M1056.8 526.9h.1M1052.6 528.9h.1M1058.8 527.1h.1M1056.4 527.8h.1M1061.0 527.1h.1M1054.2 529.5h.1M1055.6 529.1h.1M1053.5 529.6h.1M1060.3 527.7h.1M1053.4 531.5h.1M1056.4 530.3h.1M1057.6 529.6h.1M1056.9 530.2h.1M1055.7 530.5h.1M1054.4 531.5h.1M1064.7 527.8h.1M1055.8 531.8h.1M1065.6 526.5h.1M1057.6 530.5h.1M1054.9 533.2h.1M1058.9 530.6h.1M1055.9 532.5h.1M1054.5 532.5h.1M1057.9 531.7h.1M1057.8 532.7h.1M1055.0 533.9h.1M1055.3 533.6h.1M1055.4 534.3h.1M1054.3 534.1h.1M1062.6 531.6h.1M1056.4 534.5h.1M1056.1 534.3h.1M1055.8 535.4h.1M1060.5 534.5h.1M1057.8 534.8h.1M1056.7 535.6h.1M1055.6 536.5h.1M1063.3 534.0h.1M1056.8 537.3h.1M1056.5 536.9h.1M1058.5 535.3h.1M1056.4 538.4h.1M1057.2 537.5h.1M1056.0 538.1h.1M1058.9 536.6h.1M1057.6 538.6h.1M1059.7 538.0h.1M1056.6 539.0h.1M1060.3 537.1h.1M1058.4 538.9h.1M1062.7 537.9h.1M1059.5 539.2h.1M1057.3 540.0h.1M1058.1 539.6h.1M1057.3 539.5h.1M1060.2 539.4h.1M1057.5 541.4h.1M1062.0 539.4h.1M1059.8 539.4h.1M1061.4 539.2h.1M1058.9 541.1h.1M1060.3 540.6h.1M1061.1 540.7h.1M1062.8 539.8h.1M1060.1 541.8h.1M1067.8 539.2h.1M1062.0 540.8h.1M1060.4 542.5h.1M1061.6 542.2h.1M1065.8 540.9h.1M1060.5 543.3h.1M1061.7 542.3h.1M1067.1 541.9h.1M1063.2 543.0h.1M1062.8 542.8h.1M1066.8 541.2h.1M1059.7 544.8h.1M1061.0 545.2h.1M1059.8 545.6h.1M1062.0 544.7h.1M1063.1 544.0h.1M1064.8 544.5h.1M1065.2 544.5h.1M1062.3 546.4h.1M1060.3 547.3h.1M1059.9 546.5h.1M1063.5 547.0h.1M1062.5 546.5h.1M1060.9 547.0h.1M1061.9 547.3h.1M1062.8 547.4h.1M1063.2 547.6h.1M1063.1 547.6h.1M1065.7 546.6h.1M1060.9 548.6h.1M1064.4 548.1h.1M1069.4 546.2h.1M1071.0 545.1h.1M1062.3 549.2h.1M1061.9 549.3h.1M1062.9 550.6h.1M1067.2 548.1h.1M1062.4 550.5h.1M1070.4 546.4h.1M1063.9 550.6h.1M1062.7 551.1h.1M1067.6 548.8h.1M1065.3 549.6h.1M1065.8 551.2h.1M1063.1 552.0h.1M1063.2 553.0h.1M1064.5 551.2h.1M1062.9 552.1h.1M1063.1 554.2h.1M1065.6 552.8h.1M1062.7 553.2h.1M1065.8 552.4h.1M1071.4 550.5h.1M1063.4 554.7h.1M1074.2 549.6h.1M1064.4 554.1h.1M1067.0 553.4h.1M1065.2 554.5h.1M1068.2 553.4h.1M1064.8 554.8h.1M1065.1 555.5h.1M1064.2 556.6h.1M1065.1 556.5h.1M1069.3 553.6h.1M1064.3 556.9h.1M1066.5 555.1h.1M920.5 -2.9h.1M923.4 -3.2h.1M920.1 -3.1h.1M922.2 -2.5h.1M924.1 -2.9h.1M922.3 -2.4h.1M923.8 -2.5h.1M910.8 -1.0h.1M922.0 -2.6h.1M919.4 -2.0h.1M922.6 -2.1h.1M918.8 -2.4h.1M916.2 -1.4h.1M919.0 -1.5h.1M923.7 -2.2h.1M923.1 -2.7h.1M921.5 -1.3h.1M923.5 -1.6h.1M919.4 -1.6h.1M921.5 -1.8h.1M922.6 -1.7h.1M919.9 -1.1h.1M923.9 -2.6h.1M920.7 -2.1h.1M923.8 -2.1h.1M918.2 -1.7h.1M919.9 -1.6h.1M921.5 -2.1h.1M921.9 -2.0h.1M922.7 -2.6h.1M923.4 -1.7h.1M924.1 -1.7h.1M920.1 -1.3h.1M920.0 -1.7h.1M923.4 -2.5h.1M923.4 -1.0h.1M920.3 -1.1h.1M919.0 -1.5h.1M922.4 -1.8h.1M923.6 -1.5h.1M922.9 -1.3h.1M924.1 -0.9h.1M916.5 -0.3h.1M918.9 0.4h.1M923.4 -0.5h.1M920.1 -0.3h.1M921.8 -0.4h.1M920.7 -0.4h.1M924.1 0.8h.1M913.2 2.0h.1M918.8 1.4h.1M918.4 1.7h.1M918.1 1.2h.1M921.1 3.4h.1M921.6 2.6h.1M924.3 2.5h.1M913.8 2.4h.1M922.0 5.2h.1M920.9 4.7h.1M922.6 4.2h.1M923.5 4.2h.1M924.4 5.7h.1M924.2 5.9h.1M923.0 5.9h.1M923.8 6.3h.1M920.5 6.1h.1M924.2 6.9h.1M921.1 7.1h.1M921.4 6.8h.1M923.6 6.4h.1M924.0 6.6h.1M922.3 8.0h.1M924.0 7.4h.1M919.1 7.5h.1M916.9 9.0h.1M923.4 9.0h.1M911.6 8.9h.1M921.1 9.1h.1M924.3 8.5h.1M920.1 9.7h.1M920.9 10.6h.1M923.8 10.1h.1M921.4 10.3h.1M921.5 11.9h.1M923.6 10.9h.1M924.0 11.4h.1M922.5 11.3h.1M920.8 12.1h.1M920.3 13.0h.1M923.9 12.5h.1M924.0 12.7h.1M922.6 12.1h.1M918.5 13.6h.1M920.5 13.6h.1M920.9 13.8h.1M923.7 13.2h.1M923.6 15.0h.1M917.3 15.1h.1M919.3 14.8h.1M920.7 15.1h.1M924.4 15.7h.1M920.2 16.5h.1M924.3 15.7h.1M924.6 15.8h.1M921.4 17.8h.1M924.5 16.9h.1M924.3 16.9h.1M921.8 17.7h.1M919.3 19.2h.1M916.1 18.9h.1M919.6 18.3h.1M921.9 19.0h.1M923.9 18.0h.1M921.2 19.3h.1M924.7 18.7h.1M924.4 19.3h.1M924.2 19.1h.1M917.3 20.7h.1M924.0 20.1h.1M922.4 21.1h.1M924.6 20.2h.1M925.1 20.7h.1M924.0 20.4h.1M923.5 21.5h.1M917.8 22.4h.1M921.7 22.2h.1M924.7 21.9h.1M915.8 23.2h.1M921.6 23.2h.1M924.8 22.0h.1M922.0 23.2h.1M923.6 22.8h.1M919.2 23.6h.1M924.5 23.6h.1M920.8 24.9h.1M924.2 23.5h.1M923.9 24.0h.1M924.3 23.7h.1M922.1 25.4h.1M924.7 24.5h.1M926.2 24.8h.1M924.7 24.4h.1M918.4 26.5h.1M918.3 28.1h.1M926.4 25.8h.1M925.3 26.2h.1M921.0 26.6h.1M921.3 28.0h.1M920.3 28.5h.1M924.3 27.3h.1M926.1 26.7h.1M925.8 28.3h.1M926.1 27.9h.1M924.4 27.9h.1M923.7 28.7h.1M926.6 28.4h.1M926.7 29.3h.1M922.2 30.1h.1M926.4 28.6h.1M920.5 30.5h.1M926.9 30.2h.1M926.6 29.8h.1M926.6 29.6h.1M926.0 29.6h.1M920.7 33.1h.1M925.7 30.9h.1M928.2 31.2h.1M927.6 31.1h.1M922.0 32.6h.1M922.3 33.6h.1M926.5 32.9h.1M920.9 34.2h.1M928.6 30.9h.1M928.0 31.7h.1M928.1 33.0h.1M927.3 33.7h.1M928.4 32.9h.1M925.9 34.1h.1M929.2 33.6h.1M928.7 33.7h.1M929.4 33.9h.1M928.5 34.0h.1M925.8 35.2h.1M929.0 35.3h.1M927.0 36.1h.1M928.2 35.2h.1M929.9 34.9h.1M922.0 37.6h.1M928.0 36.8h.1M929.5 35.5h.1M925.3 37.2h.1M917.4 39.7h.1M926.3 37.3h.1M929.5 36.3h.1M928.7 37.3h.1M925.2 38.7h.1M925.0 38.7h.1M925.8 39.3h.1M930.5 37.4h.1M930.6 37.9h.1M930.2 37.7h.1M930.0 38.9h.1M929.3 38.5h.1M930.3 39.1h.1M930.2 39.2h.1M931.3 39.2h.1M922.7 41.3h.1M925.1 40.4h.1M928.4 40.4h.1M923.6 42.5h.1M929.6 41.1h.1M929.9 40.6h.1M931.7 40.2h.1M931.8 41.1h.1M929.1 42.5h.1M927.1 42.7h.1M926.8 43.0h.1M925.7 43.3h.1M923.4 44.2h.1M930.5 42.1h.1M923.1 44.4h.1M930.5 43.1h.1M928.1 43.5h.1M932.1 43.3h.1M931.1 43.9h.1M924.3 44.2h.1M928.5 44.5h.1M929.4 45.4h.1M929.2 44.9h.1M928.3 44.5h.1M931.9 44.1h.1M927.7 46.4h.1M925.3 46.2h.1M932.4 45.9h.1M921.8 46.9h.1M932.4 45.4h.1M921.8 48.2h.1M928.7 47.3h.1M931.0 46.2h.1M932.6 45.9h.1M930.9 47.2h.1M930.1 47.8h.1M930.2 47.3h.1M930.5 47.2h.1M929.0 47.7h.1M928.8 49.1h.1M932.4 48.1h.1M930.1 48.9h.1M929.9 49.2h.1M926.8 49.3h.1M923.4 50.2h.1M925.7 50.4h.1M931.3 49.7h.1M931.6 49.8h.1M931.8 49.4h.1M928.1 51.1h.1M933.2 50.7h.1M927.8 50.8h.1M931.2 51.0h.1M932.7 51.5h.1M924.5 52.2h.1M932.3 52.2h.1M932.9 51.6h.1M932.7 52.1h.1M931.3 52.3h.1M932.7 52.7h.1M933.2 52.9h.1M925.3 53.2h.1M932.5 53.4h.1M930.4 53.3h.1M933.1 53.1h.1M924.0 54.5h.1M929.5 53.9h.1M931.5 54.2h.1M932.5 55.0h.1M931.8 54.9h.1M933.5 55.0h.1M932.9 57.1h.1M933.4 57.2h.1M933.7 56.3h.1M930.8 57.0h.1M928.3 56.8h.1M933.3 58.2h.1M933.8 58.1h.1M929.8 59.0h.1M929.5 58.5h.1M932.3 60.0h.1M928.7 61.5h.1M928.8 61.0h.1M931.3 60.5h.1M933.5 60.7h.1M934.3 61.8h.1M933.9 61.6h.1M931.9 61.7h.1M934.6 62.3h.1M926.9 63.9h.1M926.0 64.9h.1M930.5 63.3h.1M934.0 64.0h.1M930.3 64.9h.1M929.2 65.4h.1M933.6 65.5h.1M934.5 64.8h.1M932.7 66.3h.1M929.7 66.8h.1M934.7 66.1h.1M935.5 66.1h.1M933.1 68.2h.1M927.9 68.3h.1M934.9 67.9h.1M934.7 67.6h.1M934.9 67.9h.1M932.1 69.7h.1M934.3 69.0h.1M925.6 70.4h.1M933.3 69.5h.1M933.7 69.4h.1M934.7 71.0h.1M929.7 71.1h.1M935.5 70.6h.1M935.7 70.3h.1M932.1 72.1h.1M934.9 71.7h.1M930.5 73.2h.1M935.4 72.1h.1M932.8 74.4h.1M935.2 73.5h.1M933.9 74.7h.1M935.7 73.2h.1M933.3 73.8h.1M937.1 75.7h.1M936.7 76.0h.1M936.1 75.5h.1M933.0 76.8h.1M936.9 75.5h.1M937.2 77.1h.1M933.2 77.5h.1M931.9 77.6h.1M936.3 77.4h.1M936.7 77.7h.1M932.5 79.4h.1M933.0 79.3h.1M926.4 81.0h.1M937.2 78.2h.1M930.2 81.8h.1M937.1 78.5h.1M932.6 79.9h.1M937.0 79.4h.1M938.1 79.7h.1M937.4 79.3h.1M938.2 80.0h.1M936.5 80.3h.1M938.4 80.6h.1M935.9 81.9h.1M937.5 80.4h.1M937.6 81.1h.1M938.8 80.3h.1M931.0 84.2h.1M938.1 81.3h.1M928.2 85.3h.1M938.5 82.2h.1M934.3 84.1h.1M936.4 83.8h.1M928.0 86.7h.1M935.3 84.3h.1M936.2 83.5h.1M935.4 86.1h.1M938.6 84.3h.1M939.7 84.1h.1M937.3 84.3h.1M938.4 83.7h.1M939.6 85.0h.1M940.1 84.3h.1M940.5 85.4h.1M939.5 85.5h.1M940.3 86.7h.1M938.0 86.7h.1M940.0 85.7h.1M940.3 86.3h.1M932.8 90.1h.1M938.5 88.3h.1M940.5 87.1h.1M940.3 86.9h.1M937.9 89.0h.1M939.0 89.6h.1M941.8 88.3h.1M941.7 88.5h.1M939.5 89.2h.1M938.6 91.4h.1M933.6 93.1h.1M939.0 90.5h.1M941.0 90.1h.1M936.9 92.8h.1M941.8 91.6h.1M938.9 91.9h.1M940.3 91.9h.1M941.3 92.0h.1M933.6 94.6h.1M940.8 92.5h.1M941.6 93.0h.1M939.4 92.7h.1M943.6 93.1h.1M941.3 92.9h.1M937.6 95.4h.1M936.0 95.4h.1M943.6 92.7h.1M940.5 95.4h.1M941.5 94.8h.1M941.3 95.1h.1M943.5 94.2h.1M943.7 94.3h.1M942.0 95.6h.1M941.9 96.1h.1M943.3 94.8h.1M943.0 95.6h.1M944.1 94.6h.1M943.9 96.2h.1M942.0 96.5h.1M942.8 96.5h.1M939.3 97.2h.1M944.5 96.3h.1M944.8 97.4h.1M938.3 98.6h.1M941.6 97.8h.1M944.6 96.5h.1M944.3 98.3h.1M943.0 98.6h.1M938.6 99.7h.1M943.8 98.0h.1M944.8 98.3h.1M945.5 98.9h.1M942.7 100.6h.1M942.3 100.1h.1M938.0 101.2h.1M938.4 100.8h.1M944.5 100.8h.1M944.3 100.3h.1M943.7 100.9h.1M940.5 101.5h.1M946.0 101.9h.1M943.5 102.1h.1M945.7 101.4h.1M942.9 101.6h.1M940.3 103.9h.1M938.7 104.7h.1M945.3 103.1h.1M945.4 102.5h.1M945.8 102.5h.1M946.1 103.0h.1M942.8 104.4h.1M944.2 103.6h.1M939.8 104.6h.1M946.2 104.4h.1M938.6 106.9h.1M946.2 104.2h.1M945.7 104.4h.1M947.0 105.3h.1M947.1 105.8h.1M945.9 105.3h.1M942.9 106.1h.1M946.5 106.7h.1M947.1 106.3h.1M944.5 107.1h.1M947.3 106.7h.1M943.9 107.5h.1M946.7 108.4h.1M945.9 108.3h.1M943.8 108.5h.1M947.3 107.6h.1M947.6 108.7h.1M943.9 110.2h.1M943.0 109.5h.1M947.3 109.1h.1M947.0 108.7h.1M941.6 111.7h.1M945.7 110.1h.1M946.8 109.9h.1M945.4 110.1h.1M946.4 112.1h.1M944.8 112.2h.1M948.7 111.6h.1M946.4 111.0h.1M946.8 112.1h.1M947.2 113.2h.1M943.8 113.4h.1M948.0 112.1h.1M947.9 113.0h.1M941.7 115.3h.1M947.0 114.3h.1M939.9 115.7h.1M945.0 114.7h.1M944.4 115.5h.1M946.9 114.7h.1M943.7 116.0h.1M949.2 114.2h.1M944.4 116.9h.1M943.7 116.3h.1M948.9 115.4h.1M944.2 116.1h.1M940.8 116.8h.1M938.3 118.6h.1M949.0 116.2h.1M946.0 116.7h.1M949.5 117.1h.1M945.6 118.9h.1M950.0 117.9h.1M950.0 118.0h.1M947.2 118.6h.1M949.5 118.8h.1M944.9 120.2h.1M949.6 118.1h.1M948.1 119.0h.1M944.5 119.6h.1M937.4 122.7h.1M946.3 120.0h.1M948.1 119.6h.1M947.8 120.5h.1M949.7 121.3h.1M946.5 121.5h.1M946.8 120.8h.1M945.9 121.7h.1M945.5 121.3h.1M945.4 122.4h.1M950.3 121.4h.1M948.7 121.8h.1M949.5 122.4h.1M949.4 121.3h.1M951.1 122.2h.1M951.0 122.8h.1M946.7 123.9h.1M950.1 122.7h.1M948.1 123.9h.1M949.9 123.4h.1M951.0 123.6h.1M950.9 123.8h.1M947.4 124.1h.1M950.7 124.5h.1M947.9 125.6h.1M943.9 126.5h.1M947.8 126.2h.1M944.8 126.7h.1M945.3 127.5h.1M951.1 126.1h.1M941.2 128.5h.1M951.6 126.1h.1M944.4 127.3h.1M940.8 129.7h.1M951.3 127.0h.1M949.0 127.7h.1M951.3 127.1h.1M948.9 128.0h.1M952.0 128.5h.1M950.3 128.6h.1M950.1 128.8h.1M951.8 128.1h.1M950.3 129.9h.1M952.6 129.5h.1M947.8 129.6h.1M940.6 131.3h.1M952.2 129.6h.1M951.5 130.2h.1M951.8 130.8h.1M951.2 130.3h.1M945.6 132.0h.1M948.9 131.2h.1M952.5 131.2h.1M944.0 132.7h.1M948.9 132.2h.1M947.8 133.0h.1M946.4 134.0h.1M953.2 131.9h.1M953.1 132.1h.1M948.8 132.9h.1M948.5 133.3h.1M948.3 135.1h.1M945.8 135.4h.1M942.0 136.0h.1M950.8 133.5h.1M947.9 134.3h.1M953.7 134.8h.1M952.5 135.3h.1M946.5 135.7h.1M953.8 134.6h.1M952.7 136.3h.1M953.8 136.0h.1M953.6 135.4h.1M952.7 136.0h.1M947.8 136.7h.1M953.3 136.8h.1M942.6 139.6h.1M953.4 136.8h.1M950.4 138.0h.1M951.9 136.9h.1M946.9 139.1h.1M952.9 137.6h.1M943.6 139.9h.1M948.7 139.4h.1M951.6 139.3h.1M951.3 139.5h.1M954.7 138.3h.1M954.7 138.9h.1M954.4 138.6h.1M955.0 140.4h.1M953.2 140.4h.1M953.5 140.6h.1M953.3 140.6h.1M949.4 140.9h.1M943.3 144.0h.1M955.3 140.8h.1M953.1 141.3h.1M955.2 141.3h.1M955.5 142.7h.1M952.6 143.0h.1M953.9 142.1h.1M950.6 142.9h.1M953.0 143.7h.1M955.2 143.0h.1M948.9 144.8h.1M954.4 144.1h.1M955.4 143.9h.1M955.7 143.8h.1M949.4 146.1h.1M953.8 144.9h.1M954.7 144.0h.1M954.4 146.1h.1M949.2 147.5h.1M953.6 146.1h.1M953.5 146.7h.1M949.4 146.8h.1M955.7 147.2h.1M950.5 147.6h.1M949.6 148.4h.1M957.0 146.4h.1M955.6 148.2h.1M954.3 148.2h.1M951.7 149.4h.1M953.9 147.8h.1M954.9 149.1h.1M957.6 148.9h.1M957.3 148.8h.1M952.6 150.0h.1M951.2 150.3h.1M955.1 150.3h.1M952.8 151.4h.1M953.1 151.1h.1M956.9 150.4h.1M955.8 150.5h.1M955.4 150.9h.1M957.1 150.5h.1M954.5 151.6h.1M957.4 151.8h.1M957.5 152.1h.1M958.5 151.4h.1M956.8 151.3h.1M956.7 151.9h.1M957.2 152.6h.1M956.0 153.5h.1M955.2 154.0h.1M957.0 153.0h.1M951.0 155.2h.1M953.8 154.8h.1M957.8 153.9h.1M956.1 154.9h.1M958.0 153.2h.1M955.7 154.6h.1M957.4 155.1h.1M958.3 154.8h.1M952.4 156.8h.1M957.0 154.9h.1M958.8 156.1h.1M956.3 157.0h.1M956.4 156.3h.1M956.2 156.3h.1M957.9 155.9h.1M958.3 157.3h.1M956.7 157.3h.1M957.8 156.9h.1M959.0 157.0h.1M953.5 159.4h.1M956.7 158.2h.1M960.6 157.8h.1M956.9 158.4h.1M956.3 160.4h.1M960.3 158.2h.1M950.6 162.0h.1M957.2 160.0h.1M950.6 162.9h.1M955.7 160.8h.1M956.8 160.6h.1M955.8 161.3h.1M955.8 161.2h.1M961.3 160.2h.1M953.0 162.9h.1M957.7 161.6h.1M958.3 161.2h.1M959.4 161.1h.1M961.0 161.3h.1M960.4 162.5h.1M956.3 163.4h.1M959.5 162.1h.1M961.6 162.8h.1M952.3 165.5h.1M962.2 163.0h.1M959.8 162.8h.1M959.6 163.0h.1M954.1 166.4h.1M959.7 164.4h.1M960.2 164.2h.1M958.4 164.8h.1M962.5 163.3h.1M957.6 166.8h.1M961.9 164.8h.1M961.2 164.7h.1M959.8 166.2h.1M957.1 167.8h.1M952.7 169.0h.1M956.6 167.6h.1M962.4 165.7h.1M963.6 166.1h.1M958.4 168.5h.1M962.9 167.0h.1M962.9 166.3h.1M964.1 168.0h.1M956.2 171.0h.1M964.0 167.1h.1M962.2 168.5h.1M964.4 168.0h.1M953.1 173.3h.1M959.9 170.6h.1M963.3 168.5h.1M964.0 168.4h.1M964.0 170.2h.1M962.5 170.3h.1M963.4 170.4h.1M962.4 169.9h.1M963.7 170.5h.1M965.1 169.9h.1M961.0 171.8h.1M964.8 170.5h.1M957.6 174.2h.1M961.9 173.2h.1M964.2 172.2h.1M962.8 172.2h.1M965.6 171.4h.1M955.0 175.2h.1M963.0 173.8h.1M965.6 173.1h.1M965.3 172.2h.1M961.2 173.9h.1M964.4 173.8h.1M966.1 173.9h.1M963.2 174.7h.1M965.0 174.0h.1M955.7 179.6h.1M963.5 176.2h.1M961.2 176.6h.1M966.5 174.6h.1M966.1 175.0h.1M963.6 176.6h.1M961.7 177.9h.1M963.3 177.2h.1M965.6 175.8h.1M962.3 177.4h.1M967.3 177.1h.1M961.8 178.5h.1M959.4 180.4h.1M964.1 177.6h.1M967.1 176.6h.1M966.3 178.6h.1M967.8 177.4h.1M967.1 177.5h.1M965.1 178.9h.1M959.5 181.7h.1M965.1 179.7h.1M968.6 178.7h.1M967.3 179.5h.1M968.3 178.9h.1M968.6 178.5h.1M967.6 180.6h.1M967.9 180.4h.1M968.7 180.1h.1M968.7 181.3h.1M968.1 180.6h.1M964.2 182.1h.1M968.8 181.0h.1M962.0 184.1h.1M961.1 185.2h.1M966.8 182.5h.1M968.9 181.5h.1M964.2 183.8h.1M968.9 182.5h.1M962.9 185.9h.1M969.2 183.0h.1M969.8 183.1h.1M969.4 182.5h.1M967.8 183.2h.1M966.1 185.3h.1M970.3 184.2h.1M970.1 184.1h.1M964.5 185.9h.1M970.4 184.9h.1M970.6 184.1h.1M968.4 185.7h.1M966.6 186.6h.1M970.7 184.6h.1M968.5 186.9h.1M965.6 187.4h.1M969.4 186.6h.1M968.2 187.2h.1M968.8 186.0h.1M970.9 186.5h.1M965.6 189.0h.1M969.5 187.3h.1M970.8 186.5h.1M969.5 187.9h.1M967.0 190.2h.1M968.5 188.7h.1M968.6 189.0h.1M971.1 187.6h.1M971.8 187.1h.1M971.0 189.5h.1M972.1 188.5h.1M971.2 188.8h.1M970.3 189.4h.1M973.2 189.8h.1M971.1 190.1h.1M971.1 190.2h.1M966.5 192.7h.1M967.9 192.3h.1M972.7 191.3h.1M970.2 192.2h.1M968.9 192.8h.1M970.4 191.6h.1M971.2 191.6h.1M968.5 193.7h.1M969.8 193.7h.1M972.2 192.4h.1M972.3 192.2h.1M974.1 191.8h.1M967.8 195.7h.1M973.3 193.3h.1M974.1 192.4h.1M970.6 193.8h.1M971.0 193.7h.1M973.7 194.6h.1M972.3 194.9h.1M968.6 195.5h.1M971.0 194.6h.1M968.3 196.2h.1M975.1 194.9h.1M974.9 195.2h.1M970.9 195.8h.1M970.7 196.5h.1M969.0 196.6h.1M969.2 197.9h.1M975.1 196.3h.1M973.6 196.6h.1M973.7 196.3h.1M969.6 199.0h.1M975.8 196.7h.1M975.3 197.1h.1M975.1 196.3h.1M974.8 198.6h.1M971.9 199.5h.1M965.4 202.8h.1M975.9 198.0h.1M976.4 198.7h.1M975.9 198.8h.1M974.1 200.3h.1M970.9 201.4h.1M976.5 199.3h.1M977.3 200.1h.1M974.5 201.0h.1M974.8 200.3h.1M971.7 202.3h.1M972.8 201.8h.1M971.9 202.7h.1M975.7 201.5h.1M977.5 200.2h.1M975.5 201.0h.1M969.1 205.4h.1M974.9 203.3h.1M976.4 202.7h.1M971.4 204.7h.1M977.3 201.8h.1M970.0 206.6h.1M977.3 202.7h.1M978.8 202.8h.1M976.7 203.1h.1M974.5 204.4h.1M976.2 204.6h.1M976.3 205.1h.1M974.9 205.4h.1M976.5 205.0h.1M976.7 205.6h.1M978.5 205.3h.1M977.4 205.9h.1M976.5 205.2h.1M974.8 207.1h.1M977.5 207.0h.1M973.9 207.5h.1M973.3 208.3h.1M977.6 207.0h.1M976.5 207.4h.1M979.6 207.1h.1M972.7 209.5h.1M979.8 206.3h.1M980.5 206.9h.1M979.9 206.4h.1M977.4 208.6h.1M973.8 210.7h.1M980.0 208.4h.1M980.0 208.4h.1M979.7 207.5h.1M979.4 208.7h.1M979.4 209.8h.1M980.5 209.4h.1M976.9 209.9h.1M978.4 210.3h.1M979.0 210.0h.1M972.0 214.2h.1M978.2 210.7h.1M981.1 209.9h.1M981.1 210.8h.1M980.8 211.4h.1M979.7 211.0h.1M978.4 212.0h.1M980.8 212.5h.1M973.2 215.0h.1M982.1 211.1h.1M976.3 215.9h.1M979.5 214.0h.1M982.6 213.2h.1M981.4 212.9h.1M979.8 214.3h.1M975.9 217.3h.1M979.5 214.6h.1M977.0 216.3h.1M980.3 215.0h.1M977.0 217.0h.1M981.4 215.5h.1M983.5 214.0h.1M978.3 217.1h.1M972.3 219.2h.1M979.1 216.4h.1M984.4 216.0h.1M980.5 217.4h.1M982.6 215.8h.1M983.7 216.1h.1M983.5 216.0h.1M976.9 220.3h.1M972.8 222.5h.1M975.9 220.9h.1M980.4 218.0h.1M984.0 216.6h.1M980.0 219.7h.1M984.3 218.5h.1M983.7 218.4h.1M982.3 218.4h.1M982.6 219.6h.1M983.3 219.7h.1M985.4 218.4h.1M985.5 218.5h.1M982.6 219.4h.1M985.1 220.2h.1M985.9 219.1h.1M984.1 220.9h.1M983.6 220.3h.1M985.1 220.6h.1M983.3 222.5h.1M986.1 220.5h.1M986.2 220.1h.1M984.4 221.8h.1M984.8 221.4h.1M982.1 224.3h.1M986.2 222.2h.1M984.8 222.1h.1M982.0 223.8h.1M986.6 221.9h.1M985.5 223.1h.1M987.4 222.9h.1M987.0 222.9h.1M987.0 223.3h.1M986.8 222.6h.1M986.3 224.7h.1M988.0 224.0h.1M986.8 224.4h.1M986.4 224.6h.1M988.1 224.6h.1M980.7 228.0h.1M987.2 225.5h.1M987.0 224.8h.1M988.0 226.3h.1M981.5 228.9h.1M985.8 226.6h.1M986.1 227.1h.1M989.0 226.0h.1M987.5 226.6h.1M989.2 226.4h.1M985.0 227.9h.1M981.7 230.7h.1M987.8 228.1h.1M989.5 227.2h.1M987.6 228.2h.1M989.0 227.4h.1M986.2 230.8h.1M984.0 231.8h.1M988.1 229.6h.1M989.7 228.7h.1M985.4 232.1h.1M990.1 229.3h.1M988.9 229.9h.1M990.1 229.8h.1M986.3 232.0h.1M983.5 233.6h.1M984.5 232.9h.1M980.5 234.6h.1M985.5 233.5h.1M986.4 233.8h.1M986.9 233.8h.1M991.3 232.1h.1M987.0 233.7h.1M985.7 233.6h.1M991.8 232.3h.1M991.8 232.8h.1M991.5 232.3h.1M987.4 235.0h.1M990.1 233.5h.1M988.0 235.5h.1M983.0 237.7h.1M987.6 235.3h.1M987.6 235.2h.1M990.8 234.8h.1M984.0 237.7h.1M988.7 236.0h.1M992.2 234.7h.1M991.9 235.2h.1M991.1 236.5h.1M989.2 237.6h.1M991.6 236.5h.1M987.2 238.8h.1M986.5 239.3h.1M991.7 237.9h.1M993.5 237.1h.1M991.7 237.5h.1M991.4 239.0h.1M987.6 240.5h.1M990.3 238.5h.1M993.7 238.2h.1M993.4 237.7h.1M994.6 238.8h.1M994.4 239.1h.1M984.5 242.7h.1M991.8 239.1h.1M994.4 239.9h.1M994.8 239.0h.1M994.8 239.7h.1M993.6 240.5h.1M990.7 241.2h.1M991.0 242.2h.1M992.6 241.7h.1M995.3 240.3h.1M994.5 240.4h.1M988.0 243.2h.1M993.4 243.0h.1M995.0 242.0h.1M991.0 244.1h.1M995.2 241.2h.1M995.9 242.7h.1M993.4 244.1h.1M991.4 244.9h.1M986.8 247.0h.1M995.4 242.8h.1M990.8 245.9h.1M996.4 243.4h.1M995.9 244.0h.1M994.5 244.6h.1M995.8 245.5h.1M991.4 247.4h.1M996.9 245.0h.1M996.2 244.5h.1M993.0 246.4h.1M994.4 246.4h.1M990.3 249.0h.1M996.5 246.5h.1M996.0 245.9h.1M995.7 246.2h.1M997.2 247.1h.1M996.1 247.6h.1M995.8 247.5h.1M997.7 246.2h.1M992.8 248.6h.1M997.4 247.7h.1M991.6 250.1h.1M997.7 247.8h.1M988.4 251.1h.1M995.7 249.9h.1M989.6 252.6h.1M990.5 252.0h.1M990.9 252.0h.1M996.7 249.4h.1M994.5 251.0h.1M997.7 250.2h.1M999.1 249.8h.1M998.1 250.2h.1M998.6 250.3h.1M997.9 251.3h.1M994.3 252.4h.1M999.5 250.5h.1M996.1 251.8h.1M996.9 253.0h.1M999.8 252.0h.1M999.8 251.6h.1M994.8 253.6h.1M999.9 251.3h.1M996.8 254.2h.1M999.1 253.1h.1M997.6 254.2h.1M996.2 254.6h.1M999.2 253.6h.1M989.3 257.9h.1M1000.4 253.7h.1M997.4 254.2h.1M997.4 255.0h.1M992.7 257.7h.1M998.2 255.7h.1M998.8 255.7h.1M999.6 255.3h.1M1001.0 254.5h.1M996.0 258.2h.1M996.0 257.5h.1M996.7 257.4h.1M1000.6 255.5h.1M1000.9 257.2h.1M1000.8 256.6h.1M1000.7 256.5h.1M1001.2 256.3h.1M1002.0 257.3h.1M1001.1 258.0h.1M994.5 261.0h.1M997.9 258.7h.1M997.6 259.0h.1M1000.7 259.8h.1M1000.0 259.5h.1M1000.6 258.8h.1M1000.4 259.7h.1M990.8 263.0h.1M999.6 260.9h.1M1001.4 260.5h.1M1003.1 260.0h.1M1001.9 261.5h.1M1001.3 260.8h.1M995.2 263.0h.1M1001.2 261.5h.1M996.0 264.6h.1M1002.9 261.3h.1M998.9 263.4h.1M995.5 264.3h.1M1003.1 262.3h.1M1000.2 263.8h.1M1001.8 263.1h.1M1003.7 262.2h.1M1002.7 264.1h.1M999.4 265.4h.1M1002.2 263.9h.1M1001.7 264.2h.1M1004.6 264.6h.1M1001.6 265.0h.1M995.0 267.5h.1M1003.3 265.1h.1M999.9 266.6h.1M1003.4 266.2h.1M1003.2 265.6h.1M1002.6 266.8h.1M997.7 268.8h.1M1002.0 267.8h.1M1003.0 266.8h.1M1004.3 267.3h.1M1001.0 267.5h.1M1005.5 266.9h.1M1005.6 266.9h.1M1000.9 269.3h.1M1000.8 269.6h.1M993.0 271.8h.1M1003.3 268.7h.1M1003.5 269.5h.1M1003.0 269.7h.1M1002.7 270.0h.1M1006.1 268.4h.1M1002.9 270.2h.1M1005.8 269.4h.1M1006.3 270.2h.1M1002.0 270.9h.1M1004.6 270.8h.1M1007.1 270.7h.1M1003.8 271.3h.1M1006.4 270.1h.1M1001.8 271.8h.1M1004.4 272.0h.1M1005.5 272.3h.1M1001.3 273.4h.1M1006.1 272.4h.1M1004.2 272.3h.1M1005.7 273.4h.1M1001.5 274.0h.1M1004.8 273.3h.1M1007.7 272.2h.1M1007.3 272.9h.1M1004.0 275.2h.1M1007.5 273.8h.1M1007.6 274.1h.1M1008.4 274.4h.1M1007.6 275.0h.1M1007.7 274.4h.1M1006.3 275.6h.1M1006.9 275.6h.1M1002.8 277.6h.1M1007.8 275.4h.1M1007.1 276.3h.1M1007.1 276.5h.1M1007.0 277.7h.1M1007.0 276.6h.1M1007.8 277.1h.1M1006.0 276.9h.1M1007.1 278.7h.1M1007.1 277.9h.1M1007.1 278.6h.1M1001.2 279.9h.1M1005.0 278.8h.1M1008.4 278.7h.1M1007.2 279.4h.1M1009.2 278.7h.1M1007.9 279.5h.1M1007.2 278.8h.1M1001.3 282.1h.1M1009.8 279.4h.1M1008.3 280.5h.1M1005.7 281.4h.1M1007.3 280.8h.1M1006.0 282.2h.1M1010.3 279.9h.1M1009.8 280.3h.1M1004.5 282.1h.1M1010.5 281.4h.1M1005.6 283.1h.1M1005.3 282.9h.1M1009.9 281.6h.1M1010.8 281.9h.1M1007.0 283.4h.1M1003.9 284.7h.1M1010.2 282.2h.1M1009.4 282.5h.1M1006.1 284.9h.1M1009.3 284.0h.1M1010.8 283.7h.1M1010.2 284.1h.1M1011.6 284.6h.1M1005.7 286.4h.1M1007.3 285.5h.1M1004.3 287.3h.1M1011.9 284.5h.1M1006.7 287.4h.1M999.5 290.0h.1M1003.0 288.7h.1M1010.8 285.8h.1M1012.2 285.1h.1M1006.8 288.9h.1M1010.3 287.5h.1M1012.4 286.0h.1M1010.6 287.3h.1M1008.8 288.6h.1M1011.5 288.0h.1M1012.7 286.9h.1M1012.3 287.4h.1M1012.3 287.6h.1M1005.4 291.1h.1M1006.5 290.7h.1M1006.7 290.4h.1M1011.5 289.7h.1M1012.8 290.1h.1M1011.3 290.9h.1M1011.8 290.4h.1M1010.2 290.8h.1M1013.5 290.3h.1M1007.9 293.3h.1M1011.2 292.0h.1M1007.9 292.2h.1M1013.9 290.4h.1M1006.0 295.0h.1M1011.3 292.8h.1M1014.0 291.1h.1M1008.7 293.8h.1M1009.2 293.2h.1M1012.1 293.3h.1M1010.4 294.6h.1M1008.9 294.3h.1M1013.9 292.4h.1M1014.6 292.9h.1M1012.5 294.7h.1M1012.4 293.8h.1M1015.1 293.6h.1M1014.9 293.3h.1M1003.8 298.2h.1M1012.3 296.1h.1M1015.1 294.5h.1M1012.3 296.1h.1M1015.8 295.6h.1M1011.4 297.7h.1M1003.7 300.3h.1M1014.0 296.2h.1M1014.5 295.7h.1M1009.0 299.4h.1M1015.6 296.3h.1M1016.5 296.8h.1M1008.3 299.0h.1M1012.8 297.4h.1M1015.1 297.8h.1M1015.9 297.9h.1M1014.1 298.6h.1M1015.7 297.9h.1M1016.8 298.9h.1M1014.2 299.0h.1M1005.3 302.8h.1M1016.9 298.1h.1M1016.9 298.5h.1M1005.6 303.5h.1M1017.6 300.0h.1M1011.1 301.3h.1M1015.3 300.7h.1M1016.9 299.2h.1M1011.2 302.7h.1M1016.5 301.3h.1M1014.2 301.5h.1M1015.0 301.6h.1M1017.2 301.6h.1M1017.9 301.7h.1M1016.1 302.7h.1M1017.3 302.2h.1M1017.2 303.2h.1M1014.3 303.7h.1M1018.6 302.5h.1M1013.6 304.0h.1M1015.3 305.2h.1M1008.3 307.8h.1M1017.1 303.5h.1M1010.9 307.2h.1M1018.8 304.2h.1M1018.8 305.3h.1M1018.7 304.9h.1M1014.5 306.0h.1M1015.1 306.4h.1M1009.7 309.6h.1M1015.8 306.6h.1M1016.1 306.8h.1M1018.4 305.4h.1M1016.9 307.2h.1M1014.9 308.6h.1M1011.3 310.3h.1M1017.3 306.9h.1M1019.1 307.4h.1M1017.4 308.5h.1M1017.6 308.0h.1M1014.9 309.6h.1M1020.3 307.7h.1M1013.3 309.9h.1M1020.6 308.4h.1M1018.9 309.2h.1M1014.9 311.0h.1M1013.5 311.7h.1M1021.0 309.6h.1M1020.3 310.0h.1M1021.1 309.9h.1M1013.2 312.1h.1M1020.9 311.2h.1M1020.5 311.1h.1M1020.8 310.8h.1M1014.6 313.8h.1M1018.8 311.2h.1M1015.0 313.7h.1M1021.8 310.9h.1M1017.4 313.9h.1M1016.6 313.2h.1M1020.7 312.8h.1M1022.1 312.7h.1M1018.4 314.7h.1M1018.3 314.4h.1M1020.1 313.0h.1M1015.0 316.3h.1M1021.8 313.9h.1M1020.0 314.5h.1M1022.7 314.2h.1M1021.5 314.7h.1M1022.4 314.6h.1M1021.0 315.7h.1M1022.5 314.6h.1M1022.0 316.0h.1M1021.6 315.9h.1M1018.2 317.8h.1M1023.7 315.5h.1M1022.7 316.4h.1M1014.7 320.4h.1M1023.8 316.7h.1M1024.3 317.2h.1M1024.2 317.7h.1M1022.3 318.8h.1M1023.1 318.6h.1M1024.9 318.7h.1M1024.5 319.2h.1M1025.1 318.8h.1M1015.3 321.7h.1M1023.5 320.1h.1M1024.8 319.2h.1M1018.5 322.0h.1M1022.9 320.1h.1M1023.3 320.9h.1M1025.4 320.9h.1M1021.3 322.6h.1M1024.3 320.7h.1M1024.5 321.5h.1M1020.4 323.3h.1M1024.8 322.4h.1M1025.4 321.7h.1M1021.3 323.0h.1M1025.1 322.9h.1M1020.2 325.6h.1M1020.5 324.8h.1M1025.0 323.7h.1M1025.0 323.0h.1M1024.6 324.9h.1M1024.8 324.6h.1M1022.5 325.7h.1M1024.4 323.9h.1M1025.6 324.2h.1M1026.5 323.9h.1M1027.1 325.0h.1M1024.2 326.0h.1M1025.4 325.2h.1M1026.9 325.0h.1M1024.0 325.5h.1M1025.0 326.9h.1M1027.4 325.8h.1M1027.1 325.9h.1M1021.6 327.7h.1M1024.5 327.0h.1M1027.8 326.8h.1M1028.0 326.4h.1M1024.2 328.6h.1M1024.6 328.5h.1M1028.5 327.6h.1M1020.0 330.4h.1M1028.2 327.5h.1M1021.1 330.9h.1M1028.4 328.6h.1M1025.5 329.4h.1M1020.5 332.5h.1M1024.8 330.6h.1M1022.8 330.5h.1M1027.7 330.3h.1M1028.2 329.3h.1M1025.8 330.6h.1M1028.9 329.4h.1M1027.2 331.7h.1M1027.7 331.4h.1M1029.6 331.0h.1M1029.7 330.7h.1M1028.2 330.5h.1M1027.0 332.8h.1M1027.3 332.2h.1M1029.4 331.5h.1M1030.1 331.7h.1M1029.7 331.8h.1M1026.9 333.8h.1M1030.7 332.9h.1M1022.9 335.4h.1M1019.2 336.5h.1M1028.8 334.0h.1M1028.6 334.3h.1M1024.8 335.6h.1M1027.8 334.3h.1M1023.2 336.5h.1M1024.0 337.8h.1M1024.1 337.8h.1M1031.2 334.9h.1M1030.7 334.6h.1M1030.8 334.8h.1M1020.3 340.3h.1M1029.5 337.0h.1M1030.3 336.1h.1M1023.9 339.1h.1M1025.7 338.0h.1M1030.2 336.7h.1M1031.6 336.8h.1M1026.2 338.9h.1M1029.6 337.8h.1M1032.6 337.9h.1M1030.3 338.4h.1M1026.7 339.7h.1M1030.3 338.5h.1M1030.1 339.9h.1M1032.9 338.2h.1M1030.8 339.5h.1M1031.6 338.8h.1M1026.5 341.8h.1M1025.6 342.1h.1M1030.7 340.6h.1M1032.6 339.4h.1M1030.5 342.3h.1M1032.5 340.6h.1M1031.8 341.9h.1M1027.8 343.5h.1M1033.4 342.5h.1M1031.9 343.0h.1M1032.3 341.7h.1M1034.0 342.0h.1M1030.9 344.0h.1M1029.5 345.0h.1M1032.8 343.3h.1M1032.2 343.6h.1M1032.8 342.7h.1M1028.6 346.2h.1M1034.1 344.1h.1M1034.2 343.5h.1M1031.7 344.9h.1M1032.3 346.3h.1M1032.9 345.5h.1M1033.4 345.0h.1M1032.8 346.1h.1M1035.3 344.7h.1M1036.0 345.5h.1M1035.4 345.9h.1M1029.7 348.7h.1M1035.2 345.5h.1M1036.2 346.5h.1M1031.0 349.4h.1M1033.9 347.2h.1M1035.7 347.4h.1M1032.8 348.7h.1M1035.1 347.7h.1M1035.6 348.7h.1M1033.9 348.8h.1M1035.2 349.3h.1M1036.5 349.4h.1M1035.6 349.8h.1M1035.6 348.8h.1M1032.1 350.3h.1M1036.4 350.2h.1M1030.1 353.2h.1M1032.9 351.6h.1M1025.4 354.8h.1M1035.9 349.7h.1M1036.3 351.7h.1M1037.9 350.1h.1M1036.9 351.4h.1M1037.5 351.2h.1M1029.6 354.2h.1M1037.7 352.4h.1M1031.4 355.2h.1M1038.2 351.1h.1M1032.5 354.8h.1M1035.0 353.0h.1M1035.1 353.6h.1M1038.0 353.0h.1M1032.2 354.9h.1M1036.4 353.8h.1M1037.7 353.4h.1M1030.5 357.4h.1M1038.7 354.0h.1M1038.6 354.0h.1M1039.1 353.0h.1M1038.6 354.5h.1M1038.4 354.6h.1M1037.4 356.1h.1M1038.8 354.9h.1M1039.1 354.3h.1M1034.2 358.8h.1M1038.1 356.1h.1M1040.3 355.9h.1M1032.1 358.9h.1M1032.6 360.5h.1M1035.9 358.6h.1M1037.1 358.4h.1M1039.8 357.2h.1M1030.8 362.2h.1M1040.9 357.2h.1M1040.7 358.0h.1M1039.7 358.6h.1M1038.9 358.9h.1M1039.8 359.1h.1M1040.4 358.6h.1M1039.3 359.5h.1M1038.2 359.4h.1M1041.4 359.5h.1M1036.6 362.3h.1M1040.4 359.7h.1M1036.0 362.1h.1M1033.7 363.2h.1M1042.3 360.2h.1M1039.2 361.9h.1M1042.2 361.2h.1M1041.8 360.7h.1M1040.9 362.2h.1M1035.5 365.0h.1M1041.0 363.0h.1M1042.4 361.5h.1M1040.7 362.0h.1M1043.2 363.1h.1M1043.2 362.4h.1M1040.0 364.0h.1M1033.2 366.6h.1M1043.1 362.2h.1M1040.8 365.5h.1M1042.6 363.5h.1M1043.1 364.2h.1M1041.8 364.7h.1M1038.3 366.0h.1M1044.4 364.8h.1M1041.1 365.5h.1M1040.1 366.4h.1M1043.5 365.3h.1M1044.0 365.1h.1M1040.2 366.9h.1M1043.6 365.9h.1M1043.4 366.5h.1M1043.4 366.5h.1M1045.0 366.6h.1M1038.3 370.1h.1M1045.0 366.3h.1M1041.9 367.4h.1M1045.0 366.8h.1M1043.9 367.7h.1M1044.7 367.8h.1M1035.0 372.4h.1M1042.5 368.6h.1M1042.9 368.8h.1M1042.8 369.5h.1M1043.5 369.0h.1M1046.1 368.4h.1M1044.9 368.4h.1M1043.7 370.0h.1M1044.5 370.4h.1M1042.7 371.6h.1M1038.8 373.0h.1M1041.3 371.3h.1M1041.9 372.3h.1M1044.8 371.3h.1M1045.4 370.7h.1M1046.4 370.2h.1M1046.6 371.0h.1M1046.1 372.5h.1M1046.2 372.0h.1M1044.7 373.4h.1M1042.9 373.5h.1M1045.1 372.1h.1M1046.6 372.5h.1M1045.1 373.5h.1M1047.5 372.2h.1M1041.7 375.0h.1M1039.4 376.7h.1M1042.5 376.6h.1M1048.0 374.0h.1M1047.2 374.4h.1M1047.2 373.8h.1M1047.0 373.8h.1M1039.9 379.2h.1M1048.3 375.0h.1M1042.0 377.7h.1M1048.7 375.0h.1M1044.5 377.5h.1M1048.6 375.7h.1M1049.4 375.7h.1M1045.4 377.1h.1M1039.3 380.4h.1M1048.9 376.6h.1M1048.3 377.5h.1M1045.3 378.6h.1M1040.8 380.6h.1M1049.6 377.8h.1M1047.1 379.5h.1M1048.9 378.7h.1M1049.8 377.5h.1M1048.0 378.7h.1M1043.7 381.4h.1M1050.2 378.3h.1M1049.7 378.5h.1M1049.5 379.7h.1M1049.2 379.4h.1M1043.9 383.3h.1M1042.3 384.1h.1M1051.1 380.0h.1M1046.2 381.6h.1M1045.5 381.8h.1M1050.1 381.7h.1M1046.4 383.0h.1M1045.7 383.7h.1M1046.2 382.6h.1M1049.5 382.7h.1M1048.5 382.9h.1M1047.5 383.1h.1M1045.0 384.1h.1M1051.5 381.7h.1M1041.1 388.3h.1M1050.1 383.6h.1M1049.7 383.8h.1M1051.4 382.7h.1M1047.4 384.7h.1M1049.3 385.5h.1M1051.0 384.6h.1M1048.4 385.6h.1M1048.9 384.8h.1M1050.7 385.4h.1M1049.5 386.8h.1M1043.1 389.7h.1M1052.4 384.8h.1M1049.5 386.1h.1M1047.1 389.0h.1M1050.2 387.2h.1M1051.0 387.3h.1M1050.4 387.8h.1M1049.1 388.9h.1M1052.2 387.3h.1M1053.9 386.5h.1M1052.7 386.7h.1M1052.8 387.7h.1M1053.9 387.4h.1M1054.1 387.5h.1M1054.1 387.5h.1M1053.7 388.0h.1M1053.9 388.6h.1M1052.5 389.5h.1M1054.4 389.0h.1M1054.1 388.9h.1M1053.1 391.0h.1M1053.0 391.0h.1M1051.0 391.1h.1M1053.1 390.7h.1M1055.0 391.0h.1M1055.3 390.7h.1M1045.4 395.7h.1M1044.0 396.3h.1M1054.0 391.2h.1M1056.8 391.8h.1M1051.3 393.8h.1M1055.6 391.8h.1M1054.8 392.0h.1M1056.3 393.2h.1M1056.5 392.5h.1M1053.2 394.7h.1M1055.7 393.1h.1M1055.6 394.9h.1M1053.0 395.2h.1M1055.9 395.0h.1M1057.7 394.0h.1M1048.9 397.1h.1M1053.8 396.0h.1M1054.0 396.0h.1M1053.0 396.5h.1M1057.7 395.1h.1M1058.1 394.5h.1M1058.3 395.3h.1M1055.6 396.7h.1M1055.5 396.4h.1M1056.8 396.2h.1M1057.6 397.5h.1M1059.0 396.7h.1M1058.1 397.0h.1M1055.2 398.1h.1M1049.9 400.2h.1M1059.4 398.0h.1M1056.6 399.1h.1M1055.6 399.0h.1M1056.7 399.0h.1M1057.7 400.2h.1M1058.5 399.5h.1M1059.6 399.0h.1M1059.1 399.4h.1M1060.0 400.0h.1M1057.1 400.7h.1M1060.1 399.5h.1M1060.1 400.3h.1M1058.2 401.0h.1M1058.1 401.5h.1M1060.1 400.4h.1M1056.8 402.7h.1M1051.5 405.4h.1M1057.8 403.5h.1M1059.0 402.3h.1M1058.0 402.6h.1M1059.0 402.0h.1M1058.6 403.4h.1M1060.0 402.8h.1M1060.3 403.7h.1M1055.8 405.5h.1M1060.3 403.6h.1M1061.5 403.5h.1M1054.5 407.3h.1M1061.4 403.8h.1M1059.9 404.6h.1M1062.0 405.5h.1M1057.7 406.5h.1M1056.8 407.4h.1M1059.6 405.5h.1M1060.6 405.1h.1M1057.1 408.6h.1M1063.1 405.8h.1M1062.8 405.7h.1M1055.8 409.8h.1M1058.1 409.4h.1M1063.4 407.0h.1M1060.4 408.6h.1M1058.8 408.4h.1M1062.5 408.7h.1M1062.3 408.7h.1M1059.6 409.6h.1M1062.6 407.7h.1M1063.8 407.3h.1M1059.3 411.6h.1M1061.2 410.7h.1M1062.3 409.4h.1M1057.7 411.5h.1M1064.1 409.9h.1M1062.0 411.7h.1M1065.1 409.7h.1M1064.3 409.7h.1M1064.4 411.2h.1M1059.8 413.3h.1M1058.3 414.1h.1M1065.6 410.4h.1M1063.4 411.5h.1M1063.0 412.4h.1M1065.3 411.4h.1M1065.7 411.4h.1M1065.0 412.2h.1M1066.3 412.1h.1M1064.5 414.2h.1M1063.1 414.4h.1M1066.0 412.9h.1M1066.3 413.3h.1M1065.1 414.3h.1M1057.9 418.5h.1M1064.5 414.7h.1M1064.7 415.3h.1M1061.0 417.3h.1M1066.9 414.3h.1M1064.7 416.3h.1M1064.5 416.4h.1M1060.1 418.1h.1M1064.4 417.3h.1M1066.9 416.2h.1M1065.8 417.2h.1M1058.9 420.4h.1M1067.8 416.5h.1M1068.1 416.4h.1M1067.1 417.7h.1M1059.3 421.2h.1M1068.0 417.6h.1M1068.2 417.3h.1M1067.7 418.4h.1M1068.0 417.9h.1M1064.2 420.0h.1M1067.3 419.0h.1M1067.0 419.3h.1M1063.1 421.3h.1M1068.2 419.0h.1M1070.0 420.0h.1M1066.6 420.9h.1M1068.4 420.6h.1M1069.5 420.3h.1M1069.0 419.7h.1M1070.5 421.1h.1M1062.5 424.6h.1M1066.5 422.0h.1M1069.7 420.5h.1M1066.1 422.9h.1M1069.8 421.8h.1M1068.5 422.4h.1M1070.6 421.8h.1M1064.6 424.2h.1M1070.4 423.1h.1M1069.4 423.8h.1M1065.8 426.0h.1M1071.4 422.9h.1M1067.2 425.2h.1M1070.9 423.7h.1M1067.4 425.4h.1M1072.0 424.2h.1M1070.8 424.0h.1M1072.0 423.7h.1M1071.7 424.8h.1M1071.5 425.2h.1M1071.1 425.8h.1M1070.1 425.8h.1M1072.4 426.5h.1M1072.8 425.6h.1M1072.6 425.4h.1M1071.2 425.8h.1M1073.2 426.6h.1M1072.4 426.5h.1M1073.4 426.8h.1M1069.3 428.2h.1M1074.2 427.9h.1M1070.4 428.9h.1M1068.8 429.8h.1M1068.4 430.7h.1M1070.5 429.3h.1M1068.5 432.0h.1M1074.1 429.0h.1M1073.4 428.6h.1M1070.3 430.2h.1M1074.4 430.1h.1M1072.8 430.5h.1M1074.5 430.2h.1M1069.5 432.4h.1M1067.7 432.6h.1M1074.8 430.4h.1M1073.9 431.9h.1M1072.8 431.8h.1M1074.6 431.6h.1M1068.8 434.0h.1M1074.3 432.0h.1M1070.7 434.0h.1M1073.3 432.3h.1M1074.8 432.1h.1M1075.5 433.3h.1M1069.2 435.7h.1M1075.6 432.9h.1M1074.2 433.2h.1M1074.2 433.5h.1M1072.5 435.3h.1M1072.8 435.9h.1M1073.7 435.6h.1M1075.9 433.8h.1M1074.0 435.6h.1M1072.4 436.7h.1M1073.7 437.0h.1M1075.3 436.0h.1M1071.6 437.8h.1M1073.5 437.7h.1M1077.2 436.3h.1M1075.1 437.1h.1M1074.7 437.4h.1M1075.6 436.4h.1M1076.1 438.2h.1M1078.3 436.3h.1M1068.4 441.5h.1M1071.1 439.6h.1M1071.9 441.0h.1M1076.6 439.2h.1M1076.9 438.9h.1M1075.7 439.0h.1M1074.7 439.6h.1M1076.2 439.8h.1M1078.3 438.7h.1M1078.2 439.1h.1M1077.2 439.6h.1M1075.0 442.2h.1M1078.9 440.3h.1M1076.3 441.7h.1M1071.6 443.2h.1M1070.5 445.1h.1M1073.9 443.1h.1M1068.2 446.6h.1M1079.3 440.5h.1M1071.5 444.9h.1M1079.3 441.6h.1M1072.8 445.9h.1M1076.1 443.5h.1M1075.7 443.3h.1M1080.6 441.2h.1M1079.8 442.7h.1M1074.1 445.5h.1M1073.2 446.3h.1M1078.1 444.0h.1M1074.7 446.6h.1M1081.0 443.5h.1M1071.7 447.9h.1M1079.8 444.0h.1M1070.9 448.3h.1M1074.4 448.4h.1M1080.9 445.1h.1M1079.3 445.5h.1M1076.1 447.5h.1M1070.1 449.6h.1M1078.7 447.1h.1M1080.3 446.9h.1M1081.9 445.9h.1M1080.5 446.0h.1M1081.6 446.5h.1M1080.5 448.0h.1M1077.0 448.8h.1M1080.1 448.0h.1M1080.3 447.5h.1M1082.9 446.6h.1M1083.2 448.3h.1M1077.3 449.9h.1M1080.6 449.4h.1M1083.4 447.3h.1M1077.6 451.5h.1M1083.3 449.0h.1M1081.2 450.1h.1M1078.7 450.7h.1M1083.6 449.4h.1M1081.3 450.3h.1M1074.9 454.5h.1M1078.4 451.8h.1M1084.0 451.0h.1M1082.7 451.0h.1M1077.0 454.4h.1M1081.8 451.8h.1M1084.0 451.0h.1M1083.0 452.0h.1M1082.2 453.4h.1M1078.9 454.1h.1M1076.2 455.2h.1M1083.6 451.8h.1M1082.9 454.1h.1M1084.6 452.5h.1M1076.7 456.0h.1M1081.6 454.9h.1M1084.4 453.6h.1M1079.4 456.4h.1M1084.7 454.5h.1M1079.9 455.8h.1M1084.9 454.6h.1M1083.7 454.8h.1M1082.9 456.1h.1M1074.0 459.9h.1M1083.6 455.8h.1M1083.1 455.4h.1M1085.0 456.7h.1M1085.8 455.9h.1M1080.0 457.9h.1M1086.8 456.0h.1M1085.9 457.6h.1M1083.7 457.9h.1M1083.1 457.8h.1M1085.5 457.3h.1M1078.0 461.0h.1M1087.3 458.0h.1M1083.4 458.9h.1M1087.0 457.2h.1M1087.6 458.7h.1M1083.0 460.4h.1M1088.1 458.1h.1M1084.7 459.5h.1M1088.2 458.4h.1M1087.4 460.1h.1M1084.6 461.2h.1M1088.2 459.0h.1M1086.7 461.3h.1M1087.3 461.4h.1M1087.2 461.6h.1M1087.5 461.3h.1M1088.0 462.1h.1M1079.2 465.5h.1M1086.0 462.7h.1M1078.6 465.3h.1M1084.4 464.6h.1M1085.5 463.6h.1M1086.0 463.6h.1M1087.0 463.1h.1M1089.0 462.8h.1M1087.9 464.3h.1M1087.5 464.3h.1M1087.7 465.0h.1M1089.3 464.0h.1M1085.5 465.8h.1M1082.9 467.5h.1M1090.7 464.7h.1M1089.2 464.4h.1M1080.1 468.4h.1M1088.2 466.0h.1M1090.6 465.8h.1M1088.9 466.4h.1M1085.9 467.5h.1M1087.8 466.1h.1M1088.9 467.5h.1M1088.2 467.5h.1M1090.3 467.1h.1M1090.6 466.1h.1M1087.0 468.9h.1M1086.1 469.8h.1M1089.3 468.8h.1M1084.9 470.2h.1M1090.8 468.0h.1M1091.9 467.9h.1M1090.6 469.3h.1M1086.8 470.9h.1M1090.3 469.5h.1M1092.3 469.5h.1M1090.3 469.5h.1M1090.5 469.5h.1M1083.1 473.4h.1M1090.3 470.9h.1M1090.7 471.7h.1M1092.6 470.6h.1M1093.0 470.3h.1M1093.0 470.6h.1M1091.3 472.3h.1M1093.1 471.5h.1M1089.4 473.3h.1M1093.2 472.3h.1M1093.3 471.9h.1M1090.8 472.9h.1M1093.1 471.9h.1M1089.1 475.3h.1M1093.7 473.8h.1M1092.0 473.6h.1M1091.3 475.0h.1M1092.1 474.6h.1M1093.5 475.0h.1M1091.5 475.7h.1M1092.4 475.4h.1M1093.9 475.1h.1M1085.3 479.2h.1M1092.0 475.7h.1M1093.9 475.2h.1M1095.3 476.3h.1M1095.1 476.5h.1M1094.0 476.6h.1M1093.9 477.1h.1M1093.8 477.7h.1M1094.2 477.4h.1M1095.8 477.5h.1M1095.7 476.8h.1M1089.2 480.0h.1M1095.8 478.5h.1M1089.5 480.3h.1M1094.2 478.3h.1M1094.0 479.4h.1M1095.6 479.2h.1M1095.0 479.4h.1M1095.1 479.7h.1M1094.3 481.6h.1M1095.0 480.7h.1M1090.3 482.4h.1M1094.6 480.9h.1M1093.6 481.3h.1M1092.4 483.3h.1M1095.5 481.1h.1M1096.0 482.0h.1M1093.1 483.2h.1M1093.7 482.5h.1M1091.7 484.0h.1M1095.0 483.6h.1M1096.1 482.5h.1M1094.9 483.7h.1M1085.5 486.6h.1M1094.0 484.2h.1M1096.0 484.3h.1M1094.0 484.8h.1M1094.7 484.6h.1M1098.4 484.5h.1M1098.5 484.4h.1M1095.9 485.0h.1M1095.5 485.0h.1M1098.2 484.2h.1M1099.1 485.5h.1M1098.4 484.7h.1M1098.9 485.4h.1M1098.3 487.0h.1M1098.6 486.0h.1M1098.4 486.0h.1M1095.2 487.5h.1M1098.9 488.0h.1M1099.9 487.4h.1M1097.0 488.1h.1M1098.8 487.8h.1M1100.0 488.5h.1M1100.0 487.9h.1M1099.0 488.3h.1M1099.0 488.5h.1M1099.5 488.2h.1M1099.6 488.9h.1M1100.7 489.3h.1M1096.6 491.0h.1M1096.0 491.0h.1M1093.8 491.8h.1M1100.6 490.2h.1M1099.8 490.2h.1M1101.1 490.6h.1M1099.7 491.2h.1M1101.5 491.1h.1M1095.1 493.5h.1M1097.2 493.1h.1M1100.2 491.7h.1M1100.8 491.4h.1M1100.9 492.0h.1M1099.2 493.3h.1M1098.4 493.6h.1M1100.4 493.0h.1M1099.1 493.9h.1M1102.4 493.7h.1M1101.6 494.0h.1M1102.2 492.8h.1M1095.6 496.4h.1M1094.5 497.3h.1M1098.1 496.4h.1M1101.7 494.4h.1M1096.8 496.8h.1M1095.6 497.0h.1M1102.7 496.0h.1M1103.3 495.6h.1M1101.9 495.6h.1M1101.7 495.4h.1M1103.1 496.9h.1M1103.7 496.8h.1M1098.2 499.1h.1M1103.2 496.1h.1M1098.8 499.0h.1M1101.6 498.2h.1M1101.4 498.8h.1M1101.9 498.0h.1M1103.7 497.6h.1M1104.8 498.2h.1M1103.1 498.7h.1M1102.6 499.4h.1M1102.8 499.2h.1M1104.3 499.3h.1M1103.0 501.0h.1M1103.4 500.7h.1M1105.3 500.0h.1M1103.2 500.7h.1M1103.2 500.1h.1M1104.8 501.3h.1M1103.7 501.5h.1M1104.6 500.5h.1M1099.3 503.1h.1M1105.6 500.6h.1M1105.2 501.4h.1M1103.4 503.4h.1M1103.1 503.2h.1M1106.2 501.9h.1M1101.9 503.4h.1M1105.1 502.7h.1M1105.0 502.6h.1M1105.2 503.0h.1M1105.0 503.3h.1M1101.0 506.4h.1M1106.0 504.1h.1M1106.3 503.4h.1M1107.4 503.7h.1M1105.4 505.3h.1M1106.1 505.1h.1M1105.7 505.0h.1M1100.7 507.4h.1M1102.2 507.3h.1M1099.9 508.7h.1M1108.3 505.6h.1M1107.0 505.7h.1M1104.7 506.9h.1M1106.1 507.3h.1M1106.0 507.8h.1M1108.2 506.0h.1M1108.0 505.7h.1M1108.1 506.8h.1M1107.8 508.1h.1M1099.6 511.4h.1M1108.6 507.3h.1M1107.7 507.4h.1M1109.6 508.2h.1M1107.6 509.4h.1M1104.0 510.6h.1M1106.7 509.0h.1M1102.9 512.2h.1M1103.6 511.4h.1M1099.9 514.3h.1M1108.8 509.9h.1M1100.0 514.8h.1M1109.6 509.9h.1M1110.1 510.3h.1M1110.3 510.0h.1M1110.7 510.7h.1M1109.9 511.6h.1M1106.2 513.2h.1M1106.9 513.0h.1M1107.1 512.7h.1M1110.5 512.2h.1M1106.7 514.5h.1M1109.9 512.5h.1M1109.5 512.0h.1M1110.4 511.9h.1M1110.9 512.8h.1M1108.3 514.2h.1M1109.9 514.1h.1M1111.6 512.1h.1M1111.4 514.5h.1M1110.2 514.2h.1M1110.7 514.3h.1M1105.2 516.4h.1M1111.6 513.2h.1M1105.0 518.2h.1M1111.7 514.9h.1M1111.5 515.5h.1M1112.3 514.7h.1M1111.1 515.4h.1M1111.6 516.8h.1M1107.5 518.3h.1M1111.6 516.7h.1M1105.3 519.9h.1M1110.1 517.2h.1M1114.0 516.7h.1M1109.2 519.0h.1M1113.3 516.5h.1M1105.5 520.4h.1M1110.5 518.2h.1M1114.1 517.1h.1M1113.9 517.6h.1M1113.1 517.8h.1M1113.5 517.9h.1M1114.3 518.0h.1M1110.1 520.6h.1M1114.6 518.4h.1M1114.8 518.3h.1M1111.5 519.9h.1M1112.9 519.7h.1M1113.8 519.6h.1M1115.0 519.0h.1M1113.2 519.7h.1M1109.1 521.9h.1M1111.4 521.9h.1M1115.5 520.7h.1M1115.5 519.6h.1M1112.8 522.1h.1M1113.2 521.0h.1M1115.2 520.9h.1M1109.2 524.7h.1M1114.0 522.3h.1M1113.4 523.1h.1M1112.8 522.2h.1M1110.6 524.6h.1M1115.3 522.6h.1M1116.2 522.4h.1M1116.3 521.8h.1M1111.7 524.5h.1M1117.0 522.7h.1M1116.8 522.8h.1M1108.9 526.7h.1M1116.0 523.2h.1M1110.8 526.7h.1M1112.7 526.5h.1M1117.7 524.3h.1M1116.8 524.0h.1M1115.4 524.5h.1M1117.9 524.5h.1M1109.8 529.2h.1M1114.4 527.2h.1M1117.4 524.8h.1M1116.7 525.6h.1M1113.9 528.4h.1M1116.4 526.6h.1M1111.0 530.0h.1M1112.4 529.7h.1M1114.8 527.6h.1M1118.7 526.7h.1M1114.5 529.1h.1M1119.0 526.5h.1M1117.2 528.5h.1M1118.7 526.4h.1M1115.1 530.1h.1M1117.1 529.4h.1M1119.5 528.4h.1M1113.2 531.0h.1M1113.5 532.0h.1M1119.2 528.8h.1M1113.7 532.2h.1M1120.0 528.8h.1M1119.3 530.6h.1M1118.2 531.0h.1M1119.8 530.2h.1M1111.2 534.3h.1M1120.3 529.5h.1M1118.1 532.1h.1M1119.9 530.8h.1M1117.9 532.4h.1M1119.5 531.7h.1M1120.3 531.2h.1M1121.8 531.7h.1M1114.3 535.3h.1M1121.3 532.4h.1M1117.4 534.3h.1M1116.7 534.6h.1M1116.0 536.6h.1M1118.3 535.4h.1M1122.5 533.1h.1M1121.3 533.5h.1M1122.7 534.1h.1M1121.9 533.4h.1M1122.2 533.4h.1M1121.9 533.7h.1M1122.4 535.3h.1M1120.4 535.9h.1M1118.3 537.4h.1M1122.8 535.1h.1M1123.8 534.9h.1M1121.0 536.7h.1M1123.7 535.7h.1M1122.9 535.4h.1M1122.8 535.6h.1M1124.2 536.4h.1M1122.9 537.3h.1M1120.0 539.3h.1M1122.0 537.4h.1M1124.8 538.0h.1M1118.1 541.0h.1M1122.8 538.4h.1M1120.6 539.7h.1M1124.0 537.3h.1M1123.3 540.0h.1M1122.7 540.3h.1M1122.1 540.6h.1M1121.2 541.2h.1M1124.4 540.7h.1M1124.4 540.1h.1M1121.8 541.2h.1M1121.9 541.8h.1M1122.4 542.0h.1M1124.1 542.2h.1M1125.6 540.7h.1M1126.4 540.5h.1M1126.4 540.6h.1M1125.0 542.3h.1M1123.5 543.3h.1M1123.6 543.1h.1M1120.8 546.5h.1M1127.6 542.4h.1M1120.5 545.6h.1M1125.4 543.8h.1M1123.2 544.6h.1M1125.5 544.5h.1M1122.9 545.7h.1M1127.4 543.9h.1M1127.8 543.0h.1M1126.9 544.1h.1M1124.9 546.1h.1M1121.9 548.1h.1M1127.7 544.4h.1M1123.8 547.1h.1M1122.7 548.8h.1M1129.3 545.4h.1M1128.1 546.2h.1M1127.9 545.8h.1M1128.8 546.3h.1M1127.6 547.1h.1M1128.2 547.4h.1M1128.6 547.1h.1M1129.2 547.7h.1M1129.8 546.9h.1M1123.8 551.0h.1M1130.1 546.9h.1M1127.8 548.8h.1M1125.0 550.5h.1M1127.8 549.7h.1M1128.4 549.5h.1M1122.5 553.1h.1M1128.4 548.9h.1M1128.6 550.8h.1M1128.2 550.5h.1M1129.6 549.4h.1M1130.3 549.2h.1M1130.2 549.7h.1M1129.0 549.6h.1M1129.5 551.7h.1M1130.3 550.5h.1M1131.4 549.6h.1M1131.8 550.2h.1M1131.8 550.0h.1M1125.5 554.7h.1M1132.0 551.0h.1M1130.2 551.9h.1M1128.1 552.6h.1M1131.0 551.6h.1M1128.5 554.3h.1M1121.2 557.6h.1M1129.7 553.1h.1M1129.8 553.3h.1M1131.4 552.9h.1M1130.3 555.0h.1M1132.3 553.9h.1M1130.6 554.2h.1M1129.6 555.3h.1M1130.6 553.8h.1M1125.8 557.5h.1M1132.0 554.7h.1M1133.8 553.6h.1M1127.2 556.9h.1M1130.6 556.6h.1M1130.8 557.1h.1M1134.3 554.9h.1M1134.6 555.7h.1M1128.8 558.2h.1M1132.4 556.9h.1M1133.2 556.3h.1M1130.0 559.0h.1M1135.4 556.6h.1M1132.3 557.8h.1M1135.8 558.3h.1M1135.1 558.0h.1M1130.8 559.9h.1M1133.5 558.2h.1" fill="none" stroke="#3a2430" stroke-width="1.6" stroke-linecap="round" opacity="0.85"/></g>
<path d="M855.1,3.4 855.8,3.7 857.8,4.3 858.7,4.3 852.2,0.7 852.3,-2.9 851.4,-2.5 852.3,-2.2 851.8,-3.6 851.6,-0.7 851.2,2.7 853.4,6.6 853.6,6.7 854.2,9.5 856.7,12.6 856.7,11.6 856.0,11.6 856.4,17.8 859.2,21.5 860.3,23.7 861.6,25.1 861.4,24.1 860.4,28.5 862.4,32.7 862.9,35.9 864.8,38.2 864.6,41.1 866.8,45.2 867.6,48.8 869.4,50.8 868.0,54.8 871.2,62.5 874.5,66.2 873.2,65.0 873.3,69.5 874.1,73.1 875.2,76.4 876.2,78.1 876.1,78.7 876.2,84.2 879.0,87.8 879.2,89.5 880.4,91.6 880.4,91.1 879.2,94.8 880.6,99.8 881.8,103.2 883.6,105.7 883.6,105.5 883.3,108.5 884.8,112.7 885.4,113.8 885.4,116.3 886.3,118.3 886.2,117.9 884.6,122.5 886.7,128.3 888.4,131.2 890.0,133.5 890.2,132.2 888.9,134.1 889.8,139.5 890.6,142.0 891.4,144.6 891.9,145.1 891.2,148.3 893.5,153.7 894.9,155.4 895.3,157.8 897.1,160.5 897.1,159.8 896.3,162.8 897.7,167.4 899.2,171.1 901.6,173.9 901.8,174.3 901.9,176.8 903.8,180.9 905.3,183.1 906.0,185.5 907.0,186.3 906.3,187.9 907.8,192.9 909.9,196.6 912.5,199.7 913.2,199.1 912.0,198.8 912.5,204.8 914.1,207.6 914.9,210.7 916.7,212.6 916.2,212.6 917.1,218.2 919.8,221.2 920.1,223.2 922.1,225.7 922.1,223.4 920.2,226.7 922.5,233.9 924.5,236.2 925.9,239.2 927.8,240.4 926.8,239.5 927.4,245.2 930.0,248.8 930.4,249.6 930.4,250.4 930.4,253.1 931.4,257.8 933.9,261.7 936.4,264.7 937.7,265.2 936.7,263.9 936.7,269.5 938.7,272.8 938.9,274.7 940.8,278.6 942.0,279.9 941.8,281.6 943.8,286.2 945.7,288.5 946.3,290.6 947.3,290.4 945.9,291.5 947.3,298.1 949.9,301.9 952.5,304.7 953.2,304.3 952.0,304.4 953.4,310.9 955.4,313.1 955.3,314.7 956.6,317.1 956.5,318.4 957.8,323.3 960.8,327.0 962.5,329.1 962.9,329.1 962.4,329.6 962.7,334.2 964.0,337.4 965.3,341.1 968.0,344.1 968.2,344.4 968.6,347.8 971.1,351.1 971.8,353.2 973.0,355.0 972.9,354.3 972.2,358.4 974.6,363.7 976.0,365.8 977.2,368.5 978.2,369.1 977.4,369.7 978.2,374.6 979.8,378.2 981.4,381.2 982.4,382.0 981.9,382.8 982.9,387.8 985.3,391.4 986.8,393.8 988.0,395.6 988.2,394.5 987.0,398.3 989.2,402.6 989.8,405.9 992.8,409.1 992.8,409.6 993.3,411.9 994.7,415.7 996.4,418.3 997.4,420.8 998.2,420.2 996.8,421.9 998.7,428.5 1001.3,432.1 1004.1,434.8 1004.4,433.9 1003.2,434.6 1004.8,440.7 1006.4,442.8 1007.1,445.9 1008.8,446.8 1007.6,447.5 1009.7,453.9 1012.1,456.3 1012.8,458.6 1014.5,460.1 1013.9,459.5 1013.8,463.5 1015.2,467.5 1017.5,471.8 1020.7,474.4 1020.4,473.3 1019.7,475.1 1021.5,480.4 1023.8,483.7 1024.9,484.7 1024.6,483.4 1023.6,487.9 1026.5,493.6 1029.1,496.9 1031.4,498.9 1031.2,498.1 1030.7,501.3 1032.5,504.9 1033.2,508.7 1036.4,512.4 1036.6,511.9 1036.1,515.8 1039.4,520.5 1041.0,523.6 1042.9,524.8 1041.8,524.6 1042.6,530.9 1045.9,535.3 1047.8,537.7 1048.3,537.9 1047.9,541.8 1051.1,546.3 1051.7,548.1 1052.5,549.7 1052.7,553.5 1055.4,558.0" fill="none" stroke="#8a3a66" stroke-width="2" stroke-dasharray="2.2 2.6" opacity="0.9"/>
<path d="M926.9,3.8 927.2,3.6 925.7,4.2 929.6,1.2 931.1,-4.8 929.9,1.4 931.0,-1.1 930.8,-1.2 930.2,-3.5 930.4,-3.3 933.2,0.4 933.2,6.3 932.7,7.7 932.8,9.9 932.0,12.9 931.5,12.0 932.4,12.7 933.9,18.2 932.9,21.1 932.7,19.2 934.7,23.2 933.6,24.7 933.2,22.9 936.6,25.8 938.5,31.7 938.1,34.4 938.2,36.6 937.8,37.0 937.7,36.3 939.5,38.5 940.8,41.9 941.8,45.9 941.1,46.7 942.6,49.3 941.5,54.7 941.0,52.5 941.8,52.3 943.9,59.1 942.3,62.0 942.8,60.8 942.9,64.2 942.1,66.6 942.0,67.3 941.8,65.8 940.3,63.3 942.2,64.4 945.8,68.4 946.4,72.8 946.6,74.2 946.9,77.3 946.3,80.7 945.4,78.4 946.5,78.6 948.9,82.4 950.0,86.0 950.4,88.3 950.9,89.6 953.5,93.0 955.6,98.9 955.6,104.7 954.5,106.1 958.2,110.3 958.1,115.5 959.0,118.1 958.0,119.3 959.4,120.4 960.8,125.9 960.3,129.2 960.5,131.7 959.4,131.0 961.3,132.0 965.3,138.2 964.4,142.1 965.6,144.5 964.6,148.3 963.8,146.2 966.7,148.5 968.1,153.0 969.3,156.6 968.8,158.4 969.2,158.3 971.8,161.5 973.3,166.0 973.8,169.8 973.7,172.3 973.0,171.4 974.6,172.6 978.2,176.8 979.0,180.7 980.2,183.9 979.7,185.4 980.5,185.7 983.7,191.1 983.0,194.8 983.5,194.8 983.7,195.9 985.8,197.8 989.0,202.4 989.5,206.0 990.6,209.8 989.5,210.5 990.2,210.2 993.5,213.8 994.8,217.6 996.2,221.0 996.1,223.3 996.2,223.2 999.3,226.6 1000.3,231.6 1000.7,234.0 1000.9,235.6 1000.3,235.1 1004.4,238.1 1006.1,243.6 1006.7,245.4 1007.7,248.6 1007.4,249.7 1008.9,251.3 1011.0,256.4 1010.8,259.2 1011.4,260.3 1011.2,260.9 1013.7,263.1 1016.1,267.7 1017.1,272.1 1016.8,275.5 1016.6,276.0 1016.5,275.8 1019.7,279.1 1020.4,283.1 1021.9,286.3 1021.5,288.7 1021.7,288.5 1024.3,291.9 1025.4,296.8 1025.5,299.6 1025.4,300.5 1025.6,300.7 1028.3,303.6 1029.8,307.1 1031.3,309.9 1032.5,314.6 1031.7,315.2 1033.5,316.8 1034.5,321.4 1034.3,322.0 1036.6,325.1 1035.9,326.4 1037.9,327.5 1041.7,333.3 1041.1,338.1 1041.4,339.0 1041.6,340.7 1041.0,340.3 1044.8,343.0 1046.7,348.0 1047.9,351.5 1047.5,353.1 1047.7,353.0 1051.1,356.8 1051.9,361.7 1052.3,363.6 1052.3,364.6 1052.7,365.0 1056.9,368.6 1058.1,374.1 1058.4,375.4 1059.6,378.8 1058.7,379.1 1061.2,381.1 1062.3,384.5 1063.9,386.7 1065.3,390.6 1065.1,391.3 1067.1,393.1 1070.0,398.4 1069.9,402.6 1069.9,403.3 1069.9,403.5 1071.8,405.4 1074.0,408.3 1076.7,412.2 1077.6,417.2 1076.5,416.3 1079.3,418.3 1081.2,424.1 1081.2,426.1 1081.9,427.7 1081.3,427.8 1084.5,429.7 1088.4,435.1 1088.7,439.7 1089.0,442.0 1088.2,441.6 1090.1,442.9 1092.7,446.8 1093.8,449.8 1095.4,453.7 1094.9,455.0 1095.9,455.5 1098.8,459.8 1099.3,464.6 1099.4,466.8 1099.3,467.5 1099.1,467.3 1102.7,470.3 1104.5,475.0 1105.5,477.9 1105.9,481.3 1105.3,481.2 1107.7,483.5 1108.7,487.4 1110.1,490.6 1110.0,492.7 1110.0,492.5 1114.0,495.9 1115.3,500.3 1117.2,504.1 1116.4,505.9 1117.8,506.7 1120.2,510.4 1121.5,513.1 1123.7,516.5 1123.7,518.2 1127.4,521.5 1128.3,526.3 1129.8,529.6 1128.4,529.8 1132.0,531.7 1135.0,536.3 1137.3,541.7 1136.0,542.7 1138.3,544.0 1140.7,548.9 1141.4,551.5 1142.6,553.7" fill="none" stroke="#8a3a66" stroke-width="2" stroke-dasharray="2.2 2.6" opacity="0.9"/>
<path d="M857.9,-3.0 858.4,-2.8 858.7,-2.7 859.5,-2.6 859.2,-2.6 858.4,-2.6 859.3,-2.4 858.4,-2.1 859.3,-1.7 858.3,-1.0 858.6,0.0 858.1,1.3 859.2,2.8 860.2,4.4 860.4,6.3 862.2,8.3 863.6,10.5 862.9,12.7 862.9,15.1 865.0,17.5 866.3,20.0 868.0,22.5 868.3,25.0 867.4,27.6 869.0,30.3 869.3,33.1 871.5,36.1 871.3,39.2 873.3,42.6 874.1,46.1 876.3,50.0 875.0,54.2 877.1,58.7 881.0,63.5 880.1,66.0 880.2,68.6 880.9,71.2 881.7,73.8 883.0,76.4 883.1,79.0 882.7,81.7 885.1,84.4 885.8,87.0 887.2,89.7 887.3,92.3 886.2,94.9 887.2,97.5 888.0,100.0 889.8,102.5 890.6,105.0 890.2,107.5 891.3,110.0 892.3,112.5 892.3,115.0 893.2,117.5 892.9,120.0 891.6,122.5 892.9,125.0 894.3,127.5 896.0,130.0 897.2,132.5 895.8,135.0 896.6,137.5 897.3,140.0 898.0,142.5 898.9,145.0 898.1,147.5 899.5,150.0 901.3,152.5 901.7,155.0 903.5,157.5 904.1,160.0 903.3,162.5 904.3,165.0 905.1,167.5 907.4,170.0 908.5,172.5 908.7,175.0 909.9,177.5 911.5,180.0 912.4,182.5 913.8,185.0 913.3,187.5 914.1,190.0 915.6,192.5 917.7,195.0 920.0,197.5 918.9,200.0 919.1,202.5 920.6,205.0 921.1,207.5 923.2,210.0 923.2,212.5 923.3,215.0 925.8,217.5 926.4,220.0 928.3,222.5 928.9,225.0 927.2,227.5 928.3,230.0 930.5,232.5 931.5,235.0 934.2,237.5 933.8,240.0 933.9,242.5 935.9,245.0 937.1,247.5 937.4,250.0 937.4,252.5 937.8,255.0 939.6,257.5 941.5,260.0 944.2,262.5 943.6,265.0 943.4,267.5 945.1,270.0 945.6,272.5 946.8,275.0 948.6,277.5 948.6,280.0 949.7,282.5 951.8,285.0 952.6,287.5 954.3,290.0 952.9,292.5 953.6,295.0 955.4,297.5 957.6,300.0 959.9,302.5 959.0,305.0 959.5,307.5 961.7,310.0 962.0,312.5 963.3,315.0 963.5,317.5 964.0,320.0 966.2,322.5 968.2,325.0 969.7,327.5 969.4,330.0 969.5,332.5 970.6,335.0 971.3,337.5 973.6,340.0 974.9,342.5 975.0,345.0 977.1,347.5 978.0,350.0 979.6,352.5 979.9,355.0 979.1,357.5 980.6,360.0 982.2,362.5 983.2,365.0 985.0,367.5 984.4,370.0 984.8,372.5 986.0,375.0 987.4,377.5 989.1,380.0 988.9,382.5 989.3,385.0 991.0,387.5 992.7,390.0 994.3,392.5 995.2,395.0 993.9,397.5 995.7,400.0 995.9,402.5 998.5,405.0 999.5,407.5 1000.0,410.0 1000.9,412.5 1002.6,415.0 1003.6,417.5 1005.2,420.0 1003.8,422.5 1004.8,425.0 1006.6,427.5 1009.2,430.0 1011.3,432.5 1010.2,435.0 1011.0,437.5 1012.8,440.0 1013.2,442.5 1015.6,445.0 1014.6,447.5 1015.5,450.0 1018.0,452.5 1018.8,455.0 1021.0,457.4 1020.9,459.9 1020.7,462.3 1021.7,464.8 1022.8,467.2 1025.8,469.7 1027.3,472.1 1026.7,474.6 1027.6,477.0 1029.4,479.5 1031.3,482.0 1031.5,484.5 1030.5,487.0 1032.2,489.6 1034.2,492.1 1037.0,494.7 1038.1,497.4 1037.5,500.0 1039.1,502.7 1039.4,505.4 1042.0,508.2 1043.5,511.0 1042.8,513.8 1045.2,516.6 1046.6,519.4 1049.5,522.3 1048.8,525.2 1049.0,528.1 1051.3,531.0 1053.6,533.9 1055.2,536.8 1054.5,539.7 1057.0,542.6 1058.2,545.5 1059.4,548.4 1059.3,551.3 1061.3,554.1 1063.1,557.0" fill="none" stroke="#151215" stroke-width="3.5" stroke-linejoin="round"/>
<path d="M925.3,-3.0 924.3,-2.8 924.6,-2.7 923.5,-2.6 924.6,-2.6 923.7,-2.6 924.5,-2.4 923.9,-2.1 924.1,-1.7 923.8,-1.0 924.1,0.0 925.1,1.3 926.6,2.9 926.4,4.8 925.7,6.8 925.8,8.9 925.2,11.2 924.7,13.5 926.1,15.7 926.9,17.9 926.0,20.0 926.2,22.0 927.7,24.0 926.7,26.0 928.4,28.0 931.0,30.0 931.5,32.0 931.2,34.0 931.2,36.0 930.8,38.0 931.8,40.0 933.4,42.0 934.2,44.1 934.8,46.2 934.3,48.2 935.7,50.3 934.9,52.4 934.3,54.4 936.0,56.3 936.9,58.2 935.6,60.0 935.9,61.7 936.0,63.2 935.4,64.6 935.1,65.9 934.9,67.2 935.6,68.5 937.9,69.9 939.5,71.4 939.5,73.1 939.7,75.0 939.9,77.0 939.5,79.0 938.9,81.0 941.1,83.1 942.5,85.3 943.2,87.7 943.7,90.3 944.9,93.2 947.4,96.4 948.7,100.0 948.6,104.0 947.9,108.4 951.8,113.2 951.1,115.7 952.0,118.2 951.2,120.8 953.1,123.4 953.8,126.1 953.3,128.8 953.5,131.5 953.2,134.2 956.3,136.9 958.5,139.6 957.4,142.2 958.6,144.9 957.7,147.4 957.9,150.0 960.9,152.5 961.4,155.0 962.4,157.5 962.0,160.0 963.6,162.5 965.7,165.0 966.5,167.5 966.8,170.0 966.7,172.5 967.0,175.0 969.6,177.5 972.0,180.0 972.2,182.5 973.3,185.0 973.0,187.5 974.9,190.0 976.9,192.5 976.0,195.0 977.0,197.5 978.0,200.0 980.6,202.5 982.5,205.0 982.7,207.5 983.6,210.0 982.8,212.5 985.1,215.0 987.5,217.5 988.2,220.0 989.4,222.5 989.3,225.0 990.6,227.5 993.2,230.0 993.4,232.5 993.8,235.0 994.1,237.5 995.3,240.0 999.0,242.5 999.2,245.0 1000.0,247.5 1000.8,250.0 1001.0,252.5 1003.0,255.0 1004.1,257.5 1003.8,260.0 1004.7,262.5 1005.5,265.0 1008.3,267.5 1009.5,270.0 1010.1,272.5 1009.8,275.0 1009.7,277.5 1010.9,280.0 1013.5,282.5 1013.7,285.0 1015.0,287.5 1014.6,290.0 1015.9,292.5 1018.0,295.0 1018.4,297.5 1018.6,300.0 1018.7,302.5 1020.1,305.0 1022.6,307.5 1023.5,310.0 1024.8,312.5 1025.5,315.0 1025.1,317.5 1027.2,320.0 1027.6,322.5 1028.0,325.0 1030.0,327.5 1029.8,330.0 1032.9,332.5 1034.9,335.0 1034.2,337.5 1034.5,340.0 1034.8,342.5 1035.8,345.0 1039.4,347.5 1040.0,350.0 1040.9,352.5 1040.7,355.0 1042.4,357.5 1044.9,360.0 1045.0,362.5 1045.5,365.0 1046.0,367.5 1047.8,370.0 1051.0,372.5 1051.1,375.0 1051.7,377.5 1052.7,380.0 1052.6,382.5 1055.4,385.0 1055.9,387.5 1057.8,390.0 1058.6,392.5 1059.1,395.0 1061.7,397.5 1063.2,400.0 1062.9,402.5 1063.1,405.0 1064.2,407.5 1066.5,410.0 1068.5,412.5 1070.3,415.0 1070.6,417.5 1070.5,420.0 1073.7,422.5 1074.2,425.0 1074.3,427.5 1075.3,430.0 1076.1,432.5 1079.9,435.0 1081.8,437.5 1081.7,440.0 1082.0,442.5 1082.1,445.0 1084.8,447.5 1086.5,450.0 1087.4,452.5 1088.6,455.0 1088.3,457.4 1090.4,459.9 1092.3,462.3 1092.3,464.8 1092.4,467.2 1092.6,469.7 1094.0,472.1 1097.2,474.6 1097.8,477.0 1098.7,479.5 1098.9,482.0 1099.2,484.5 1101.6,487.0 1102.1,489.6 1103.3,492.1 1103.3,494.7 1104.9,497.4 1108.3,500.0 1108.7,502.7 1110.3,505.4 1109.8,508.2 1112.2,511.0 1114.1,513.8 1115.4,516.6 1117.3,519.4 1118.0,522.3 1121.4,525.2 1121.6,528.1 1122.9,531.0 1122.7,533.9 1127.1,536.8 1128.8,539.7 1130.3,542.6 1129.6,545.5 1132.8,548.4 1134.2,551.3 1134.9,554.1 1136.5,557.0" fill="none" stroke="#151215" stroke-width="3.5" stroke-linejoin="round"/>
<path d="M913.0,182.0 917.0,176.0 922.0,173.0 925.0,168.0 930.0,166.0 935.0,169.0 939.0,163.0 945.0,161.0 950.0,157.0 955.0,156.0 958.0,153.0 962.0,157.0 970.0,178.0 979.0,200.0 1000.7,250.0 1019.0,300.0 1039.0,350.0 1040.0,356.0 1034.0,360.0 1027.0,362.0 1020.0,367.0 1012.0,366.0 1006.0,371.0 999.0,380.0 993.0,377.0 987.0,373.0 983.0,366.0 977.3,350.0 957.0,300.0 937.3,250.0 919.0,200.0Z" fill="#fff"/>
<g clip-path="url(#st3c)"><path d="M913.3 177.4h.1M915.9 176.9h.1M916.2 178.2h.1M917.9 177.5h.1M914.6 178.5h.1M922.2 177.8h.1M915.8 179.3h.1M914.1 179.0h.1M921.2 179.8h.1M921.6 179.8h.1M922.6 179.0h.1M917.1 182.3h.1M917.1 182.5h.1M919.3 183.6h.1M919.3 184.0h.1M916.8 184.4h.1M916.2 186.9h.1M927.2 183.5h.1M917.1 187.5h.1M922.2 185.7h.1M921.2 187.7h.1M920.1 188.2h.1M918.8 188.2h.1M919.4 188.9h.1M921.9 188.3h.1M921.6 188.0h.1M930.1 187.2h.1M918.3 191.2h.1M917.5 191.3h.1M919.6 192.0h.1M920.8 191.6h.1M920.5 192.7h.1M918.7 193.2h.1M920.4 192.7h.1M921.6 192.9h.1M919.3 194.2h.1M921.8 193.4h.1M922.4 194.4h.1M931.5 190.8h.1M919.1 196.3h.1M922.9 194.3h.1M919.8 196.6h.1M925.1 195.0h.1M923.3 196.2h.1M922.0 198.1h.1M929.1 195.1h.1M922.7 197.2h.1M920.2 199.7h.1M926.9 197.2h.1M923.1 199.6h.1M923.1 200.1h.1M924.6 200.5h.1M925.6 200.4h.1M924.1 200.5h.1M923.1 201.9h.1M923.5 201.5h.1M922.3 202.8h.1M924.7 201.8h.1M924.0 203.6h.1M931.0 202.3h.1M926.0 204.4h.1M927.3 205.5h.1M932.2 203.4h.1M923.8 207.6h.1M926.0 206.7h.1M923.7 207.1h.1M925.2 208.2h.1M932.7 205.7h.1M929.6 206.9h.1M925.0 208.8h.1M930.2 208.0h.1M925.8 209.8h.1M929.8 208.9h.1M929.6 208.7h.1M924.6 212.0h.1M927.0 211.3h.1M925.3 210.9h.1M926.3 211.4h.1M931.8 210.5h.1M927.4 211.2h.1M936.0 210.1h.1M927.4 212.4h.1M930.3 213.3h.1M928.0 213.6h.1M930.7 212.7h.1M928.7 214.5h.1M934.2 212.6h.1M927.1 215.3h.1M927.6 216.1h.1M929.5 215.3h.1M927.3 216.9h.1M932.5 216.0h.1M928.0 217.0h.1M930.6 217.0h.1M928.3 218.3h.1M934.8 215.7h.1M939.8 214.5h.1M929.3 219.3h.1M936.8 215.9h.1M933.3 218.7h.1M936.0 218.2h.1M929.8 221.6h.1M929.3 221.5h.1M932.7 221.6h.1M929.0 222.5h.1M930.9 223.2h.1M939.5 220.1h.1M932.6 224.4h.1M932.8 224.3h.1M933.4 224.1h.1M929.6 225.6h.1M940.7 222.2h.1M935.6 225.3h.1M932.2 226.5h.1M930.1 227.1h.1M931.1 228.0h.1M930.7 228.3h.1M938.8 225.1h.1M932.1 228.8h.1M933.2 227.9h.1M935.9 226.9h.1M938.0 227.4h.1M935.0 229.6h.1M935.8 229.8h.1M938.6 229.1h.1M933.4 231.4h.1M933.9 232.4h.1M935.1 232.0h.1M939.1 229.8h.1M933.9 233.1h.1M944.7 229.8h.1M942.0 232.0h.1M934.0 233.8h.1M935.7 234.0h.1M944.6 232.2h.1M934.4 234.9h.1M937.3 234.3h.1M934.0 236.9h.1M943.6 232.7h.1M944.1 234.9h.1M936.0 236.9h.1M934.6 237.3h.1M936.4 238.5h.1M941.9 236.7h.1M935.3 238.3h.1M947.1 236.2h.1M937.0 239.6h.1M939.9 239.3h.1M936.2 240.9h.1M939.4 239.2h.1M940.1 240.5h.1M935.7 242.1h.1M936.5 242.2h.1M940.6 241.9h.1M942.5 241.4h.1M949.1 239.7h.1M938.2 244.1h.1M941.4 242.7h.1M941.1 243.7h.1M939.0 244.9h.1M943.4 242.7h.1M937.9 246.6h.1M937.7 246.0h.1M938.2 246.6h.1M941.2 246.2h.1M944.5 245.0h.1M940.1 247.5h.1M938.6 248.2h.1M938.9 249.6h.1M943.6 248.1h.1M945.1 248.1h.1M940.1 249.7h.1M950.8 247.1h.1M942.4 250.1h.1M947.9 249.4h.1M942.3 251.8h.1M943.3 250.6h.1M941.0 253.1h.1M942.5 253.7h.1M942.1 253.7h.1M943.3 253.8h.1M950.3 252.1h.1M944.6 253.8h.1M943.6 255.6h.1M941.2 256.8h.1M945.5 256.5h.1M942.4 257.6h.1M942.9 258.4h.1M945.2 256.7h.1M946.9 257.3h.1M945.2 259.6h.1M947.6 259.1h.1M943.0 261.3h.1M947.5 260.0h.1M948.2 260.1h.1M946.3 260.8h.1M945.1 261.5h.1M943.5 262.1h.1M948.1 262.3h.1M947.0 262.2h.1M946.6 264.2h.1M946.2 264.2h.1M948.8 264.2h.1M946.2 264.3h.1M947.1 265.2h.1M956.6 261.8h.1M945.5 266.0h.1M949.4 265.3h.1M946.3 267.7h.1M952.1 266.6h.1M947.4 268.0h.1M947.3 267.5h.1M946.5 269.3h.1M950.4 268.6h.1M958.3 266.4h.1M951.0 270.5h.1M951.0 270.5h.1M953.7 270.7h.1M959.3 268.0h.1M949.1 272.4h.1M958.7 269.5h.1M949.4 274.2h.1M950.9 273.3h.1M955.1 272.2h.1M949.2 275.0h.1M958.0 272.0h.1M952.9 273.7h.1M951.3 275.4h.1M958.6 272.6h.1M949.7 277.9h.1M957.6 274.8h.1M953.1 276.3h.1M950.1 278.8h.1M951.8 277.1h.1M953.4 276.5h.1M953.5 278.7h.1M952.9 278.8h.1M952.5 279.3h.1M953.4 279.6h.1M950.5 280.3h.1M950.7 281.0h.1M952.5 281.6h.1M953.8 279.8h.1M953.1 281.0h.1M953.0 282.1h.1M954.6 282.5h.1M951.8 283.4h.1M956.0 281.8h.1M956.7 282.5h.1M953.5 284.4h.1M959.9 282.0h.1M955.5 284.2h.1M963.4 281.5h.1M954.2 286.3h.1M957.8 286.3h.1M953.7 287.6h.1M954.2 287.9h.1M956.4 287.6h.1M954.4 288.2h.1M960.7 287.0h.1M958.0 287.7h.1M964.1 285.7h.1M962.5 287.1h.1M955.5 290.4h.1M956.1 289.4h.1M959.2 289.5h.1M955.2 291.8h.1M961.1 288.9h.1M957.8 292.1h.1M959.4 290.4h.1M956.2 292.8h.1M958.0 292.9h.1M959.5 292.6h.1M963.7 291.0h.1M958.0 294.2h.1M958.1 294.8h.1M962.0 294.8h.1M957.2 296.7h.1M956.8 296.0h.1M957.4 297.7h.1M957.4 297.0h.1M969.1 293.4h.1M958.2 298.8h.1M964.6 296.1h.1M960.2 298.5h.1M959.4 299.1h.1M962.4 299.2h.1M962.8 298.8h.1M963.8 300.0h.1M963.7 301.1h.1M960.8 303.2h.1M959.7 303.2h.1M960.3 304.1h.1M962.5 303.6h.1M963.5 304.7h.1M969.1 301.6h.1M967.5 304.1h.1M963.7 305.8h.1M964.5 306.7h.1M965.7 305.6h.1M962.4 308.2h.1M964.7 307.7h.1M963.5 309.5h.1M967.9 308.0h.1M972.1 305.8h.1M965.1 309.5h.1M973.5 308.1h.1M969.2 309.9h.1M965.0 313.0h.1M974.1 308.9h.1M966.5 312.7h.1M973.1 310.8h.1M972.6 311.8h.1M967.3 313.9h.1M964.4 315.0h.1M965.8 315.9h.1M965.0 315.7h.1M966.2 316.5h.1M966.7 317.7h.1M972.5 315.4h.1M976.5 314.3h.1M968.9 319.1h.1M968.1 319.4h.1M967.9 320.0h.1M969.5 320.1h.1M973.5 317.9h.1M972.0 320.1h.1M969.3 320.8h.1M968.4 322.1h.1M977.7 318.8h.1M968.9 323.1h.1M968.0 323.5h.1M970.4 323.7h.1M972.2 324.0h.1M980.0 320.3h.1M973.5 324.3h.1M970.0 325.7h.1M970.3 325.7h.1M969.4 327.1h.1M975.5 325.2h.1M975.2 324.9h.1M970.9 327.9h.1M975.0 326.6h.1M973.7 327.7h.1M973.9 327.8h.1M971.2 329.7h.1M975.5 328.3h.1M973.2 330.7h.1M980.7 327.4h.1M975.9 330.1h.1M981.1 328.6h.1M972.3 333.5h.1M976.3 331.3h.1M975.7 331.4h.1M978.3 332.1h.1M979.9 331.2h.1M974.9 333.5h.1M976.2 333.5h.1M974.8 334.7h.1M974.1 336.4h.1M979.1 333.4h.1M974.2 337.5h.1M976.0 336.8h.1M980.0 335.4h.1M975.9 337.7h.1M977.4 337.8h.1M981.9 336.7h.1M979.0 338.7h.1M980.8 338.3h.1M975.7 340.7h.1M977.9 339.7h.1M980.3 339.4h.1M978.1 340.9h.1M976.5 341.8h.1M976.6 342.5h.1M978.6 343.5h.1M978.4 344.2h.1M976.7 344.6h.1M982.4 342.9h.1M978.2 346.0h.1M977.6 346.2h.1M984.6 344.4h.1M980.4 346.2h.1M980.0 348.2h.1M980.8 348.0h.1M979.4 349.7h.1M978.4 349.2h.1M982.1 348.9h.1M980.6 350.6h.1M981.7 349.7h.1M985.8 349.8h.1M985.0 349.7h.1M983.6 350.5h.1M983.3 352.0h.1M980.7 352.7h.1M981.2 353.7h.1M985.9 351.4h.1M985.6 353.8h.1M986.4 353.4h.1M982.2 354.5h.1M981.5 356.5h.1M989.7 352.4h.1M987.7 353.7h.1M992.3 353.2h.1M989.9 353.7h.1M987.7 356.4h.1M983.9 358.2h.1M984.5 358.8h.1M985.8 358.4h.1M990.5 357.6h.1M983.4 360.9h.1M988.6 359.6h.1M983.7 361.0h.1M987.3 360.9h.1M987.1 361.5h.1M987.8 362.8h.1M992.1 360.2h.1M989.3 361.9h.1M988.8 362.4h.1M986.5 364.2h.1M986.5 363.5h.1M991.0 363.5h.1M988.0 364.5h.1M985.0 365.9h.1M985.7 367.1h.1M989.6 365.6h.1M986.6 366.1h.1M988.8 366.4h.1M987.2 366.8h.1M992.0 366.7h.1M987.8 368.2h.1M992.1 367.0h.1M987.9 369.3h.1M995.2 367.0h.1M987.1 370.8h.1M988.7 370.6h.1M989.8 371.2h.1M988.2 371.9h.1M988.8 372.8h.1M988.7 373.1h.1M990.1 373.1h.1M990.4 373.3h.1M989.6 374.6h.1M958.2 159.6h.1M958.6 160.8h.1M961.1 159.9h.1M952.3 164.6h.1M960.6 161.0h.1M956.2 164.5h.1M961.7 161.9h.1M961.4 162.5h.1M958.7 164.1h.1M956.4 164.5h.1M961.5 164.2h.1M955.5 166.9h.1M960.7 165.5h.1M958.6 166.8h.1M963.6 165.9h.1M961.3 166.1h.1M958.5 168.1h.1M959.8 169.0h.1M963.4 166.8h.1M958.3 170.6h.1M958.8 169.6h.1M961.7 169.5h.1M964.7 168.5h.1M962.9 170.1h.1M960.8 171.0h.1M958.8 172.1h.1M960.8 171.2h.1M965.3 169.7h.1M963.1 172.2h.1M960.9 173.0h.1M966.1 173.6h.1M955.4 177.4h.1M966.6 173.3h.1M965.9 174.5h.1M965.6 174.4h.1M965.9 175.9h.1M965.9 177.0h.1M965.6 176.9h.1M962.7 178.8h.1M966.2 178.2h.1M965.0 178.9h.1M968.3 178.5h.1M966.9 178.1h.1M968.0 179.2h.1M959.8 182.9h.1M966.8 179.4h.1M966.0 181.5h.1M967.2 181.7h.1M968.0 182.3h.1M965.8 182.3h.1M969.5 182.7h.1M963.8 184.1h.1M970.2 182.1h.1M970.4 183.6h.1M966.1 184.7h.1M969.0 184.6h.1M971.0 184.6h.1M968.1 185.2h.1M961.3 190.0h.1M970.1 185.3h.1M967.6 186.4h.1M964.7 189.6h.1M971.1 186.1h.1M970.1 187.8h.1M970.7 188.1h.1M970.8 188.1h.1M970.1 189.4h.1M970.6 188.9h.1M972.5 188.4h.1M968.8 191.5h.1M971.3 189.9h.1M972.9 191.0h.1M971.1 191.9h.1M971.4 192.0h.1M972.2 191.8h.1M970.3 192.9h.1M974.6 192.7h.1M970.5 194.8h.1M974.6 193.5h.1M973.1 194.6h.1M972.1 196.8h.1M969.5 198.0h.1M968.9 197.1h.1M974.1 197.3h.1M973.3 197.3h.1M974.3 196.5h.1M975.6 197.1h.1M971.7 199.0h.1M969.2 201.3h.1M971.4 200.0h.1M974.5 199.9h.1M969.2 203.3h.1M967.4 204.8h.1M968.7 204.0h.1M974.0 202.6h.1M976.4 201.7h.1M977.0 202.6h.1M970.6 205.7h.1M975.5 203.6h.1M971.1 206.9h.1M977.5 204.6h.1M978.4 203.7h.1M973.5 207.2h.1M972.8 207.6h.1M975.0 207.2h.1M975.6 207.2h.1M970.4 209.6h.1M975.3 208.6h.1M971.1 210.3h.1M977.5 207.6h.1M977.0 208.8h.1M977.6 208.9h.1M978.2 209.0h.1M980.4 208.6h.1M979.8 210.2h.1M980.6 209.7h.1M979.4 210.6h.1M977.2 212.5h.1M976.1 213.0h.1M971.4 215.4h.1M978.5 212.6h.1M980.9 212.3h.1M981.2 213.3h.1M981.8 214.0h.1M980.7 213.8h.1M977.3 215.6h.1M982.5 214.4h.1M983.1 213.8h.1M971.9 219.4h.1M983.3 214.9h.1M978.4 217.8h.1M976.8 219.9h.1M983.8 216.5h.1M980.8 217.1h.1M978.1 220.4h.1M984.9 217.3h.1M977.9 220.3h.1M979.9 220.8h.1M984.9 218.0h.1M974.5 223.4h.1M985.1 218.8h.1M984.9 219.5h.1M982.8 222.0h.1M978.2 223.1h.1M983.2 222.6h.1M984.9 221.9h.1M985.1 222.2h.1M986.0 222.7h.1M985.7 222.4h.1M986.4 223.9h.1M980.7 225.5h.1M987.7 222.8h.1M982.7 226.1h.1M987.1 226.2h.1M987.6 225.5h.1M985.5 227.0h.1M989.3 227.7h.1M988.0 228.3h.1M983.6 230.4h.1M985.1 230.8h.1M981.5 232.6h.1M990.6 229.5h.1M984.1 231.9h.1M985.8 231.9h.1M985.6 232.2h.1M990.6 230.8h.1M990.8 231.1h.1M988.7 232.8h.1M982.3 236.6h.1M988.0 233.9h.1M990.3 232.2h.1M986.5 236.1h.1M990.1 234.4h.1M988.2 236.7h.1M983.4 237.9h.1M992.2 234.0h.1M989.8 236.7h.1M991.9 235.5h.1M990.9 237.2h.1M992.2 237.2h.1M992.4 236.3h.1M991.6 238.1h.1M990.1 239.0h.1M994.3 238.0h.1M987.5 241.4h.1M988.2 241.2h.1M985.3 243.6h.1M989.5 242.1h.1M994.7 240.5h.1M994.0 241.1h.1M986.7 243.5h.1M988.5 244.0h.1M993.8 241.6h.1M991.0 243.8h.1M987.4 245.8h.1M995.7 242.4h.1M993.9 244.0h.1M984.5 248.8h.1M995.2 243.6h.1M994.8 246.0h.1M996.9 245.1h.1M991.5 247.3h.1M995.3 246.1h.1M994.3 248.3h.1M997.9 246.6h.1M992.0 250.5h.1M997.1 248.0h.1M994.5 249.0h.1M993.3 250.7h.1M990.8 251.7h.1M993.0 250.2h.1M996.1 250.6h.1M998.1 249.4h.1M999.3 251.0h.1M998.7 250.7h.1M995.6 252.5h.1M999.4 251.7h.1M999.0 252.5h.1M987.6 257.1h.1M1000.5 254.1h.1M1000.6 253.5h.1M994.8 255.5h.1M998.3 255.8h.1M990.4 258.6h.1M996.2 257.1h.1M990.9 259.7h.1M1000.1 257.4h.1M1001.3 256.4h.1M1000.7 257.8h.1M1001.8 257.3h.1M1001.9 257.5h.1M999.1 259.2h.1M1001.2 259.1h.1M997.9 260.3h.1M1003.1 259.5h.1M1000.1 260.4h.1M1003.4 260.4h.1M1003.3 260.5h.1M1002.4 260.5h.1M1003.6 260.9h.1M995.1 265.9h.1M1001.8 263.9h.1M1000.6 265.2h.1M1001.3 265.1h.1M1004.4 264.1h.1M998.9 266.5h.1M1001.2 266.3h.1M997.4 268.2h.1M1002.9 266.9h.1M1003.6 267.2h.1M1003.9 268.2h.1M1002.1 268.5h.1M1001.5 269.4h.1M1004.4 268.6h.1M1005.2 268.7h.1M996.0 272.4h.1M1006.0 269.6h.1M1006.6 269.3h.1M996.3 274.0h.1M1006.9 270.5h.1M1005.5 272.6h.1M1001.6 272.9h.1M1002.7 273.8h.1M1006.7 272.2h.1M1007.3 272.6h.1M1002.0 275.5h.1M1004.0 275.0h.1M1005.7 273.8h.1M1007.6 274.6h.1M1003.6 275.6h.1M1004.7 276.9h.1M1006.5 275.7h.1M1008.1 275.2h.1M998.4 280.0h.1M1006.8 277.1h.1M999.6 279.1h.1M1008.9 278.1h.1M1007.4 277.9h.1M1009.1 279.0h.1M1005.7 280.0h.1M1009.2 278.9h.1M1008.1 279.5h.1M1010.0 279.3h.1M1004.0 282.2h.1M1005.7 282.0h.1M1002.0 283.4h.1M1010.1 280.4h.1M1009.2 281.4h.1M1006.8 283.1h.1M1000.8 285.2h.1M1007.3 283.6h.1M1001.9 286.1h.1M1008.0 284.7h.1M1007.4 285.1h.1M1011.0 284.1h.1M1010.0 285.3h.1M1005.4 287.4h.1M1009.2 286.8h.1M1010.5 285.9h.1M1009.4 286.8h.1M1009.9 287.2h.1M1009.7 288.8h.1M1012.8 287.7h.1M1011.4 289.1h.1M1012.1 288.5h.1M1013.0 288.9h.1M1007.4 292.3h.1M1012.3 289.8h.1M1012.8 289.3h.1M1005.3 293.4h.1M1006.2 293.2h.1M1011.5 291.5h.1M1006.1 294.7h.1M1010.3 293.5h.1M1011.5 293.9h.1M1013.7 292.7h.1M1005.1 297.8h.1M1011.2 295.5h.1M1010.8 295.9h.1M1015.1 294.1h.1M1008.8 296.8h.1M1015.2 296.3h.1M1010.2 298.1h.1M1016.2 296.1h.1M1015.4 297.3h.1M1013.7 297.2h.1M1006.0 301.4h.1M1016.4 298.9h.1M1011.9 301.8h.1M1010.1 303.1h.1M1016.2 301.4h.1M1016.0 301.8h.1M1010.5 304.5h.1M1016.8 302.6h.1M1017.9 301.8h.1M1016.0 303.0h.1M1008.8 306.0h.1M1014.3 303.6h.1M1018.7 304.0h.1M1018.6 303.4h.1M1013.5 306.8h.1M1016.7 305.1h.1M1018.7 306.3h.1M1018.9 306.2h.1M1017.0 308.1h.1M1014.3 309.0h.1M1018.5 308.2h.1M1013.4 310.7h.1M1018.8 308.5h.1M1020.3 309.0h.1M1009.3 313.4h.1M1021.3 310.5h.1M1020.0 310.0h.1M1016.4 312.6h.1M1019.1 312.2h.1M1018.7 312.1h.1M1018.6 312.3h.1M1021.6 312.7h.1M1018.0 313.4h.1M1014.6 316.0h.1M1019.6 314.0h.1M1022.3 314.2h.1M1020.3 316.5h.1M1022.3 315.1h.1M1022.0 315.5h.1M1020.1 316.4h.1M1023.0 316.5h.1M1023.5 316.2h.1M1015.3 320.4h.1M1023.5 317.1h.1M1021.5 319.4h.1M1015.1 322.0h.1M1021.3 318.7h.1M1021.1 320.8h.1M1022.2 319.7h.1M1021.2 321.3h.1M1022.0 320.5h.1M1023.8 320.3h.1M1025.2 320.8h.1M1025.0 321.4h.1M1022.2 322.2h.1M1019.8 324.5h.1M1025.4 321.8h.1M1024.8 323.2h.1M1024.7 324.4h.1M1018.7 327.3h.1M1027.3 324.7h.1M1015.8 329.0h.1M1023.4 326.0h.1M1020.5 328.6h.1M1025.8 326.8h.1M1023.5 328.4h.1M1027.9 326.0h.1M1023.0 329.7h.1M1027.7 327.2h.1M1023.2 329.3h.1M1027.6 328.5h.1M1026.9 329.2h.1M1023.0 332.2h.1M1028.3 329.3h.1M1025.6 330.7h.1M1020.3 333.5h.1M1024.6 332.5h.1M1027.0 332.4h.1M1029.6 331.7h.1M1020.3 336.5h.1M1028.3 332.7h.1M1028.3 333.3h.1M1030.7 333.6h.1M1028.1 335.0h.1M1027.3 335.5h.1M1025.8 336.9h.1M1031.7 336.1h.1M1027.6 337.0h.1M1029.6 336.9h.1M1023.3 340.7h.1M1031.9 336.8h.1M1028.9 338.3h.1M1028.3 339.3h.1M1032.4 338.4h.1M1031.2 339.4h.1M1033.2 339.5h.1M1032.9 340.6h.1M1031.4 341.6h.1M1031.8 342.3h.1M1029.3 343.7h.1M1033.4 342.4h.1M1033.9 343.8h.1M1033.9 343.7h.1M1034.6 343.6h.1M1032.5 345.6h.1M1030.5 346.3h.1M1031.6 345.8h.1M1030.7 347.1h.1M1031.6 346.2h.1M1035.0 346.0h.1M1034.1 347.0h.1M1034.6 346.8h.1M1035.0 348.2h.1M1034.3 348.5h.1M1030.5 350.1h.1M1035.6 348.6h.1M1035.1 348.7h.1M1027.1 353.6h.1M1033.0 351.2h.1M1025.6 353.9h.1M1037.4 350.8h.1M1027.6 354.8h.1M1037.2 351.6h.1M1034.1 353.3h.1M1032.6 355.6h.1M1036.3 353.6h.1M1039.0 356.7h.1M1035.2 357.2h.1M1029.9 359.2h.1M1038.0 357.2h.1M1035.2 358.1h.1M1035.3 358.7h.1M1029.0 360.1h.1M1030.0 359.2h.1M1028.0 359.9h.1M1038.3 357.8h.1M1039.8 357.7h.1M1030.7 359.7h.1M1039.3 357.4h.1M1036.2 359.2h.1M1035.1 358.5h.1M1040.1 357.9h.1M1034.8 359.9h.1M1040.4 359.0h.1M1038.2 359.2h.1" fill="none" stroke="#555" stroke-width="1.5" stroke-linecap="round" opacity="0.7"/></g>
<g clip-path="url(#st3c)"><path d="M888.0,111.5 890.2,117.4 888.0,111.5 883.7,99.8 881.6,93.9 883.7,99.8Z M888.0,111.5 890.2,117.4 888.0,111.5 883.7,99.8 881.6,93.9 883.7,99.8Z M888.0,111.5 890.2,117.4 888.0,111.5 883.7,99.8 881.6,93.9 883.7,99.8Z M888.0,111.5 890.2,117.4 888.0,111.5 883.7,99.8 881.6,93.9 883.7,99.8Z M890.8,110.5 890.3,117.3 888.0,111.5 883.7,99.8 881.7,93.9 886.4,98.8Z M905.3,105.1 898.9,114.1 890.8,110.5 886.4,98.8 890.3,90.7 901.0,93.4Z M925.2,97.8 917.4,107.3 905.3,105.1 901.0,93.4 908.8,83.9 920.9,86.1Z M939.8,92.5 935.9,100.5 925.2,97.8 920.9,86.1 927.3,77.1 935.4,80.7Z M942.5,91.5 944.6,97.4 939.8,92.5 935.4,80.7 935.9,73.9 938.2,79.7Z M942.5,91.5 944.6,97.3 942.5,91.5 938.2,79.7 936.0,73.9 938.2,79.7Z M942.5,91.5 944.6,97.3 942.5,91.5 938.2,79.7 936.0,73.9 938.2,79.7Z M942.5,91.5 944.6,97.3 942.5,91.5 938.2,79.7 936.0,73.9 938.2,79.7Z M942.5,91.5 944.6,97.3 942.5,91.5 938.2,79.7 936.0,73.9 938.2,79.7Z M894.5,129.1 896.7,135.0 894.5,129.1 890.2,117.4 888.0,111.5 890.2,117.4Z M894.5,129.1 896.7,135.0 894.5,129.1 890.2,117.4 888.0,111.5 890.2,117.4Z M894.5,129.1 896.7,135.0 894.5,129.1 890.2,117.4 888.0,111.5 890.2,117.4Z M894.6,129.1 896.7,135.0 894.5,129.1 890.2,117.4 888.0,111.5 890.3,117.3Z M903.3,125.9 899.4,134.0 894.6,129.1 890.3,117.3 890.8,110.5 898.9,114.1Z M921.7,119.1 914.0,128.6 903.3,125.9 898.9,114.1 905.3,105.1 917.4,107.3Z M940.2,112.3 933.8,121.3 921.7,119.1 917.4,107.3 925.2,97.8 935.9,100.5Z M948.9,109.1 948.4,115.9 940.2,112.3 935.9,100.5 939.8,92.5 944.6,97.4Z M949.0,109.1 951.1,114.9 948.9,109.1 944.6,97.4 942.5,91.5 944.6,97.3Z M949.0,109.1 951.1,114.9 949.0,109.1 944.6,97.3 942.5,91.5 944.6,97.3Z M949.0,109.1 951.1,114.9 949.0,109.1 944.6,97.3 942.5,91.5 944.6,97.3Z M949.0,109.1 951.1,114.9 949.0,109.1 944.6,97.3 942.5,91.5 944.6,97.3Z M949.0,109.1 951.1,114.9 949.0,109.1 944.6,97.3 942.5,91.5 944.6,97.3Z M901.0,146.7 903.2,152.6 901.0,146.7 896.7,135.0 894.5,129.1 896.7,135.0Z M901.0,146.7 903.2,152.6 901.0,146.7 896.7,135.0 894.5,129.1 896.7,135.0Z M901.0,146.7 903.2,152.6 901.0,146.7 896.7,135.0 894.5,129.1 896.7,135.0Z M901.0,146.7 903.2,152.6 901.0,146.7 896.7,135.0 894.5,129.1 896.7,135.0Z M903.7,145.7 903.2,152.5 901.0,146.7 896.7,135.0 894.6,129.1 899.4,134.0Z M918.3,140.3 911.9,149.3 903.7,145.7 899.4,134.0 903.3,125.9 914.0,128.6Z M938.1,133.0 930.4,142.5 918.3,140.3 914.0,128.6 921.7,119.1 933.8,121.3Z M952.7,127.7 948.9,135.7 938.1,133.0 933.8,121.3 940.2,112.3 948.4,115.9Z M955.4,126.7 957.5,132.6 952.7,127.7 948.4,115.9 948.9,109.1 951.1,114.9Z M955.4,126.7 957.6,132.5 955.4,126.7 951.1,114.9 949.0,109.1 951.1,114.9Z M955.4,126.7 957.6,132.5 955.4,126.7 951.1,114.9 949.0,109.1 951.1,114.9Z M955.4,126.7 957.6,132.5 955.4,126.7 951.1,114.9 949.0,109.1 951.1,114.9Z M955.4,126.7 957.6,132.5 955.4,126.7 951.1,114.9 949.0,109.1 951.1,114.9Z M907.5,164.3 909.6,170.1 907.5,164.3 903.2,152.6 901.0,146.7 903.2,152.6Z M907.5,164.3 909.6,170.1 907.5,164.3 903.2,152.6 901.0,146.7 903.2,152.6Z M907.5,164.3 909.6,170.1 907.5,164.3 903.2,152.6 901.0,146.7 903.2,152.6Z M907.5,164.3 909.6,170.1 907.5,164.3 903.2,152.6 901.0,146.7 903.2,152.5Z M916.2,161.1 912.3,169.1 907.5,164.3 903.2,152.5 903.7,145.7 911.9,149.3Z M934.7,154.3 926.9,163.8 916.2,161.1 911.9,149.3 918.3,140.3 930.4,142.5Z M953.2,147.5 946.8,156.5 934.7,154.3 930.4,142.5 938.1,133.0 948.9,135.7Z M961.8,144.3 961.3,151.1 953.2,147.5 948.9,135.7 952.7,127.7 957.5,132.6Z M961.9,144.3 964.1,150.1 961.8,144.3 957.5,132.6 955.4,126.7 957.6,132.5Z M961.9,144.3 964.1,150.1 961.9,144.3 957.6,132.5 955.4,126.7 957.6,132.5Z M961.9,144.3 964.1,150.1 961.9,144.3 957.6,132.5 955.4,126.7 957.6,132.5Z M961.9,144.3 964.1,150.1 961.9,144.3 957.6,132.5 955.4,126.7 957.6,132.5Z M961.9,144.3 964.1,150.1 961.9,144.3 957.6,132.5 955.4,126.7 957.6,132.5Z M913.9,181.9 916.1,187.7 913.9,181.9 909.6,170.1 907.5,164.3 909.6,170.1Z M913.9,181.9 916.1,187.7 913.9,181.9 909.6,170.1 907.5,164.3 909.6,170.1Z M913.9,181.9 916.1,187.7 913.9,181.9 909.6,170.1 907.5,164.3 909.6,170.1Z M913.9,181.9 916.1,187.7 913.9,181.9 909.6,170.1 907.5,164.3 909.6,170.1Z M916.7,180.9 916.2,187.7 913.9,181.9 909.6,170.1 907.5,164.3 912.3,169.1Z M931.2,175.5 924.8,184.5 916.7,180.9 912.3,169.1 916.2,161.1 926.9,163.8Z M951.1,168.2 943.3,177.7 931.2,175.5 926.9,163.8 934.7,154.3 946.8,156.5Z M965.7,162.9 961.8,170.9 951.1,168.2 946.8,156.5 953.2,147.5 961.3,151.1Z M968.4,161.9 970.5,167.7 965.7,162.9 961.3,151.1 961.8,144.3 964.1,150.1Z M968.4,161.9 970.5,167.7 968.4,161.9 964.1,150.1 961.9,144.3 964.1,150.1Z M968.4,161.9 970.5,167.7 968.4,161.9 964.1,150.1 961.9,144.3 964.1,150.1Z M968.4,161.9 970.5,167.7 968.4,161.9 964.1,150.1 961.9,144.3 964.1,150.1Z M968.4,161.9 970.5,167.7 968.4,161.9 964.1,150.1 961.9,144.3 964.1,150.1Z M920.4,199.5 922.6,205.3 920.4,199.5 916.1,187.7 913.9,181.9 916.1,187.7Z M920.4,199.5 922.6,205.3 920.4,199.5 916.1,187.7 913.9,181.9 916.1,187.7Z M920.4,199.5 922.6,205.3 920.4,199.5 916.1,187.7 913.9,181.9 916.1,187.7Z M920.5,199.4 922.6,205.3 920.4,199.5 916.1,187.7 913.9,181.9 916.2,187.7Z M929.1,196.3 925.3,204.3 920.5,199.4 916.2,187.7 916.7,180.9 924.8,184.5Z M947.6,189.5 939.9,199.0 929.1,196.3 924.8,184.5 931.2,175.5 943.3,177.7Z M966.1,182.7 959.7,191.7 947.6,189.5 943.3,177.7 951.1,168.2 961.8,170.9Z M974.8,179.5 974.3,186.3 966.1,182.7 961.8,170.9 965.7,162.9 970.5,167.7Z M974.8,179.4 977.0,185.3 974.8,179.5 970.5,167.7 968.4,161.9 970.5,167.7Z M974.8,179.4 977.0,185.3 974.8,179.4 970.5,167.7 968.4,161.9 970.5,167.7Z M974.8,179.4 977.0,185.3 974.8,179.4 970.5,167.7 968.4,161.9 970.5,167.7Z M974.8,179.4 977.0,185.3 974.8,179.4 970.5,167.7 968.4,161.9 970.5,167.7Z M974.8,179.4 977.0,185.3 974.8,179.4 970.5,167.7 968.4,161.9 970.5,167.7Z M926.9,217.1 929.0,222.9 926.9,217.1 922.6,205.3 920.4,199.5 922.6,205.3Z M926.9,217.1 929.0,222.9 926.9,217.1 922.6,205.3 920.4,199.5 922.6,205.3Z M926.9,217.1 929.0,222.9 926.9,217.1 922.6,205.3 920.4,199.5 922.6,205.3Z M926.9,217.1 929.0,222.9 926.9,217.1 922.6,205.3 920.4,199.5 922.6,205.3Z M929.6,216.1 929.1,222.9 926.9,217.1 922.6,205.3 920.5,199.4 925.3,204.3Z M944.2,210.7 937.8,219.7 929.6,216.1 925.3,204.3 929.1,196.3 939.9,199.0Z M964.0,203.4 956.3,212.9 944.2,210.7 939.9,199.0 947.6,189.5 959.7,191.7Z M978.6,198.0 974.7,206.1 964.0,203.4 959.7,191.7 966.1,182.7 974.3,186.3Z M981.3,197.0 983.4,202.9 978.6,198.0 974.3,186.3 974.8,179.5 977.0,185.3Z M981.3,197.0 983.5,202.9 981.3,197.0 977.0,185.3 974.8,179.4 977.0,185.3Z M981.3,197.0 983.5,202.9 981.3,197.0 977.0,185.3 974.8,179.4 977.0,185.3Z M981.3,197.0 983.5,202.9 981.3,197.0 977.0,185.3 974.8,179.4 977.0,185.3Z M981.3,197.0 983.5,202.9 981.3,197.0 977.0,185.3 974.8,179.4 977.0,185.3Z M933.4,234.7 935.5,240.5 933.4,234.7 929.0,222.9 926.9,217.1 929.0,222.9Z M933.4,234.7 935.5,240.5 933.4,234.7 929.0,222.9 926.9,217.1 929.0,222.9Z M933.4,234.7 935.5,240.5 933.4,234.7 929.0,222.9 926.9,217.1 929.0,222.9Z M933.4,234.6 935.5,240.5 933.4,234.7 929.0,222.9 926.9,217.1 929.1,222.9Z M942.1,231.5 938.2,239.5 933.4,234.6 929.1,222.9 929.6,216.1 937.8,219.7Z M960.6,224.7 952.8,234.2 942.1,231.5 937.8,219.7 944.2,210.7 956.3,212.9Z M979.1,217.9 972.7,226.9 960.6,224.7 956.3,212.9 964.0,203.4 974.7,206.1Z M987.7,214.7 987.2,221.5 979.1,217.9 974.7,206.1 978.6,198.0 983.4,202.9Z M987.8,214.6 990.0,220.5 987.7,214.7 983.4,202.9 981.3,197.0 983.5,202.9Z M987.8,214.6 990.0,220.5 987.8,214.6 983.5,202.9 981.3,197.0 983.5,202.9Z M987.8,214.6 990.0,220.5 987.8,214.6 983.5,202.9 981.3,197.0 983.5,202.9Z M987.8,214.6 990.0,220.5 987.8,214.6 983.5,202.9 981.3,197.0 983.5,202.9Z M987.8,214.6 990.0,220.5 987.8,214.6 983.5,202.9 981.3,197.0 983.5,202.9Z M939.8,252.3 942.0,258.1 939.8,252.3 935.5,240.5 933.4,234.7 935.5,240.5Z M939.8,252.3 942.0,258.1 939.8,252.3 935.5,240.5 933.4,234.7 935.5,240.5Z M939.8,252.3 942.0,258.1 939.8,252.3 935.5,240.5 933.4,234.7 935.5,240.5Z M939.8,252.3 942.0,258.1 939.8,252.3 935.5,240.5 933.4,234.7 935.5,240.5Z M942.6,251.3 942.1,258.1 939.8,252.3 935.5,240.5 933.4,234.6 938.2,239.5Z M957.1,245.9 950.7,254.9 942.6,251.3 938.2,239.5 942.1,231.5 952.8,234.2Z M977.0,238.6 969.2,248.1 957.1,245.9 952.8,234.2 960.6,224.7 972.7,226.9Z M991.6,233.2 987.7,241.3 977.0,238.6 972.7,226.9 979.1,217.9 987.2,221.5Z M994.3,232.2 996.3,238.1 991.6,233.2 987.2,221.5 987.7,214.7 990.0,220.5Z M994.3,232.2 996.4,238.1 994.3,232.2 990.0,220.5 987.8,214.6 990.0,220.5Z M994.3,232.2 996.4,238.1 994.3,232.2 990.0,220.5 987.8,214.6 990.0,220.5Z M994.3,232.2 996.4,238.1 994.3,232.2 990.0,220.5 987.8,214.6 990.0,220.5Z M994.3,232.2 996.4,238.1 994.3,232.2 990.0,220.5 987.8,214.6 990.0,220.5Z M946.3,269.9 948.5,275.7 946.3,269.9 942.0,258.1 939.8,252.3 942.0,258.1Z M946.3,269.9 948.5,275.7 946.3,269.9 942.0,258.1 939.8,252.3 942.0,258.1Z M946.3,269.9 948.5,275.7 946.3,269.9 942.0,258.1 939.8,252.3 942.0,258.1Z M946.4,269.8 948.5,275.7 946.3,269.9 942.0,258.1 939.8,252.3 942.1,258.1Z M955.0,266.6 951.2,274.7 946.4,269.8 942.1,258.1 942.6,251.3 950.7,254.9Z M973.5,259.8 965.8,269.4 955.0,266.6 950.7,254.9 957.1,245.9 969.2,248.1Z M992.0,253.0 985.6,262.1 973.5,259.8 969.2,248.1 977.0,238.6 987.7,241.3Z M1000.7,249.9 1000.2,256.7 992.0,253.0 987.7,241.3 991.6,233.2 996.3,238.1Z M1000.7,249.8 1002.9,255.7 1000.7,249.9 996.3,238.1 994.3,232.2 996.4,238.1Z M1000.7,249.8 1002.9,255.7 1000.7,249.8 996.4,238.1 994.3,232.2 996.4,238.1Z M1000.7,249.8 1002.9,255.7 1000.7,249.8 996.4,238.1 994.3,232.2 996.4,238.1Z M1000.7,249.8 1002.9,255.7 1000.7,249.8 996.4,238.1 994.3,232.2 996.4,238.1Z M1000.7,249.8 1002.9,255.7 1000.7,249.8 996.4,238.1 994.3,232.2 996.4,238.1Z M952.8,287.5 954.9,293.3 952.8,287.5 948.5,275.7 946.3,269.9 948.5,275.7Z M952.8,287.5 954.9,293.3 952.8,287.5 948.5,275.7 946.3,269.9 948.5,275.7Z M952.8,287.5 954.9,293.3 952.8,287.5 948.5,275.7 946.3,269.9 948.5,275.7Z M952.8,287.5 954.9,293.3 952.8,287.5 948.5,275.7 946.3,269.9 948.5,275.7Z M955.5,286.5 955.0,293.3 952.8,287.5 948.5,275.7 946.4,269.8 951.2,274.7Z M970.1,281.1 963.7,290.1 955.5,286.5 951.2,274.7 955.0,266.6 965.8,269.4Z M989.9,273.8 982.2,283.3 970.1,281.1 965.8,269.4 973.5,259.8 985.6,262.1Z M1004.5,268.4 1000.6,276.5 989.9,273.8 985.6,262.1 992.0,253.0 1000.2,256.7Z M1007.2,267.4 1009.3,273.3 1004.5,268.4 1000.2,256.7 1000.7,249.9 1002.9,255.7Z M1007.2,267.4 1009.4,273.3 1007.2,267.4 1002.9,255.7 1000.7,249.8 1002.9,255.7Z M1007.2,267.4 1009.4,273.3 1007.2,267.4 1002.9,255.7 1000.7,249.8 1002.9,255.7Z M1007.2,267.4 1009.4,273.3 1007.2,267.4 1002.9,255.7 1000.7,249.8 1002.9,255.7Z M1007.2,267.4 1009.4,273.3 1007.2,267.4 1002.9,255.7 1000.7,249.8 1002.9,255.7Z M959.3,305.1 961.4,310.9 959.3,305.1 954.9,293.3 952.8,287.5 954.9,293.3Z M959.3,305.1 961.4,310.9 959.3,305.1 954.9,293.3 952.8,287.5 954.9,293.3Z M959.3,305.1 961.4,310.9 959.3,305.1 954.9,293.3 952.8,287.5 954.9,293.3Z M959.3,305.0 961.4,310.9 959.3,305.1 954.9,293.3 952.8,287.5 955.0,293.3Z M968.0,301.8 964.1,309.9 959.3,305.0 955.0,293.3 955.5,286.5 963.7,290.1Z M986.5,295.0 978.7,304.6 968.0,301.8 963.7,290.1 970.1,281.1 982.2,283.3Z M1005.0,288.2 998.6,297.3 986.5,295.0 982.2,283.3 989.9,273.8 1000.6,276.5Z M1013.6,285.1 1013.1,291.9 1005.0,288.2 1000.6,276.5 1004.5,268.4 1009.3,273.3Z M1013.7,285.0 1015.9,290.9 1013.6,285.1 1009.3,273.3 1007.2,267.4 1009.4,273.3Z M1013.7,285.0 1015.9,290.9 1013.7,285.0 1009.4,273.3 1007.2,267.4 1009.4,273.3Z M1013.7,285.0 1015.9,290.9 1013.7,285.0 1009.4,273.3 1007.2,267.4 1009.4,273.3Z M1013.7,285.0 1015.9,290.9 1013.7,285.0 1009.4,273.3 1007.2,267.4 1009.4,273.3Z M1013.7,285.0 1015.9,290.9 1013.7,285.0 1009.4,273.3 1007.2,267.4 1009.4,273.3Z M965.7,322.7 967.9,328.5 965.7,322.7 961.4,310.9 959.3,305.1 961.4,310.9Z M965.7,322.7 967.9,328.5 965.7,322.7 961.4,310.9 959.3,305.1 961.4,310.9Z M965.7,322.7 967.9,328.5 965.7,322.7 961.4,310.9 959.3,305.1 961.4,310.9Z M965.7,322.7 967.9,328.5 965.7,322.7 961.4,310.9 959.3,305.1 961.4,310.9Z M968.5,321.7 968.0,328.5 965.7,322.7 961.4,310.9 959.3,305.0 964.1,309.9Z M983.0,316.3 976.6,325.3 968.5,321.7 964.1,309.9 968.0,301.8 978.7,304.6Z M1002.9,309.0 995.1,318.5 983.0,316.3 978.7,304.6 986.5,295.0 998.6,297.3Z M1017.4,303.6 1013.6,311.7 1002.9,309.0 998.6,297.3 1005.0,288.2 1013.1,291.9Z M1020.2,302.6 1022.2,308.5 1017.4,303.6 1013.1,291.9 1013.6,285.1 1015.9,290.9Z M1020.2,302.6 1022.3,308.5 1020.2,302.6 1015.9,290.9 1013.7,285.0 1015.9,290.9Z M1020.2,302.6 1022.3,308.5 1020.2,302.6 1015.9,290.9 1013.7,285.0 1015.9,290.9Z M1020.2,302.6 1022.3,308.5 1020.2,302.6 1015.9,290.9 1013.7,285.0 1015.9,290.9Z M1020.2,302.6 1022.3,308.5 1020.2,302.6 1015.9,290.9 1013.7,285.0 1015.9,290.9Z M972.2,340.2 974.4,346.1 972.2,340.2 967.9,328.5 965.7,322.7 967.9,328.5Z M972.2,340.2 974.4,346.1 972.2,340.2 967.9,328.5 965.7,322.7 967.9,328.5Z M972.2,340.2 974.4,346.1 972.2,340.2 967.9,328.5 965.7,322.7 967.9,328.5Z M972.3,340.2 974.4,346.1 972.2,340.2 967.9,328.5 965.7,322.7 968.0,328.5Z M980.9,337.0 977.1,345.1 972.3,340.2 968.0,328.5 968.5,321.7 976.6,325.3Z M999.4,330.2 991.7,339.8 980.9,337.0 976.6,325.3 983.0,316.3 995.1,318.5Z M1017.9,323.4 1011.5,332.5 999.4,330.2 995.1,318.5 1002.9,309.0 1013.6,311.7Z M1026.6,320.3 1026.1,327.1 1017.9,323.4 1013.6,311.7 1017.4,303.6 1022.2,308.5Z M1026.6,320.2 1028.8,326.1 1026.6,320.3 1022.2,308.5 1020.2,302.6 1022.3,308.5Z M1026.6,320.2 1028.8,326.1 1026.6,320.2 1022.3,308.5 1020.2,302.6 1022.3,308.5Z M1026.6,320.2 1028.8,326.1 1026.6,320.2 1022.3,308.5 1020.2,302.6 1022.3,308.5Z M1026.6,320.2 1028.8,326.1 1026.6,320.2 1022.3,308.5 1020.2,302.6 1022.3,308.5Z M1026.6,320.2 1028.8,326.1 1026.6,320.2 1022.3,308.5 1020.2,302.6 1022.3,308.5Z M978.7,357.8 980.8,363.7 978.7,357.8 974.4,346.1 972.2,340.2 974.4,346.1Z M978.7,357.8 980.8,363.7 978.7,357.8 974.4,346.1 972.2,340.2 974.4,346.1Z M978.7,357.8 980.8,363.7 978.7,357.8 974.4,346.1 972.2,340.2 974.4,346.1Z M978.7,357.8 980.8,363.7 978.7,357.8 974.4,346.1 972.2,340.2 974.4,346.1Z M981.4,356.8 980.9,363.7 978.7,357.8 974.4,346.1 972.3,340.2 977.1,345.1Z M996.0,351.5 989.6,360.5 981.4,356.8 977.1,345.1 980.9,337.0 991.7,339.8Z M1015.8,344.2 1008.1,353.7 996.0,351.5 991.7,339.8 999.4,330.2 1011.5,332.5Z M1030.4,338.8 1026.5,346.9 1015.8,344.2 1011.5,332.5 1017.9,323.4 1026.1,327.1Z M1033.1,337.8 1035.2,343.7 1030.4,338.8 1026.1,327.1 1026.6,320.3 1028.8,326.1Z M1033.1,337.8 1035.3,343.7 1033.1,337.8 1028.8,326.1 1026.6,320.2 1028.8,326.1Z M1033.1,337.8 1035.3,343.7 1033.1,337.8 1028.8,326.1 1026.6,320.2 1028.8,326.1Z M1033.1,337.8 1035.3,343.7 1033.1,337.8 1028.8,326.1 1026.6,320.2 1028.8,326.1Z M1033.1,337.8 1035.3,343.7 1033.1,337.8 1028.8,326.1 1026.6,320.2 1028.8,326.1Z M985.2,375.4 987.3,381.3 985.2,375.4 980.8,363.7 978.7,357.8 980.8,363.7Z M985.2,375.4 987.3,381.3 985.2,375.4 980.8,363.7 978.7,357.8 980.8,363.7Z M985.2,375.4 987.3,381.3 985.2,375.4 980.8,363.7 978.7,357.8 980.8,363.7Z M985.2,375.4 987.3,381.3 985.2,375.4 980.8,363.7 978.7,357.8 980.9,363.7Z M993.9,372.2 990.0,380.3 985.2,375.4 980.9,363.7 981.4,356.8 989.6,360.5Z M1012.4,365.4 1004.6,374.9 993.9,372.2 989.6,360.5 996.0,351.5 1008.1,353.7Z M1030.9,358.6 1024.5,367.6 1012.4,365.4 1008.1,353.7 1015.8,344.2 1026.5,346.9Z M1039.5,355.4 1039.0,362.3 1030.9,358.6 1026.5,346.9 1030.4,338.8 1035.2,343.7Z M1039.6,355.4 1041.8,361.3 1039.5,355.4 1035.2,343.7 1033.1,337.8 1035.3,343.7Z M1039.6,355.4 1041.8,361.3 1039.6,355.4 1035.3,343.7 1033.1,337.8 1035.3,343.7Z M1039.6,355.4 1041.8,361.3 1039.6,355.4 1035.3,343.7 1033.1,337.8 1035.3,343.7Z M1039.6,355.4 1041.8,361.3 1039.6,355.4 1035.3,343.7 1033.1,337.8 1035.3,343.7Z M1039.6,355.4 1041.8,361.3 1039.6,355.4 1035.3,343.7 1033.1,337.8 1035.3,343.7Z M991.6,393.0 993.8,398.9 991.6,393.0 987.3,381.3 985.2,375.4 987.3,381.3Z M991.6,393.0 993.8,398.9 991.6,393.0 987.3,381.3 985.2,375.4 987.3,381.3Z M991.6,393.0 993.8,398.9 991.6,393.0 987.3,381.3 985.2,375.4 987.3,381.3Z M991.6,393.0 993.8,398.9 991.6,393.0 987.3,381.3 985.2,375.4 987.3,381.3Z M994.4,392.0 993.9,398.9 991.6,393.0 987.3,381.3 985.2,375.4 990.0,380.3Z M1008.9,386.7 1002.5,395.7 994.4,392.0 990.0,380.3 993.9,372.2 1004.6,374.9Z M1028.8,379.4 1021.0,388.9 1008.9,386.7 1004.6,374.9 1012.4,365.4 1024.5,367.6Z M1043.3,374.0 1039.5,382.1 1028.8,379.4 1024.5,367.6 1030.9,358.6 1039.0,362.3Z M1046.1,373.0 1048.1,378.9 1043.3,374.0 1039.0,362.3 1039.5,355.4 1041.8,361.3Z M1046.1,373.0 1048.2,378.9 1046.1,373.0 1041.8,361.3 1039.6,355.4 1041.8,361.3Z M1046.1,373.0 1048.2,378.9 1046.1,373.0 1041.8,361.3 1039.6,355.4 1041.8,361.3Z M1046.1,373.0 1048.2,378.9 1046.1,373.0 1041.8,361.3 1039.6,355.4 1041.8,361.3Z M1046.1,373.0 1048.2,378.9 1046.1,373.0 1041.8,361.3 1039.6,355.4 1041.8,361.3Z M998.1,410.6 1000.3,416.5 998.1,410.6 993.8,398.9 991.6,393.0 993.8,398.9Z M998.1,410.6 1000.3,416.5 998.1,410.6 993.8,398.9 991.6,393.0 993.8,398.9Z M998.1,410.6 1000.3,416.5 998.1,410.6 993.8,398.9 991.6,393.0 993.8,398.9Z M998.2,410.6 1000.3,416.5 998.1,410.6 993.8,398.9 991.6,393.0 993.9,398.9Z M1006.8,407.4 1003.0,415.5 998.2,410.6 993.9,398.9 994.4,392.0 1002.5,395.7Z M1025.3,400.6 1017.6,410.1 1006.8,407.4 1002.5,395.7 1008.9,386.7 1021.0,388.9Z M1043.8,393.8 1037.4,402.8 1025.3,400.6 1021.0,388.9 1028.8,379.4 1039.5,382.1Z M1052.5,390.6 1052.0,397.5 1043.8,393.8 1039.5,382.1 1043.3,374.0 1048.1,378.9Z M1052.5,390.6 1054.7,396.5 1052.5,390.6 1048.1,378.9 1046.1,373.0 1048.2,378.9Z M1052.5,390.6 1054.7,396.5 1052.5,390.6 1048.2,378.9 1046.1,373.0 1048.2,378.9Z M1052.5,390.6 1054.7,396.5 1052.5,390.6 1048.2,378.9 1046.1,373.0 1048.2,378.9Z M1052.5,390.6 1054.7,396.5 1052.5,390.6 1048.2,378.9 1046.1,373.0 1048.2,378.9Z M1052.5,390.6 1054.7,396.5 1052.5,390.6 1048.2,378.9 1046.1,373.0 1048.2,378.9Z M1004.6,428.2 1006.7,434.1 1004.6,428.2 1000.3,416.5 998.1,410.6 1000.3,416.5Z M1004.6,428.2 1006.7,434.1 1004.6,428.2 1000.3,416.5 998.1,410.6 1000.3,416.5Z M1004.6,428.2 1006.7,434.1 1004.6,428.2 1000.3,416.5 998.1,410.6 1000.3,416.5Z M1004.6,428.2 1006.7,434.1 1004.6,428.2 1000.3,416.5 998.1,410.6 1000.3,416.5Z M1007.3,427.2 1006.8,434.1 1004.6,428.2 1000.3,416.5 998.2,410.6 1003.0,415.5Z M1021.9,421.9 1015.5,430.9 1007.3,427.2 1003.0,415.5 1006.8,407.4 1017.6,410.1Z M1041.7,414.6 1034.0,424.1 1021.9,421.9 1017.6,410.1 1025.3,400.6 1037.4,402.8Z M1056.3,409.2 1052.4,417.3 1041.7,414.6 1037.4,402.8 1043.8,393.8 1052.0,397.5Z M1059.0,408.2 1061.1,414.1 1056.3,409.2 1052.0,397.5 1052.5,390.6 1054.7,396.5Z M1059.0,408.2 1061.2,414.1 1059.0,408.2 1054.7,396.5 1052.5,390.6 1054.7,396.5Z M1059.0,408.2 1061.2,414.1 1059.0,408.2 1054.7,396.5 1052.5,390.6 1054.7,396.5Z M1059.0,408.2 1061.2,414.1 1059.0,408.2 1054.7,396.5 1052.5,390.6 1054.7,396.5Z M1059.0,408.2 1061.2,414.1 1059.0,408.2 1054.7,396.5 1052.5,390.6 1054.7,396.5Z M1011.1,445.8 1013.2,451.7 1011.1,445.8 1006.7,434.1 1004.6,428.2 1006.7,434.1Z M1011.1,445.8 1013.2,451.7 1011.1,445.8 1006.7,434.1 1004.6,428.2 1006.7,434.1Z M1011.1,445.8 1013.2,451.7 1011.1,445.8 1006.7,434.1 1004.6,428.2 1006.7,434.1Z M1011.1,445.8 1013.2,451.7 1011.1,445.8 1006.7,434.1 1004.6,428.2 1006.8,434.1Z M1019.8,442.6 1015.9,450.7 1011.1,445.8 1006.8,434.1 1007.3,427.2 1015.5,430.9Z M1038.3,435.8 1030.5,445.3 1019.8,442.6 1015.5,430.9 1021.9,421.9 1034.0,424.1Z M1056.8,429.0 1050.4,438.0 1038.3,435.8 1034.0,424.1 1041.7,414.6 1052.4,417.3Z M1065.4,425.8 1064.9,432.7 1056.8,429.0 1052.4,417.3 1056.3,409.2 1061.1,414.1Z M1065.5,425.8 1067.6,431.7 1065.4,425.8 1061.1,414.1 1059.0,408.2 1061.2,414.1Z M1065.5,425.8 1067.6,431.7 1065.5,425.8 1061.2,414.1 1059.0,408.2 1061.2,414.1Z M1065.5,425.8 1067.6,431.7 1065.5,425.8 1061.2,414.1 1059.0,408.2 1061.2,414.1Z M1065.5,425.8 1067.6,431.7 1065.5,425.8 1061.2,414.1 1059.0,408.2 1061.2,414.1Z M1065.5,425.8 1067.6,431.7 1065.5,425.8 1061.2,414.1 1059.0,408.2 1061.2,414.1Z" fill="none" stroke="#5e0636" stroke-width="4.8" stroke-linejoin="round"/><path d="M888.0,111.5 890.2,117.4 888.0,111.5 883.7,99.8 881.6,93.9 883.7,99.8Z M888.0,111.5 890.2,117.4 888.0,111.5 883.7,99.8 881.6,93.9 883.7,99.8Z M888.0,111.5 890.2,117.4 888.0,111.5 883.7,99.8 881.6,93.9 883.7,99.8Z M888.0,111.5 890.2,117.4 888.0,111.5 883.7,99.8 881.6,93.9 883.7,99.8Z M890.8,110.5 890.3,117.3 888.0,111.5 883.7,99.8 881.7,93.9 886.4,98.8Z M905.3,105.1 898.9,114.1 890.8,110.5 886.4,98.8 890.3,90.7 901.0,93.4Z M925.2,97.8 917.4,107.3 905.3,105.1 901.0,93.4 908.8,83.9 920.9,86.1Z M939.8,92.5 935.9,100.5 925.2,97.8 920.9,86.1 927.3,77.1 935.4,80.7Z M942.5,91.5 944.6,97.4 939.8,92.5 935.4,80.7 935.9,73.9 938.2,79.7Z M942.5,91.5 944.6,97.3 942.5,91.5 938.2,79.7 936.0,73.9 938.2,79.7Z M942.5,91.5 944.6,97.3 942.5,91.5 938.2,79.7 936.0,73.9 938.2,79.7Z M942.5,91.5 944.6,97.3 942.5,91.5 938.2,79.7 936.0,73.9 938.2,79.7Z M942.5,91.5 944.6,97.3 942.5,91.5 938.2,79.7 936.0,73.9 938.2,79.7Z M894.5,129.1 896.7,135.0 894.5,129.1 890.2,117.4 888.0,111.5 890.2,117.4Z M894.5,129.1 896.7,135.0 894.5,129.1 890.2,117.4 888.0,111.5 890.2,117.4Z M894.5,129.1 896.7,135.0 894.5,129.1 890.2,117.4 888.0,111.5 890.2,117.4Z M894.6,129.1 896.7,135.0 894.5,129.1 890.2,117.4 888.0,111.5 890.3,117.3Z M903.3,125.9 899.4,134.0 894.6,129.1 890.3,117.3 890.8,110.5 898.9,114.1Z M921.7,119.1 914.0,128.6 903.3,125.9 898.9,114.1 905.3,105.1 917.4,107.3Z M940.2,112.3 933.8,121.3 921.7,119.1 917.4,107.3 925.2,97.8 935.9,100.5Z M948.9,109.1 948.4,115.9 940.2,112.3 935.9,100.5 939.8,92.5 944.6,97.4Z M949.0,109.1 951.1,114.9 948.9,109.1 944.6,97.4 942.5,91.5 944.6,97.3Z M949.0,109.1 951.1,114.9 949.0,109.1 944.6,97.3 942.5,91.5 944.6,97.3Z M949.0,109.1 951.1,114.9 949.0,109.1 944.6,97.3 942.5,91.5 944.6,97.3Z M949.0,109.1 951.1,114.9 949.0,109.1 944.6,97.3 942.5,91.5 944.6,97.3Z M949.0,109.1 951.1,114.9 949.0,109.1 944.6,97.3 942.5,91.5 944.6,97.3Z M901.0,146.7 903.2,152.6 901.0,146.7 896.7,135.0 894.5,129.1 896.7,135.0Z M901.0,146.7 903.2,152.6 901.0,146.7 896.7,135.0 894.5,129.1 896.7,135.0Z M901.0,146.7 903.2,152.6 901.0,146.7 896.7,135.0 894.5,129.1 896.7,135.0Z M901.0,146.7 903.2,152.6 901.0,146.7 896.7,135.0 894.5,129.1 896.7,135.0Z M903.7,145.7 903.2,152.5 901.0,146.7 896.7,135.0 894.6,129.1 899.4,134.0Z M918.3,140.3 911.9,149.3 903.7,145.7 899.4,134.0 903.3,125.9 914.0,128.6Z M938.1,133.0 930.4,142.5 918.3,140.3 914.0,128.6 921.7,119.1 933.8,121.3Z M952.7,127.7 948.9,135.7 938.1,133.0 933.8,121.3 940.2,112.3 948.4,115.9Z M955.4,126.7 957.5,132.6 952.7,127.7 948.4,115.9 948.9,109.1 951.1,114.9Z M955.4,126.7 957.6,132.5 955.4,126.7 951.1,114.9 949.0,109.1 951.1,114.9Z M955.4,126.7 957.6,132.5 955.4,126.7 951.1,114.9 949.0,109.1 951.1,114.9Z M955.4,126.7 957.6,132.5 955.4,126.7 951.1,114.9 949.0,109.1 951.1,114.9Z M955.4,126.7 957.6,132.5 955.4,126.7 951.1,114.9 949.0,109.1 951.1,114.9Z M907.5,164.3 909.6,170.1 907.5,164.3 903.2,152.6 901.0,146.7 903.2,152.6Z M907.5,164.3 909.6,170.1 907.5,164.3 903.2,152.6 901.0,146.7 903.2,152.6Z M907.5,164.3 909.6,170.1 907.5,164.3 903.2,152.6 901.0,146.7 903.2,152.6Z M907.5,164.3 909.6,170.1 907.5,164.3 903.2,152.6 901.0,146.7 903.2,152.5Z M916.2,161.1 912.3,169.1 907.5,164.3 903.2,152.5 903.7,145.7 911.9,149.3Z M934.7,154.3 926.9,163.8 916.2,161.1 911.9,149.3 918.3,140.3 930.4,142.5Z M953.2,147.5 946.8,156.5 934.7,154.3 930.4,142.5 938.1,133.0 948.9,135.7Z M961.8,144.3 961.3,151.1 953.2,147.5 948.9,135.7 952.7,127.7 957.5,132.6Z M961.9,144.3 964.1,150.1 961.8,144.3 957.5,132.6 955.4,126.7 957.6,132.5Z M961.9,144.3 964.1,150.1 961.9,144.3 957.6,132.5 955.4,126.7 957.6,132.5Z M961.9,144.3 964.1,150.1 961.9,144.3 957.6,132.5 955.4,126.7 957.6,132.5Z M961.9,144.3 964.1,150.1 961.9,144.3 957.6,132.5 955.4,126.7 957.6,132.5Z M961.9,144.3 964.1,150.1 961.9,144.3 957.6,132.5 955.4,126.7 957.6,132.5Z M913.9,181.9 916.1,187.7 913.9,181.9 909.6,170.1 907.5,164.3 909.6,170.1Z M913.9,181.9 916.1,187.7 913.9,181.9 909.6,170.1 907.5,164.3 909.6,170.1Z M913.9,181.9 916.1,187.7 913.9,181.9 909.6,170.1 907.5,164.3 909.6,170.1Z M913.9,181.9 916.1,187.7 913.9,181.9 909.6,170.1 907.5,164.3 909.6,170.1Z M916.7,180.9 916.2,187.7 913.9,181.9 909.6,170.1 907.5,164.3 912.3,169.1Z M931.2,175.5 924.8,184.5 916.7,180.9 912.3,169.1 916.2,161.1 926.9,163.8Z M951.1,168.2 943.3,177.7 931.2,175.5 926.9,163.8 934.7,154.3 946.8,156.5Z M965.7,162.9 961.8,170.9 951.1,168.2 946.8,156.5 953.2,147.5 961.3,151.1Z M968.4,161.9 970.5,167.7 965.7,162.9 961.3,151.1 961.8,144.3 964.1,150.1Z M968.4,161.9 970.5,167.7 968.4,161.9 964.1,150.1 961.9,144.3 964.1,150.1Z M968.4,161.9 970.5,167.7 968.4,161.9 964.1,150.1 961.9,144.3 964.1,150.1Z M968.4,161.9 970.5,167.7 968.4,161.9 964.1,150.1 961.9,144.3 964.1,150.1Z M968.4,161.9 970.5,167.7 968.4,161.9 964.1,150.1 961.9,144.3 964.1,150.1Z M920.4,199.5 922.6,205.3 920.4,199.5 916.1,187.7 913.9,181.9 916.1,187.7Z M920.4,199.5 922.6,205.3 920.4,199.5 916.1,187.7 913.9,181.9 916.1,187.7Z M920.4,199.5 922.6,205.3 920.4,199.5 916.1,187.7 913.9,181.9 916.1,187.7Z M920.5,199.4 922.6,205.3 920.4,199.5 916.1,187.7 913.9,181.9 916.2,187.7Z M929.1,196.3 925.3,204.3 920.5,199.4 916.2,187.7 916.7,180.9 924.8,184.5Z M947.6,189.5 939.9,199.0 929.1,196.3 924.8,184.5 931.2,175.5 943.3,177.7Z M966.1,182.7 959.7,191.7 947.6,189.5 943.3,177.7 951.1,168.2 961.8,170.9Z M974.8,179.5 974.3,186.3 966.1,182.7 961.8,170.9 965.7,162.9 970.5,167.7Z M974.8,179.4 977.0,185.3 974.8,179.5 970.5,167.7 968.4,161.9 970.5,167.7Z M974.8,179.4 977.0,185.3 974.8,179.4 970.5,167.7 968.4,161.9 970.5,167.7Z M974.8,179.4 977.0,185.3 974.8,179.4 970.5,167.7 968.4,161.9 970.5,167.7Z M974.8,179.4 977.0,185.3 974.8,179.4 970.5,167.7 968.4,161.9 970.5,167.7Z M974.8,179.4 977.0,185.3 974.8,179.4 970.5,167.7 968.4,161.9 970.5,167.7Z M926.9,217.1 929.0,222.9 926.9,217.1 922.6,205.3 920.4,199.5 922.6,205.3Z M926.9,217.1 929.0,222.9 926.9,217.1 922.6,205.3 920.4,199.5 922.6,205.3Z M926.9,217.1 929.0,222.9 926.9,217.1 922.6,205.3 920.4,199.5 922.6,205.3Z M926.9,217.1 929.0,222.9 926.9,217.1 922.6,205.3 920.4,199.5 922.6,205.3Z M929.6,216.1 929.1,222.9 926.9,217.1 922.6,205.3 920.5,199.4 925.3,204.3Z M944.2,210.7 937.8,219.7 929.6,216.1 925.3,204.3 929.1,196.3 939.9,199.0Z M964.0,203.4 956.3,212.9 944.2,210.7 939.9,199.0 947.6,189.5 959.7,191.7Z M978.6,198.0 974.7,206.1 964.0,203.4 959.7,191.7 966.1,182.7 974.3,186.3Z M981.3,197.0 983.4,202.9 978.6,198.0 974.3,186.3 974.8,179.5 977.0,185.3Z M981.3,197.0 983.5,202.9 981.3,197.0 977.0,185.3 974.8,179.4 977.0,185.3Z M981.3,197.0 983.5,202.9 981.3,197.0 977.0,185.3 974.8,179.4 977.0,185.3Z M981.3,197.0 983.5,202.9 981.3,197.0 977.0,185.3 974.8,179.4 977.0,185.3Z M981.3,197.0 983.5,202.9 981.3,197.0 977.0,185.3 974.8,179.4 977.0,185.3Z M933.4,234.7 935.5,240.5 933.4,234.7 929.0,222.9 926.9,217.1 929.0,222.9Z M933.4,234.7 935.5,240.5 933.4,234.7 929.0,222.9 926.9,217.1 929.0,222.9Z M933.4,234.7 935.5,240.5 933.4,234.7 929.0,222.9 926.9,217.1 929.0,222.9Z M933.4,234.6 935.5,240.5 933.4,234.7 929.0,222.9 926.9,217.1 929.1,222.9Z M942.1,231.5 938.2,239.5 933.4,234.6 929.1,222.9 929.6,216.1 937.8,219.7Z M960.6,224.7 952.8,234.2 942.1,231.5 937.8,219.7 944.2,210.7 956.3,212.9Z M979.1,217.9 972.7,226.9 960.6,224.7 956.3,212.9 964.0,203.4 974.7,206.1Z M987.7,214.7 987.2,221.5 979.1,217.9 974.7,206.1 978.6,198.0 983.4,202.9Z M987.8,214.6 990.0,220.5 987.7,214.7 983.4,202.9 981.3,197.0 983.5,202.9Z M987.8,214.6 990.0,220.5 987.8,214.6 983.5,202.9 981.3,197.0 983.5,202.9Z M987.8,214.6 990.0,220.5 987.8,214.6 983.5,202.9 981.3,197.0 983.5,202.9Z M987.8,214.6 990.0,220.5 987.8,214.6 983.5,202.9 981.3,197.0 983.5,202.9Z M987.8,214.6 990.0,220.5 987.8,214.6 983.5,202.9 981.3,197.0 983.5,202.9Z M939.8,252.3 942.0,258.1 939.8,252.3 935.5,240.5 933.4,234.7 935.5,240.5Z M939.8,252.3 942.0,258.1 939.8,252.3 935.5,240.5 933.4,234.7 935.5,240.5Z M939.8,252.3 942.0,258.1 939.8,252.3 935.5,240.5 933.4,234.7 935.5,240.5Z M939.8,252.3 942.0,258.1 939.8,252.3 935.5,240.5 933.4,234.7 935.5,240.5Z M942.6,251.3 942.1,258.1 939.8,252.3 935.5,240.5 933.4,234.6 938.2,239.5Z M957.1,245.9 950.7,254.9 942.6,251.3 938.2,239.5 942.1,231.5 952.8,234.2Z M977.0,238.6 969.2,248.1 957.1,245.9 952.8,234.2 960.6,224.7 972.7,226.9Z M991.6,233.2 987.7,241.3 977.0,238.6 972.7,226.9 979.1,217.9 987.2,221.5Z M994.3,232.2 996.3,238.1 991.6,233.2 987.2,221.5 987.7,214.7 990.0,220.5Z M994.3,232.2 996.4,238.1 994.3,232.2 990.0,220.5 987.8,214.6 990.0,220.5Z M994.3,232.2 996.4,238.1 994.3,232.2 990.0,220.5 987.8,214.6 990.0,220.5Z M994.3,232.2 996.4,238.1 994.3,232.2 990.0,220.5 987.8,214.6 990.0,220.5Z M994.3,232.2 996.4,238.1 994.3,232.2 990.0,220.5 987.8,214.6 990.0,220.5Z M946.3,269.9 948.5,275.7 946.3,269.9 942.0,258.1 939.8,252.3 942.0,258.1Z M946.3,269.9 948.5,275.7 946.3,269.9 942.0,258.1 939.8,252.3 942.0,258.1Z M946.3,269.9 948.5,275.7 946.3,269.9 942.0,258.1 939.8,252.3 942.0,258.1Z M946.4,269.8 948.5,275.7 946.3,269.9 942.0,258.1 939.8,252.3 942.1,258.1Z M955.0,266.6 951.2,274.7 946.4,269.8 942.1,258.1 942.6,251.3 950.7,254.9Z M973.5,259.8 965.8,269.4 955.0,266.6 950.7,254.9 957.1,245.9 969.2,248.1Z M992.0,253.0 985.6,262.1 973.5,259.8 969.2,248.1 977.0,238.6 987.7,241.3Z M1000.7,249.9 1000.2,256.7 992.0,253.0 987.7,241.3 991.6,233.2 996.3,238.1Z M1000.7,249.8 1002.9,255.7 1000.7,249.9 996.3,238.1 994.3,232.2 996.4,238.1Z M1000.7,249.8 1002.9,255.7 1000.7,249.8 996.4,238.1 994.3,232.2 996.4,238.1Z M1000.7,249.8 1002.9,255.7 1000.7,249.8 996.4,238.1 994.3,232.2 996.4,238.1Z M1000.7,249.8 1002.9,255.7 1000.7,249.8 996.4,238.1 994.3,232.2 996.4,238.1Z M1000.7,249.8 1002.9,255.7 1000.7,249.8 996.4,238.1 994.3,232.2 996.4,238.1Z M952.8,287.5 954.9,293.3 952.8,287.5 948.5,275.7 946.3,269.9 948.5,275.7Z M952.8,287.5 954.9,293.3 952.8,287.5 948.5,275.7 946.3,269.9 948.5,275.7Z M952.8,287.5 954.9,293.3 952.8,287.5 948.5,275.7 946.3,269.9 948.5,275.7Z M952.8,287.5 954.9,293.3 952.8,287.5 948.5,275.7 946.3,269.9 948.5,275.7Z M955.5,286.5 955.0,293.3 952.8,287.5 948.5,275.7 946.4,269.8 951.2,274.7Z M970.1,281.1 963.7,290.1 955.5,286.5 951.2,274.7 955.0,266.6 965.8,269.4Z M989.9,273.8 982.2,283.3 970.1,281.1 965.8,269.4 973.5,259.8 985.6,262.1Z M1004.5,268.4 1000.6,276.5 989.9,273.8 985.6,262.1 992.0,253.0 1000.2,256.7Z M1007.2,267.4 1009.3,273.3 1004.5,268.4 1000.2,256.7 1000.7,249.9 1002.9,255.7Z M1007.2,267.4 1009.4,273.3 1007.2,267.4 1002.9,255.7 1000.7,249.8 1002.9,255.7Z M1007.2,267.4 1009.4,273.3 1007.2,267.4 1002.9,255.7 1000.7,249.8 1002.9,255.7Z M1007.2,267.4 1009.4,273.3 1007.2,267.4 1002.9,255.7 1000.7,249.8 1002.9,255.7Z M1007.2,267.4 1009.4,273.3 1007.2,267.4 1002.9,255.7 1000.7,249.8 1002.9,255.7Z M959.3,305.1 961.4,310.9 959.3,305.1 954.9,293.3 952.8,287.5 954.9,293.3Z M959.3,305.1 961.4,310.9 959.3,305.1 954.9,293.3 952.8,287.5 954.9,293.3Z M959.3,305.1 961.4,310.9 959.3,305.1 954.9,293.3 952.8,287.5 954.9,293.3Z M959.3,305.0 961.4,310.9 959.3,305.1 954.9,293.3 952.8,287.5 955.0,293.3Z M968.0,301.8 964.1,309.9 959.3,305.0 955.0,293.3 955.5,286.5 963.7,290.1Z M986.5,295.0 978.7,304.6 968.0,301.8 963.7,290.1 970.1,281.1 982.2,283.3Z M1005.0,288.2 998.6,297.3 986.5,295.0 982.2,283.3 989.9,273.8 1000.6,276.5Z M1013.6,285.1 1013.1,291.9 1005.0,288.2 1000.6,276.5 1004.5,268.4 1009.3,273.3Z M1013.7,285.0 1015.9,290.9 1013.6,285.1 1009.3,273.3 1007.2,267.4 1009.4,273.3Z M1013.7,285.0 1015.9,290.9 1013.7,285.0 1009.4,273.3 1007.2,267.4 1009.4,273.3Z M1013.7,285.0 1015.9,290.9 1013.7,285.0 1009.4,273.3 1007.2,267.4 1009.4,273.3Z M1013.7,285.0 1015.9,290.9 1013.7,285.0 1009.4,273.3 1007.2,267.4 1009.4,273.3Z M1013.7,285.0 1015.9,290.9 1013.7,285.0 1009.4,273.3 1007.2,267.4 1009.4,273.3Z M965.7,322.7 967.9,328.5 965.7,322.7 961.4,310.9 959.3,305.1 961.4,310.9Z M965.7,322.7 967.9,328.5 965.7,322.7 961.4,310.9 959.3,305.1 961.4,310.9Z M965.7,322.7 967.9,328.5 965.7,322.7 961.4,310.9 959.3,305.1 961.4,310.9Z M965.7,322.7 967.9,328.5 965.7,322.7 961.4,310.9 959.3,305.1 961.4,310.9Z M968.5,321.7 968.0,328.5 965.7,322.7 961.4,310.9 959.3,305.0 964.1,309.9Z M983.0,316.3 976.6,325.3 968.5,321.7 964.1,309.9 968.0,301.8 978.7,304.6Z M1002.9,309.0 995.1,318.5 983.0,316.3 978.7,304.6 986.5,295.0 998.6,297.3Z M1017.4,303.6 1013.6,311.7 1002.9,309.0 998.6,297.3 1005.0,288.2 1013.1,291.9Z M1020.2,302.6 1022.2,308.5 1017.4,303.6 1013.1,291.9 1013.6,285.1 1015.9,290.9Z M1020.2,302.6 1022.3,308.5 1020.2,302.6 1015.9,290.9 1013.7,285.0 1015.9,290.9Z M1020.2,302.6 1022.3,308.5 1020.2,302.6 1015.9,290.9 1013.7,285.0 1015.9,290.9Z M1020.2,302.6 1022.3,308.5 1020.2,302.6 1015.9,290.9 1013.7,285.0 1015.9,290.9Z M1020.2,302.6 1022.3,308.5 1020.2,302.6 1015.9,290.9 1013.7,285.0 1015.9,290.9Z M972.2,340.2 974.4,346.1 972.2,340.2 967.9,328.5 965.7,322.7 967.9,328.5Z M972.2,340.2 974.4,346.1 972.2,340.2 967.9,328.5 965.7,322.7 967.9,328.5Z M972.2,340.2 974.4,346.1 972.2,340.2 967.9,328.5 965.7,322.7 967.9,328.5Z M972.3,340.2 974.4,346.1 972.2,340.2 967.9,328.5 965.7,322.7 968.0,328.5Z M980.9,337.0 977.1,345.1 972.3,340.2 968.0,328.5 968.5,321.7 976.6,325.3Z M999.4,330.2 991.7,339.8 980.9,337.0 976.6,325.3 983.0,316.3 995.1,318.5Z M1017.9,323.4 1011.5,332.5 999.4,330.2 995.1,318.5 1002.9,309.0 1013.6,311.7Z M1026.6,320.3 1026.1,327.1 1017.9,323.4 1013.6,311.7 1017.4,303.6 1022.2,308.5Z M1026.6,320.2 1028.8,326.1 1026.6,320.3 1022.2,308.5 1020.2,302.6 1022.3,308.5Z M1026.6,320.2 1028.8,326.1 1026.6,320.2 1022.3,308.5 1020.2,302.6 1022.3,308.5Z M1026.6,320.2 1028.8,326.1 1026.6,320.2 1022.3,308.5 1020.2,302.6 1022.3,308.5Z M1026.6,320.2 1028.8,326.1 1026.6,320.2 1022.3,308.5 1020.2,302.6 1022.3,308.5Z M1026.6,320.2 1028.8,326.1 1026.6,320.2 1022.3,308.5 1020.2,302.6 1022.3,308.5Z M978.7,357.8 980.8,363.7 978.7,357.8 974.4,346.1 972.2,340.2 974.4,346.1Z M978.7,357.8 980.8,363.7 978.7,357.8 974.4,346.1 972.2,340.2 974.4,346.1Z M978.7,357.8 980.8,363.7 978.7,357.8 974.4,346.1 972.2,340.2 974.4,346.1Z M978.7,357.8 980.8,363.7 978.7,357.8 974.4,346.1 972.2,340.2 974.4,346.1Z M981.4,356.8 980.9,363.7 978.7,357.8 974.4,346.1 972.3,340.2 977.1,345.1Z M996.0,351.5 989.6,360.5 981.4,356.8 977.1,345.1 980.9,337.0 991.7,339.8Z M1015.8,344.2 1008.1,353.7 996.0,351.5 991.7,339.8 999.4,330.2 1011.5,332.5Z M1030.4,338.8 1026.5,346.9 1015.8,344.2 1011.5,332.5 1017.9,323.4 1026.1,327.1Z M1033.1,337.8 1035.2,343.7 1030.4,338.8 1026.1,327.1 1026.6,320.3 1028.8,326.1Z M1033.1,337.8 1035.3,343.7 1033.1,337.8 1028.8,326.1 1026.6,320.2 1028.8,326.1Z M1033.1,337.8 1035.3,343.7 1033.1,337.8 1028.8,326.1 1026.6,320.2 1028.8,326.1Z M1033.1,337.8 1035.3,343.7 1033.1,337.8 1028.8,326.1 1026.6,320.2 1028.8,326.1Z M1033.1,337.8 1035.3,343.7 1033.1,337.8 1028.8,326.1 1026.6,320.2 1028.8,326.1Z M985.2,375.4 987.3,381.3 985.2,375.4 980.8,363.7 978.7,357.8 980.8,363.7Z M985.2,375.4 987.3,381.3 985.2,375.4 980.8,363.7 978.7,357.8 980.8,363.7Z M985.2,375.4 987.3,381.3 985.2,375.4 980.8,363.7 978.7,357.8 980.8,363.7Z M985.2,375.4 987.3,381.3 985.2,375.4 980.8,363.7 978.7,357.8 980.9,363.7Z M993.9,372.2 990.0,380.3 985.2,375.4 980.9,363.7 981.4,356.8 989.6,360.5Z M1012.4,365.4 1004.6,374.9 993.9,372.2 989.6,360.5 996.0,351.5 1008.1,353.7Z M1030.9,358.6 1024.5,367.6 1012.4,365.4 1008.1,353.7 1015.8,344.2 1026.5,346.9Z M1039.5,355.4 1039.0,362.3 1030.9,358.6 1026.5,346.9 1030.4,338.8 1035.2,343.7Z M1039.6,355.4 1041.8,361.3 1039.5,355.4 1035.2,343.7 1033.1,337.8 1035.3,343.7Z M1039.6,355.4 1041.8,361.3 1039.6,355.4 1035.3,343.7 1033.1,337.8 1035.3,343.7Z M1039.6,355.4 1041.8,361.3 1039.6,355.4 1035.3,343.7 1033.1,337.8 1035.3,343.7Z M1039.6,355.4 1041.8,361.3 1039.6,355.4 1035.3,343.7 1033.1,337.8 1035.3,343.7Z M1039.6,355.4 1041.8,361.3 1039.6,355.4 1035.3,343.7 1033.1,337.8 1035.3,343.7Z M991.6,393.0 993.8,398.9 991.6,393.0 987.3,381.3 985.2,375.4 987.3,381.3Z M991.6,393.0 993.8,398.9 991.6,393.0 987.3,381.3 985.2,375.4 987.3,381.3Z M991.6,393.0 993.8,398.9 991.6,393.0 987.3,381.3 985.2,375.4 987.3,381.3Z M991.6,393.0 993.8,398.9 991.6,393.0 987.3,381.3 985.2,375.4 987.3,381.3Z M994.4,392.0 993.9,398.9 991.6,393.0 987.3,381.3 985.2,375.4 990.0,380.3Z M1008.9,386.7 1002.5,395.7 994.4,392.0 990.0,380.3 993.9,372.2 1004.6,374.9Z M1028.8,379.4 1021.0,388.9 1008.9,386.7 1004.6,374.9 1012.4,365.4 1024.5,367.6Z M1043.3,374.0 1039.5,382.1 1028.8,379.4 1024.5,367.6 1030.9,358.6 1039.0,362.3Z M1046.1,373.0 1048.1,378.9 1043.3,374.0 1039.0,362.3 1039.5,355.4 1041.8,361.3Z M1046.1,373.0 1048.2,378.9 1046.1,373.0 1041.8,361.3 1039.6,355.4 1041.8,361.3Z M1046.1,373.0 1048.2,378.9 1046.1,373.0 1041.8,361.3 1039.6,355.4 1041.8,361.3Z M1046.1,373.0 1048.2,378.9 1046.1,373.0 1041.8,361.3 1039.6,355.4 1041.8,361.3Z M1046.1,373.0 1048.2,378.9 1046.1,373.0 1041.8,361.3 1039.6,355.4 1041.8,361.3Z M998.1,410.6 1000.3,416.5 998.1,410.6 993.8,398.9 991.6,393.0 993.8,398.9Z M998.1,410.6 1000.3,416.5 998.1,410.6 993.8,398.9 991.6,393.0 993.8,398.9Z M998.1,410.6 1000.3,416.5 998.1,410.6 993.8,398.9 991.6,393.0 993.8,398.9Z M998.2,410.6 1000.3,416.5 998.1,410.6 993.8,398.9 991.6,393.0 993.9,398.9Z M1006.8,407.4 1003.0,415.5 998.2,410.6 993.9,398.9 994.4,392.0 1002.5,395.7Z M1025.3,400.6 1017.6,410.1 1006.8,407.4 1002.5,395.7 1008.9,386.7 1021.0,388.9Z M1043.8,393.8 1037.4,402.8 1025.3,400.6 1021.0,388.9 1028.8,379.4 1039.5,382.1Z M1052.5,390.6 1052.0,397.5 1043.8,393.8 1039.5,382.1 1043.3,374.0 1048.1,378.9Z M1052.5,390.6 1054.7,396.5 1052.5,390.6 1048.1,378.9 1046.1,373.0 1048.2,378.9Z M1052.5,390.6 1054.7,396.5 1052.5,390.6 1048.2,378.9 1046.1,373.0 1048.2,378.9Z M1052.5,390.6 1054.7,396.5 1052.5,390.6 1048.2,378.9 1046.1,373.0 1048.2,378.9Z M1052.5,390.6 1054.7,396.5 1052.5,390.6 1048.2,378.9 1046.1,373.0 1048.2,378.9Z M1052.5,390.6 1054.7,396.5 1052.5,390.6 1048.2,378.9 1046.1,373.0 1048.2,378.9Z M1004.6,428.2 1006.7,434.1 1004.6,428.2 1000.3,416.5 998.1,410.6 1000.3,416.5Z M1004.6,428.2 1006.7,434.1 1004.6,428.2 1000.3,416.5 998.1,410.6 1000.3,416.5Z M1004.6,428.2 1006.7,434.1 1004.6,428.2 1000.3,416.5 998.1,410.6 1000.3,416.5Z M1004.6,428.2 1006.7,434.1 1004.6,428.2 1000.3,416.5 998.1,410.6 1000.3,416.5Z M1007.3,427.2 1006.8,434.1 1004.6,428.2 1000.3,416.5 998.2,410.6 1003.0,415.5Z M1021.9,421.9 1015.5,430.9 1007.3,427.2 1003.0,415.5 1006.8,407.4 1017.6,410.1Z M1041.7,414.6 1034.0,424.1 1021.9,421.9 1017.6,410.1 1025.3,400.6 1037.4,402.8Z M1056.3,409.2 1052.4,417.3 1041.7,414.6 1037.4,402.8 1043.8,393.8 1052.0,397.5Z M1059.0,408.2 1061.1,414.1 1056.3,409.2 1052.0,397.5 1052.5,390.6 1054.7,396.5Z M1059.0,408.2 1061.2,414.1 1059.0,408.2 1054.7,396.5 1052.5,390.6 1054.7,396.5Z M1059.0,408.2 1061.2,414.1 1059.0,408.2 1054.7,396.5 1052.5,390.6 1054.7,396.5Z M1059.0,408.2 1061.2,414.1 1059.0,408.2 1054.7,396.5 1052.5,390.6 1054.7,396.5Z M1059.0,408.2 1061.2,414.1 1059.0,408.2 1054.7,396.5 1052.5,390.6 1054.7,396.5Z M1011.1,445.8 1013.2,451.7 1011.1,445.8 1006.7,434.1 1004.6,428.2 1006.7,434.1Z M1011.1,445.8 1013.2,451.7 1011.1,445.8 1006.7,434.1 1004.6,428.2 1006.7,434.1Z M1011.1,445.8 1013.2,451.7 1011.1,445.8 1006.7,434.1 1004.6,428.2 1006.7,434.1Z M1011.1,445.8 1013.2,451.7 1011.1,445.8 1006.7,434.1 1004.6,428.2 1006.8,434.1Z M1019.8,442.6 1015.9,450.7 1011.1,445.8 1006.8,434.1 1007.3,427.2 1015.5,430.9Z M1038.3,435.8 1030.5,445.3 1019.8,442.6 1015.5,430.9 1021.9,421.9 1034.0,424.1Z M1056.8,429.0 1050.4,438.0 1038.3,435.8 1034.0,424.1 1041.7,414.6 1052.4,417.3Z M1065.4,425.8 1064.9,432.7 1056.8,429.0 1052.4,417.3 1056.3,409.2 1061.1,414.1Z M1065.5,425.8 1067.6,431.7 1065.4,425.8 1061.1,414.1 1059.0,408.2 1061.2,414.1Z M1065.5,425.8 1067.6,431.7 1065.5,425.8 1061.2,414.1 1059.0,408.2 1061.2,414.1Z M1065.5,425.8 1067.6,431.7 1065.5,425.8 1061.2,414.1 1059.0,408.2 1061.2,414.1Z M1065.5,425.8 1067.6,431.7 1065.5,425.8 1061.2,414.1 1059.0,408.2 1061.2,414.1Z M1065.5,425.8 1067.6,431.7 1065.5,425.8 1061.2,414.1 1059.0,408.2 1061.2,414.1Z" fill="none" stroke="#c0136f" stroke-width="2.6" stroke-linejoin="round"/></g>
<path d="M899.5,150.0 901.3,152.5 901.7,155.0 903.5,157.5 904.1,160.0 903.3,162.5 904.3,165.0 905.1,167.5 907.4,170.0 908.5,172.5 908.7,175.0 909.9,177.5 911.5,180.0 912.4,182.5 913.8,185.0 913.3,187.5 914.1,190.0 915.6,192.5 917.7,195.0 920.0,197.5 918.9,200.0 919.1,202.5 920.6,205.0 921.1,207.5 923.2,210.0 923.2,212.5 923.3,215.0 925.8,217.5 926.4,220.0 928.3,222.5 928.9,225.0 927.2,227.5 928.3,230.0 930.5,232.5 931.5,235.0 934.2,237.5 933.8,240.0 933.9,242.5 935.9,245.0 937.1,247.5 937.4,250.0 937.4,252.5 937.8,255.0 939.6,257.5 941.5,260.0 944.2,262.5 943.6,265.0 943.4,267.5 945.1,270.0 945.6,272.5 946.8,275.0 948.6,277.5 948.6,280.0 949.7,282.5 951.8,285.0 952.6,287.5 954.3,290.0 952.9,292.5 953.6,295.0 955.4,297.5 957.6,300.0 959.9,302.5 959.0,305.0 959.5,307.5 961.7,310.0 962.0,312.5 963.3,315.0 963.5,317.5 964.0,320.0 966.2,322.5 968.2,325.0 969.7,327.5 969.4,330.0 969.5,332.5 970.6,335.0 971.3,337.5 973.6,340.0 974.9,342.5 975.0,345.0 977.1,347.5 978.0,350.0 979.6,352.5 979.9,355.0 979.1,357.5 980.6,360.0 982.2,362.5 983.2,365.0 985.0,367.5 984.4,370.0 984.8,372.5 986.0,375.0 987.4,377.5 989.1,380.0 988.9,382.5 989.3,385.0" fill="none" stroke="#151215" stroke-width="3.5" stroke-linejoin="round"/>
<path d="M957.9,150.0 960.9,152.5 961.4,155.0 962.4,157.5 962.0,160.0 963.6,162.5 965.7,165.0 966.5,167.5 966.8,170.0 966.7,172.5 967.0,175.0 969.6,177.5 972.0,180.0 972.2,182.5 973.3,185.0 973.0,187.5 974.9,190.0 976.9,192.5 976.0,195.0 977.0,197.5 978.0,200.0 980.6,202.5 982.5,205.0 982.7,207.5 983.6,210.0 982.8,212.5 985.1,215.0 987.5,217.5 988.2,220.0 989.4,222.5 989.3,225.0 990.6,227.5 993.2,230.0 993.4,232.5 993.8,235.0 994.1,237.5 995.3,240.0 999.0,242.5 999.2,245.0 1000.0,247.5 1000.8,250.0 1001.0,252.5 1003.0,255.0 1004.1,257.5 1003.8,260.0 1004.7,262.5 1005.5,265.0 1008.3,267.5 1009.5,270.0 1010.1,272.5 1009.8,275.0 1009.7,277.5 1010.9,280.0 1013.5,282.5 1013.7,285.0 1015.0,287.5 1014.6,290.0 1015.9,292.5 1018.0,295.0 1018.4,297.5 1018.6,300.0 1018.7,302.5 1020.1,305.0 1022.6,307.5 1023.5,310.0 1024.8,312.5 1025.5,315.0 1025.1,317.5 1027.2,320.0 1027.6,322.5 1028.0,325.0 1030.0,327.5 1029.8,330.0 1032.9,332.5 1034.9,335.0 1034.2,337.5 1034.5,340.0 1034.8,342.5 1035.8,345.0 1039.4,347.5 1040.0,350.0 1040.9,352.5 1040.7,355.0 1042.4,357.5 1044.9,360.0 1045.0,362.5 1045.5,365.0 1046.0,367.5 1047.8,370.0 1051.0,372.5 1051.1,375.0 1051.7,377.5 1052.7,380.0 1052.6,382.5 1055.4,385.0" fill="none" stroke="#151215" stroke-width="3.5" stroke-linejoin="round"/>
<path d="M194.8,-3.0 194.8,-2.9 194.8,-3.2 194.7,-3.6 194.6,-4.1 194.5,-4.4 194.5,-4.6 194.6,-4.4 194.7,-3.6 195.0,-2.2 195.5,0.0 196.1,3.1 196.9,7.0 197.9,11.5 198.9,16.6 200.0,22.1 201.1,27.7 202.4,33.5 203.6,39.2 204.8,44.8 206.0,50.0 207.2,55.0 208.5,60.0 209.7,65.0 211.1,70.0 212.4,75.0 213.8,80.0 215.1,85.0 216.4,90.0 217.7,95.0 219.0,100.0 220.2,105.0 221.5,110.0 222.7,115.0 223.9,120.0 225.1,125.0 226.2,130.0 227.4,135.0 228.6,140.0 229.8,145.0 231.0,150.0 232.2,155.0 233.3,160.0 234.4,165.0 235.6,170.0 236.7,175.0 237.8,180.0 239.0,185.0 240.3,190.0 241.6,195.0 243.0,200.0 244.5,205.0 246.0,210.0 247.7,215.0 249.3,220.0 251.1,225.0 252.8,230.0 254.6,235.0 256.4,240.0 258.2,245.0 260.0,250.0 261.8,255.0 263.6,260.0 265.5,265.0 267.3,270.0 269.2,275.0 271.1,280.0 273.0,285.0 275.0,290.0 277.0,295.0 279.0,300.0 281.1,305.0 283.2,310.0 285.4,315.0 287.6,320.0 289.8,325.0 292.1,330.0 294.3,335.0 296.6,340.0 298.8,345.0 301.0,350.0 303.2,355.0 305.4,360.0 307.6,365.0 309.8,370.0 312.0,375.0 314.2,380.0 316.4,385.0 318.6,390.0 320.8,395.0 323.0,400.0 325.2,405.0 327.4,410.0 329.5,415.0 331.7,420.0 333.9,425.0 336.1,430.0 338.3,435.0 340.5,440.0 342.7,445.0 345.0,450.0 347.3,455.0 349.6,459.9 351.9,464.8 354.2,469.7 356.6,474.6 359.0,479.5 361.4,484.5 363.9,489.6 366.4,494.7 369.0,500.0 371.7,505.4 374.4,511.0 377.2,516.6 380.1,522.3 383.0,528.1 385.9,533.9 388.8,539.7 391.7,545.5 394.6,551.3 397.5,557.0" fill="none" stroke="#151215" stroke-width="3"/>
<path d="M295.0,-3.0 295.0,-2.9 295.0,-3.2 294.9,-3.6 294.8,-4.1 294.7,-4.4 294.7,-4.6 294.8,-4.4 295.0,-3.6 295.3,-2.2 295.8,0.0 296.5,3.1 297.3,7.0 298.3,11.5 299.4,16.6 300.6,22.1 301.9,27.7 303.2,33.5 304.5,39.2 305.8,44.8 307.0,50.0 308.2,55.0 309.4,60.0 310.6,65.0 311.9,70.0 313.1,75.0 314.4,80.0 315.7,85.0 317.1,90.0 318.5,95.0 320.0,100.0 321.5,105.0 323.2,110.0 324.8,115.0 326.6,120.0 328.3,125.0 330.1,130.0 331.8,135.0 333.6,140.0 335.3,145.0 337.0,150.0 338.6,155.0 340.2,160.0 341.8,165.0 343.3,170.0 344.9,175.0 346.4,180.0 348.0,185.0 349.6,190.0 351.3,195.0 353.0,200.0 354.8,205.0 356.6,210.0 358.4,215.0 360.3,220.0 362.2,225.0 364.2,230.0 366.1,235.0 368.1,240.0 370.0,245.0 372.0,250.0 373.9,255.0 375.9,260.0 377.8,265.0 379.7,270.0 381.7,275.0 383.7,280.0 385.7,285.0 387.7,290.0 389.8,295.0 392.0,300.0 394.2,305.0 396.6,310.0 398.9,315.0 401.4,320.0 403.8,325.0 406.3,330.0 408.7,335.0 411.2,340.0 413.6,345.0 416.0,350.0 418.3,355.0 420.6,360.0 422.9,365.0 425.2,370.0 427.5,375.0 429.8,380.0 432.1,385.0 434.4,390.0 436.7,395.0 439.0,400.0 441.4,405.0 443.7,410.0 446.1,415.0 448.5,420.0 450.9,425.0 453.4,430.0 455.8,435.0 458.2,440.0 460.6,445.0 463.0,450.0 465.4,455.0 467.7,459.9 470.0,464.8 472.3,469.7 474.6,474.6 476.9,479.5 479.3,484.5 481.8,489.6 484.3,494.7 487.0,500.0 489.8,505.4 492.7,511.0 495.7,516.6 498.7,522.3 501.8,528.1 505.0,533.9 508.1,539.7 511.3,545.5 514.4,551.3 517.5,557.0" fill="none" stroke="#151215" stroke-width="3"/>
<path d="M512.8,-3.0 512.8,-2.9 512.7,-3.2 512.6,-3.6 512.5,-4.1 512.4,-4.4 512.3,-4.6 512.4,-4.4 512.6,-3.6 512.9,-2.2 513.5,0.0 514.3,3.1 515.3,7.0 516.5,11.5 517.8,16.6 519.1,22.1 520.6,27.7 522.1,33.5 523.6,39.2 525.0,44.8 526.3,50.0 527.6,55.0 528.8,60.0 530.0,65.0 531.2,70.0 532.5,75.0 533.7,80.0 535.0,85.0 536.3,90.0 537.6,95.0 539.0,100.0 540.5,105.0 542.1,110.0 543.7,115.0 545.4,120.0 547.1,125.0 548.7,130.0 550.4,135.0 551.9,140.0 553.4,145.0 554.7,150.0 555.9,155.0 556.9,160.0 557.8,165.0 558.6,170.0 559.4,175.0 560.2,180.0 561.0,185.0 561.9,190.0 562.9,195.0 564.0,200.0 565.2,205.0 566.6,210.0 567.9,215.0 569.3,220.0 570.8,225.0 572.4,230.0 574.0,235.0 575.6,240.0 577.3,245.0 579.0,250.0 580.8,255.0 582.7,260.0 584.6,265.0 586.6,270.0 588.6,275.0 590.7,280.0 592.8,285.0 594.9,290.0 596.9,295.0 599.0,300.0 601.1,305.0 603.1,310.0 605.2,315.0 607.3,320.0 609.4,325.0 611.5,330.0 613.6,335.0 615.7,340.0 617.9,345.0 620.0,350.0 622.2,355.0 624.3,360.0 626.5,365.0 628.6,370.0 630.8,375.0 633.0,380.0 635.2,385.0 637.5,390.0 639.7,395.0 642.0,400.0 644.3,405.0 646.7,410.0 649.1,415.0 651.6,420.0 654.0,425.0 656.4,430.0 658.9,435.0 661.3,440.0 663.7,445.0 666.0,450.0 668.3,455.0 670.5,459.9 672.6,464.8 674.8,469.7 676.9,474.6 679.0,479.5 681.2,484.5 683.4,489.6 685.7,494.7 688.0,500.0 690.4,505.4 692.9,511.0 695.4,516.6 697.9,522.3 700.5,528.1 703.1,533.9 705.7,539.7 708.3,545.5 710.9,551.3 713.5,557.0" fill="none" stroke="#151215" stroke-width="3"/>
<path d="M613.8,-3.0 613.8,-2.9 613.8,-3.2 613.7,-3.6 613.7,-4.1 613.6,-4.4 613.6,-4.6 613.7,-4.4 613.9,-3.6 614.2,-2.2 614.8,0.0 615.6,3.1 616.5,7.0 617.6,11.5 618.8,16.6 620.1,22.1 621.5,27.7 622.9,33.5 624.3,39.2 625.7,44.8 627.0,50.0 628.2,55.0 629.5,60.0 630.7,65.0 631.9,70.0 633.1,75.0 634.4,80.0 635.7,85.0 637.0,90.0 638.5,95.0 640.0,100.0 641.6,105.0 643.3,110.0 645.1,115.0 647.0,120.0 648.9,125.0 650.8,130.0 652.8,135.0 654.7,140.0 656.7,145.0 658.7,150.0 660.7,155.0 662.8,160.0 664.9,165.0 667.0,170.0 669.2,175.0 671.3,180.0 673.4,185.0 675.5,190.0 677.5,195.0 679.5,200.0 681.4,205.0 683.2,210.0 684.9,215.0 686.6,220.0 688.3,225.0 690.0,230.0 691.8,235.0 693.5,240.0 695.4,245.0 697.3,250.0 699.3,255.0 701.4,260.0 703.6,265.0 705.9,270.0 708.1,275.0 710.4,280.0 712.6,285.0 714.8,290.0 717.0,295.0 719.0,300.0 721.0,305.0 722.8,310.0 724.6,315.0 726.4,320.0 728.1,325.0 729.9,330.0 731.7,335.0 733.5,340.0 735.3,345.0 737.3,350.0 739.3,355.0 741.4,360.0 743.5,365.0 745.7,370.0 747.9,375.0 750.1,380.0 752.3,385.0 754.6,390.0 756.8,395.0 759.0,400.0 761.2,405.0 763.4,410.0 765.5,415.0 767.7,420.0 769.9,425.0 772.1,430.0 774.3,435.0 776.6,440.0 778.9,445.0 781.3,450.0 783.7,455.0 786.1,459.9 788.6,464.8 791.1,469.7 793.6,474.6 796.2,479.5 798.8,484.5 801.5,489.6 804.2,494.7 807.0,500.0 809.9,505.4 812.8,511.0 815.8,516.6 818.9,522.3 822.0,528.1 825.1,533.9 828.2,539.7 831.3,545.5 834.4,551.3 837.5,557.0" fill="none" stroke="#151215" stroke-width="3"/>
<path d="M839.8,-3.0 839.8,-2.9 839.7,-3.2 839.6,-3.6 839.5,-4.1 839.4,-4.4 839.3,-4.6 839.4,-4.4 839.6,-3.6 839.9,-2.2 840.5,0.0 841.3,3.1 842.3,7.0 843.4,11.5 844.7,16.6 846.1,22.1 847.6,27.7 849.0,33.5 850.5,39.2 851.9,44.8 853.3,50.0 854.6,55.0 856.0,60.0 857.3,65.0 858.7,70.0 860.0,75.0 861.4,80.0 862.8,85.0 864.1,90.0 865.4,95.0 866.7,100.0 868.0,105.0 869.2,110.0 870.5,115.0 871.7,120.0 872.9,125.0 874.1,130.0 875.3,135.0 876.4,140.0 877.6,145.0 878.7,150.0 879.8,155.0 880.8,160.0 881.7,165.0 882.6,170.0 883.5,175.0 884.5,180.0 885.5,185.0 886.5,190.0 887.7,195.0 889.0,200.0 890.4,205.0 892.0,210.0 893.6,215.0 895.3,220.0 897.1,225.0 898.9,230.0 900.7,235.0 902.5,240.0 904.3,245.0 906.0,250.0 907.7,255.0 909.3,260.0 911.0,265.0 912.6,270.0 914.2,275.0 915.9,280.0 917.6,285.0 919.3,290.0 921.1,295.0 923.0,300.0 925.0,305.0 927.0,310.0 929.2,315.0 931.4,320.0 933.6,325.0 935.8,330.0 938.1,335.0 940.3,340.0 942.5,345.0 944.7,350.0 946.8,355.0 948.9,360.0 950.9,365.0 953.0,370.0 955.0,375.0 957.1,380.0 959.2,385.0 961.4,390.0 963.7,395.0 966.0,400.0 968.5,405.0 971.1,410.0 973.8,415.0 976.6,420.0 979.4,425.0 982.2,430.0 985.0,435.0 987.7,440.0 990.3,445.0 992.7,450.0 995.0,455.0 997.0,459.9 999.0,464.8 1000.9,469.7 1002.7,474.6 1004.6,479.5 1006.5,484.5 1008.5,489.6 1010.7,494.7 1013.0,500.0 1015.5,505.4 1018.2,511.0 1020.9,516.6 1023.8,522.3 1026.7,528.1 1029.7,533.9 1032.7,539.7 1035.7,545.5 1038.6,551.3 1041.5,557.0" fill="none" stroke="#151215" stroke-width="3"/>
<path d="M941.8,-3.0 941.8,-2.9 941.8,-3.2 941.6,-3.6 941.5,-4.1 941.4,-4.4 941.4,-4.6 941.4,-4.4 941.6,-3.6 942.0,-2.2 942.5,0.0 943.2,3.1 944.2,7.0 945.2,11.5 946.4,16.6 947.7,22.1 949.0,27.7 950.4,33.5 951.9,39.2 953.3,44.8 954.7,50.0 956.1,55.0 957.5,60.0 959.0,65.0 960.5,70.0 962.0,75.0 963.5,80.0 965.1,85.0 966.7,90.0 968.3,95.0 970.0,100.0 971.7,105.0 973.4,110.0 975.1,115.0 976.9,120.0 978.6,125.0 980.5,130.0 982.3,135.0 984.2,140.0 986.1,145.0 988.0,150.0 990.0,155.0 992.0,160.0 994.1,165.0 996.2,170.0 998.4,175.0 1000.5,180.0 1002.7,185.0 1004.8,190.0 1006.9,195.0 1009.0,200.0 1011.0,205.0 1013.0,210.0 1015.0,215.0 1016.9,220.0 1018.8,225.0 1020.8,230.0 1022.7,235.0 1024.7,240.0 1026.7,245.0 1028.7,250.0 1030.8,255.0 1032.9,260.0 1035.1,265.0 1037.3,270.0 1039.5,275.0 1041.7,280.0 1043.9,285.0 1046.0,290.0 1048.0,295.0 1050.0,300.0 1051.9,305.0 1053.6,310.0 1055.3,315.0 1057.0,320.0 1058.6,325.0 1060.3,330.0 1061.9,335.0 1063.6,340.0 1065.4,345.0 1067.3,350.0 1069.3,355.0 1071.3,360.0 1073.5,365.0 1075.6,370.0 1077.8,375.0 1080.1,380.0 1082.3,385.0 1084.6,390.0 1086.8,395.0 1089.0,400.0 1091.2,405.0 1093.4,410.0 1095.6,415.0 1097.8,420.0 1100.0,425.0 1102.3,430.0 1104.5,435.0 1106.7,440.0 1109.0,445.0 1111.3,450.0 1113.6,455.0 1115.9,459.9 1118.1,464.8 1120.4,469.7 1122.7,474.6 1125.0,479.5 1127.4,484.5 1129.9,489.6 1132.4,494.7 1135.0,500.0 1137.7,505.4 1140.5,511.0 1143.4,516.6 1146.4,522.3 1149.4,528.1 1152.4,533.9 1155.5,539.7 1158.5,545.5 1161.5,551.3 1164.5,557.0" fill="none" stroke="#151215" stroke-width="3"/>
<rect x="0" y="0" width="1200" height="1.5" fill="#fff" opacity="0.7"/>
<rect x="0" y="555.6" width="1200" height="8" fill="#fff"/>
<text x="5.1" y="197" textLength="158.9" lengthAdjust="spacingAndGlyphs">Catheter</text><text x="42.9" y="293.9" textLength="181.7" lengthAdjust="spacingAndGlyphs">Atheroma</text><text x="148.9" y="375" textLength="95.1" lengthAdjust="spacingAndGlyphs">Stent</text><text x="364.8" y="599.2" textLength="157.0" lengthAdjust="spacingAndGlyphs">Deflated</text><text x="378.5" y="645.8" textLength="139.7" lengthAdjust="spacingAndGlyphs">balloon</text><text x="340.8" y="692.4" textLength="215.6" lengthAdjust="spacingAndGlyphs">surrounded</text><text x="378.6" y="739.3" textLength="146.4" lengthAdjust="spacingAndGlyphs">by stent</text><text x="691.5" y="599.5" textLength="141.7" lengthAdjust="spacingAndGlyphs">Inflated</text><text x="693.2" y="645.8" textLength="140.2" lengthAdjust="spacingAndGlyphs">balloon</text><text x="655.8" y="692.4" textLength="215.6" lengthAdjust="spacingAndGlyphs">surrounded</text><text x="693.6" y="739.3" textLength="146.4" lengthAdjust="spacingAndGlyphs">by stent</text><text x="1021.2" y="601.75" textLength="141.0" lengthAdjust="spacingAndGlyphs">Stent in</text><text x="999.4" y="647.6" textLength="188.2" lengthAdjust="spacingAndGlyphs">place with</text><text x="1022.6" y="694.6" textLength="140.6" lengthAdjust="spacingAndGlyphs">balloon</text><text x="1011.0" y="741.3" textLength="163.8" lengthAdjust="spacingAndGlyphs">removed</text><path d="M183,186 L257,94.5 M239,284.5 L284.3,239.3 M261.4,360 L319.7,299.5" stroke="#111" stroke-width="2.4" fill="none"/>
</svg>
</body></html>
